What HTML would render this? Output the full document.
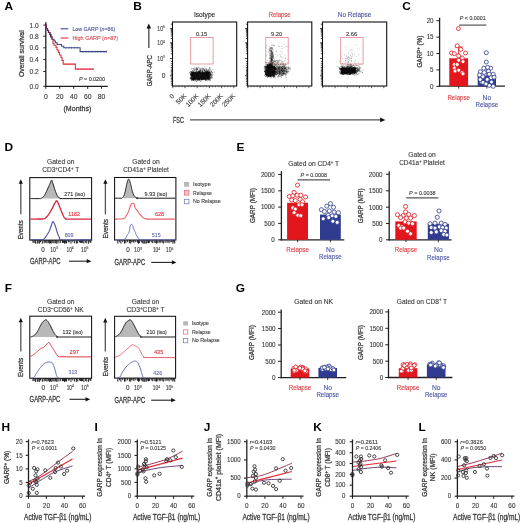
<!DOCTYPE html>
<html><head><meta charset="utf-8"><style>
html,body{margin:0;padding:0;background:#fff;}
svg{display:block;filter:blur(0.35px);}
text{font-family:"Liberation Sans", sans-serif;}
</style></head><body>
<svg width="520" height="523" viewBox="0 0 520 523" font-family='&quot;Liberation Sans&quot;, sans-serif' fill="#231f20">
<defs><filter id="bl" x="-20%" y="-20%" width="140%" height="140%"><feGaussianBlur stdDeviation="0.6"/></filter></defs>
<rect width="520" height="523" fill="#fff"/>
<text x="4.6" y="9.7" font-size="11" fill="#000" font-weight="bold" textLength="8.58" lengthAdjust="spacingAndGlyphs">A</text>
<line x1="45.8" y1="22.3" x2="45.8" y2="86.9" stroke="#231f20" stroke-width="1.3"/>
<line x1="45.2" y1="86.3" x2="107.8" y2="86.3" stroke="#231f20" stroke-width="1.3"/>
<line x1="43.3" y1="25.1" x2="45.8" y2="25.1" stroke="#231f20" stroke-width="1"/>
<text x="38.7" y="27.51" font-size="6.8" text-anchor="end" fill="#3a3a3a" stroke="#3a3a3a" stroke-width="0.12" textLength="9.1" lengthAdjust="spacingAndGlyphs">1.0</text>
<line x1="43.3" y1="36.2" x2="45.8" y2="36.2" stroke="#231f20" stroke-width="1"/>
<text x="38.7" y="38.61" font-size="6.8" text-anchor="end" fill="#3a3a3a" stroke="#3a3a3a" stroke-width="0.12" textLength="9.1" lengthAdjust="spacingAndGlyphs">0.8</text>
<line x1="43.3" y1="47.8" x2="45.8" y2="47.8" stroke="#231f20" stroke-width="1"/>
<text x="38.7" y="50.21" font-size="6.8" text-anchor="end" fill="#3a3a3a" stroke="#3a3a3a" stroke-width="0.12" textLength="9.1" lengthAdjust="spacingAndGlyphs">0.6</text>
<line x1="43.3" y1="59.5" x2="45.8" y2="59.5" stroke="#231f20" stroke-width="1"/>
<text x="38.7" y="61.91" font-size="6.8" text-anchor="end" fill="#3a3a3a" stroke="#3a3a3a" stroke-width="0.12" textLength="9.1" lengthAdjust="spacingAndGlyphs">0.4</text>
<line x1="43.3" y1="71.5" x2="45.8" y2="71.5" stroke="#231f20" stroke-width="1"/>
<text x="38.7" y="73.91" font-size="6.8" text-anchor="end" fill="#3a3a3a" stroke="#3a3a3a" stroke-width="0.12" textLength="9.1" lengthAdjust="spacingAndGlyphs">0.2</text>
<line x1="43.3" y1="86.3" x2="45.8" y2="86.3" stroke="#231f20" stroke-width="1"/>
<text x="38.7" y="88.71" font-size="6.8" text-anchor="end" fill="#3a3a3a" stroke="#3a3a3a" stroke-width="0.12" textLength="9.1" lengthAdjust="spacingAndGlyphs">0.0</text>
<line x1="45.8" y1="86.3" x2="45.8" y2="88.8" stroke="#231f20" stroke-width="1"/>
<text x="45.8" y="98.81" font-size="6.8" text-anchor="middle" fill="#3a3a3a" stroke="#3a3a3a" stroke-width="0.12">0</text>
<line x1="59.7" y1="86.3" x2="59.7" y2="88.8" stroke="#231f20" stroke-width="1"/>
<text x="59.7" y="98.81" font-size="6.8" text-anchor="middle" fill="#3a3a3a" stroke="#3a3a3a" stroke-width="0.12">20</text>
<line x1="73.7" y1="86.3" x2="73.7" y2="88.8" stroke="#231f20" stroke-width="1"/>
<text x="73.7" y="98.81" font-size="6.8" text-anchor="middle" fill="#3a3a3a" stroke="#3a3a3a" stroke-width="0.12">40</text>
<line x1="87.7" y1="86.3" x2="87.7" y2="88.8" stroke="#231f20" stroke-width="1"/>
<text x="87.7" y="98.81" font-size="6.8" text-anchor="middle" fill="#3a3a3a" stroke="#3a3a3a" stroke-width="0.12">60</text>
<line x1="101.6" y1="86.3" x2="101.6" y2="88.8" stroke="#231f20" stroke-width="1"/>
<text x="101.6" y="98.81" font-size="6.8" text-anchor="middle" fill="#3a3a3a" stroke="#3a3a3a" stroke-width="0.12">80</text>
<text x="21.1" y="56.5" font-size="7.9" text-anchor="middle" fill="#3a3a3a" stroke="#3a3a3a" stroke-width="0.28" textLength="46.8" lengthAdjust="spacingAndGlyphs" transform="rotate(-90 21.1 53.7)">Overall survival</text>
<text x="77.4" y="111.1" font-size="7.9" text-anchor="middle" fill="#3a3a3a" stroke="#3a3a3a" stroke-width="0.28" textLength="27.8" lengthAdjust="spacingAndGlyphs">(Months)</text>
<path d="M45.8 25.1 L46.3 25.1 L46.3 28.5 L47.5 28.5 L47.5 30.5 L48.5 30.5 L48.5 32.5 L49.8 32.5 L49.8 34.5 L50.8 34.5 L50.8 36.8 L52 36.8 L52 39.5 L53 39.5 L53 43.5 L54 43.5 L54 45.3 L56 45.3 L56 47.5 L57 47.5 L57 50 L58.3 50 L58.3 52.5 L59.5 52.5 L59.5 55 L61 55 L61 57.5 L62 57.5 L62 60.5 L63.2 60.5 L63.2 64.1 L75.4 64.1 L75.4 69.1 L93.8 69.1" fill="none" stroke="#e2303f" stroke-width="1.1"/>
<path d="M45.8 25.1 L46.3 25.1 L46.3 28.5 L47.5 28.5 L47.5 30.5 L48.5 30.5 L48.5 32.5 L49.8 32.5 L49.8 34.5 L50.8 34.5 L50.8 36.8 L52 36.8 L52 39.2 L54 39.2 L54 41 L55.5 41 L55.5 42.8 L57.2 42.8 L57.2 44.5 L61.5 44.5 L61.5 46.2 L63.8 46.2 L63.8 47.8 L80.1 47.8 L80.1 51.6 L106.9 51.6" fill="none" stroke="#3e4a8a" stroke-width="1.1"/>
<path d="M45.8 25.1 L46.3 25.1 L46.3 28.5 L47.5 28.5 L47.5 30.5 L48.5 30.5 L48.5 32.5 L49.8 32.5 L49.8 34.5 L50.8 34.5 L50.8 36.8 L52 36.8" fill="none" stroke="#6e2548" stroke-width="1.2"/>
<line x1="66" y1="46.8" x2="66" y2="48.8" stroke="#3e4a8a" stroke-width="0.6"/>
<line x1="69" y1="46.8" x2="69" y2="48.8" stroke="#3e4a8a" stroke-width="0.6"/>
<line x1="71.5" y1="46.8" x2="71.5" y2="48.8" stroke="#3e4a8a" stroke-width="0.6"/>
<line x1="74" y1="46.8" x2="74" y2="48.8" stroke="#3e4a8a" stroke-width="0.6"/>
<line x1="77" y1="46.8" x2="77" y2="48.8" stroke="#3e4a8a" stroke-width="0.6"/>
<line x1="83" y1="50.6" x2="83" y2="52.6" stroke="#3e4a8a" stroke-width="0.6"/>
<line x1="86" y1="50.6" x2="86" y2="52.6" stroke="#3e4a8a" stroke-width="0.6"/>
<line x1="89" y1="50.6" x2="89" y2="52.6" stroke="#3e4a8a" stroke-width="0.6"/>
<line x1="92" y1="50.6" x2="92" y2="52.6" stroke="#3e4a8a" stroke-width="0.6"/>
<line x1="95" y1="50.6" x2="95" y2="52.6" stroke="#3e4a8a" stroke-width="0.6"/>
<line x1="98" y1="50.6" x2="98" y2="52.6" stroke="#3e4a8a" stroke-width="0.6"/>
<line x1="101" y1="50.6" x2="101" y2="52.6" stroke="#3e4a8a" stroke-width="0.6"/>
<line x1="104" y1="50.6" x2="104" y2="52.6" stroke="#3e4a8a" stroke-width="0.6"/>
<line x1="106.5" y1="50.6" x2="106.5" y2="52.6" stroke="#3e4a8a" stroke-width="0.6"/>
<line x1="66" y1="63.1" x2="66" y2="65.1" stroke="#e2303f" stroke-width="0.6"/>
<line x1="69" y1="63.1" x2="69" y2="65.1" stroke="#e2303f" stroke-width="0.6"/>
<line x1="72" y1="63.1" x2="72" y2="65.1" stroke="#e2303f" stroke-width="0.6"/>
<line x1="78" y1="68.1" x2="78" y2="70.1" stroke="#e2303f" stroke-width="0.6"/>
<line x1="81" y1="68.1" x2="81" y2="70.1" stroke="#e2303f" stroke-width="0.6"/>
<line x1="84" y1="68.1" x2="84" y2="70.1" stroke="#e2303f" stroke-width="0.6"/>
<line x1="87" y1="68.1" x2="87" y2="70.1" stroke="#e2303f" stroke-width="0.6"/>
<line x1="90" y1="68.1" x2="90" y2="70.1" stroke="#e2303f" stroke-width="0.6"/>
<line x1="93" y1="68.1" x2="93" y2="70.1" stroke="#e2303f" stroke-width="0.6"/>
<line x1="60.6" y1="28.8" x2="68.3" y2="28.8" stroke="#3e4a8a" stroke-width="1.1"/>
<line x1="60.6" y1="38" x2="68.3" y2="38" stroke="#e2303f" stroke-width="1.1"/>
<text x="72.4" y="31.19" font-size="5.9" fill="#4a5596" stroke="#4a5596" stroke-width="0.12" textLength="42.8" lengthAdjust="spacingAndGlyphs">Low GARP (<tspan font-style="italic">n</tspan>=86)</text>
<text x="72.4" y="40.39" font-size="5.9" fill="#e0454f" stroke="#e0454f" stroke-width="0.12" textLength="45.7" lengthAdjust="spacingAndGlyphs">High GARP (<tspan font-style="italic">n</tspan>=87)</text>
<text x="78.9" y="80.92" font-size="5.4" fill="#3a3a3a" stroke="#3a3a3a" stroke-width="0.12" textLength="26.2" lengthAdjust="spacingAndGlyphs"><tspan font-style="italic">P</tspan> = 0.0200</text>
<text x="133.3" y="9.7" font-size="11" fill="#000" font-weight="bold" textLength="8.58" lengthAdjust="spacingAndGlyphs">B</text>
<rect x="172.5" y="22" width="64.2" height="64" fill="none" stroke="#111" stroke-width="1.1"/>
<text x="204.6" y="16.89" font-size="7" text-anchor="middle" stroke="#231f20" stroke-width="0.12" textLength="21.3" lengthAdjust="spacingAndGlyphs">Isotype</text>
<rect x="190.7" y="37.5" width="22.4" height="26.5" fill="none" stroke="#e8848c" stroke-width="0.8"/>
<text x="201.5" y="35.58" font-size="5.3" text-anchor="middle" fill="#3a3a3a" stroke="#3a3a3a" stroke-width="0.12" textLength="11.2" lengthAdjust="spacingAndGlyphs">0.15</text>
<path d="M169.9 28.5h2.6M169.9 42.8h2.6M169.9 58.5h2.6M169.9 75.7h2.6M170.8 38.5h1.7M170.8 35.98h1.7M170.8 34.19h1.7M170.8 32.8h1.7M170.8 31.67h1.7M170.8 30.72h1.7M170.8 29.89h1.7M170.8 29.15h1.7M170.8 53.77h1.7M170.8 51.01h1.7M170.8 49.05h1.7M170.8 47.53h1.7M170.8 46.28h1.7M170.8 45.23h1.7M170.8 44.32h1.7M170.8 43.52h1.7M170.8 24.2h1.7M170.8 61.5h1.7M170.8 63.8h1.7M170.8 65.8h1.7M170.8 67.5h1.7M170.8 69h1.7M170.8 70.4h1.7M170.8 71.7h1.7M170.8 73h1.7M170.8 74.3h1.7M170.8 77h1.7M170.8 78.4h1.7M170.8 79.8h1.7M170.8 81.4h1.7M170.8 83.2h1.7M170.8 85h1.7" stroke="#111" stroke-width="0.75"/>
<line x1="172.8" y1="86" x2="172.8" y2="88.2" stroke="#231f20" stroke-width="0.8"/>
<line x1="175.85" y1="86" x2="175.85" y2="87.3" stroke="#231f20" stroke-width="0.5"/>
<line x1="178.9" y1="86" x2="178.9" y2="87.3" stroke="#231f20" stroke-width="0.5"/>
<line x1="181.95" y1="86" x2="181.95" y2="87.3" stroke="#231f20" stroke-width="0.5"/>
<line x1="185" y1="86" x2="185" y2="88.2" stroke="#231f20" stroke-width="0.8"/>
<line x1="188.05" y1="86" x2="188.05" y2="87.3" stroke="#231f20" stroke-width="0.5"/>
<line x1="191.1" y1="86" x2="191.1" y2="87.3" stroke="#231f20" stroke-width="0.5"/>
<line x1="194.15" y1="86" x2="194.15" y2="87.3" stroke="#231f20" stroke-width="0.5"/>
<line x1="197.2" y1="86" x2="197.2" y2="88.2" stroke="#231f20" stroke-width="0.8"/>
<line x1="200.25" y1="86" x2="200.25" y2="87.3" stroke="#231f20" stroke-width="0.5"/>
<line x1="203.3" y1="86" x2="203.3" y2="87.3" stroke="#231f20" stroke-width="0.5"/>
<line x1="206.35" y1="86" x2="206.35" y2="87.3" stroke="#231f20" stroke-width="0.5"/>
<line x1="209.4" y1="86" x2="209.4" y2="88.2" stroke="#231f20" stroke-width="0.8"/>
<line x1="212.45" y1="86" x2="212.45" y2="87.3" stroke="#231f20" stroke-width="0.5"/>
<line x1="215.5" y1="86" x2="215.5" y2="87.3" stroke="#231f20" stroke-width="0.5"/>
<line x1="218.55" y1="86" x2="218.55" y2="87.3" stroke="#231f20" stroke-width="0.5"/>
<line x1="221.6" y1="86" x2="221.6" y2="88.2" stroke="#231f20" stroke-width="0.8"/>
<line x1="224.65" y1="86" x2="224.65" y2="87.3" stroke="#231f20" stroke-width="0.5"/>
<line x1="227.7" y1="86" x2="227.7" y2="87.3" stroke="#231f20" stroke-width="0.5"/>
<line x1="230.75" y1="86" x2="230.75" y2="87.3" stroke="#231f20" stroke-width="0.5"/>
<line x1="233.8" y1="86" x2="233.8" y2="88.2" stroke="#231f20" stroke-width="0.8"/>
<rect x="247.6" y="22" width="64.2" height="64" fill="none" stroke="#111" stroke-width="1.1"/>
<text x="279.7" y="16.89" font-size="7" text-anchor="middle" fill="#e03a3e" stroke="#e03a3e" stroke-width="0.12" textLength="22" lengthAdjust="spacingAndGlyphs">Relapse</text>
<rect x="265.8" y="37.5" width="22.4" height="26.5" fill="none" stroke="#e8848c" stroke-width="0.8"/>
<text x="276.6" y="35.58" font-size="5.3" text-anchor="middle" fill="#3a3a3a" stroke="#3a3a3a" stroke-width="0.12" textLength="11.2" lengthAdjust="spacingAndGlyphs">9.20</text>
<path d="M245 28.5h2.6M245 42.8h2.6M245 58.5h2.6M245 75.7h2.6M245.9 38.5h1.7M245.9 35.98h1.7M245.9 34.19h1.7M245.9 32.8h1.7M245.9 31.67h1.7M245.9 30.72h1.7M245.9 29.89h1.7M245.9 29.15h1.7M245.9 53.77h1.7M245.9 51.01h1.7M245.9 49.05h1.7M245.9 47.53h1.7M245.9 46.28h1.7M245.9 45.23h1.7M245.9 44.32h1.7M245.9 43.52h1.7M245.9 24.2h1.7M245.9 61.5h1.7M245.9 63.8h1.7M245.9 65.8h1.7M245.9 67.5h1.7M245.9 69h1.7M245.9 70.4h1.7M245.9 71.7h1.7M245.9 73h1.7M245.9 74.3h1.7M245.9 77h1.7M245.9 78.4h1.7M245.9 79.8h1.7M245.9 81.4h1.7M245.9 83.2h1.7M245.9 85h1.7" stroke="#111" stroke-width="0.75"/>
<line x1="247.9" y1="86" x2="247.9" y2="88.2" stroke="#231f20" stroke-width="0.8"/>
<line x1="250.95" y1="86" x2="250.95" y2="87.3" stroke="#231f20" stroke-width="0.5"/>
<line x1="254" y1="86" x2="254" y2="87.3" stroke="#231f20" stroke-width="0.5"/>
<line x1="257.05" y1="86" x2="257.05" y2="87.3" stroke="#231f20" stroke-width="0.5"/>
<line x1="260.1" y1="86" x2="260.1" y2="88.2" stroke="#231f20" stroke-width="0.8"/>
<line x1="263.15" y1="86" x2="263.15" y2="87.3" stroke="#231f20" stroke-width="0.5"/>
<line x1="266.2" y1="86" x2="266.2" y2="87.3" stroke="#231f20" stroke-width="0.5"/>
<line x1="269.25" y1="86" x2="269.25" y2="87.3" stroke="#231f20" stroke-width="0.5"/>
<line x1="272.3" y1="86" x2="272.3" y2="88.2" stroke="#231f20" stroke-width="0.8"/>
<line x1="275.35" y1="86" x2="275.35" y2="87.3" stroke="#231f20" stroke-width="0.5"/>
<line x1="278.4" y1="86" x2="278.4" y2="87.3" stroke="#231f20" stroke-width="0.5"/>
<line x1="281.45" y1="86" x2="281.45" y2="87.3" stroke="#231f20" stroke-width="0.5"/>
<line x1="284.5" y1="86" x2="284.5" y2="88.2" stroke="#231f20" stroke-width="0.8"/>
<line x1="287.55" y1="86" x2="287.55" y2="87.3" stroke="#231f20" stroke-width="0.5"/>
<line x1="290.6" y1="86" x2="290.6" y2="87.3" stroke="#231f20" stroke-width="0.5"/>
<line x1="293.65" y1="86" x2="293.65" y2="87.3" stroke="#231f20" stroke-width="0.5"/>
<line x1="296.7" y1="86" x2="296.7" y2="88.2" stroke="#231f20" stroke-width="0.8"/>
<line x1="299.75" y1="86" x2="299.75" y2="87.3" stroke="#231f20" stroke-width="0.5"/>
<line x1="302.8" y1="86" x2="302.8" y2="87.3" stroke="#231f20" stroke-width="0.5"/>
<line x1="305.85" y1="86" x2="305.85" y2="87.3" stroke="#231f20" stroke-width="0.5"/>
<line x1="308.9" y1="86" x2="308.9" y2="88.2" stroke="#231f20" stroke-width="0.8"/>
<rect x="322.5" y="22" width="64.2" height="64" fill="none" stroke="#111" stroke-width="1.1"/>
<text x="354.6" y="16.89" font-size="7" text-anchor="middle" fill="#4a55a2" stroke="#4a55a2" stroke-width="0.12" textLength="33.5" lengthAdjust="spacingAndGlyphs">No Relapse</text>
<rect x="340.7" y="37.5" width="22.4" height="26.5" fill="none" stroke="#e8848c" stroke-width="0.8"/>
<text x="351.5" y="35.58" font-size="5.3" text-anchor="middle" fill="#3a3a3a" stroke="#3a3a3a" stroke-width="0.12" textLength="11.2" lengthAdjust="spacingAndGlyphs">2.66</text>
<path d="M319.9 28.5h2.6M319.9 42.8h2.6M319.9 58.5h2.6M319.9 75.7h2.6M320.8 38.5h1.7M320.8 35.98h1.7M320.8 34.19h1.7M320.8 32.8h1.7M320.8 31.67h1.7M320.8 30.72h1.7M320.8 29.89h1.7M320.8 29.15h1.7M320.8 53.77h1.7M320.8 51.01h1.7M320.8 49.05h1.7M320.8 47.53h1.7M320.8 46.28h1.7M320.8 45.23h1.7M320.8 44.32h1.7M320.8 43.52h1.7M320.8 24.2h1.7M320.8 61.5h1.7M320.8 63.8h1.7M320.8 65.8h1.7M320.8 67.5h1.7M320.8 69h1.7M320.8 70.4h1.7M320.8 71.7h1.7M320.8 73h1.7M320.8 74.3h1.7M320.8 77h1.7M320.8 78.4h1.7M320.8 79.8h1.7M320.8 81.4h1.7M320.8 83.2h1.7M320.8 85h1.7" stroke="#111" stroke-width="0.75"/>
<line x1="322.8" y1="86" x2="322.8" y2="88.2" stroke="#231f20" stroke-width="0.8"/>
<line x1="325.85" y1="86" x2="325.85" y2="87.3" stroke="#231f20" stroke-width="0.5"/>
<line x1="328.9" y1="86" x2="328.9" y2="87.3" stroke="#231f20" stroke-width="0.5"/>
<line x1="331.95" y1="86" x2="331.95" y2="87.3" stroke="#231f20" stroke-width="0.5"/>
<line x1="335" y1="86" x2="335" y2="88.2" stroke="#231f20" stroke-width="0.8"/>
<line x1="338.05" y1="86" x2="338.05" y2="87.3" stroke="#231f20" stroke-width="0.5"/>
<line x1="341.1" y1="86" x2="341.1" y2="87.3" stroke="#231f20" stroke-width="0.5"/>
<line x1="344.15" y1="86" x2="344.15" y2="87.3" stroke="#231f20" stroke-width="0.5"/>
<line x1="347.2" y1="86" x2="347.2" y2="88.2" stroke="#231f20" stroke-width="0.8"/>
<line x1="350.25" y1="86" x2="350.25" y2="87.3" stroke="#231f20" stroke-width="0.5"/>
<line x1="353.3" y1="86" x2="353.3" y2="87.3" stroke="#231f20" stroke-width="0.5"/>
<line x1="356.35" y1="86" x2="356.35" y2="87.3" stroke="#231f20" stroke-width="0.5"/>
<line x1="359.4" y1="86" x2="359.4" y2="88.2" stroke="#231f20" stroke-width="0.8"/>
<line x1="362.45" y1="86" x2="362.45" y2="87.3" stroke="#231f20" stroke-width="0.5"/>
<line x1="365.5" y1="86" x2="365.5" y2="87.3" stroke="#231f20" stroke-width="0.5"/>
<line x1="368.55" y1="86" x2="368.55" y2="87.3" stroke="#231f20" stroke-width="0.5"/>
<line x1="371.6" y1="86" x2="371.6" y2="88.2" stroke="#231f20" stroke-width="0.8"/>
<line x1="374.65" y1="86" x2="374.65" y2="87.3" stroke="#231f20" stroke-width="0.5"/>
<line x1="377.7" y1="86" x2="377.7" y2="87.3" stroke="#231f20" stroke-width="0.5"/>
<line x1="380.75" y1="86" x2="380.75" y2="87.3" stroke="#231f20" stroke-width="0.5"/>
<line x1="383.8" y1="86" x2="383.8" y2="88.2" stroke="#231f20" stroke-width="0.8"/>
<text x="164.9" y="30.85" font-size="6.9" text-anchor="end" fill="#3a3a3a" stroke="#3a3a3a" stroke-width="0.12" textLength="7.6" lengthAdjust="spacingAndGlyphs">10<tspan dy="-2.4" font-size="4.4">5</tspan></text>
<text x="164.9" y="45.25" font-size="6.9" text-anchor="end" fill="#3a3a3a" stroke="#3a3a3a" stroke-width="0.12" textLength="7.6" lengthAdjust="spacingAndGlyphs">10<tspan dy="-2.4" font-size="4.4">4</tspan></text>
<text x="164.9" y="60.75" font-size="6.9" text-anchor="end" fill="#3a3a3a" stroke="#3a3a3a" stroke-width="0.12" textLength="7.6" lengthAdjust="spacingAndGlyphs">10<tspan dy="-2.4" font-size="4.4">3</tspan></text>
<text x="165.3" y="77.94" font-size="6.6" text-anchor="end" fill="#3a3a3a" stroke="#3a3a3a" stroke-width="0.12">0</text>
<text x="173" y="97.14" font-size="6.6" text-anchor="end" fill="#3a3a3a" stroke="#3a3a3a" stroke-width="0.12" transform="rotate(-45 173 94.8)">0</text>
<text x="185.2" y="97.14" font-size="6.6" text-anchor="end" fill="#3a3a3a" stroke="#3a3a3a" stroke-width="0.12" transform="rotate(-45 185.2 94.8)">50K</text>
<text x="197.4" y="97.14" font-size="6.6" text-anchor="end" fill="#3a3a3a" stroke="#3a3a3a" stroke-width="0.12" transform="rotate(-45 197.4 94.8)">100K</text>
<text x="209.6" y="97.14" font-size="6.6" text-anchor="end" fill="#3a3a3a" stroke="#3a3a3a" stroke-width="0.12" transform="rotate(-45 209.6 94.8)">150K</text>
<text x="221.8" y="97.14" font-size="6.6" text-anchor="end" fill="#3a3a3a" stroke="#3a3a3a" stroke-width="0.12" transform="rotate(-45 221.8 94.8)">200K</text>
<text x="234" y="97.14" font-size="6.6" text-anchor="end" fill="#3a3a3a" stroke="#3a3a3a" stroke-width="0.12" transform="rotate(-45 234 94.8)">250K</text>
<text x="148.9" y="73.36" font-size="7.5" text-anchor="middle" fill="#3a3a3a" stroke="#3a3a3a" stroke-width="0.28" textLength="31.2" lengthAdjust="spacingAndGlyphs" transform="rotate(-90 148.9 70.7)">GARP-APC</text>
<line x1="148.8" y1="48.1" x2="148.8" y2="26.7" stroke="#555" stroke-width="1.4"/>
<path d="M148.8 23.5L146.5 28.62L151.1 28.62z" fill="#111"/>
<text x="172.9" y="123.02" font-size="8.8" fill="#3a3a3a" stroke="#3a3a3a" stroke-width="0.28" textLength="11" lengthAdjust="spacingAndGlyphs">FSC</text>
<line x1="190" y1="119.9" x2="382.1" y2="119.9" stroke="#555" stroke-width="1.4"/>
<path d="M385.4 119.9L380.12 117.52L380.12 122.28z" fill="#111"/>
<path d="M197.59 73.26h0.9v0.9h-0.9zM203.41 74.32h0.9v0.9h-0.9zM201.15 73.39h0.9v0.9h-0.9zM203.53 74.83h0.9v0.9h-0.9zM199.78 79.02h0.9v0.9h-0.9zM194.26 77.52h0.9v0.9h-0.9zM199.15 71.55h0.9v0.9h-0.9zM199.28 71.38h0.9v0.9h-0.9zM197.14 72.89h0.9v0.9h-0.9zM199.01 72.57h0.9v0.9h-0.9zM206.31 73.85h0.9v0.9h-0.9zM194.24 71.93h0.9v0.9h-0.9zM194.9 79.36h0.9v0.9h-0.9zM197.74 72.62h0.9v0.9h-0.9zM196.85 71.77h0.9v0.9h-0.9zM195.25 78.56h0.9v0.9h-0.9zM191.24 74.74h0.9v0.9h-0.9zM201.24 73.23h0.9v0.9h-0.9zM202.69 72.25h0.9v0.9h-0.9zM207.51 78.54h0.9v0.9h-0.9zM200.81 74.24h0.9v0.9h-0.9zM200.01 72.88h0.9v0.9h-0.9zM192.71 77.78h0.9v0.9h-0.9zM196.1 75.16h0.9v0.9h-0.9zM204.78 78.2h0.9v0.9h-0.9zM192.23 72.36h0.9v0.9h-0.9zM207.86 78.58h0.9v0.9h-0.9zM192.51 73.57h0.9v0.9h-0.9zM192.76 74.87h0.9v0.9h-0.9zM195.61 74.48h0.9v0.9h-0.9zM204.21 74.14h0.9v0.9h-0.9zM203.02 73.84h0.9v0.9h-0.9zM200.8 74.38h0.9v0.9h-0.9zM191.35 72.46h0.9v0.9h-0.9zM193.1 78.43h0.9v0.9h-0.9zM196.84 72.43h0.9v0.9h-0.9zM204.19 74.77h0.9v0.9h-0.9zM196.19 71.49h0.9v0.9h-0.9zM199.48 72.86h0.9v0.9h-0.9zM191.71 74.77h0.9v0.9h-0.9zM191.1 73.56h0.9v0.9h-0.9zM207.72 76.17h0.9v0.9h-0.9zM194.01 76.41h0.9v0.9h-0.9zM208.07 71.3h0.9v0.9h-0.9zM205.27 72.33h0.9v0.9h-0.9zM203.46 74.49h0.9v0.9h-0.9zM195.71 71.51h0.9v0.9h-0.9zM198.15 73.58h0.9v0.9h-0.9zM193.5 74.34h0.9v0.9h-0.9zM206.06 70.55h0.9v0.9h-0.9zM205.99 73.08h0.9v0.9h-0.9zM207.61 72.36h0.9v0.9h-0.9zM205.82 75.48h0.9v0.9h-0.9zM203.98 70.52h0.9v0.9h-0.9zM205.93 77.6h0.9v0.9h-0.9zM190.57 74.2h0.9v0.9h-0.9zM198.22 79.33h0.9v0.9h-0.9zM199.02 77.42h0.9v0.9h-0.9zM200.77 75.16h0.9v0.9h-0.9zM206.69 74.59h0.9v0.9h-0.9zM190.34 71.56h0.9v0.9h-0.9zM190.66 72.86h0.9v0.9h-0.9zM203.73 78.04h0.9v0.9h-0.9zM201.78 72.51h0.9v0.9h-0.9zM194.66 75.04h0.9v0.9h-0.9zM205.6 77.8h0.9v0.9h-0.9zM205.97 74.07h0.9v0.9h-0.9zM193.56 73.11h0.9v0.9h-0.9zM195.62 76.68h0.9v0.9h-0.9zM195.69 75.49h0.9v0.9h-0.9zM205.99 74.57h0.9v0.9h-0.9zM195.97 77.37h0.9v0.9h-0.9zM207.54 73.56h0.9v0.9h-0.9zM200.19 76.93h0.9v0.9h-0.9zM197.34 72.25h0.9v0.9h-0.9zM207.86 73.15h0.9v0.9h-0.9zM196.58 73.72h0.9v0.9h-0.9zM196.93 72.41h0.9v0.9h-0.9zM193.49 77.81h0.9v0.9h-0.9zM201.74 75.28h0.9v0.9h-0.9zM200.61 75.12h0.9v0.9h-0.9zM206.98 74.49h0.9v0.9h-0.9zM193.24 74.48h0.9v0.9h-0.9zM202.21 75.13h0.9v0.9h-0.9zM204.39 75.2h0.9v0.9h-0.9zM201.05 79.14h0.9v0.9h-0.9zM191.82 76.51h0.9v0.9h-0.9zM198.07 74.9h0.9v0.9h-0.9zM198.17 77.8h0.9v0.9h-0.9zM202.07 75.43h0.9v0.9h-0.9zM197.85 73.52h0.9v0.9h-0.9zM202.81 73.2h0.9v0.9h-0.9zM205.5 76.34h0.9v0.9h-0.9zM198.72 78.02h0.9v0.9h-0.9zM190.46 77.74h0.9v0.9h-0.9zM200.54 74.39h0.9v0.9h-0.9zM196.65 76.64h0.9v0.9h-0.9zM203.32 74.5h0.9v0.9h-0.9zM206.07 73.86h0.9v0.9h-0.9zM192.91 76.93h0.9v0.9h-0.9zM193.82 76.73h0.9v0.9h-0.9zM204.74 71.39h0.9v0.9h-0.9zM196.53 77.52h0.9v0.9h-0.9zM198.43 75.57h0.9v0.9h-0.9zM199.38 76.23h0.9v0.9h-0.9zM206.4 73h0.9v0.9h-0.9zM201.48 72.48h0.9v0.9h-0.9zM199.09 72.91h0.9v0.9h-0.9zM205.85 75.18h0.9v0.9h-0.9zM206.41 71.93h0.9v0.9h-0.9zM193.83 75.71h0.9v0.9h-0.9zM208.67 71.28h0.9v0.9h-0.9zM192.59 73.25h0.9v0.9h-0.9zM206.98 74.74h0.9v0.9h-0.9zM203.37 77.92h0.9v0.9h-0.9zM193.08 72.59h0.9v0.9h-0.9zM203.4 74.05h0.9v0.9h-0.9zM194.42 71.97h0.9v0.9h-0.9zM202.98 72.9h0.9v0.9h-0.9zM198.06 76.74h0.9v0.9h-0.9zM193.66 73.94h0.9v0.9h-0.9zM203.64 76.26h0.9v0.9h-0.9zM199.09 78.81h0.9v0.9h-0.9zM204.63 74.72h0.9v0.9h-0.9zM201.66 73.04h0.9v0.9h-0.9zM202.41 74.97h0.9v0.9h-0.9zM207.5 75.1h0.9v0.9h-0.9zM200.91 76.48h0.9v0.9h-0.9zM206.6 76.36h0.9v0.9h-0.9zM193.32 79.12h0.9v0.9h-0.9zM204.61 71h0.9v0.9h-0.9zM197.75 74.24h0.9v0.9h-0.9zM203.19 75.08h0.9v0.9h-0.9zM201.78 75.51h0.9v0.9h-0.9zM203.03 73.89h0.9v0.9h-0.9zM206.49 77.55h0.9v0.9h-0.9zM203.35 77.69h0.9v0.9h-0.9zM201.74 74.74h0.9v0.9h-0.9zM204.24 75.49h0.9v0.9h-0.9zM198.42 71.7h0.9v0.9h-0.9zM204.07 78.78h0.9v0.9h-0.9zM198.68 77.91h0.9v0.9h-0.9zM206.71 78.44h0.9v0.9h-0.9zM203.59 77.74h0.9v0.9h-0.9zM200.88 73.16h0.9v0.9h-0.9zM193.12 74.07h0.9v0.9h-0.9zM203.6 75.88h0.9v0.9h-0.9zM191.23 74.15h0.9v0.9h-0.9zM206.16 73.4h0.9v0.9h-0.9zM206.19 77.63h0.9v0.9h-0.9zM203.89 75.15h0.9v0.9h-0.9zM195.34 75.97h0.9v0.9h-0.9zM200.29 78.11h0.9v0.9h-0.9zM197.7 72.15h0.9v0.9h-0.9zM206.77 77.65h0.9v0.9h-0.9zM194.4 75.67h0.9v0.9h-0.9zM205.22 76.93h0.9v0.9h-0.9zM199.44 73.01h0.9v0.9h-0.9zM207.66 75.57h0.9v0.9h-0.9zM206.86 76.63h0.9v0.9h-0.9zM192.07 75.33h0.9v0.9h-0.9zM200.54 76.72h0.9v0.9h-0.9zM206.69 78.61h0.9v0.9h-0.9zM190.76 73.65h0.9v0.9h-0.9zM203.46 74.12h0.9v0.9h-0.9zM192.85 76.49h0.9v0.9h-0.9zM204.2 70.08h0.9v0.9h-0.9zM204.78 77.21h0.9v0.9h-0.9zM190.39 71.6h0.9v0.9h-0.9zM209.99 77.57h0.9v0.9h-0.9zM203.04 74.26h0.9v0.9h-0.9zM191.81 74.37h0.9v0.9h-0.9zM192.95 79.86h0.9v0.9h-0.9zM203.86 74.03h0.9v0.9h-0.9zM192.6 76.03h0.9v0.9h-0.9zM195.81 73.69h0.9v0.9h-0.9zM206.2 75.63h0.9v0.9h-0.9zM205.89 73.68h0.9v0.9h-0.9zM191.71 75.62h0.9v0.9h-0.9zM207.4 74.29h0.9v0.9h-0.9zM200.27 75.38h0.9v0.9h-0.9zM195.01 72.5h0.9v0.9h-0.9zM195.41 76.91h0.9v0.9h-0.9zM193.42 73.51h0.9v0.9h-0.9zM198.89 79.03h0.9v0.9h-0.9zM195.35 74.36h0.9v0.9h-0.9zM198.9 76.58h0.9v0.9h-0.9zM200.39 74.08h0.9v0.9h-0.9zM202.91 76.78h0.9v0.9h-0.9zM202.96 76.82h0.9v0.9h-0.9zM196.27 77.03h0.9v0.9h-0.9zM198.68 71.4h0.9v0.9h-0.9zM200.06 71.59h0.9v0.9h-0.9zM203.8 74.24h0.9v0.9h-0.9zM203.57 77.25h0.9v0.9h-0.9zM203.81 76.05h0.9v0.9h-0.9zM200.82 76.07h0.9v0.9h-0.9zM204.28 76.6h0.9v0.9h-0.9zM191.83 73.64h0.9v0.9h-0.9zM195.69 74.81h0.9v0.9h-0.9zM200.85 78.1h0.9v0.9h-0.9zM207.62 73.57h0.9v0.9h-0.9zM194.12 79.44h0.9v0.9h-0.9zM200.99 73.84h0.9v0.9h-0.9zM191.27 75.18h0.9v0.9h-0.9zM208.6 78.53h0.9v0.9h-0.9zM198.43 71.76h0.9v0.9h-0.9zM201.49 75.55h0.9v0.9h-0.9zM206.21 72.53h0.9v0.9h-0.9zM195.13 78.5h0.9v0.9h-0.9zM190.7 74.5h0.9v0.9h-0.9zM201.54 72.89h0.9v0.9h-0.9zM197.58 73.79h0.9v0.9h-0.9zM206.31 76.62h0.9v0.9h-0.9zM200.08 78.04h0.9v0.9h-0.9zM199.33 79.27h0.9v0.9h-0.9zM195.7 76.65h0.9v0.9h-0.9zM202.05 74.08h0.9v0.9h-0.9zM195.99 77.54h0.9v0.9h-0.9zM199.43 73.77h0.9v0.9h-0.9zM196.84 73.55h0.9v0.9h-0.9zM206.84 70.73h0.9v0.9h-0.9zM204.44 75.8h0.9v0.9h-0.9zM205 75.87h0.9v0.9h-0.9zM208.24 75.62h0.9v0.9h-0.9zM197.54 76.28h0.9v0.9h-0.9zM205.11 78.26h0.9v0.9h-0.9zM201.86 73.35h0.9v0.9h-0.9zM193.23 75.03h0.9v0.9h-0.9zM202.65 78.27h0.9v0.9h-0.9zM196.06 73.03h0.9v0.9h-0.9zM190.98 77.95h0.9v0.9h-0.9zM205.34 77.36h0.9v0.9h-0.9zM209.69 72.25h0.9v0.9h-0.9zM194.4 74h0.9v0.9h-0.9zM192.17 78.14h0.9v0.9h-0.9zM205.08 72.67h0.9v0.9h-0.9zM194.76 78.51h0.9v0.9h-0.9zM199.51 77.55h0.9v0.9h-0.9zM206.99 76.31h0.9v0.9h-0.9zM202.96 75.9h0.9v0.9h-0.9zM202.4 72.25h0.9v0.9h-0.9zM195.27 72.7h0.9v0.9h-0.9zM201.47 75.41h0.9v0.9h-0.9zM200.18 74.1h0.9v0.9h-0.9zM205.46 79.72h0.9v0.9h-0.9zM204.76 76.14h0.9v0.9h-0.9zM197.09 75.31h0.9v0.9h-0.9zM207.66 77.01h0.9v0.9h-0.9zM199.9 77.75h0.9v0.9h-0.9zM192.9 77.24h0.9v0.9h-0.9zM201.5 71.62h0.9v0.9h-0.9zM195.3 75.67h0.9v0.9h-0.9zM191.9 74.55h0.9v0.9h-0.9zM191.55 78.4h0.9v0.9h-0.9zM204.86 73.9h0.9v0.9h-0.9zM199.18 72.3h0.9v0.9h-0.9zM202.72 78.11h0.9v0.9h-0.9zM205.05 74.48h0.9v0.9h-0.9zM203.69 75.26h0.9v0.9h-0.9zM207.78 72.33h0.9v0.9h-0.9zM201.2 78.64h0.9v0.9h-0.9zM191.04 78.1h0.9v0.9h-0.9zM198.76 71.39h0.9v0.9h-0.9zM192.29 71.73h0.9v0.9h-0.9zM201.46 77.53h0.9v0.9h-0.9zM192.25 74.08h0.9v0.9h-0.9zM208.49 79.51h0.9v0.9h-0.9zM197.99 76.15h0.9v0.9h-0.9zM205.46 75.38h0.9v0.9h-0.9zM189.86 73.48h0.9v0.9h-0.9zM208.94 76.14h0.9v0.9h-0.9zM203.55 73.94h0.9v0.9h-0.9zM194.02 76.1h0.9v0.9h-0.9zM200.56 76.82h0.9v0.9h-0.9zM205.55 77.58h0.9v0.9h-0.9zM199.46 75.83h0.9v0.9h-0.9zM195.32 77.53h0.9v0.9h-0.9zM192.1 74.2h0.9v0.9h-0.9zM193.4 75.83h0.9v0.9h-0.9zM207.89 78.17h0.9v0.9h-0.9zM192.9 73.34h0.9v0.9h-0.9zM203.71 72.99h0.9v0.9h-0.9zM206.99 77.82h0.9v0.9h-0.9zM204.79 79.18h0.9v0.9h-0.9zM205.51 73.85h0.9v0.9h-0.9zM206.19 76.16h0.9v0.9h-0.9zM199.47 72.49h0.9v0.9h-0.9zM201.11 73.09h0.9v0.9h-0.9zM196.86 75.23h0.9v0.9h-0.9zM198.06 71.72h0.9v0.9h-0.9zM195.51 76.32h0.9v0.9h-0.9zM193.4 76.54h0.9v0.9h-0.9zM192.31 79.27h0.9v0.9h-0.9zM196.11 75.24h0.9v0.9h-0.9zM197.68 75h0.9v0.9h-0.9zM198.44 77.54h0.9v0.9h-0.9zM195.72 78.7h0.9v0.9h-0.9zM196.75 72.79h0.9v0.9h-0.9zM192.24 73.02h0.9v0.9h-0.9zM205.03 71.86h0.9v0.9h-0.9zM193.22 78.02h0.9v0.9h-0.9zM197.29 75.34h0.9v0.9h-0.9zM207 72.89h0.9v0.9h-0.9zM200.53 77.99h0.9v0.9h-0.9zM195.32 77.67h0.9v0.9h-0.9zM209.13 73.26h0.9v0.9h-0.9zM202.63 79.18h0.9v0.9h-0.9zM205.32 73.14h0.9v0.9h-0.9zM208.06 75.37h0.9v0.9h-0.9zM206.18 73.83h0.9v0.9h-0.9zM204.88 72.27h0.9v0.9h-0.9zM195.05 78.04h0.9v0.9h-0.9zM191.65 74.24h0.9v0.9h-0.9zM197.07 78.69h0.9v0.9h-0.9zM204.12 74.87h0.9v0.9h-0.9zM193.48 77.88h0.9v0.9h-0.9zM196.38 77.27h0.9v0.9h-0.9zM201.76 74.97h0.9v0.9h-0.9zM191.78 74.33h0.9v0.9h-0.9zM192.04 73.35h0.9v0.9h-0.9zM205.94 75.93h0.9v0.9h-0.9zM207.89 74.68h0.9v0.9h-0.9zM189.62 77.77h0.9v0.9h-0.9zM200.66 77.69h0.9v0.9h-0.9z" fill="#000" fill-opacity="0.6"/>
<path d="M200.44 75.66h0.9v0.9h-0.9zM210.28 74.34h0.9v0.9h-0.9zM202.55 76.32h0.9v0.9h-0.9zM198.55 74.86h0.9v0.9h-0.9zM199.37 76.61h0.9v0.9h-0.9zM193.34 78.87h0.9v0.9h-0.9zM194.25 75.87h0.9v0.9h-0.9zM207.53 75.94h0.9v0.9h-0.9zM192.69 78.23h0.9v0.9h-0.9zM197.01 74.46h0.9v0.9h-0.9zM194.16 76.43h0.9v0.9h-0.9zM191.37 77.4h0.9v0.9h-0.9zM204.83 77.71h0.9v0.9h-0.9zM199.59 72.6h0.9v0.9h-0.9zM207.83 77.73h0.9v0.9h-0.9zM196.22 78.59h0.9v0.9h-0.9zM203.3 75.29h0.9v0.9h-0.9zM200.95 76.75h0.9v0.9h-0.9zM192.86 73.64h0.9v0.9h-0.9zM195.45 77.99h0.9v0.9h-0.9zM201.9 78.87h0.9v0.9h-0.9zM194.71 76.34h0.9v0.9h-0.9zM198.56 79.33h0.9v0.9h-0.9zM200.37 72.59h0.9v0.9h-0.9zM196.7 78.82h0.9v0.9h-0.9zM193.51 75.27h0.9v0.9h-0.9zM196.55 74.58h0.9v0.9h-0.9zM200.07 76.29h0.9v0.9h-0.9zM204.4 75.17h0.9v0.9h-0.9zM193.48 75.44h0.9v0.9h-0.9zM192.2 74.56h0.9v0.9h-0.9zM203.99 72.87h0.9v0.9h-0.9zM208.76 75.05h0.9v0.9h-0.9zM203.89 76.77h0.9v0.9h-0.9zM191.04 71.14h0.9v0.9h-0.9zM193.21 77.97h0.9v0.9h-0.9zM205.34 75.44h0.9v0.9h-0.9zM202.45 75.61h0.9v0.9h-0.9zM197.71 73.98h0.9v0.9h-0.9zM198.83 72.2h0.9v0.9h-0.9zM202.47 78.47h0.9v0.9h-0.9zM198.99 77.36h0.9v0.9h-0.9zM198.19 72.94h0.9v0.9h-0.9zM199.54 72.91h0.9v0.9h-0.9zM207.83 74.83h0.9v0.9h-0.9zM195.32 72.1h0.9v0.9h-0.9zM202.33 74.72h0.9v0.9h-0.9zM191.03 78.55h0.9v0.9h-0.9zM205.11 73.33h0.9v0.9h-0.9zM192.98 78.98h0.9v0.9h-0.9zM195.74 73.43h0.9v0.9h-0.9zM191.32 75.03h0.9v0.9h-0.9zM204.5 74.14h0.9v0.9h-0.9zM200.27 76.99h0.9v0.9h-0.9zM208.98 76.93h0.9v0.9h-0.9zM197.08 77.11h0.9v0.9h-0.9zM195.85 74.49h0.9v0.9h-0.9zM199.38 75.89h0.9v0.9h-0.9zM206.07 72.6h0.9v0.9h-0.9zM199.24 71.88h0.9v0.9h-0.9zM206.99 76.49h0.9v0.9h-0.9zM204.93 72.22h0.9v0.9h-0.9zM201.21 74.84h0.9v0.9h-0.9zM205.49 74.2h0.9v0.9h-0.9zM191.88 78.97h0.9v0.9h-0.9zM194.15 74.59h0.9v0.9h-0.9zM203.7 76.47h0.9v0.9h-0.9zM190.79 74.67h0.9v0.9h-0.9zM206.87 72.91h0.9v0.9h-0.9zM198.33 77.68h0.9v0.9h-0.9zM193.08 76.06h0.9v0.9h-0.9zM204.31 72.67h0.9v0.9h-0.9zM205.79 73.7h0.9v0.9h-0.9zM198.68 72.99h0.9v0.9h-0.9zM202.54 76.18h0.9v0.9h-0.9zM194.72 77.98h0.9v0.9h-0.9zM195.9 73.36h0.9v0.9h-0.9zM207.92 73.83h0.9v0.9h-0.9zM196.38 73.12h0.9v0.9h-0.9zM208.64 72.84h0.9v0.9h-0.9zM197.03 78.28h0.9v0.9h-0.9zM203.95 72.54h0.9v0.9h-0.9zM209.12 73.68h0.9v0.9h-0.9zM192.82 76.64h0.9v0.9h-0.9zM201.8 76.52h0.9v0.9h-0.9zM193.41 73.45h0.9v0.9h-0.9zM199.14 74.4h0.9v0.9h-0.9zM190.42 77.24h0.9v0.9h-0.9zM204.9 75.17h0.9v0.9h-0.9zM206.22 74.4h0.9v0.9h-0.9zM207.91 77.54h0.9v0.9h-0.9zM195.34 72.17h0.9v0.9h-0.9zM200.51 77.3h0.9v0.9h-0.9zM191.66 75.09h0.9v0.9h-0.9zM198.02 75.18h0.9v0.9h-0.9zM197.01 73.41h0.9v0.9h-0.9zM202.48 76.78h0.9v0.9h-0.9zM201.13 75.21h0.9v0.9h-0.9zM206.07 72.66h0.9v0.9h-0.9zM207.39 74.63h0.9v0.9h-0.9zM193.57 77.99h0.9v0.9h-0.9zM202.06 77.65h0.9v0.9h-0.9zM200.56 76.22h0.9v0.9h-0.9zM201.12 79.09h0.9v0.9h-0.9zM203.13 72.96h0.9v0.9h-0.9zM206.8 77.24h0.9v0.9h-0.9zM195.6 73.69h0.9v0.9h-0.9zM193.99 75.14h0.9v0.9h-0.9zM200.58 78.96h0.9v0.9h-0.9zM194.78 72.47h0.9v0.9h-0.9zM203.82 74.31h0.9v0.9h-0.9zM204.83 77.78h0.9v0.9h-0.9zM199.99 73.35h0.9v0.9h-0.9zM194.31 75.66h0.9v0.9h-0.9zM195.35 74h0.9v0.9h-0.9zM199.44 73.85h0.9v0.9h-0.9zM205.26 72.18h0.9v0.9h-0.9zM193.48 75.94h0.9v0.9h-0.9zM204.71 79.35h0.9v0.9h-0.9zM190.11 75.4h0.9v0.9h-0.9zM199.14 71.76h0.9v0.9h-0.9zM199.99 72.36h0.9v0.9h-0.9zM192.31 72.4h0.9v0.9h-0.9zM200.45 78.2h0.9v0.9h-0.9zM198.61 72.8h0.9v0.9h-0.9zM201.88 73.09h0.9v0.9h-0.9zM200.88 73.08h0.9v0.9h-0.9zM198.11 74.85h0.9v0.9h-0.9zM196.88 77.31h0.9v0.9h-0.9zM193.35 77.3h0.9v0.9h-0.9zM208.21 76.06h0.9v0.9h-0.9zM197.2 73.85h0.9v0.9h-0.9zM207.38 71.55h0.9v0.9h-0.9zM202.68 76.56h0.9v0.9h-0.9zM196.8 72.39h0.9v0.9h-0.9zM206.53 74.11h0.9v0.9h-0.9zM196.49 73.93h0.9v0.9h-0.9zM194.03 73.69h0.9v0.9h-0.9zM194.01 78.67h0.9v0.9h-0.9zM208.23 77.72h0.9v0.9h-0.9zM199.9 72.47h0.9v0.9h-0.9zM197.34 74.36h0.9v0.9h-0.9zM205.94 77.63h0.9v0.9h-0.9zM197.65 74.43h0.9v0.9h-0.9zM194.66 76h0.9v0.9h-0.9zM207.65 76.37h0.9v0.9h-0.9zM202.5 78.73h0.9v0.9h-0.9zM204.82 73.09h0.9v0.9h-0.9zM193.16 77.85h0.9v0.9h-0.9zM204.9 74.07h0.9v0.9h-0.9zM207.72 72.84h0.9v0.9h-0.9zM207.39 78.71h0.9v0.9h-0.9zM192.85 74.02h0.9v0.9h-0.9zM208.86 76.63h0.9v0.9h-0.9zM202.74 73.4h0.9v0.9h-0.9zM197.55 75.47h0.9v0.9h-0.9zM199.37 73.96h0.9v0.9h-0.9zM207.11 73.75h0.9v0.9h-0.9zM200.8 72.84h0.9v0.9h-0.9zM194.34 74.41h0.9v0.9h-0.9zM197.35 74.46h0.9v0.9h-0.9zM194.68 75.32h0.9v0.9h-0.9zM193.27 72.33h0.9v0.9h-0.9zM202.05 77.02h0.9v0.9h-0.9zM205.63 71.7h0.9v0.9h-0.9zM193.48 77.62h0.9v0.9h-0.9zM197.78 78.85h0.9v0.9h-0.9zM192.07 78.73h0.9v0.9h-0.9zM199.54 72.83h0.9v0.9h-0.9zM206.9 75.25h0.9v0.9h-0.9zM200.65 74.39h0.9v0.9h-0.9zM201.06 72.74h0.9v0.9h-0.9zM197.57 77.22h0.9v0.9h-0.9zM202.71 72.34h0.9v0.9h-0.9zM207.8 77.89h0.9v0.9h-0.9zM201.38 76.02h0.9v0.9h-0.9zM199.72 76h0.9v0.9h-0.9zM200.87 71.71h0.9v0.9h-0.9zM201.88 76.16h0.9v0.9h-0.9zM204.64 78.48h0.9v0.9h-0.9zM195.02 75.55h0.9v0.9h-0.9zM204.85 73.6h0.9v0.9h-0.9zM207.28 80.42h0.9v0.9h-0.9zM198.36 77.53h0.9v0.9h-0.9zM197.03 75.03h0.9v0.9h-0.9zM196.7 76.73h0.9v0.9h-0.9zM199.48 78.5h0.9v0.9h-0.9zM202.56 75.92h0.9v0.9h-0.9zM196.72 77.17h0.9v0.9h-0.9zM202.63 76.72h0.9v0.9h-0.9zM198.81 73.27h0.9v0.9h-0.9zM193.77 74.74h0.9v0.9h-0.9zM202.51 74.23h0.9v0.9h-0.9zM207.09 78.6h0.9v0.9h-0.9zM205.06 76.6h0.9v0.9h-0.9zM207.23 75.89h0.9v0.9h-0.9zM199.54 76.09h0.9v0.9h-0.9zM203.5 76.8h0.9v0.9h-0.9zM196.58 77.38h0.9v0.9h-0.9zM198.17 74.51h0.9v0.9h-0.9zM195.85 74.67h0.9v0.9h-0.9zM206.1 74.85h0.9v0.9h-0.9zM198.09 77.8h0.9v0.9h-0.9zM206.64 74.26h0.9v0.9h-0.9zM204.49 73.67h0.9v0.9h-0.9zM201.39 72.72h0.9v0.9h-0.9zM196.35 77.33h0.9v0.9h-0.9zM192.46 75.62h0.9v0.9h-0.9zM207.6 76.29h0.9v0.9h-0.9zM200.15 78.5h0.9v0.9h-0.9zM208.05 74.02h0.9v0.9h-0.9zM203.62 72.31h0.9v0.9h-0.9zM200.02 77.09h0.9v0.9h-0.9zM198.51 78.41h0.9v0.9h-0.9zM205.98 77.57h0.9v0.9h-0.9zM203.11 76.67h0.9v0.9h-0.9zM190.92 72.61h0.9v0.9h-0.9zM202.38 78.03h0.9v0.9h-0.9zM195.85 75.45h0.9v0.9h-0.9zM191.12 74.98h0.9v0.9h-0.9zM199.53 73.82h0.9v0.9h-0.9zM198.3 79.72h0.9v0.9h-0.9zM207.64 75.51h0.9v0.9h-0.9zM207.57 74.14h0.9v0.9h-0.9zM192.89 75.37h0.9v0.9h-0.9zM200.34 72.61h0.9v0.9h-0.9zM195.79 76.05h0.9v0.9h-0.9zM207.89 73.9h0.9v0.9h-0.9zM200.84 75.01h0.9v0.9h-0.9zM204.94 77.08h0.9v0.9h-0.9zM204.77 74.16h0.9v0.9h-0.9zM191.92 73.07h0.9v0.9h-0.9zM190.57 72.23h0.9v0.9h-0.9zM209.68 73.16h0.9v0.9h-0.9zM194.39 73.21h0.9v0.9h-0.9zM203.51 73.9h0.9v0.9h-0.9zM193.94 78.04h0.9v0.9h-0.9zM206.16 74.19h0.9v0.9h-0.9zM201.16 76.1h0.9v0.9h-0.9zM193.58 76.86h0.9v0.9h-0.9zM202.97 78.42h0.9v0.9h-0.9zM208.65 71.94h0.9v0.9h-0.9zM208.37 77.11h0.9v0.9h-0.9zM201.81 71.88h0.9v0.9h-0.9zM200.62 77.13h0.9v0.9h-0.9zM205.19 72.63h0.9v0.9h-0.9zM205.24 78.15h0.9v0.9h-0.9zM207.47 75.76h0.9v0.9h-0.9zM206.18 74.72h0.9v0.9h-0.9zM199.51 78.13h0.9v0.9h-0.9zM204.44 73.05h0.9v0.9h-0.9zM193.05 72.89h0.9v0.9h-0.9zM205.84 75.31h0.9v0.9h-0.9zM201.74 72.49h0.9v0.9h-0.9zM197.46 77.04h0.9v0.9h-0.9zM197.06 76.05h0.9v0.9h-0.9zM199.93 75.48h0.9v0.9h-0.9zM208.11 76.8h0.9v0.9h-0.9zM194.25 72.01h0.9v0.9h-0.9zM201.6 77.22h0.9v0.9h-0.9zM199.27 77.6h0.9v0.9h-0.9zM202.54 74.74h0.9v0.9h-0.9zM190.46 74.68h0.9v0.9h-0.9zM195.81 75.98h0.9v0.9h-0.9zM195.64 80.09h0.9v0.9h-0.9zM208.45 78.56h0.9v0.9h-0.9zM203.14 75.12h0.9v0.9h-0.9zM207.36 75.69h0.9v0.9h-0.9zM207.22 76.52h0.9v0.9h-0.9zM204.27 77.21h0.9v0.9h-0.9zM192.82 76.83h0.9v0.9h-0.9zM195.87 74.11h0.9v0.9h-0.9zM207.45 72.81h0.9v0.9h-0.9zM196.27 76.52h0.9v0.9h-0.9zM194.65 77.88h0.9v0.9h-0.9zM205.01 77.64h0.9v0.9h-0.9zM199.45 76.57h0.9v0.9h-0.9zM195.74 79.13h0.9v0.9h-0.9zM192.24 73.58h0.9v0.9h-0.9zM206.27 77.74h0.9v0.9h-0.9zM201.63 77.82h0.9v0.9h-0.9zM206.14 77.61h0.9v0.9h-0.9zM206.57 73.86h0.9v0.9h-0.9zM206.93 77.16h0.9v0.9h-0.9zM208.18 78.61h0.9v0.9h-0.9zM196.14 72.41h0.9v0.9h-0.9zM205.21 77.4h0.9v0.9h-0.9zM196.04 78.34h0.9v0.9h-0.9zM194.95 71.94h0.9v0.9h-0.9zM199.76 78.3h0.9v0.9h-0.9zM201.6 77.65h0.9v0.9h-0.9zM199.51 74.3h0.9v0.9h-0.9zM203.64 77.22h0.9v0.9h-0.9zM197.12 72.64h0.9v0.9h-0.9zM199.94 78.45h0.9v0.9h-0.9zM203.03 78.31h0.9v0.9h-0.9zM204.71 74.29h0.9v0.9h-0.9zM191.02 76.19h0.9v0.9h-0.9zM197.02 78.87h0.9v0.9h-0.9zM191.91 78.28h0.9v0.9h-0.9zM206.74 77.75h0.9v0.9h-0.9zM198.44 74.5h0.9v0.9h-0.9zM204.2 77.67h0.9v0.9h-0.9zM197.87 77.5h0.9v0.9h-0.9zM201.72 74.45h0.9v0.9h-0.9zM199.48 74.19h0.9v0.9h-0.9zM197.36 76.04h0.9v0.9h-0.9zM208.92 75.91h0.9v0.9h-0.9zM207.36 72.41h0.9v0.9h-0.9zM203.83 77.79h0.9v0.9h-0.9zM207.78 77.93h0.9v0.9h-0.9zM200.36 76.61h0.9v0.9h-0.9zM202.59 75.87h0.9v0.9h-0.9zM200.31 75.98h0.9v0.9h-0.9zM193.3 73.34h0.9v0.9h-0.9zM207.99 72.82h0.9v0.9h-0.9zM199.24 76.58h0.9v0.9h-0.9zM207.95 72.15h0.9v0.9h-0.9zM200.48 75.41h0.9v0.9h-0.9zM205 78.98h0.9v0.9h-0.9zM200.84 72.68h0.9v0.9h-0.9zM191.24 72.51h0.9v0.9h-0.9zM195.74 79.6h0.9v0.9h-0.9zM191.76 73.18h0.9v0.9h-0.9zM201.68 76.91h0.9v0.9h-0.9z" fill="#000" fill-opacity="0.6"/>
<path d="M191.36 72.58h0.9v0.9h-0.9zM194.17 78.14h0.9v0.9h-0.9zM198.66 78.19h0.9v0.9h-0.9zM190.95 74.74h0.9v0.9h-0.9zM204.32 73.78h0.9v0.9h-0.9zM191.37 78.48h0.9v0.9h-0.9zM201.6 74.89h0.9v0.9h-0.9zM197.72 76.59h0.9v0.9h-0.9zM202.46 74.79h0.9v0.9h-0.9zM192.47 72.56h0.9v0.9h-0.9zM197.21 80.33h0.9v0.9h-0.9zM206.22 79.53h0.9v0.9h-0.9zM191.47 75.95h0.9v0.9h-0.9zM194.42 79.02h0.9v0.9h-0.9zM199.97 72.24h0.9v0.9h-0.9zM199.49 75.16h0.9v0.9h-0.9zM201.09 75.46h0.9v0.9h-0.9zM198.14 78.39h0.9v0.9h-0.9zM191.55 77.03h0.9v0.9h-0.9zM192.92 74.64h0.9v0.9h-0.9zM205.61 73.65h0.9v0.9h-0.9zM193.9 75.29h0.9v0.9h-0.9zM196.58 74.23h0.9v0.9h-0.9zM196.96 75.89h0.9v0.9h-0.9zM197.87 75.29h0.9v0.9h-0.9zM196.11 75.77h0.9v0.9h-0.9zM198.94 75.42h0.9v0.9h-0.9zM204.54 73.6h0.9v0.9h-0.9zM200.91 76.51h0.9v0.9h-0.9zM201.83 70.98h0.9v0.9h-0.9zM205.36 74.41h0.9v0.9h-0.9zM191.93 77.97h0.9v0.9h-0.9zM206.72 73.56h0.9v0.9h-0.9zM196 71.43h0.9v0.9h-0.9zM207.23 72.21h0.9v0.9h-0.9zM195.38 74.12h0.9v0.9h-0.9zM204.09 71.63h0.9v0.9h-0.9zM194.34 78.79h0.9v0.9h-0.9zM202.39 73.91h0.9v0.9h-0.9zM195.89 75.82h0.9v0.9h-0.9zM207.34 71.9h0.9v0.9h-0.9zM196.32 73.43h0.9v0.9h-0.9zM194.22 76.94h0.9v0.9h-0.9zM203.59 71.79h0.9v0.9h-0.9zM195.04 77.99h0.9v0.9h-0.9zM190.57 79.22h0.9v0.9h-0.9zM194.78 74.34h0.9v0.9h-0.9zM193.21 73.3h0.9v0.9h-0.9zM207.72 76.54h0.9v0.9h-0.9zM197.95 76.2h0.9v0.9h-0.9zM194.56 71.66h0.9v0.9h-0.9zM194.13 77.21h0.9v0.9h-0.9zM194.64 73.45h0.9v0.9h-0.9zM191.6 73.55h0.9v0.9h-0.9zM194.58 73.59h0.9v0.9h-0.9zM192.86 76.24h0.9v0.9h-0.9zM207.41 73.2h0.9v0.9h-0.9zM202.86 76.09h0.9v0.9h-0.9zM209 72.04h0.9v0.9h-0.9zM194.05 75.13h0.9v0.9h-0.9zM201.96 76.78h0.9v0.9h-0.9zM199.89 75.16h0.9v0.9h-0.9zM209.28 80.16h0.9v0.9h-0.9zM205.65 75.21h0.9v0.9h-0.9zM203.67 77.15h0.9v0.9h-0.9zM205.1 78.39h0.9v0.9h-0.9zM196.86 72.88h0.9v0.9h-0.9zM194 72.74h0.9v0.9h-0.9zM190.5 73.51h0.9v0.9h-0.9zM189.19 72.23h0.9v0.9h-0.9zM191.95 74.05h0.9v0.9h-0.9zM199.51 76.12h0.9v0.9h-0.9zM206.53 78.86h0.9v0.9h-0.9zM194.56 78.13h0.9v0.9h-0.9zM191.46 77.28h0.9v0.9h-0.9zM202.99 72.86h0.9v0.9h-0.9zM206.6 76.21h0.9v0.9h-0.9zM191.48 80.14h0.9v0.9h-0.9zM203.16 76.39h0.9v0.9h-0.9zM194.55 77.12h0.9v0.9h-0.9zM202.89 74.47h0.9v0.9h-0.9zM194.95 73.82h0.9v0.9h-0.9zM194.25 73h0.9v0.9h-0.9zM206.28 77.64h0.9v0.9h-0.9zM191.39 77.61h0.9v0.9h-0.9zM200.06 75.68h0.9v0.9h-0.9zM198.97 76.55h0.9v0.9h-0.9zM197.28 77.71h0.9v0.9h-0.9zM195.89 76.23h0.9v0.9h-0.9zM198.7 77.05h0.9v0.9h-0.9zM207.41 77.36h0.9v0.9h-0.9zM207.41 77.75h0.9v0.9h-0.9zM200.93 73.39h0.9v0.9h-0.9zM203.45 74.16h0.9v0.9h-0.9zM208.56 76.57h0.9v0.9h-0.9zM205.02 74.29h0.9v0.9h-0.9zM206.67 73.89h0.9v0.9h-0.9zM203.57 76.25h0.9v0.9h-0.9zM195.74 75.23h0.9v0.9h-0.9zM203.99 74.37h0.9v0.9h-0.9zM194.75 73.69h0.9v0.9h-0.9zM196.97 71.6h0.9v0.9h-0.9zM198.67 77.14h0.9v0.9h-0.9zM204.04 75.53h0.9v0.9h-0.9zM190.95 76.86h0.9v0.9h-0.9zM198.23 78.06h0.9v0.9h-0.9zM193.12 72.19h0.9v0.9h-0.9zM197.74 72.07h0.9v0.9h-0.9zM205.43 73.77h0.9v0.9h-0.9zM201.72 77.98h0.9v0.9h-0.9zM200.33 80.69h0.9v0.9h-0.9zM192.93 79.62h0.9v0.9h-0.9zM204.62 73.31h0.9v0.9h-0.9zM198.25 76.5h0.9v0.9h-0.9zM205.84 75.75h0.9v0.9h-0.9zM200.74 78.3h0.9v0.9h-0.9zM205.41 74.85h0.9v0.9h-0.9zM196.27 77.96h0.9v0.9h-0.9zM201.84 75.4h0.9v0.9h-0.9zM192.81 76.59h0.9v0.9h-0.9zM208.51 73.04h0.9v0.9h-0.9zM206.6 72.45h0.9v0.9h-0.9zM206.69 74.52h0.9v0.9h-0.9zM205.84 75.31h0.9v0.9h-0.9zM208.81 74.5h0.9v0.9h-0.9zM198.35 74.66h0.9v0.9h-0.9zM195.67 73.92h0.9v0.9h-0.9zM196.62 76.06h0.9v0.9h-0.9zM195.52 75.63h0.9v0.9h-0.9zM203.07 74.33h0.9v0.9h-0.9zM201.1 74.57h0.9v0.9h-0.9zM205.79 74.23h0.9v0.9h-0.9zM198.79 72.08h0.9v0.9h-0.9zM198.6 75.2h0.9v0.9h-0.9zM200.76 73.64h0.9v0.9h-0.9zM199.63 73.1h0.9v0.9h-0.9zM205.01 72.6h0.9v0.9h-0.9zM193.33 78.58h0.9v0.9h-0.9zM200.91 75.29h0.9v0.9h-0.9zM205.28 79.74h0.9v0.9h-0.9zM198.38 75.86h0.9v0.9h-0.9zM196.57 74.52h0.9v0.9h-0.9zM198.38 78.51h0.9v0.9h-0.9zM207.48 76.38h0.9v0.9h-0.9zM192.17 75.11h0.9v0.9h-0.9zM193.34 76.89h0.9v0.9h-0.9zM204.15 71.86h0.9v0.9h-0.9zM198.49 71.13h0.9v0.9h-0.9zM205.68 75.27h0.9v0.9h-0.9zM191.67 74.68h0.9v0.9h-0.9zM191.49 73.89h0.9v0.9h-0.9zM192.81 77.39h0.9v0.9h-0.9zM191.97 77.37h0.9v0.9h-0.9zM208.25 75.17h0.9v0.9h-0.9zM191.76 72.42h0.9v0.9h-0.9zM196.81 77.54h0.9v0.9h-0.9zM202.66 73.57h0.9v0.9h-0.9zM195.53 74.02h0.9v0.9h-0.9zM194.5 78.87h0.9v0.9h-0.9zM202.4 78.87h0.9v0.9h-0.9zM193.86 77.27h0.9v0.9h-0.9zM202.4 72.72h0.9v0.9h-0.9zM206.85 72.25h0.9v0.9h-0.9zM204.84 77.38h0.9v0.9h-0.9zM202.79 78.17h0.9v0.9h-0.9zM193.63 76.53h0.9v0.9h-0.9zM205.97 77.8h0.9v0.9h-0.9zM202.13 74.53h0.9v0.9h-0.9zM202.98 76.03h0.9v0.9h-0.9zM197.22 79.48h0.9v0.9h-0.9zM197.85 74.38h0.9v0.9h-0.9zM195.91 76.97h0.9v0.9h-0.9zM190.3 73.95h0.9v0.9h-0.9zM205.4 72.12h0.9v0.9h-0.9zM201.56 74.91h0.9v0.9h-0.9zM209.94 77.39h0.9v0.9h-0.9zM201.11 74.81h0.9v0.9h-0.9zM198.69 73.27h0.9v0.9h-0.9zM194.34 79.61h0.9v0.9h-0.9zM192.91 76.15h0.9v0.9h-0.9zM195.6 77.72h0.9v0.9h-0.9zM200.15 76.42h0.9v0.9h-0.9zM196.79 78.87h0.9v0.9h-0.9zM209.28 77.62h0.9v0.9h-0.9zM192.94 76.95h0.9v0.9h-0.9zM196.23 72.86h0.9v0.9h-0.9zM206.55 73.3h0.9v0.9h-0.9zM197.82 73.17h0.9v0.9h-0.9zM205.16 78.89h0.9v0.9h-0.9zM194.48 77.94h0.9v0.9h-0.9zM194.54 75.61h0.9v0.9h-0.9zM204.48 72.32h0.9v0.9h-0.9zM197.2 72.59h0.9v0.9h-0.9zM193.22 76.91h0.9v0.9h-0.9zM208.51 78.92h0.9v0.9h-0.9zM197.65 75.15h0.9v0.9h-0.9zM204.9 72.99h0.9v0.9h-0.9zM195.77 76.26h0.9v0.9h-0.9zM199.94 74.12h0.9v0.9h-0.9zM206.05 77.51h0.9v0.9h-0.9zM200.08 77.78h0.9v0.9h-0.9zM202.79 72.72h0.9v0.9h-0.9zM203.52 77.03h0.9v0.9h-0.9zM206.28 71.94h0.9v0.9h-0.9zM209.75 75.54h0.9v0.9h-0.9zM197.24 72.47h0.9v0.9h-0.9zM194.4 71.65h0.9v0.9h-0.9zM196.41 73.82h0.9v0.9h-0.9zM192.59 75.75h0.9v0.9h-0.9zM200.09 75.75h0.9v0.9h-0.9zM202.02 71.02h0.9v0.9h-0.9zM207.14 72.86h0.9v0.9h-0.9zM198.07 78.36h0.9v0.9h-0.9zM205.54 79.67h0.9v0.9h-0.9zM209.79 78.87h0.9v0.9h-0.9zM204.41 76.01h0.9v0.9h-0.9zM204.55 75.63h0.9v0.9h-0.9zM193.07 77.51h0.9v0.9h-0.9zM209.42 74.37h0.9v0.9h-0.9zM199.5 75.86h0.9v0.9h-0.9zM197.85 77.77h0.9v0.9h-0.9zM192.6 71.59h0.9v0.9h-0.9zM199.23 76.48h0.9v0.9h-0.9zM197.33 74.78h0.9v0.9h-0.9zM208.28 78.88h0.9v0.9h-0.9zM198.49 73.39h0.9v0.9h-0.9zM204.16 76.87h0.9v0.9h-0.9zM205.16 78.49h0.9v0.9h-0.9zM197.62 77.6h0.9v0.9h-0.9zM192.96 75.01h0.9v0.9h-0.9zM205.13 74.81h0.9v0.9h-0.9zM201.9 76.5h0.9v0.9h-0.9zM202.15 73.63h0.9v0.9h-0.9zM198.59 73.93h0.9v0.9h-0.9zM200.36 75.13h0.9v0.9h-0.9zM192.07 72.18h0.9v0.9h-0.9zM207.7 76.84h0.9v0.9h-0.9zM202.96 78.83h0.9v0.9h-0.9zM191.72 79.18h0.9v0.9h-0.9zM202.2 71.46h0.9v0.9h-0.9zM202.4 79.13h0.9v0.9h-0.9zM195.9 76.4h0.9v0.9h-0.9zM193.51 77.44h0.9v0.9h-0.9zM200.59 72.63h0.9v0.9h-0.9zM198.56 78.64h0.9v0.9h-0.9zM202.58 74.52h0.9v0.9h-0.9zM199.16 78.24h0.9v0.9h-0.9zM207.57 73.73h0.9v0.9h-0.9zM193.24 75.7h0.9v0.9h-0.9zM192.79 78.97h0.9v0.9h-0.9zM191.28 73.16h0.9v0.9h-0.9zM190.66 76.83h0.9v0.9h-0.9zM207.64 73.72h0.9v0.9h-0.9zM195.69 75.86h0.9v0.9h-0.9zM194.8 73.33h0.9v0.9h-0.9zM207.92 78.19h0.9v0.9h-0.9zM193.91 75.49h0.9v0.9h-0.9zM196.18 74.73h0.9v0.9h-0.9zM208.15 71.94h0.9v0.9h-0.9zM207.91 72.87h0.9v0.9h-0.9zM202.35 76.39h0.9v0.9h-0.9zM208.37 78.88h0.9v0.9h-0.9zM201 73.11h0.9v0.9h-0.9zM199.37 77.23h0.9v0.9h-0.9zM196.84 77.33h0.9v0.9h-0.9zM201.84 74.76h0.9v0.9h-0.9zM202.87 71.98h0.9v0.9h-0.9zM202.99 72.99h0.9v0.9h-0.9zM199.34 72.75h0.9v0.9h-0.9zM196.35 77.61h0.9v0.9h-0.9zM191.16 77.54h0.9v0.9h-0.9zM192.45 72.7h0.9v0.9h-0.9zM202.39 74.29h0.9v0.9h-0.9zM193.91 73.57h0.9v0.9h-0.9zM202.56 73.73h0.9v0.9h-0.9zM191.7 71.93h0.9v0.9h-0.9zM205.23 74.78h0.9v0.9h-0.9zM202.92 76.93h0.9v0.9h-0.9zM192.23 78.96h0.9v0.9h-0.9zM198.42 73.9h0.9v0.9h-0.9zM204.62 79.08h0.9v0.9h-0.9zM197.51 78.49h0.9v0.9h-0.9zM197.22 73.22h0.9v0.9h-0.9zM205.61 75.71h0.9v0.9h-0.9zM203.02 77.86h0.9v0.9h-0.9zM205.39 72.59h0.9v0.9h-0.9zM197.43 71.82h0.9v0.9h-0.9zM193.45 75.94h0.9v0.9h-0.9zM207.85 74.5h0.9v0.9h-0.9zM207.51 72.59h0.9v0.9h-0.9zM201.25 72.41h0.9v0.9h-0.9zM203.9 73.05h0.9v0.9h-0.9zM209.7 75.61h0.9v0.9h-0.9zM192.85 74.58h0.9v0.9h-0.9zM199.87 73.86h0.9v0.9h-0.9zM203.06 77.11h0.9v0.9h-0.9zM206.63 75.64h0.9v0.9h-0.9zM198.2 75.18h0.9v0.9h-0.9zM200.57 78.42h0.9v0.9h-0.9zM208.46 78.11h0.9v0.9h-0.9zM192.12 72.1h0.9v0.9h-0.9zM195.83 81.12h0.9v0.9h-0.9zM199.59 76.62h0.9v0.9h-0.9zM205.05 77.54h0.9v0.9h-0.9zM207.68 76.35h0.9v0.9h-0.9zM207.77 76.83h0.9v0.9h-0.9zM204.01 77.77h0.9v0.9h-0.9zM205.61 77.14h0.9v0.9h-0.9zM201.98 78.09h0.9v0.9h-0.9zM195.42 73.78h0.9v0.9h-0.9zM208.65 74.52h0.9v0.9h-0.9zM193.43 73.79h0.9v0.9h-0.9zM208.77 75.94h0.9v0.9h-0.9zM198.73 75.36h0.9v0.9h-0.9zM201.4 77.65h0.9v0.9h-0.9zM199.47 77.12h0.9v0.9h-0.9zM205.1 79.48h0.9v0.9h-0.9zM203.26 78.04h0.9v0.9h-0.9zM192.15 73.8h0.9v0.9h-0.9zM197.11 76.11h0.9v0.9h-0.9zM195.61 78.45h0.9v0.9h-0.9zM204.14 72.07h0.9v0.9h-0.9zM196.89 74.59h0.9v0.9h-0.9zM201.42 73.94h0.9v0.9h-0.9zM206.02 72.65h0.9v0.9h-0.9z" fill="#000" fill-opacity="0.6"/>
<path d="M198.86 73.04h0.9v0.9h-0.9zM193.13 73.92h0.9v0.9h-0.9zM194.41 77.66h0.9v0.9h-0.9zM206.22 77.22h0.9v0.9h-0.9zM197.85 74.98h0.9v0.9h-0.9zM206.22 74.3h0.9v0.9h-0.9zM195.61 75.97h0.9v0.9h-0.9zM192.68 73.19h0.9v0.9h-0.9zM198.81 80.04h0.9v0.9h-0.9zM201.86 79.01h0.9v0.9h-0.9zM206.92 75.74h0.9v0.9h-0.9zM207.77 73.86h0.9v0.9h-0.9zM203.94 77.55h0.9v0.9h-0.9zM194.8 74.54h0.9v0.9h-0.9zM195.35 76.59h0.9v0.9h-0.9zM201.39 73.22h0.9v0.9h-0.9zM195.21 76.81h0.9v0.9h-0.9zM205.12 72.33h0.9v0.9h-0.9zM193.5 71.68h0.9v0.9h-0.9zM193.92 73.1h0.9v0.9h-0.9zM191.84 72.11h0.9v0.9h-0.9zM193.49 77.14h0.9v0.9h-0.9zM193.12 73.47h0.9v0.9h-0.9zM192.33 72.86h0.9v0.9h-0.9zM198.11 72.95h0.9v0.9h-0.9zM193.17 78.93h0.9v0.9h-0.9zM191.05 75.02h0.9v0.9h-0.9zM209.58 77.47h0.9v0.9h-0.9zM202.58 76.04h0.9v0.9h-0.9zM205.35 74.71h0.9v0.9h-0.9zM199 74.99h0.9v0.9h-0.9zM202.89 76.08h0.9v0.9h-0.9zM195.36 75.8h0.9v0.9h-0.9zM190.08 74.02h0.9v0.9h-0.9zM195.12 77.87h0.9v0.9h-0.9zM199.52 77.19h0.9v0.9h-0.9zM208.39 74.92h0.9v0.9h-0.9zM200.31 80.68h0.9v0.9h-0.9zM197.58 74.12h0.9v0.9h-0.9zM209.23 70.63h0.9v0.9h-0.9zM193.58 77.51h0.9v0.9h-0.9zM193.29 77.97h0.9v0.9h-0.9zM206.26 73.67h0.9v0.9h-0.9zM195.89 73.81h0.9v0.9h-0.9zM200.17 75.33h0.9v0.9h-0.9zM206.27 74.14h0.9v0.9h-0.9zM209.86 74.74h0.9v0.9h-0.9zM198.98 70.83h0.9v0.9h-0.9zM196.68 77.31h0.9v0.9h-0.9zM208.37 78.43h0.9v0.9h-0.9zM190.85 78.63h0.9v0.9h-0.9zM205.22 71.7h0.9v0.9h-0.9zM199.2 73.42h0.9v0.9h-0.9zM206.71 73.56h0.9v0.9h-0.9zM194.53 72.59h0.9v0.9h-0.9zM202.96 77.07h0.9v0.9h-0.9zM204.13 78.37h0.9v0.9h-0.9zM197.17 73.83h0.9v0.9h-0.9zM206.19 77.39h0.9v0.9h-0.9zM193.24 79.55h0.9v0.9h-0.9zM198.13 74.22h0.9v0.9h-0.9zM191.65 72.43h0.9v0.9h-0.9zM204.41 78.39h0.9v0.9h-0.9zM206.34 79.16h0.9v0.9h-0.9zM191.82 74.17h0.9v0.9h-0.9zM197.57 72.21h0.9v0.9h-0.9zM201.11 78.64h0.9v0.9h-0.9zM201.75 78.61h0.9v0.9h-0.9zM200.63 77.73h0.9v0.9h-0.9zM193.76 75.82h0.9v0.9h-0.9zM203.74 72.73h0.9v0.9h-0.9zM194.31 71.75h0.9v0.9h-0.9zM201.88 77.74h0.9v0.9h-0.9zM194.02 78.55h0.9v0.9h-0.9zM206.01 77.86h0.9v0.9h-0.9zM194.04 74.05h0.9v0.9h-0.9zM190.73 77.81h0.9v0.9h-0.9zM190.03 77.59h0.9v0.9h-0.9zM192.78 76.26h0.9v0.9h-0.9zM198.32 74.73h0.9v0.9h-0.9zM204.51 74.93h0.9v0.9h-0.9zM197.82 79.07h0.9v0.9h-0.9zM198.88 77.67h0.9v0.9h-0.9zM198.77 79.41h0.9v0.9h-0.9zM202.33 75.92h0.9v0.9h-0.9zM194.32 73.68h0.9v0.9h-0.9zM198.1 78.48h0.9v0.9h-0.9zM207.3 77.48h0.9v0.9h-0.9zM206.15 73.1h0.9v0.9h-0.9zM196.09 75.93h0.9v0.9h-0.9zM202.53 78.66h0.9v0.9h-0.9zM202.21 77.07h0.9v0.9h-0.9zM200.82 73.16h0.9v0.9h-0.9zM209.43 76.9h0.9v0.9h-0.9zM197.65 74.63h0.9v0.9h-0.9zM201.41 77.32h0.9v0.9h-0.9zM191.86 77.86h0.9v0.9h-0.9zM205.19 72.37h0.9v0.9h-0.9zM202.83 75.78h0.9v0.9h-0.9zM199.46 74.02h0.9v0.9h-0.9zM204.31 77.61h0.9v0.9h-0.9zM190.3 71.18h0.9v0.9h-0.9zM196.76 73.92h0.9v0.9h-0.9zM209.19 73.08h0.9v0.9h-0.9zM205.89 77.65h0.9v0.9h-0.9zM194.61 71.63h0.9v0.9h-0.9zM202.93 74.55h0.9v0.9h-0.9zM208.65 76.63h0.9v0.9h-0.9zM203.08 78.19h0.9v0.9h-0.9zM208.5 75.09h0.9v0.9h-0.9zM195.66 74.48h0.9v0.9h-0.9zM202.82 78.28h0.9v0.9h-0.9zM192.22 78.28h0.9v0.9h-0.9zM202.7 72.65h0.9v0.9h-0.9zM197.09 78.62h0.9v0.9h-0.9zM192.29 73.86h0.9v0.9h-0.9zM207.65 73.81h0.9v0.9h-0.9zM205.08 72.01h0.9v0.9h-0.9zM206.64 78.3h0.9v0.9h-0.9zM196.56 76.45h0.9v0.9h-0.9zM195.6 72.31h0.9v0.9h-0.9zM199.16 72.68h0.9v0.9h-0.9zM205.22 78.45h0.9v0.9h-0.9zM208.87 74.6h0.9v0.9h-0.9zM206.97 70.94h0.9v0.9h-0.9zM196.22 75.75h0.9v0.9h-0.9zM190.93 75.75h0.9v0.9h-0.9zM197.78 74.28h0.9v0.9h-0.9zM191.38 77.65h0.9v0.9h-0.9zM204.23 73.87h0.9v0.9h-0.9zM205.96 73.75h0.9v0.9h-0.9zM194.15 76.37h0.9v0.9h-0.9zM199.14 77.4h0.9v0.9h-0.9zM192.14 76.42h0.9v0.9h-0.9zM209.11 71.74h0.9v0.9h-0.9zM201.67 78.5h0.9v0.9h-0.9zM199.29 76.25h0.9v0.9h-0.9zM202.15 71.62h0.9v0.9h-0.9zM192.9 78.04h0.9v0.9h-0.9zM200.56 74.42h0.9v0.9h-0.9zM201.94 75.23h0.9v0.9h-0.9zM193.7 73.4h0.9v0.9h-0.9zM200.23 73.61h0.9v0.9h-0.9zM195.99 75.75h0.9v0.9h-0.9zM197.06 73.71h0.9v0.9h-0.9zM202.39 77.21h0.9v0.9h-0.9zM194.16 75.19h0.9v0.9h-0.9zM206.14 71.46h0.9v0.9h-0.9zM204.8 71.88h0.9v0.9h-0.9zM208.77 73.09h0.9v0.9h-0.9zM197.51 77.57h0.9v0.9h-0.9zM200.9 76.11h0.9v0.9h-0.9zM199.67 75.64h0.9v0.9h-0.9zM199.23 72.79h0.9v0.9h-0.9zM193.22 77.29h0.9v0.9h-0.9zM196.43 76.59h0.9v0.9h-0.9zM199.36 72.02h0.9v0.9h-0.9zM195.86 78.19h0.9v0.9h-0.9zM208.85 75.94h0.9v0.9h-0.9zM192.01 76.14h0.9v0.9h-0.9zM193.47 72.02h0.9v0.9h-0.9zM199.66 76.18h0.9v0.9h-0.9zM205.59 74.69h0.9v0.9h-0.9zM194 76.57h0.9v0.9h-0.9zM194.24 73.09h0.9v0.9h-0.9zM198.99 76.96h0.9v0.9h-0.9zM202.43 73.51h0.9v0.9h-0.9zM198.63 73.98h0.9v0.9h-0.9zM194.72 78.28h0.9v0.9h-0.9zM207.58 76.68h0.9v0.9h-0.9zM195.46 73.51h0.9v0.9h-0.9zM206.78 77.52h0.9v0.9h-0.9zM196.17 73.8h0.9v0.9h-0.9zM206.15 72.27h0.9v0.9h-0.9zM191.8 76.43h0.9v0.9h-0.9zM197.36 73.09h0.9v0.9h-0.9zM203.94 72.65h0.9v0.9h-0.9zM209.02 73.78h0.9v0.9h-0.9zM195.45 73.8h0.9v0.9h-0.9zM198.44 75.65h0.9v0.9h-0.9zM197 75.88h0.9v0.9h-0.9zM200.62 78.46h0.9v0.9h-0.9zM191.61 76.86h0.9v0.9h-0.9zM204.45 73.69h0.9v0.9h-0.9zM193.58 71.67h0.9v0.9h-0.9zM190.86 75.76h0.9v0.9h-0.9zM199.42 74.44h0.9v0.9h-0.9zM206.59 70.45h0.9v0.9h-0.9zM194.2 73.57h0.9v0.9h-0.9zM199.32 74.28h0.9v0.9h-0.9zM207.32 71.12h0.9v0.9h-0.9zM199.51 75.01h0.9v0.9h-0.9zM194.33 72.97h0.9v0.9h-0.9zM198.63 74.68h0.9v0.9h-0.9zM197.3 71.69h0.9v0.9h-0.9zM200.27 74.79h0.9v0.9h-0.9zM192.56 72.1h0.9v0.9h-0.9zM207.19 76.1h0.9v0.9h-0.9zM207.17 72.16h0.9v0.9h-0.9zM191.48 75.65h0.9v0.9h-0.9zM190.86 72.61h0.9v0.9h-0.9zM207.31 74.71h0.9v0.9h-0.9zM192.14 72.9h0.9v0.9h-0.9zM197.43 75.29h0.9v0.9h-0.9zM195.37 76.46h0.9v0.9h-0.9zM208.83 78.98h0.9v0.9h-0.9zM202.01 78.05h0.9v0.9h-0.9zM194.81 77.61h0.9v0.9h-0.9zM199.72 75.1h0.9v0.9h-0.9zM195.13 73.24h0.9v0.9h-0.9zM193.34 70.76h0.9v0.9h-0.9zM195.27 71.69h0.9v0.9h-0.9zM204.13 75.9h0.9v0.9h-0.9zM207.23 76.06h0.9v0.9h-0.9zM195.88 72.73h0.9v0.9h-0.9zM199.43 78.43h0.9v0.9h-0.9zM197.23 78.61h0.9v0.9h-0.9zM194.01 76.4h0.9v0.9h-0.9zM201.05 78.61h0.9v0.9h-0.9zM191.67 78.09h0.9v0.9h-0.9zM202.39 76.9h0.9v0.9h-0.9zM198.04 72.68h0.9v0.9h-0.9zM196.61 78.64h0.9v0.9h-0.9zM208.97 73.91h0.9v0.9h-0.9zM199.77 76.43h0.9v0.9h-0.9zM202.25 73.47h0.9v0.9h-0.9zM192.55 79.84h0.9v0.9h-0.9zM199.25 78.13h0.9v0.9h-0.9zM205.46 76.25h0.9v0.9h-0.9zM197.07 78.18h0.9v0.9h-0.9zM190.72 73.46h0.9v0.9h-0.9zM195.09 77.32h0.9v0.9h-0.9zM199.67 77.74h0.9v0.9h-0.9zM197.49 74.59h0.9v0.9h-0.9zM209.33 76.36h0.9v0.9h-0.9zM192.18 78.94h0.9v0.9h-0.9zM194.21 76.11h0.9v0.9h-0.9zM194.03 76.06h0.9v0.9h-0.9zM199.33 73.14h0.9v0.9h-0.9zM205 74.98h0.9v0.9h-0.9zM193.88 78.61h0.9v0.9h-0.9zM206.45 72.32h0.9v0.9h-0.9zM207.07 77.9h0.9v0.9h-0.9zM206.08 77.87h0.9v0.9h-0.9zM206.96 74.44h0.9v0.9h-0.9zM197.34 77.65h0.9v0.9h-0.9zM198.77 73.38h0.9v0.9h-0.9zM195.34 73.55h0.9v0.9h-0.9zM195.34 72.48h0.9v0.9h-0.9zM191.15 80.19h0.9v0.9h-0.9zM207.61 75.69h0.9v0.9h-0.9zM195.99 72.02h0.9v0.9h-0.9zM206.83 72.67h0.9v0.9h-0.9zM202.16 72.03h0.9v0.9h-0.9zM195.68 73.91h0.9v0.9h-0.9zM196.18 72.79h0.9v0.9h-0.9zM207.53 73.3h0.9v0.9h-0.9zM192.3 76.93h0.9v0.9h-0.9zM202.55 75.17h0.9v0.9h-0.9zM207.52 76.63h0.9v0.9h-0.9zM191.85 75.05h0.9v0.9h-0.9zM196.1 77.02h0.9v0.9h-0.9zM193.67 72.67h0.9v0.9h-0.9zM207.97 76.63h0.9v0.9h-0.9zM202.31 73.52h0.9v0.9h-0.9zM194.53 77.4h0.9v0.9h-0.9zM208.4 74.33h0.9v0.9h-0.9zM194.84 72.99h0.9v0.9h-0.9zM203.63 79.38h0.9v0.9h-0.9zM207.14 72.47h0.9v0.9h-0.9zM209.21 78.58h0.9v0.9h-0.9zM202 76.91h0.9v0.9h-0.9zM205.48 75.68h0.9v0.9h-0.9zM202.45 75.47h0.9v0.9h-0.9zM202.89 73.9h0.9v0.9h-0.9zM201.46 79.62h0.9v0.9h-0.9zM199.68 74.59h0.9v0.9h-0.9zM198.48 78.87h0.9v0.9h-0.9zM191.56 74.1h0.9v0.9h-0.9zM209.01 77.55h0.9v0.9h-0.9zM193.24 72.91h0.9v0.9h-0.9zM206.42 77.24h0.9v0.9h-0.9zM195.87 75.94h0.9v0.9h-0.9zM206.86 74.96h0.9v0.9h-0.9zM200.07 77.64h0.9v0.9h-0.9zM204.66 75.54h0.9v0.9h-0.9zM202.09 74.44h0.9v0.9h-0.9zM198.59 71.64h0.9v0.9h-0.9zM204.32 73.74h0.9v0.9h-0.9zM205.94 77.62h0.9v0.9h-0.9zM202.67 75.34h0.9v0.9h-0.9zM200.85 79.28h0.9v0.9h-0.9zM194.01 77.28h0.9v0.9h-0.9zM193.99 73.52h0.9v0.9h-0.9zM195.3 79.32h0.9v0.9h-0.9zM195.99 73.38h0.9v0.9h-0.9zM198.19 74.36h0.9v0.9h-0.9zM207.07 73.5h0.9v0.9h-0.9zM193.81 73.03h0.9v0.9h-0.9zM193.47 72.8h0.9v0.9h-0.9zM203.45 72.68h0.9v0.9h-0.9zM203.96 73.35h0.9v0.9h-0.9zM195.35 79.15h0.9v0.9h-0.9zM197.89 76.14h0.9v0.9h-0.9zM208.53 76.61h0.9v0.9h-0.9zM202.32 74.29h0.9v0.9h-0.9zM191.32 73.39h0.9v0.9h-0.9zM199.19 72.37h0.9v0.9h-0.9zM191.22 77.98h0.9v0.9h-0.9zM193.53 72.98h0.9v0.9h-0.9zM206 78.51h0.9v0.9h-0.9zM194.68 76.04h0.9v0.9h-0.9zM207.55 74.73h0.9v0.9h-0.9zM206.12 75.49h0.9v0.9h-0.9zM205.83 75.58h0.9v0.9h-0.9zM191.4 78.27h0.9v0.9h-0.9zM192.97 72.23h0.9v0.9h-0.9zM195.92 73.24h0.9v0.9h-0.9zM204.71 75.03h0.9v0.9h-0.9zM194.59 74.33h0.9v0.9h-0.9zM198.86 72.89h0.9v0.9h-0.9zM201.84 72.94h0.9v0.9h-0.9zM197.85 72.13h0.9v0.9h-0.9zM208.21 71.98h0.9v0.9h-0.9zM201.35 76.08h0.9v0.9h-0.9z" fill="#000" fill-opacity="0.6"/>
<path d="M197.95 71.16h0.8v0.8h-0.8zM192.29 71.47h0.8v0.8h-0.8zM199.79 70.42h0.8v0.8h-0.8zM204.96 71.44h0.8v0.8h-0.8zM198.01 67.49h0.8v0.8h-0.8zM204.98 68.45h0.8v0.8h-0.8zM198.8 71.99h0.8v0.8h-0.8zM194.35 68.96h0.8v0.8h-0.8zM191.36 68.12h0.8v0.8h-0.8zM193.86 70.05h0.8v0.8h-0.8zM196.49 70.96h0.8v0.8h-0.8zM199.78 69.63h0.8v0.8h-0.8zM199.92 71.27h0.8v0.8h-0.8zM200.74 71.73h0.8v0.8h-0.8zM200.11 70.14h0.8v0.8h-0.8zM203.83 69.21h0.8v0.8h-0.8zM201.94 71.87h0.8v0.8h-0.8zM204.44 69.85h0.8v0.8h-0.8zM191.82 68.31h0.8v0.8h-0.8zM208.66 67.66h0.8v0.8h-0.8zM196.51 67.47h0.8v0.8h-0.8zM198.11 71.35h0.8v0.8h-0.8zM193.01 70.71h0.8v0.8h-0.8zM205.07 72.29h0.8v0.8h-0.8zM198.79 70.47h0.8v0.8h-0.8zM201.46 70.22h0.8v0.8h-0.8zM194.18 66.8h0.8v0.8h-0.8zM196.24 68.27h0.8v0.8h-0.8zM199.92 71.15h0.8v0.8h-0.8zM207.74 71.65h0.8v0.8h-0.8zM203.23 69.44h0.8v0.8h-0.8zM192.89 70.63h0.8v0.8h-0.8zM208.44 72.04h0.8v0.8h-0.8zM199.16 72.14h0.8v0.8h-0.8zM196.89 69.17h0.8v0.8h-0.8zM196.12 69.32h0.8v0.8h-0.8zM200.78 69.62h0.8v0.8h-0.8zM196.79 69.67h0.8v0.8h-0.8zM193.26 68.51h0.8v0.8h-0.8zM208.13 69.76h0.8v0.8h-0.8zM206.68 71.81h0.8v0.8h-0.8zM195.14 69.4h0.8v0.8h-0.8zM199.25 71.32h0.8v0.8h-0.8z" fill="#000" fill-opacity="0.4"/>
<path d="M199.73 70.71h0.8v0.8h-0.8zM208.71 72.34h0.8v0.8h-0.8zM202.2 70.37h0.8v0.8h-0.8zM200.23 69.82h0.8v0.8h-0.8zM195.96 69.51h0.8v0.8h-0.8zM198.67 71.53h0.8v0.8h-0.8zM195.16 71.96h0.8v0.8h-0.8zM202.21 69.5h0.8v0.8h-0.8zM196.18 67.52h0.8v0.8h-0.8zM198.36 71.55h0.8v0.8h-0.8zM192.06 70.64h0.8v0.8h-0.8zM195.68 68.17h0.8v0.8h-0.8zM195.81 68.68h0.8v0.8h-0.8zM195.85 70.11h0.8v0.8h-0.8zM192.4 72.28h0.8v0.8h-0.8zM200.28 69.15h0.8v0.8h-0.8zM201.72 68.93h0.8v0.8h-0.8zM206.26 71.34h0.8v0.8h-0.8zM203.08 69.25h0.8v0.8h-0.8zM194.05 69.85h0.8v0.8h-0.8zM203.56 68.97h0.8v0.8h-0.8zM202.53 68.89h0.8v0.8h-0.8zM197.79 69.32h0.8v0.8h-0.8zM204.05 69.81h0.8v0.8h-0.8zM193.94 69.69h0.8v0.8h-0.8zM204.73 71.3h0.8v0.8h-0.8zM196.5 68.41h0.8v0.8h-0.8zM204.55 66.36h0.8v0.8h-0.8zM205.96 69.49h0.8v0.8h-0.8zM210.23 70.41h0.8v0.8h-0.8zM196.76 67.95h0.8v0.8h-0.8zM198.48 70.44h0.8v0.8h-0.8zM198.6 67.67h0.8v0.8h-0.8zM195.01 67.66h0.8v0.8h-0.8zM193.64 68.43h0.8v0.8h-0.8zM206.43 70.4h0.8v0.8h-0.8zM201.85 70.9h0.8v0.8h-0.8zM211.06 70.24h0.8v0.8h-0.8zM202.9 71.39h0.8v0.8h-0.8zM203.96 68.4h0.8v0.8h-0.8zM209.22 67.62h0.8v0.8h-0.8zM197.93 70.91h0.8v0.8h-0.8zM200.29 68.72h0.8v0.8h-0.8z" fill="#000" fill-opacity="0.4"/>
<path d="M206.76 70.98h0.8v0.8h-0.8zM205.28 69.4h0.8v0.8h-0.8zM199.54 69.05h0.8v0.8h-0.8zM204.64 69.99h0.8v0.8h-0.8zM202.71 67.52h0.8v0.8h-0.8zM199.85 70.16h0.8v0.8h-0.8zM206.08 72.56h0.8v0.8h-0.8zM199.1 70.89h0.8v0.8h-0.8zM201.42 67.67h0.8v0.8h-0.8zM196.2 69.74h0.8v0.8h-0.8zM206.05 68.61h0.8v0.8h-0.8zM197.27 69.3h0.8v0.8h-0.8zM201.96 67.92h0.8v0.8h-0.8zM199.36 71.34h0.8v0.8h-0.8zM202.76 68.6h0.8v0.8h-0.8zM199.88 68.78h0.8v0.8h-0.8zM209.47 67.31h0.8v0.8h-0.8zM200.01 68.99h0.8v0.8h-0.8zM198.04 70.55h0.8v0.8h-0.8zM207.78 70.51h0.8v0.8h-0.8zM208.03 70.42h0.8v0.8h-0.8zM207.1 71.09h0.8v0.8h-0.8zM191.72 70.61h0.8v0.8h-0.8zM208.79 69.75h0.8v0.8h-0.8zM200.64 71.41h0.8v0.8h-0.8zM197.9 70.41h0.8v0.8h-0.8zM200.31 70.24h0.8v0.8h-0.8zM192.2 70.8h0.8v0.8h-0.8zM206.56 70.6h0.8v0.8h-0.8zM206.26 69.07h0.8v0.8h-0.8zM203.24 70.23h0.8v0.8h-0.8zM199.67 69.59h0.8v0.8h-0.8zM190.71 69.06h0.8v0.8h-0.8zM200.08 69.84h0.8v0.8h-0.8zM195.81 68.73h0.8v0.8h-0.8zM202.5 67.81h0.8v0.8h-0.8zM193.34 67.94h0.8v0.8h-0.8zM196.56 67.73h0.8v0.8h-0.8zM193.03 69.42h0.8v0.8h-0.8zM201.24 71.55h0.8v0.8h-0.8zM204.99 69.37h0.8v0.8h-0.8zM195.94 70.68h0.8v0.8h-0.8z" fill="#000" fill-opacity="0.4"/>
<path d="M204.99 70.94h0.8v0.8h-0.8zM208.08 69.69h0.8v0.8h-0.8zM200.85 71.8h0.8v0.8h-0.8zM194.61 69.22h0.8v0.8h-0.8zM199.99 70.26h0.8v0.8h-0.8zM205.55 70.44h0.8v0.8h-0.8zM199.68 70.43h0.8v0.8h-0.8zM197.01 67.67h0.8v0.8h-0.8zM196.69 69.09h0.8v0.8h-0.8zM199.68 71.34h0.8v0.8h-0.8zM206.39 71.14h0.8v0.8h-0.8zM201.88 68.28h0.8v0.8h-0.8zM208.43 70.68h0.8v0.8h-0.8zM199.05 71.24h0.8v0.8h-0.8zM193.86 67.98h0.8v0.8h-0.8zM202.65 70.64h0.8v0.8h-0.8zM204.34 72.03h0.8v0.8h-0.8zM207.52 70.59h0.8v0.8h-0.8zM207.99 69.38h0.8v0.8h-0.8zM205.14 71.75h0.8v0.8h-0.8zM192.01 70.15h0.8v0.8h-0.8zM194.93 70.41h0.8v0.8h-0.8zM200.54 67.72h0.8v0.8h-0.8zM201.01 71.67h0.8v0.8h-0.8zM196.41 70.36h0.8v0.8h-0.8zM204.52 71.46h0.8v0.8h-0.8zM198.49 67.17h0.8v0.8h-0.8zM198.45 71.84h0.8v0.8h-0.8zM199.27 69.79h0.8v0.8h-0.8zM204.26 69.9h0.8v0.8h-0.8zM201.47 70.4h0.8v0.8h-0.8zM208.28 69.21h0.8v0.8h-0.8zM199.48 67.85h0.8v0.8h-0.8zM205.96 68.85h0.8v0.8h-0.8zM201.79 70.45h0.8v0.8h-0.8zM202.89 68.33h0.8v0.8h-0.8zM192.62 70.63h0.8v0.8h-0.8zM208.58 69.01h0.8v0.8h-0.8zM203.1 68.37h0.8v0.8h-0.8zM209.3 67.5h0.8v0.8h-0.8zM206.73 69.35h0.8v0.8h-0.8zM196.86 68.55h0.8v0.8h-0.8z" fill="#000" fill-opacity="0.4"/>
<path d="M210.5 75.05h0.8v0.8h-0.8zM211.45 74.05h0.8v0.8h-0.8zM211.06 70.91h0.8v0.8h-0.8zM211.07 78.16h0.8v0.8h-0.8zM209.69 73.6h0.8v0.8h-0.8zM209.6 71.58h0.8v0.8h-0.8zM211.57 76.71h0.8v0.8h-0.8zM209.6 74.6h0.8v0.8h-0.8zM211.11 74.23h0.8v0.8h-0.8zM208.83 77.01h0.8v0.8h-0.8zM209.78 72.15h0.8v0.8h-0.8zM210.78 74.97h0.8v0.8h-0.8zM210.36 74.31h0.8v0.8h-0.8zM209.48 74.63h0.8v0.8h-0.8zM212.52 69.18h0.8v0.8h-0.8z" fill="#000" fill-opacity="0.4"/>
<path d="M211.78 76.8h0.8v0.8h-0.8zM212.58 74.15h0.8v0.8h-0.8zM208.76 73.09h0.8v0.8h-0.8zM208.94 72.57h0.8v0.8h-0.8zM211.37 73.45h0.8v0.8h-0.8zM212.1 72.84h0.8v0.8h-0.8zM210.77 72.74h0.8v0.8h-0.8zM213.71 71.86h0.8v0.8h-0.8zM211.47 75.76h0.8v0.8h-0.8zM210.75 71.24h0.8v0.8h-0.8zM209.89 77.56h0.8v0.8h-0.8zM208.82 76.72h0.8v0.8h-0.8zM209.92 75.8h0.8v0.8h-0.8zM211.8 76.93h0.8v0.8h-0.8zM210.52 73.74h0.8v0.8h-0.8z" fill="#000" fill-opacity="0.4"/>
<path d="M209.47 73.04h0.8v0.8h-0.8zM211.88 77.92h0.8v0.8h-0.8zM211.2 77.07h0.8v0.8h-0.8zM209.56 72.06h0.8v0.8h-0.8zM211.22 75.85h0.8v0.8h-0.8zM209.45 75.44h0.8v0.8h-0.8zM209.65 69.67h0.8v0.8h-0.8zM208.83 75.99h0.8v0.8h-0.8zM211.64 74.82h0.8v0.8h-0.8zM210.57 76.63h0.8v0.8h-0.8zM211.17 74.46h0.8v0.8h-0.8zM209.66 68.34h0.8v0.8h-0.8zM210.23 73.87h0.8v0.8h-0.8zM210.92 71.29h0.8v0.8h-0.8zM211.57 71.94h0.8v0.8h-0.8z" fill="#000" fill-opacity="0.4"/>
<path d="M210.52 76.55h0.8v0.8h-0.8zM212.06 75.02h0.8v0.8h-0.8zM210.4 77.01h0.8v0.8h-0.8zM212.11 72.34h0.8v0.8h-0.8zM209.87 68.93h0.8v0.8h-0.8zM210.55 72.32h0.8v0.8h-0.8zM210.88 75.47h0.8v0.8h-0.8zM210.08 73.36h0.8v0.8h-0.8zM208.39 77.76h0.8v0.8h-0.8zM209.5 74.63h0.8v0.8h-0.8zM210.42 74.83h0.8v0.8h-0.8zM211.19 71.66h0.8v0.8h-0.8zM209.56 73.86h0.8v0.8h-0.8zM211.51 76.75h0.8v0.8h-0.8zM210.13 80.04h0.8v0.8h-0.8z" fill="#000" fill-opacity="0.4"/>
<path d="M273.49 71.07h0.9v0.9h-0.9zM268.32 74.74h0.9v0.9h-0.9zM271.58 68.99h0.9v0.9h-0.9zM268.86 70.78h0.9v0.9h-0.9zM268.8 69.28h0.9v0.9h-0.9zM266.74 65.68h0.9v0.9h-0.9zM270.54 71.83h0.9v0.9h-0.9zM270.85 67.86h0.9v0.9h-0.9zM269.03 69.31h0.9v0.9h-0.9zM268.13 73.83h0.9v0.9h-0.9zM264.49 71.7h0.9v0.9h-0.9zM267.62 75h0.9v0.9h-0.9zM269.23 72.6h0.9v0.9h-0.9zM273.44 66.38h0.9v0.9h-0.9zM269.39 71.47h0.9v0.9h-0.9zM270.12 66.57h0.9v0.9h-0.9zM265.8 67.4h0.9v0.9h-0.9zM271.48 74.65h0.9v0.9h-0.9zM267.45 72.14h0.9v0.9h-0.9zM272.21 74.01h0.9v0.9h-0.9zM269.4 66.63h0.9v0.9h-0.9zM266.64 66.41h0.9v0.9h-0.9zM265.33 68.58h0.9v0.9h-0.9zM267.2 71.42h0.9v0.9h-0.9zM272.68 75.62h0.9v0.9h-0.9zM267.21 68.35h0.9v0.9h-0.9zM273.42 75.87h0.9v0.9h-0.9zM275.39 73.81h0.9v0.9h-0.9zM265.46 74.19h0.9v0.9h-0.9zM271.18 65.61h0.9v0.9h-0.9zM269.35 69.96h0.9v0.9h-0.9zM273.98 71.34h0.9v0.9h-0.9zM269.05 66.99h0.9v0.9h-0.9zM266.16 75.04h0.9v0.9h-0.9zM270.55 72.63h0.9v0.9h-0.9zM265.59 69.38h0.9v0.9h-0.9zM267.7 74.96h0.9v0.9h-0.9zM266.1 73.35h0.9v0.9h-0.9zM266.99 70.07h0.9v0.9h-0.9zM271.15 67.38h0.9v0.9h-0.9zM269.96 67.53h0.9v0.9h-0.9zM268.92 72.33h0.9v0.9h-0.9zM271.85 70.14h0.9v0.9h-0.9zM272.8 66.21h0.9v0.9h-0.9zM274.27 68.86h0.9v0.9h-0.9zM266.64 71.79h0.9v0.9h-0.9zM267.21 71.6h0.9v0.9h-0.9zM269.04 65.92h0.9v0.9h-0.9zM269.19 67.75h0.9v0.9h-0.9zM267.53 67.57h0.9v0.9h-0.9zM270.01 68.29h0.9v0.9h-0.9zM272.6 68.21h0.9v0.9h-0.9zM270.55 71.32h0.9v0.9h-0.9zM268.42 75.22h0.9v0.9h-0.9zM270.41 74.5h0.9v0.9h-0.9zM265.56 68.14h0.9v0.9h-0.9zM273.36 69.49h0.9v0.9h-0.9zM270.47 68.39h0.9v0.9h-0.9zM273.62 66.72h0.9v0.9h-0.9zM268.34 75.7h0.9v0.9h-0.9zM270 68.85h0.9v0.9h-0.9zM268.29 72.4h0.9v0.9h-0.9zM275.22 68.12h0.9v0.9h-0.9zM271.95 71.79h0.9v0.9h-0.9zM268.66 71.74h0.9v0.9h-0.9zM274.02 71.21h0.9v0.9h-0.9zM271.24 72.16h0.9v0.9h-0.9zM268.74 74.27h0.9v0.9h-0.9zM266.85 72.21h0.9v0.9h-0.9zM273.36 72.12h0.9v0.9h-0.9zM271.69 70.7h0.9v0.9h-0.9zM268.95 65.66h0.9v0.9h-0.9zM272.75 66.98h0.9v0.9h-0.9zM272.32 74.68h0.9v0.9h-0.9zM270.32 69h0.9v0.9h-0.9zM268.57 73.01h0.9v0.9h-0.9zM271.73 68.28h0.9v0.9h-0.9zM274.45 66.61h0.9v0.9h-0.9zM267.76 69.51h0.9v0.9h-0.9zM269.64 68.87h0.9v0.9h-0.9zM266.79 74.66h0.9v0.9h-0.9zM266.59 73.32h0.9v0.9h-0.9zM266.61 72.21h0.9v0.9h-0.9zM267.7 74.95h0.9v0.9h-0.9zM267.31 69.05h0.9v0.9h-0.9zM269.03 66.84h0.9v0.9h-0.9zM267.63 73.69h0.9v0.9h-0.9zM269.91 68.23h0.9v0.9h-0.9zM273.68 71.33h0.9v0.9h-0.9zM270.98 70.88h0.9v0.9h-0.9zM269.22 70.15h0.9v0.9h-0.9zM270.69 72.21h0.9v0.9h-0.9zM271.95 69.9h0.9v0.9h-0.9zM274.14 69.98h0.9v0.9h-0.9zM268.78 74.07h0.9v0.9h-0.9zM274.09 67.79h0.9v0.9h-0.9zM272.44 65.59h0.9v0.9h-0.9zM269.93 68h0.9v0.9h-0.9zM265 71.65h0.9v0.9h-0.9zM274.78 67.13h0.9v0.9h-0.9zM271.31 68.82h0.9v0.9h-0.9zM265.26 72.4h0.9v0.9h-0.9zM272.82 67.02h0.9v0.9h-0.9zM267.81 65.02h0.9v0.9h-0.9zM270.26 71.74h0.9v0.9h-0.9zM267.76 69.16h0.9v0.9h-0.9zM269.21 74.79h0.9v0.9h-0.9zM269.24 70.58h0.9v0.9h-0.9zM270.22 67.63h0.9v0.9h-0.9zM274.2 72.88h0.9v0.9h-0.9zM269.75 75.57h0.9v0.9h-0.9zM269.23 74.2h0.9v0.9h-0.9zM272.32 73.45h0.9v0.9h-0.9zM266.77 74.84h0.9v0.9h-0.9zM270.28 75.46h0.9v0.9h-0.9zM265.7 68.06h0.9v0.9h-0.9zM273.33 69.79h0.9v0.9h-0.9zM271.45 66.04h0.9v0.9h-0.9zM270.73 74.06h0.9v0.9h-0.9zM268.17 69.17h0.9v0.9h-0.9zM272.44 69.31h0.9v0.9h-0.9zM266.77 68.18h0.9v0.9h-0.9zM271.46 70.5h0.9v0.9h-0.9zM272.2 72.1h0.9v0.9h-0.9zM272.51 70.83h0.9v0.9h-0.9zM270.57 66.66h0.9v0.9h-0.9zM272.51 68.95h0.9v0.9h-0.9zM268.61 73.56h0.9v0.9h-0.9zM271.56 66.7h0.9v0.9h-0.9zM271.34 74.48h0.9v0.9h-0.9zM274.22 68.27h0.9v0.9h-0.9zM265.31 66.68h0.9v0.9h-0.9zM266.33 71.69h0.9v0.9h-0.9zM274.01 74.96h0.9v0.9h-0.9zM268.6 74.12h0.9v0.9h-0.9zM270.92 66.08h0.9v0.9h-0.9zM269.86 68.72h0.9v0.9h-0.9zM273.37 70.55h0.9v0.9h-0.9zM273 75.51h0.9v0.9h-0.9zM271.7 69.94h0.9v0.9h-0.9zM274.51 67.71h0.9v0.9h-0.9zM271.73 68.57h0.9v0.9h-0.9zM270.47 66.45h0.9v0.9h-0.9zM272.49 70.4h0.9v0.9h-0.9zM268.66 70.72h0.9v0.9h-0.9zM268.78 67.68h0.9v0.9h-0.9zM266.19 67.21h0.9v0.9h-0.9zM273.48 67.76h0.9v0.9h-0.9zM271.7 69.03h0.9v0.9h-0.9zM267.45 65.98h0.9v0.9h-0.9zM272.39 68.05h0.9v0.9h-0.9zM270.11 67.91h0.9v0.9h-0.9zM267.08 71h0.9v0.9h-0.9zM273.22 74.07h0.9v0.9h-0.9zM267.21 71.49h0.9v0.9h-0.9zM271.07 68.76h0.9v0.9h-0.9zM265.27 73.41h0.9v0.9h-0.9zM273.2 72.43h0.9v0.9h-0.9zM265.24 73.27h0.9v0.9h-0.9zM270.68 74.98h0.9v0.9h-0.9zM266.42 71.79h0.9v0.9h-0.9zM267.85 70.48h0.9v0.9h-0.9zM267.18 66.11h0.9v0.9h-0.9zM273.38 70.13h0.9v0.9h-0.9zM270.14 71.35h0.9v0.9h-0.9zM275.24 73.59h0.9v0.9h-0.9zM265.04 67.42h0.9v0.9h-0.9zM271.62 73.78h0.9v0.9h-0.9zM273.03 76.85h0.9v0.9h-0.9zM267.22 71.9h0.9v0.9h-0.9zM270.19 71.03h0.9v0.9h-0.9zM267.82 75.49h0.9v0.9h-0.9zM268.18 74.04h0.9v0.9h-0.9zM266.75 72.93h0.9v0.9h-0.9zM269.35 70.85h0.9v0.9h-0.9zM272.5 68.95h0.9v0.9h-0.9zM271.77 71.45h0.9v0.9h-0.9zM268.1 65.47h0.9v0.9h-0.9zM267.88 68.6h0.9v0.9h-0.9zM270.52 75.15h0.9v0.9h-0.9zM269.84 74.42h0.9v0.9h-0.9zM272.38 70.51h0.9v0.9h-0.9zM268.68 75.14h0.9v0.9h-0.9zM272.01 71.98h0.9v0.9h-0.9zM269.09 73.33h0.9v0.9h-0.9zM269.27 75.73h0.9v0.9h-0.9zM265.34 73.21h0.9v0.9h-0.9zM273.38 69.46h0.9v0.9h-0.9zM272.45 74.17h0.9v0.9h-0.9zM273.7 68.1h0.9v0.9h-0.9zM268.37 73.13h0.9v0.9h-0.9zM263.92 66.03h0.9v0.9h-0.9zM269.19 70.57h0.9v0.9h-0.9zM270.56 71.84h0.9v0.9h-0.9zM272.49 69.24h0.9v0.9h-0.9zM268.37 68.38h0.9v0.9h-0.9zM271.24 74.26h0.9v0.9h-0.9zM274.63 65.35h0.9v0.9h-0.9zM274.31 70.2h0.9v0.9h-0.9zM272.24 67.31h0.9v0.9h-0.9zM267.15 75.92h0.9v0.9h-0.9zM270.43 73.64h0.9v0.9h-0.9zM265.95 74.39h0.9v0.9h-0.9zM273.75 68.4h0.9v0.9h-0.9zM269.53 73.26h0.9v0.9h-0.9zM272.11 73.43h0.9v0.9h-0.9zM270.29 66.93h0.9v0.9h-0.9zM270.45 67.6h0.9v0.9h-0.9zM273.57 76.04h0.9v0.9h-0.9zM272.01 73.51h0.9v0.9h-0.9zM267.6 71.36h0.9v0.9h-0.9zM265.11 70.97h0.9v0.9h-0.9zM267.02 75.02h0.9v0.9h-0.9z" fill="#000" fill-opacity="0.6"/>
<path d="M268.54 73.32h0.9v0.9h-0.9zM269.88 71.24h0.9v0.9h-0.9zM267.31 70.69h0.9v0.9h-0.9zM272.65 68.5h0.9v0.9h-0.9zM271.44 73.39h0.9v0.9h-0.9zM272.61 72.65h0.9v0.9h-0.9zM268 66.84h0.9v0.9h-0.9zM265.47 69.04h0.9v0.9h-0.9zM268.1 72.07h0.9v0.9h-0.9zM268.4 76.32h0.9v0.9h-0.9zM270.02 67.97h0.9v0.9h-0.9zM271.54 67.64h0.9v0.9h-0.9zM269.26 73.92h0.9v0.9h-0.9zM265.03 70.11h0.9v0.9h-0.9zM270.72 67.82h0.9v0.9h-0.9zM271.21 73.91h0.9v0.9h-0.9zM269.63 68.3h0.9v0.9h-0.9zM270.07 68.86h0.9v0.9h-0.9zM268.79 72.58h0.9v0.9h-0.9zM270.53 65.3h0.9v0.9h-0.9zM269.18 67.04h0.9v0.9h-0.9zM267.13 74.33h0.9v0.9h-0.9zM269.59 73.82h0.9v0.9h-0.9zM266.78 72.63h0.9v0.9h-0.9zM265.7 70.46h0.9v0.9h-0.9zM267.3 68.55h0.9v0.9h-0.9zM270.51 67.5h0.9v0.9h-0.9zM268.06 72.28h0.9v0.9h-0.9zM269.46 76.1h0.9v0.9h-0.9zM273.78 67.56h0.9v0.9h-0.9zM266.53 75.05h0.9v0.9h-0.9zM268.04 73.15h0.9v0.9h-0.9zM271.96 72.81h0.9v0.9h-0.9zM274.76 67.43h0.9v0.9h-0.9zM271.35 70.69h0.9v0.9h-0.9zM270.42 66.64h0.9v0.9h-0.9zM269.28 74.01h0.9v0.9h-0.9zM269.65 75.17h0.9v0.9h-0.9zM269.73 72.32h0.9v0.9h-0.9zM270.95 72.55h0.9v0.9h-0.9zM266.95 70.54h0.9v0.9h-0.9zM268.93 74.89h0.9v0.9h-0.9zM266.18 74.44h0.9v0.9h-0.9zM266.35 71.62h0.9v0.9h-0.9zM270.24 70.3h0.9v0.9h-0.9zM269.09 75.73h0.9v0.9h-0.9zM270.25 68.56h0.9v0.9h-0.9zM271.96 66.59h0.9v0.9h-0.9zM270.18 74.02h0.9v0.9h-0.9zM272.33 72.83h0.9v0.9h-0.9zM270.12 67.49h0.9v0.9h-0.9zM275.77 71.42h0.9v0.9h-0.9zM274.01 68.29h0.9v0.9h-0.9zM272.24 72.26h0.9v0.9h-0.9zM270.21 67.53h0.9v0.9h-0.9zM271.32 74.89h0.9v0.9h-0.9zM264.4 75.16h0.9v0.9h-0.9zM271.61 69.15h0.9v0.9h-0.9zM267.81 64.46h0.9v0.9h-0.9zM270.99 70.87h0.9v0.9h-0.9zM269.83 75.78h0.9v0.9h-0.9zM273.08 67.82h0.9v0.9h-0.9zM271.66 72.19h0.9v0.9h-0.9zM266.22 70.71h0.9v0.9h-0.9zM269.79 68.36h0.9v0.9h-0.9zM265.9 69.88h0.9v0.9h-0.9zM271.35 72.69h0.9v0.9h-0.9zM266.56 66.55h0.9v0.9h-0.9zM273.85 66.63h0.9v0.9h-0.9zM267.96 68.29h0.9v0.9h-0.9zM271.52 74.6h0.9v0.9h-0.9zM268.43 75.57h0.9v0.9h-0.9zM273.61 67.28h0.9v0.9h-0.9zM275.48 68.89h0.9v0.9h-0.9zM269.23 73.03h0.9v0.9h-0.9zM271.65 72.45h0.9v0.9h-0.9zM270.84 71.41h0.9v0.9h-0.9zM267.32 65.79h0.9v0.9h-0.9zM266.54 69.43h0.9v0.9h-0.9zM270.52 70.77h0.9v0.9h-0.9zM273.33 74.13h0.9v0.9h-0.9zM271.18 66.8h0.9v0.9h-0.9zM266.8 72.36h0.9v0.9h-0.9zM271.06 71.72h0.9v0.9h-0.9zM271.46 72.8h0.9v0.9h-0.9zM270.41 70.45h0.9v0.9h-0.9zM270.02 67.17h0.9v0.9h-0.9zM266.99 71.24h0.9v0.9h-0.9zM274.79 73.97h0.9v0.9h-0.9zM268.51 67.33h0.9v0.9h-0.9zM272.46 69.94h0.9v0.9h-0.9zM269.42 72.92h0.9v0.9h-0.9zM265.49 73.76h0.9v0.9h-0.9zM266.33 69.88h0.9v0.9h-0.9zM266.9 68.69h0.9v0.9h-0.9zM265.79 73.34h0.9v0.9h-0.9zM269.83 69.9h0.9v0.9h-0.9zM271.16 69.45h0.9v0.9h-0.9zM271.66 69h0.9v0.9h-0.9zM266.1 73.99h0.9v0.9h-0.9zM265.13 73.88h0.9v0.9h-0.9zM268.1 73.56h0.9v0.9h-0.9zM273.13 72.56h0.9v0.9h-0.9zM264.08 71.08h0.9v0.9h-0.9zM267.04 74.07h0.9v0.9h-0.9zM266.8 68.85h0.9v0.9h-0.9zM273.86 72.32h0.9v0.9h-0.9zM268.84 69.28h0.9v0.9h-0.9zM271.56 73.58h0.9v0.9h-0.9zM269.66 68.13h0.9v0.9h-0.9zM271.91 75.4h0.9v0.9h-0.9zM270.07 72.24h0.9v0.9h-0.9zM267.15 71.48h0.9v0.9h-0.9zM271.83 69.34h0.9v0.9h-0.9zM267.05 67.18h0.9v0.9h-0.9zM269.38 69.01h0.9v0.9h-0.9zM273.56 69.93h0.9v0.9h-0.9zM266.95 68.2h0.9v0.9h-0.9zM268.39 69.36h0.9v0.9h-0.9zM268.42 71.83h0.9v0.9h-0.9zM270.07 69.51h0.9v0.9h-0.9zM265.22 73.86h0.9v0.9h-0.9zM273.08 70.72h0.9v0.9h-0.9zM268.82 67.85h0.9v0.9h-0.9zM274.89 70.97h0.9v0.9h-0.9zM270.16 74.99h0.9v0.9h-0.9zM269.49 69.87h0.9v0.9h-0.9zM268.31 74.36h0.9v0.9h-0.9zM264.62 73.78h0.9v0.9h-0.9zM268.53 70.9h0.9v0.9h-0.9zM267.61 65.53h0.9v0.9h-0.9zM269.94 73.24h0.9v0.9h-0.9zM272.29 71.16h0.9v0.9h-0.9zM266.51 66.16h0.9v0.9h-0.9zM274.06 76.27h0.9v0.9h-0.9zM271.87 68.2h0.9v0.9h-0.9zM268.36 66.91h0.9v0.9h-0.9zM266.84 66.55h0.9v0.9h-0.9zM275 69.09h0.9v0.9h-0.9zM270.27 74.71h0.9v0.9h-0.9zM267.97 73.38h0.9v0.9h-0.9zM266.85 74.49h0.9v0.9h-0.9zM268.42 66.12h0.9v0.9h-0.9zM273.77 74.67h0.9v0.9h-0.9zM274.11 74.22h0.9v0.9h-0.9zM268.22 74.47h0.9v0.9h-0.9zM266.52 67.7h0.9v0.9h-0.9zM273.14 75.21h0.9v0.9h-0.9zM272.41 70.9h0.9v0.9h-0.9zM271.22 66.94h0.9v0.9h-0.9zM267.75 69.63h0.9v0.9h-0.9zM267.21 68.45h0.9v0.9h-0.9zM266.24 67.59h0.9v0.9h-0.9zM271.18 70.26h0.9v0.9h-0.9zM266.53 75.26h0.9v0.9h-0.9zM267.15 71.66h0.9v0.9h-0.9zM271.76 65.86h0.9v0.9h-0.9zM271.07 70.16h0.9v0.9h-0.9zM270.18 73.78h0.9v0.9h-0.9zM270.29 66.53h0.9v0.9h-0.9zM271.19 72.77h0.9v0.9h-0.9zM272.95 74.61h0.9v0.9h-0.9zM266.18 66.06h0.9v0.9h-0.9zM273.97 67.26h0.9v0.9h-0.9zM268.85 71.28h0.9v0.9h-0.9zM272.3 66.9h0.9v0.9h-0.9zM274.2 69.85h0.9v0.9h-0.9zM271.29 71.57h0.9v0.9h-0.9zM269.73 73.27h0.9v0.9h-0.9zM266.51 71.89h0.9v0.9h-0.9zM269.41 74h0.9v0.9h-0.9zM268.79 73.16h0.9v0.9h-0.9zM265.83 74.83h0.9v0.9h-0.9zM266.69 75.12h0.9v0.9h-0.9zM267.33 64.56h0.9v0.9h-0.9zM266.81 74.62h0.9v0.9h-0.9zM267.82 73.71h0.9v0.9h-0.9zM271.83 74.66h0.9v0.9h-0.9zM265.16 71.56h0.9v0.9h-0.9zM274.67 71.38h0.9v0.9h-0.9zM271.47 74.13h0.9v0.9h-0.9zM270.28 68.11h0.9v0.9h-0.9zM270.61 68.4h0.9v0.9h-0.9zM270.03 67.23h0.9v0.9h-0.9zM265.82 70.75h0.9v0.9h-0.9zM266.67 69.02h0.9v0.9h-0.9zM267.82 74.3h0.9v0.9h-0.9zM269.43 67.28h0.9v0.9h-0.9zM274.29 72.45h0.9v0.9h-0.9zM269.09 71.08h0.9v0.9h-0.9zM268.72 71.54h0.9v0.9h-0.9zM270.72 71.5h0.9v0.9h-0.9zM270.93 75.12h0.9v0.9h-0.9zM272.06 66.03h0.9v0.9h-0.9zM268.35 74.83h0.9v0.9h-0.9zM272.57 71.32h0.9v0.9h-0.9zM270.64 71.58h0.9v0.9h-0.9zM270.15 74.5h0.9v0.9h-0.9zM270.48 68.49h0.9v0.9h-0.9zM265.28 76.12h0.9v0.9h-0.9zM267.83 68.37h0.9v0.9h-0.9zM267.66 69.88h0.9v0.9h-0.9zM267.99 72.58h0.9v0.9h-0.9zM264.83 66.6h0.9v0.9h-0.9zM272.16 70.17h0.9v0.9h-0.9zM265.83 72.51h0.9v0.9h-0.9zM266.5 70.72h0.9v0.9h-0.9zM273.61 73.01h0.9v0.9h-0.9zM271.36 69.64h0.9v0.9h-0.9zM270.56 74.85h0.9v0.9h-0.9zM267.08 74.7h0.9v0.9h-0.9zM273.23 72.64h0.9v0.9h-0.9zM269.43 70.5h0.9v0.9h-0.9z" fill="#000" fill-opacity="0.6"/>
<path d="M266.56 70.83h0.9v0.9h-0.9zM272.02 68.99h0.9v0.9h-0.9zM266.58 72.24h0.9v0.9h-0.9zM270.48 73.78h0.9v0.9h-0.9zM271.15 75.1h0.9v0.9h-0.9zM273.56 76.26h0.9v0.9h-0.9zM271.59 72.99h0.9v0.9h-0.9zM266.26 71.95h0.9v0.9h-0.9zM270.19 69.21h0.9v0.9h-0.9zM267.96 67.7h0.9v0.9h-0.9zM265.73 73.65h0.9v0.9h-0.9zM272.64 68.52h0.9v0.9h-0.9zM274.21 69.42h0.9v0.9h-0.9zM273.63 70.4h0.9v0.9h-0.9zM266.53 74.13h0.9v0.9h-0.9zM272.79 71.57h0.9v0.9h-0.9zM271.49 69.71h0.9v0.9h-0.9zM267.73 70.1h0.9v0.9h-0.9zM272.46 67.92h0.9v0.9h-0.9zM272.67 67h0.9v0.9h-0.9zM268.14 69.65h0.9v0.9h-0.9zM273.64 74.07h0.9v0.9h-0.9zM270.27 68.75h0.9v0.9h-0.9zM270.04 70.55h0.9v0.9h-0.9zM272.4 73.17h0.9v0.9h-0.9zM273.71 74.89h0.9v0.9h-0.9zM270.88 73.9h0.9v0.9h-0.9zM266.8 73.27h0.9v0.9h-0.9zM275.34 73.61h0.9v0.9h-0.9zM274.41 66.78h0.9v0.9h-0.9zM273.06 72.34h0.9v0.9h-0.9zM271.5 70.18h0.9v0.9h-0.9zM272.14 72.17h0.9v0.9h-0.9zM272 72.11h0.9v0.9h-0.9zM268.66 69.4h0.9v0.9h-0.9zM274.06 70.14h0.9v0.9h-0.9zM273.56 71.3h0.9v0.9h-0.9zM272.06 70.7h0.9v0.9h-0.9zM270.63 68.35h0.9v0.9h-0.9zM272.93 71.5h0.9v0.9h-0.9zM271.52 70.35h0.9v0.9h-0.9zM268.48 70.05h0.9v0.9h-0.9zM270.18 69.37h0.9v0.9h-0.9zM272.1 67.81h0.9v0.9h-0.9zM267.01 76.84h0.9v0.9h-0.9zM268.45 73.33h0.9v0.9h-0.9zM266.06 68.87h0.9v0.9h-0.9zM271.26 68h0.9v0.9h-0.9zM270.87 71.09h0.9v0.9h-0.9zM269.35 73.79h0.9v0.9h-0.9zM270.3 74.24h0.9v0.9h-0.9zM269.63 71.07h0.9v0.9h-0.9zM273.17 74.23h0.9v0.9h-0.9zM270.19 73.56h0.9v0.9h-0.9zM268.23 67.91h0.9v0.9h-0.9zM269.85 71.99h0.9v0.9h-0.9zM274.25 66.85h0.9v0.9h-0.9zM269.67 70.68h0.9v0.9h-0.9zM265.15 72.34h0.9v0.9h-0.9zM274.23 66.77h0.9v0.9h-0.9zM274.52 73.32h0.9v0.9h-0.9zM271.51 67.15h0.9v0.9h-0.9zM272.13 74.69h0.9v0.9h-0.9zM266.82 68.03h0.9v0.9h-0.9zM271.45 66.64h0.9v0.9h-0.9zM272.85 72.34h0.9v0.9h-0.9zM270.51 70.67h0.9v0.9h-0.9zM272.75 74.74h0.9v0.9h-0.9zM265.73 71.08h0.9v0.9h-0.9zM269.24 65.63h0.9v0.9h-0.9zM271.99 65.86h0.9v0.9h-0.9zM273.67 69.89h0.9v0.9h-0.9zM273.81 66.57h0.9v0.9h-0.9zM267.03 68.83h0.9v0.9h-0.9zM269.2 70.25h0.9v0.9h-0.9zM272.48 70.92h0.9v0.9h-0.9zM270.88 71.42h0.9v0.9h-0.9zM270.69 69.66h0.9v0.9h-0.9zM265.83 72.27h0.9v0.9h-0.9zM269.11 74.02h0.9v0.9h-0.9zM266.71 67.61h0.9v0.9h-0.9zM270.68 67.98h0.9v0.9h-0.9zM266.41 70.94h0.9v0.9h-0.9zM275.63 67.78h0.9v0.9h-0.9zM272.6 72.04h0.9v0.9h-0.9zM267.59 69.69h0.9v0.9h-0.9zM266.82 70.33h0.9v0.9h-0.9zM266.17 71.24h0.9v0.9h-0.9zM264.92 73.58h0.9v0.9h-0.9zM267.89 73.37h0.9v0.9h-0.9zM266.42 67.89h0.9v0.9h-0.9zM275.18 70.65h0.9v0.9h-0.9zM266.78 68.67h0.9v0.9h-0.9zM273.38 67.46h0.9v0.9h-0.9zM273.59 73.75h0.9v0.9h-0.9zM268.1 68.64h0.9v0.9h-0.9zM266.84 68.05h0.9v0.9h-0.9zM272.02 67.62h0.9v0.9h-0.9zM266.77 68.05h0.9v0.9h-0.9zM271.14 73.32h0.9v0.9h-0.9zM271.42 70.42h0.9v0.9h-0.9zM267.75 71.94h0.9v0.9h-0.9zM274.69 72.7h0.9v0.9h-0.9zM274.33 68.45h0.9v0.9h-0.9zM271.2 68.33h0.9v0.9h-0.9zM265.69 66.77h0.9v0.9h-0.9zM269.33 66.8h0.9v0.9h-0.9zM267.92 72.16h0.9v0.9h-0.9zM267.14 67.19h0.9v0.9h-0.9zM270.42 76.35h0.9v0.9h-0.9zM267.06 65.19h0.9v0.9h-0.9zM271.75 74.7h0.9v0.9h-0.9zM273.99 70.74h0.9v0.9h-0.9zM265.98 75.34h0.9v0.9h-0.9zM265.29 70.04h0.9v0.9h-0.9zM268.46 74.96h0.9v0.9h-0.9zM270.09 71.22h0.9v0.9h-0.9zM270.43 69.88h0.9v0.9h-0.9zM264.98 71.18h0.9v0.9h-0.9zM275.89 74.54h0.9v0.9h-0.9zM267.49 73.47h0.9v0.9h-0.9zM267.71 74.33h0.9v0.9h-0.9zM271.89 72.01h0.9v0.9h-0.9zM270.82 67.58h0.9v0.9h-0.9zM267.23 71.72h0.9v0.9h-0.9zM271.83 74.21h0.9v0.9h-0.9zM273.52 70.44h0.9v0.9h-0.9zM269.15 69.67h0.9v0.9h-0.9zM267.22 68.93h0.9v0.9h-0.9zM271.03 71.7h0.9v0.9h-0.9zM267.46 68.87h0.9v0.9h-0.9zM273.25 67.41h0.9v0.9h-0.9zM267.85 72.52h0.9v0.9h-0.9zM273.18 67.34h0.9v0.9h-0.9zM270.09 68.96h0.9v0.9h-0.9zM270.6 72.35h0.9v0.9h-0.9zM270.07 69.66h0.9v0.9h-0.9zM268.88 68.79h0.9v0.9h-0.9zM272.35 73.64h0.9v0.9h-0.9zM272.68 69.55h0.9v0.9h-0.9zM273.17 74.34h0.9v0.9h-0.9zM272.14 70.34h0.9v0.9h-0.9zM267.59 66.45h0.9v0.9h-0.9zM268.66 69.79h0.9v0.9h-0.9zM272.36 70.26h0.9v0.9h-0.9zM274.38 75.19h0.9v0.9h-0.9zM266.51 67.51h0.9v0.9h-0.9zM268.87 65.68h0.9v0.9h-0.9zM267.32 69.87h0.9v0.9h-0.9zM269.1 69.78h0.9v0.9h-0.9zM274.39 71.79h0.9v0.9h-0.9zM269.47 72.82h0.9v0.9h-0.9zM271.61 74.14h0.9v0.9h-0.9zM275.07 67.69h0.9v0.9h-0.9zM272.09 69.85h0.9v0.9h-0.9zM272.63 68.7h0.9v0.9h-0.9zM271.25 73.85h0.9v0.9h-0.9zM268.08 69.36h0.9v0.9h-0.9zM271.16 71.78h0.9v0.9h-0.9zM271.68 67.1h0.9v0.9h-0.9zM274.27 74.06h0.9v0.9h-0.9zM269.39 69.96h0.9v0.9h-0.9zM267.4 68.99h0.9v0.9h-0.9zM268.62 71.21h0.9v0.9h-0.9zM265.94 69.87h0.9v0.9h-0.9zM271.62 66.17h0.9v0.9h-0.9zM268.87 66.8h0.9v0.9h-0.9zM268.5 71.81h0.9v0.9h-0.9zM270.07 69.9h0.9v0.9h-0.9zM267.89 76.05h0.9v0.9h-0.9zM273.1 69.74h0.9v0.9h-0.9zM271.13 68.01h0.9v0.9h-0.9zM265.65 73.59h0.9v0.9h-0.9zM270.05 75.69h0.9v0.9h-0.9zM270.88 71.25h0.9v0.9h-0.9zM272.75 69.9h0.9v0.9h-0.9zM272.65 69.41h0.9v0.9h-0.9zM271.34 75.39h0.9v0.9h-0.9zM269.23 67.1h0.9v0.9h-0.9zM271.09 73.85h0.9v0.9h-0.9zM264.98 72.54h0.9v0.9h-0.9zM268.79 74.87h0.9v0.9h-0.9zM268.27 70.16h0.9v0.9h-0.9zM273.33 67.35h0.9v0.9h-0.9zM267.45 74.59h0.9v0.9h-0.9zM266.01 73.27h0.9v0.9h-0.9zM273.53 66.73h0.9v0.9h-0.9zM268.52 70.18h0.9v0.9h-0.9zM274.84 69.36h0.9v0.9h-0.9zM271.37 74.15h0.9v0.9h-0.9zM270.68 72.12h0.9v0.9h-0.9zM272.02 66.18h0.9v0.9h-0.9zM274.37 71.01h0.9v0.9h-0.9zM272.29 73.69h0.9v0.9h-0.9zM267.73 71.21h0.9v0.9h-0.9zM268.09 71.48h0.9v0.9h-0.9zM270.31 73.57h0.9v0.9h-0.9zM267.21 67.74h0.9v0.9h-0.9zM264.72 66.58h0.9v0.9h-0.9zM271.53 69.95h0.9v0.9h-0.9zM268.9 69.97h0.9v0.9h-0.9zM274.66 68.61h0.9v0.9h-0.9zM270.63 71.7h0.9v0.9h-0.9zM266.08 72.59h0.9v0.9h-0.9zM270.3 73.64h0.9v0.9h-0.9zM268.03 67.74h0.9v0.9h-0.9zM266.88 67.24h0.9v0.9h-0.9zM267.74 69.48h0.9v0.9h-0.9zM269.08 74.94h0.9v0.9h-0.9zM272.9 73.88h0.9v0.9h-0.9zM271.62 70.3h0.9v0.9h-0.9zM267.97 66.45h0.9v0.9h-0.9z" fill="#000" fill-opacity="0.6"/>
<path d="M271.16 65.15h0.9v0.9h-0.9zM274.88 66.88h0.9v0.9h-0.9zM274.09 70.75h0.9v0.9h-0.9zM267.16 66h0.9v0.9h-0.9zM269.05 67.57h0.9v0.9h-0.9zM267.84 72.81h0.9v0.9h-0.9zM272.28 69.06h0.9v0.9h-0.9zM266.37 75.63h0.9v0.9h-0.9zM267.91 69.48h0.9v0.9h-0.9zM268.75 73.94h0.9v0.9h-0.9zM271.09 69.75h0.9v0.9h-0.9zM276.14 74.06h0.9v0.9h-0.9zM267.93 75.06h0.9v0.9h-0.9zM268.25 70.71h0.9v0.9h-0.9zM273.65 71.76h0.9v0.9h-0.9zM271.47 70.89h0.9v0.9h-0.9zM271.7 68.99h0.9v0.9h-0.9zM273.62 67.46h0.9v0.9h-0.9zM274.52 69.9h0.9v0.9h-0.9zM267.13 70.73h0.9v0.9h-0.9zM271.6 72.69h0.9v0.9h-0.9zM270.53 77.29h0.9v0.9h-0.9zM268.13 67.71h0.9v0.9h-0.9zM269.6 74.84h0.9v0.9h-0.9zM266.65 74.66h0.9v0.9h-0.9zM267.04 71.97h0.9v0.9h-0.9zM272.49 65.73h0.9v0.9h-0.9zM270.09 70.47h0.9v0.9h-0.9zM273.03 70.37h0.9v0.9h-0.9zM272.98 66.22h0.9v0.9h-0.9zM269.48 70.89h0.9v0.9h-0.9zM274.44 69.28h0.9v0.9h-0.9zM266.29 72.96h0.9v0.9h-0.9zM268.32 71.39h0.9v0.9h-0.9zM267.74 68.6h0.9v0.9h-0.9zM270.26 74.63h0.9v0.9h-0.9zM274.15 66.4h0.9v0.9h-0.9zM269.13 66.53h0.9v0.9h-0.9zM271.7 72.51h0.9v0.9h-0.9zM268.16 67.98h0.9v0.9h-0.9zM273.27 74.21h0.9v0.9h-0.9zM267.8 73.21h0.9v0.9h-0.9zM267.19 74.8h0.9v0.9h-0.9zM274.35 65.61h0.9v0.9h-0.9zM271.02 67.92h0.9v0.9h-0.9zM270.93 68.71h0.9v0.9h-0.9zM265.62 66.28h0.9v0.9h-0.9zM269.8 71.87h0.9v0.9h-0.9zM266.63 74.72h0.9v0.9h-0.9zM268.62 74.34h0.9v0.9h-0.9zM270.07 74.95h0.9v0.9h-0.9zM266.77 67.12h0.9v0.9h-0.9zM265.08 72.77h0.9v0.9h-0.9zM270.59 74h0.9v0.9h-0.9zM274.28 66.95h0.9v0.9h-0.9zM270.91 72.56h0.9v0.9h-0.9zM269.07 69.24h0.9v0.9h-0.9zM271.78 75.99h0.9v0.9h-0.9zM267.05 73.95h0.9v0.9h-0.9zM270.04 75.08h0.9v0.9h-0.9zM263.89 69.5h0.9v0.9h-0.9zM274.79 72.6h0.9v0.9h-0.9zM267.5 70.95h0.9v0.9h-0.9zM268.51 72.7h0.9v0.9h-0.9zM272.28 70.57h0.9v0.9h-0.9zM270 72.88h0.9v0.9h-0.9zM272.82 69.52h0.9v0.9h-0.9zM265.95 68.76h0.9v0.9h-0.9zM271.75 71.62h0.9v0.9h-0.9zM267 66h0.9v0.9h-0.9zM272.4 67.85h0.9v0.9h-0.9zM266.35 71.88h0.9v0.9h-0.9zM273.02 74.4h0.9v0.9h-0.9zM271.63 72.95h0.9v0.9h-0.9zM268.9 66.78h0.9v0.9h-0.9zM269.05 74.72h0.9v0.9h-0.9zM271 65.17h0.9v0.9h-0.9zM268.12 68.33h0.9v0.9h-0.9zM268.23 65.44h0.9v0.9h-0.9zM273.59 73.11h0.9v0.9h-0.9zM270.3 68.7h0.9v0.9h-0.9zM265.18 73.75h0.9v0.9h-0.9zM269.15 71.6h0.9v0.9h-0.9zM270.05 73.67h0.9v0.9h-0.9zM273.17 66.52h0.9v0.9h-0.9zM267.93 75.35h0.9v0.9h-0.9zM273.1 75.59h0.9v0.9h-0.9zM268.88 68.19h0.9v0.9h-0.9zM274.06 70.66h0.9v0.9h-0.9zM265.94 67.15h0.9v0.9h-0.9zM265.63 70.28h0.9v0.9h-0.9zM267.81 65.37h0.9v0.9h-0.9zM272.28 70.87h0.9v0.9h-0.9zM269.79 71.41h0.9v0.9h-0.9zM267.1 69.02h0.9v0.9h-0.9zM268.24 73.21h0.9v0.9h-0.9zM266.54 72.8h0.9v0.9h-0.9zM270.34 73.69h0.9v0.9h-0.9zM271.57 68.41h0.9v0.9h-0.9zM265.98 73.65h0.9v0.9h-0.9zM266.04 71.1h0.9v0.9h-0.9zM271.16 70.29h0.9v0.9h-0.9zM264.78 69.62h0.9v0.9h-0.9zM269.15 67.25h0.9v0.9h-0.9zM272.48 70.21h0.9v0.9h-0.9zM268.71 73.21h0.9v0.9h-0.9zM272.32 74.65h0.9v0.9h-0.9zM267.46 73.07h0.9v0.9h-0.9zM272.98 70.22h0.9v0.9h-0.9zM274.06 68.06h0.9v0.9h-0.9zM273.52 69.33h0.9v0.9h-0.9zM266.45 68.27h0.9v0.9h-0.9zM273.38 71.17h0.9v0.9h-0.9zM267.44 72.2h0.9v0.9h-0.9zM266.58 74.21h0.9v0.9h-0.9zM268.06 70.18h0.9v0.9h-0.9zM271.65 72.25h0.9v0.9h-0.9zM267.99 72.94h0.9v0.9h-0.9zM272.61 75.03h0.9v0.9h-0.9zM273.53 75.34h0.9v0.9h-0.9zM267.57 73.56h0.9v0.9h-0.9zM267.51 66.61h0.9v0.9h-0.9zM268.57 75.44h0.9v0.9h-0.9zM269.32 70.47h0.9v0.9h-0.9zM267.38 72.02h0.9v0.9h-0.9zM275 73.56h0.9v0.9h-0.9zM266.68 74.06h0.9v0.9h-0.9zM272.8 75.71h0.9v0.9h-0.9zM273.55 71.64h0.9v0.9h-0.9zM266.43 71.01h0.9v0.9h-0.9zM273.03 71.9h0.9v0.9h-0.9zM271.98 69.66h0.9v0.9h-0.9zM267.38 68.52h0.9v0.9h-0.9zM266.47 70.77h0.9v0.9h-0.9zM267.97 70.25h0.9v0.9h-0.9zM266.38 67.58h0.9v0.9h-0.9zM267.66 71.35h0.9v0.9h-0.9zM273.45 73.53h0.9v0.9h-0.9zM275.02 71.37h0.9v0.9h-0.9zM270.65 70.12h0.9v0.9h-0.9zM266.81 71.85h0.9v0.9h-0.9zM271.8 74.26h0.9v0.9h-0.9zM270.86 68.63h0.9v0.9h-0.9zM267.33 71.03h0.9v0.9h-0.9zM267.29 69.76h0.9v0.9h-0.9zM276.08 68.5h0.9v0.9h-0.9zM267.09 64.64h0.9v0.9h-0.9zM266.13 71.93h0.9v0.9h-0.9zM269.35 71.14h0.9v0.9h-0.9zM269.43 69.18h0.9v0.9h-0.9zM274.51 76.18h0.9v0.9h-0.9zM272.81 66.84h0.9v0.9h-0.9zM272.85 67.99h0.9v0.9h-0.9zM274.21 71.47h0.9v0.9h-0.9zM265.65 68.04h0.9v0.9h-0.9zM273.02 72.39h0.9v0.9h-0.9zM272.89 73.02h0.9v0.9h-0.9zM273 73.38h0.9v0.9h-0.9zM270.23 72.33h0.9v0.9h-0.9zM270.08 73.36h0.9v0.9h-0.9zM268.3 67.92h0.9v0.9h-0.9zM266.91 68.3h0.9v0.9h-0.9zM268.22 75.64h0.9v0.9h-0.9zM264.07 71.06h0.9v0.9h-0.9zM273.99 67.11h0.9v0.9h-0.9zM265.13 72.35h0.9v0.9h-0.9zM268.98 71.15h0.9v0.9h-0.9zM267.63 75.87h0.9v0.9h-0.9zM271.33 70.22h0.9v0.9h-0.9zM265.46 69.47h0.9v0.9h-0.9zM273.58 66.56h0.9v0.9h-0.9zM264.28 67.75h0.9v0.9h-0.9zM273.76 68.4h0.9v0.9h-0.9zM267.42 72.55h0.9v0.9h-0.9zM271.96 69.51h0.9v0.9h-0.9zM271.71 66.39h0.9v0.9h-0.9zM268.47 75.62h0.9v0.9h-0.9zM267.67 68.1h0.9v0.9h-0.9zM264.73 67.79h0.9v0.9h-0.9zM272.05 73.58h0.9v0.9h-0.9zM267.49 68.72h0.9v0.9h-0.9zM269.96 65.34h0.9v0.9h-0.9zM266.75 70.38h0.9v0.9h-0.9zM272.01 71.06h0.9v0.9h-0.9zM274.79 68.09h0.9v0.9h-0.9zM275.14 71.98h0.9v0.9h-0.9zM272.38 65.26h0.9v0.9h-0.9zM267.96 67.93h0.9v0.9h-0.9zM264.83 65.86h0.9v0.9h-0.9zM268.35 70.08h0.9v0.9h-0.9zM268.42 72.52h0.9v0.9h-0.9zM274.24 67.06h0.9v0.9h-0.9zM269.55 68.29h0.9v0.9h-0.9zM271.52 71.46h0.9v0.9h-0.9zM270.85 75.76h0.9v0.9h-0.9zM266.47 68.29h0.9v0.9h-0.9zM266.9 69.62h0.9v0.9h-0.9zM266.49 71.47h0.9v0.9h-0.9zM265.87 74.5h0.9v0.9h-0.9zM270.53 73.97h0.9v0.9h-0.9zM266.76 66.37h0.9v0.9h-0.9zM269.97 75.99h0.9v0.9h-0.9zM267.93 67.68h0.9v0.9h-0.9zM271.08 68.85h0.9v0.9h-0.9zM270.54 72.77h0.9v0.9h-0.9zM269.44 66.39h0.9v0.9h-0.9zM266.61 72.09h0.9v0.9h-0.9zM268.47 67.45h0.9v0.9h-0.9zM269.85 67.28h0.9v0.9h-0.9zM272.79 73.44h0.9v0.9h-0.9zM272.23 67.63h0.9v0.9h-0.9zM266.61 74.31h0.9v0.9h-0.9z" fill="#000" fill-opacity="0.6"/>
<path d="M274.2 64.1h0.9v0.9h-0.9zM268.12 64.06h0.9v0.9h-0.9zM274.95 64.73h0.9v0.9h-0.9zM270.83 67.05h0.9v0.9h-0.9zM270.36 63.6h0.9v0.9h-0.9zM268.54 65.59h0.9v0.9h-0.9zM270.55 64.76h0.9v0.9h-0.9zM270.58 66.36h0.9v0.9h-0.9zM266.65 65.21h0.9v0.9h-0.9zM268.75 65.13h0.9v0.9h-0.9zM268.3 66.44h0.9v0.9h-0.9zM271.88 66.45h0.9v0.9h-0.9zM266.46 64.41h0.9v0.9h-0.9zM270.63 66.31h0.9v0.9h-0.9zM268.54 63.65h0.9v0.9h-0.9zM268.95 63.69h0.9v0.9h-0.9zM269.63 66.99h0.9v0.9h-0.9zM274.41 64.54h0.9v0.9h-0.9zM270.85 64.46h0.9v0.9h-0.9zM267.75 64.11h0.9v0.9h-0.9zM272.01 67.14h0.9v0.9h-0.9zM275.59 64.26h0.9v0.9h-0.9zM270.12 64.51h0.9v0.9h-0.9zM268.94 63.63h0.9v0.9h-0.9zM270.46 63.78h0.9v0.9h-0.9zM268.35 67.61h0.9v0.9h-0.9zM267.76 66.22h0.9v0.9h-0.9zM267.92 64.6h0.9v0.9h-0.9zM270.39 64.68h0.9v0.9h-0.9zM270.99 65.32h0.9v0.9h-0.9z" fill="#000" fill-opacity="0.5"/>
<path d="M269.49 63.37h0.9v0.9h-0.9zM266.11 66.57h0.9v0.9h-0.9zM268.74 64.67h0.9v0.9h-0.9zM268.94 64.28h0.9v0.9h-0.9zM272.05 62.26h0.9v0.9h-0.9zM268.23 65.19h0.9v0.9h-0.9zM267.16 63.63h0.9v0.9h-0.9zM271.21 63.45h0.9v0.9h-0.9zM269.34 65.04h0.9v0.9h-0.9zM273.43 66.19h0.9v0.9h-0.9zM269.55 63.46h0.9v0.9h-0.9zM273.01 67.03h0.9v0.9h-0.9zM271.1 65.8h0.9v0.9h-0.9zM270.78 64.59h0.9v0.9h-0.9zM264.98 64.55h0.9v0.9h-0.9zM271.86 66.81h0.9v0.9h-0.9zM270.16 64.04h0.9v0.9h-0.9zM269.96 63.77h0.9v0.9h-0.9zM268.17 64.91h0.9v0.9h-0.9zM270.39 63.44h0.9v0.9h-0.9zM271.63 66.32h0.9v0.9h-0.9zM263.76 67.3h0.9v0.9h-0.9zM272.27 63.78h0.9v0.9h-0.9zM268.39 62.41h0.9v0.9h-0.9zM269.56 65.2h0.9v0.9h-0.9zM269.5 64h0.9v0.9h-0.9zM269.71 66.37h0.9v0.9h-0.9zM267.16 66.08h0.9v0.9h-0.9zM266.66 64.46h0.9v0.9h-0.9zM271.84 63.78h0.9v0.9h-0.9z" fill="#000" fill-opacity="0.5"/>
<path d="M271.13 65.25h0.9v0.9h-0.9zM271.65 63.18h0.9v0.9h-0.9zM270.1 64.77h0.9v0.9h-0.9zM276.67 62.48h0.9v0.9h-0.9zM269.17 64.49h0.9v0.9h-0.9zM268.42 65.09h0.9v0.9h-0.9zM270.56 66.73h0.9v0.9h-0.9zM269.59 66.17h0.9v0.9h-0.9zM273.12 66.55h0.9v0.9h-0.9zM269.6 64.14h0.9v0.9h-0.9zM274.43 61.21h0.9v0.9h-0.9zM270.26 65.15h0.9v0.9h-0.9zM266.83 66.56h0.9v0.9h-0.9zM267.57 66.46h0.9v0.9h-0.9zM272.17 65.99h0.9v0.9h-0.9zM268.56 63.41h0.9v0.9h-0.9zM271.21 64.35h0.9v0.9h-0.9zM266.42 65.45h0.9v0.9h-0.9zM270.45 65.95h0.9v0.9h-0.9zM269.09 64.5h0.9v0.9h-0.9zM266.92 66.35h0.9v0.9h-0.9zM269.65 63.95h0.9v0.9h-0.9zM267.45 64.27h0.9v0.9h-0.9zM269.9 65.13h0.9v0.9h-0.9zM266.57 65.76h0.9v0.9h-0.9zM267.45 65.77h0.9v0.9h-0.9zM269.46 63.46h0.9v0.9h-0.9zM268.5 65.62h0.9v0.9h-0.9zM266.66 65.98h0.9v0.9h-0.9zM269.56 63.71h0.9v0.9h-0.9z" fill="#000" fill-opacity="0.5"/>
<path d="M268.8 64.47h0.9v0.9h-0.9zM266.69 65.53h0.9v0.9h-0.9zM272.11 66.28h0.9v0.9h-0.9zM265.74 61.92h0.9v0.9h-0.9zM266.89 66.46h0.9v0.9h-0.9zM269.26 64.11h0.9v0.9h-0.9zM266.34 64.45h0.9v0.9h-0.9zM270.07 64.7h0.9v0.9h-0.9zM267.59 65.3h0.9v0.9h-0.9zM269.11 65.47h0.9v0.9h-0.9zM268.85 64.84h0.9v0.9h-0.9zM271.95 64.97h0.9v0.9h-0.9zM270.24 63.04h0.9v0.9h-0.9zM270.04 64.99h0.9v0.9h-0.9zM267.86 66.99h0.9v0.9h-0.9zM269.34 61.83h0.9v0.9h-0.9zM272.55 64.53h0.9v0.9h-0.9zM270.34 63.73h0.9v0.9h-0.9zM272.48 65.5h0.9v0.9h-0.9zM269.26 65.24h0.9v0.9h-0.9zM272.62 63.23h0.9v0.9h-0.9zM268.12 66.4h0.9v0.9h-0.9zM267.7 65.9h0.9v0.9h-0.9zM270.97 64.69h0.9v0.9h-0.9zM269.84 65.07h0.9v0.9h-0.9zM268.99 63.97h0.9v0.9h-0.9zM271.59 65.41h0.9v0.9h-0.9zM270.12 64.66h0.9v0.9h-0.9zM271.06 64.24h0.9v0.9h-0.9zM267.86 66.78h0.9v0.9h-0.9z" fill="#000" fill-opacity="0.5"/>
<path d="M272.25 67.43h0.85v0.85h-0.85zM283.47 72.54h0.85v0.85h-0.85zM277.63 63.99h0.85v0.85h-0.85zM278.66 70.24h0.85v0.85h-0.85zM279.75 69.98h0.85v0.85h-0.85zM279.03 72.72h0.85v0.85h-0.85zM281.18 69.78h0.85v0.85h-0.85zM275 68.24h0.85v0.85h-0.85zM282.57 71.11h0.85v0.85h-0.85zM278.81 68.74h0.85v0.85h-0.85zM276.94 71.63h0.85v0.85h-0.85zM281.81 68.01h0.85v0.85h-0.85zM283.95 68.94h0.85v0.85h-0.85zM278.05 68.96h0.85v0.85h-0.85zM274.72 77.85h0.85v0.85h-0.85zM283.96 67.67h0.85v0.85h-0.85zM273.15 71.07h0.85v0.85h-0.85zM282.46 68.27h0.85v0.85h-0.85zM279.6 70.06h0.85v0.85h-0.85zM276.37 66.83h0.85v0.85h-0.85zM285.91 70.96h0.85v0.85h-0.85zM282.52 66.81h0.85v0.85h-0.85zM277.22 70.32h0.85v0.85h-0.85zM282.4 72.44h0.85v0.85h-0.85zM275.97 67.97h0.85v0.85h-0.85zM278.85 67.32h0.85v0.85h-0.85zM279.05 68.43h0.85v0.85h-0.85zM279.73 73.01h0.85v0.85h-0.85zM278.21 69.43h0.85v0.85h-0.85zM276.52 69.89h0.85v0.85h-0.85zM282.56 68.68h0.85v0.85h-0.85zM281.85 72.7h0.85v0.85h-0.85zM278.07 75.15h0.85v0.85h-0.85zM283.3 64.03h0.85v0.85h-0.85zM289.84 67.97h0.85v0.85h-0.85zM278.57 71.64h0.85v0.85h-0.85zM280.92 67.3h0.85v0.85h-0.85zM274.46 69h0.85v0.85h-0.85zM274.51 68.08h0.85v0.85h-0.85zM275.43 69.5h0.85v0.85h-0.85zM270.11 69.63h0.85v0.85h-0.85zM277.43 61.54h0.85v0.85h-0.85zM289.26 66.74h0.85v0.85h-0.85zM279.93 67.88h0.85v0.85h-0.85zM276.84 69.69h0.85v0.85h-0.85zM277.07 67.87h0.85v0.85h-0.85zM277.91 68.36h0.85v0.85h-0.85zM280.79 74.43h0.85v0.85h-0.85zM287.21 68.68h0.85v0.85h-0.85zM277.49 70.1h0.85v0.85h-0.85zM279.27 73.19h0.85v0.85h-0.85zM276.42 72.55h0.85v0.85h-0.85zM279.64 70.91h0.85v0.85h-0.85zM276.59 68.17h0.85v0.85h-0.85zM277.16 70.55h0.85v0.85h-0.85zM282.67 74.06h0.85v0.85h-0.85zM273.69 68.22h0.85v0.85h-0.85zM281.83 71.22h0.85v0.85h-0.85zM273.47 72.47h0.85v0.85h-0.85zM279.21 73.96h0.85v0.85h-0.85zM279.02 71.27h0.85v0.85h-0.85zM276.65 72.98h0.85v0.85h-0.85zM281.24 70.38h0.85v0.85h-0.85zM274.69 66.97h0.85v0.85h-0.85zM277.55 70.66h0.85v0.85h-0.85zM279.01 70.39h0.85v0.85h-0.85zM282.04 75.1h0.85v0.85h-0.85zM281.41 70.55h0.85v0.85h-0.85zM276.24 69.39h0.85v0.85h-0.85zM277.81 76.03h0.85v0.85h-0.85zM283.08 72.54h0.85v0.85h-0.85zM280.54 69.12h0.85v0.85h-0.85zM280.52 69.46h0.85v0.85h-0.85zM281.87 68.72h0.85v0.85h-0.85zM282.84 68.52h0.85v0.85h-0.85zM281.03 66.56h0.85v0.85h-0.85zM277.91 76.46h0.85v0.85h-0.85zM281.29 71.11h0.85v0.85h-0.85zM279.31 70.16h0.85v0.85h-0.85zM276.21 67.63h0.85v0.85h-0.85zM276.46 72.59h0.85v0.85h-0.85zM282.75 69.85h0.85v0.85h-0.85zM281.2 67.89h0.85v0.85h-0.85zM278.83 65.8h0.85v0.85h-0.85zM277.42 69.44h0.85v0.85h-0.85zM276.03 69.14h0.85v0.85h-0.85zM279.86 71.18h0.85v0.85h-0.85zM274.7 71.17h0.85v0.85h-0.85zM279.43 67.31h0.85v0.85h-0.85zM283.01 70.91h0.85v0.85h-0.85zM279.58 70.27h0.85v0.85h-0.85zM276.4 68.53h0.85v0.85h-0.85zM279.6 69.83h0.85v0.85h-0.85zM276.85 73.34h0.85v0.85h-0.85zM274.19 70.2h0.85v0.85h-0.85zM276.61 69.2h0.85v0.85h-0.85zM278.01 69.42h0.85v0.85h-0.85zM277.82 67.43h0.85v0.85h-0.85zM278.43 67.07h0.85v0.85h-0.85zM278.54 74.33h0.85v0.85h-0.85zM283.84 67.21h0.85v0.85h-0.85zM276.74 69.57h0.85v0.85h-0.85zM278.87 69.17h0.85v0.85h-0.85zM277.99 67.95h0.85v0.85h-0.85zM282.23 63.53h0.85v0.85h-0.85zM287.36 69.78h0.85v0.85h-0.85zM278.78 72.58h0.85v0.85h-0.85zM286.17 69.92h0.85v0.85h-0.85zM279.67 72.57h0.85v0.85h-0.85zM285.2 67.99h0.85v0.85h-0.85zM279.05 69.78h0.85v0.85h-0.85zM278.64 70.97h0.85v0.85h-0.85zM282.85 63.19h0.85v0.85h-0.85z" fill="#000" fill-opacity="0.4"/>
<path d="M281.26 72.17h0.85v0.85h-0.85zM276.86 73.78h0.85v0.85h-0.85zM278.37 70.53h0.85v0.85h-0.85zM280.37 74.6h0.85v0.85h-0.85zM275.89 72.02h0.85v0.85h-0.85zM276.59 70.5h0.85v0.85h-0.85zM279.99 72.24h0.85v0.85h-0.85zM279.34 72.62h0.85v0.85h-0.85zM281.06 67.27h0.85v0.85h-0.85zM273.35 72.74h0.85v0.85h-0.85zM284.42 68.04h0.85v0.85h-0.85zM278.54 68.42h0.85v0.85h-0.85zM277.03 72.98h0.85v0.85h-0.85zM282.03 66.51h0.85v0.85h-0.85zM280.26 65.82h0.85v0.85h-0.85zM275.61 71.31h0.85v0.85h-0.85zM283.11 70.38h0.85v0.85h-0.85zM279.94 70.3h0.85v0.85h-0.85zM280.39 69.47h0.85v0.85h-0.85zM281.09 69.88h0.85v0.85h-0.85zM278.56 74.57h0.85v0.85h-0.85zM276.49 68.21h0.85v0.85h-0.85zM276.31 65.3h0.85v0.85h-0.85zM277.69 66.84h0.85v0.85h-0.85zM279.2 68.66h0.85v0.85h-0.85zM277.78 65.88h0.85v0.85h-0.85zM282.07 68.47h0.85v0.85h-0.85zM281.28 74.28h0.85v0.85h-0.85zM278.54 66.56h0.85v0.85h-0.85zM284.7 71.64h0.85v0.85h-0.85zM285.15 75.3h0.85v0.85h-0.85zM275.94 70.17h0.85v0.85h-0.85zM280.08 74.48h0.85v0.85h-0.85zM281.39 69.25h0.85v0.85h-0.85zM278.35 68.01h0.85v0.85h-0.85zM272.07 68.56h0.85v0.85h-0.85zM272.58 71.99h0.85v0.85h-0.85zM276.92 73.4h0.85v0.85h-0.85zM277.93 71.01h0.85v0.85h-0.85zM279.12 69h0.85v0.85h-0.85zM281.83 67.78h0.85v0.85h-0.85zM279.47 66.64h0.85v0.85h-0.85zM275.31 68.52h0.85v0.85h-0.85zM278.84 67.78h0.85v0.85h-0.85zM277.89 73.33h0.85v0.85h-0.85zM279.97 65.5h0.85v0.85h-0.85zM278.51 68.68h0.85v0.85h-0.85zM276.86 68.2h0.85v0.85h-0.85zM271.96 72.58h0.85v0.85h-0.85zM279.97 74.53h0.85v0.85h-0.85zM279.65 70.49h0.85v0.85h-0.85zM281.85 72.23h0.85v0.85h-0.85zM283.07 72.96h0.85v0.85h-0.85zM283.48 73.72h0.85v0.85h-0.85zM283.06 73.32h0.85v0.85h-0.85zM277.61 70.66h0.85v0.85h-0.85zM287.54 71.23h0.85v0.85h-0.85zM281.53 68.34h0.85v0.85h-0.85zM278.49 71.94h0.85v0.85h-0.85zM282.45 74.35h0.85v0.85h-0.85zM278.33 66.53h0.85v0.85h-0.85zM280.24 73.08h0.85v0.85h-0.85zM277.75 70.81h0.85v0.85h-0.85zM284.97 73.77h0.85v0.85h-0.85zM273.85 70.54h0.85v0.85h-0.85zM275.48 71.56h0.85v0.85h-0.85zM277.72 69.39h0.85v0.85h-0.85zM275.02 67.65h0.85v0.85h-0.85zM276.63 71.71h0.85v0.85h-0.85zM279.39 72.37h0.85v0.85h-0.85zM277.12 73.02h0.85v0.85h-0.85zM280.14 72.91h0.85v0.85h-0.85zM271.79 65.54h0.85v0.85h-0.85zM280.59 63.8h0.85v0.85h-0.85zM277.44 70.54h0.85v0.85h-0.85zM279.44 70.14h0.85v0.85h-0.85zM276.29 70.98h0.85v0.85h-0.85zM279.3 71.82h0.85v0.85h-0.85zM284.05 70.21h0.85v0.85h-0.85zM280.95 75.23h0.85v0.85h-0.85zM274.08 72.54h0.85v0.85h-0.85zM283.07 70.07h0.85v0.85h-0.85zM272.56 65.69h0.85v0.85h-0.85zM277.89 67.54h0.85v0.85h-0.85zM278.89 72.31h0.85v0.85h-0.85zM273.19 68.49h0.85v0.85h-0.85zM279.28 70.79h0.85v0.85h-0.85zM273.7 72.11h0.85v0.85h-0.85zM279.65 70.72h0.85v0.85h-0.85zM274.54 71.73h0.85v0.85h-0.85zM278.9 73.87h0.85v0.85h-0.85zM280.6 70.42h0.85v0.85h-0.85zM278.63 72.81h0.85v0.85h-0.85zM271.48 71.61h0.85v0.85h-0.85zM268.95 64.07h0.85v0.85h-0.85zM281.12 72.62h0.85v0.85h-0.85zM276.43 66.3h0.85v0.85h-0.85zM275.34 67.98h0.85v0.85h-0.85zM279.38 71.49h0.85v0.85h-0.85zM279.98 67.19h0.85v0.85h-0.85zM282.03 71.19h0.85v0.85h-0.85zM284.09 70.72h0.85v0.85h-0.85zM277.72 73.43h0.85v0.85h-0.85zM272.32 71.06h0.85v0.85h-0.85zM276.32 72.24h0.85v0.85h-0.85zM274.22 70.27h0.85v0.85h-0.85zM278.71 68.44h0.85v0.85h-0.85zM273.54 69.89h0.85v0.85h-0.85zM276.21 73.21h0.85v0.85h-0.85zM280.91 73.05h0.85v0.85h-0.85zM279.74 74.6h0.85v0.85h-0.85zM279.19 65.19h0.85v0.85h-0.85zM287.82 71.66h0.85v0.85h-0.85z" fill="#000" fill-opacity="0.4"/>
<path d="M276.67 64.31h0.85v0.85h-0.85zM278.82 71.72h0.85v0.85h-0.85zM280.5 67.99h0.85v0.85h-0.85zM272.3 71.45h0.85v0.85h-0.85zM286.37 71.88h0.85v0.85h-0.85zM282.04 73.66h0.85v0.85h-0.85zM276.75 72.45h0.85v0.85h-0.85zM272.43 71.98h0.85v0.85h-0.85zM275.53 72.53h0.85v0.85h-0.85zM279.16 73.43h0.85v0.85h-0.85zM282.75 69.98h0.85v0.85h-0.85zM276.75 69.42h0.85v0.85h-0.85zM284.52 68.19h0.85v0.85h-0.85zM277.67 68.09h0.85v0.85h-0.85zM282.47 66.35h0.85v0.85h-0.85zM286.74 71.66h0.85v0.85h-0.85zM279.48 73.83h0.85v0.85h-0.85zM281.57 67.29h0.85v0.85h-0.85zM277.72 72.85h0.85v0.85h-0.85zM279.02 71.25h0.85v0.85h-0.85zM282.01 65.4h0.85v0.85h-0.85zM281.46 66.9h0.85v0.85h-0.85zM279.2 69.67h0.85v0.85h-0.85zM279.18 70.45h0.85v0.85h-0.85zM285.4 69.24h0.85v0.85h-0.85zM272.15 73.69h0.85v0.85h-0.85zM281.03 68.98h0.85v0.85h-0.85zM279.06 65.75h0.85v0.85h-0.85zM285.56 67.87h0.85v0.85h-0.85zM276.93 66.58h0.85v0.85h-0.85zM280.05 64.06h0.85v0.85h-0.85zM280.12 67.93h0.85v0.85h-0.85zM278.95 72.84h0.85v0.85h-0.85zM283.33 70.49h0.85v0.85h-0.85zM278.42 70.6h0.85v0.85h-0.85zM278.44 68.93h0.85v0.85h-0.85zM278.36 72.92h0.85v0.85h-0.85zM273.52 72.5h0.85v0.85h-0.85zM277.41 71.88h0.85v0.85h-0.85zM283.53 73.16h0.85v0.85h-0.85zM277.37 72.48h0.85v0.85h-0.85zM279.29 66.74h0.85v0.85h-0.85zM283.21 72.18h0.85v0.85h-0.85zM274.37 67.27h0.85v0.85h-0.85zM279.37 68.25h0.85v0.85h-0.85zM276.26 72.76h0.85v0.85h-0.85zM283.97 69.38h0.85v0.85h-0.85zM277.36 65.57h0.85v0.85h-0.85zM282.81 69.89h0.85v0.85h-0.85zM284.42 70.45h0.85v0.85h-0.85zM281.76 67.99h0.85v0.85h-0.85zM284.26 66.31h0.85v0.85h-0.85zM276.19 69.24h0.85v0.85h-0.85zM282.09 74.6h0.85v0.85h-0.85zM276.31 72.61h0.85v0.85h-0.85zM280.96 68.84h0.85v0.85h-0.85zM277.5 64.95h0.85v0.85h-0.85zM285.04 66.91h0.85v0.85h-0.85zM283.91 70.45h0.85v0.85h-0.85zM282.11 67.9h0.85v0.85h-0.85zM279.14 72.09h0.85v0.85h-0.85zM276.81 68.84h0.85v0.85h-0.85zM274.87 68.92h0.85v0.85h-0.85zM283.85 68.4h0.85v0.85h-0.85zM281.6 64.3h0.85v0.85h-0.85zM279.88 67.98h0.85v0.85h-0.85zM273.36 69.37h0.85v0.85h-0.85zM272.97 66.2h0.85v0.85h-0.85zM281.68 68.45h0.85v0.85h-0.85zM281.47 74.07h0.85v0.85h-0.85zM279.39 69.88h0.85v0.85h-0.85zM281.04 67.91h0.85v0.85h-0.85zM278.09 63.9h0.85v0.85h-0.85zM280.31 72.72h0.85v0.85h-0.85zM278.38 75.64h0.85v0.85h-0.85zM284.49 73.55h0.85v0.85h-0.85zM285.1 67.19h0.85v0.85h-0.85zM276.68 68.95h0.85v0.85h-0.85zM284.02 70.66h0.85v0.85h-0.85zM286 69.12h0.85v0.85h-0.85zM280.77 71.75h0.85v0.85h-0.85zM280.66 69.12h0.85v0.85h-0.85zM284.07 69.38h0.85v0.85h-0.85zM278.79 67.45h0.85v0.85h-0.85zM276.91 72.09h0.85v0.85h-0.85zM275.23 69.52h0.85v0.85h-0.85zM275.45 71.85h0.85v0.85h-0.85zM278.72 68.72h0.85v0.85h-0.85zM281.31 69.88h0.85v0.85h-0.85zM281.47 62.57h0.85v0.85h-0.85zM280.8 69.21h0.85v0.85h-0.85zM280.52 73.79h0.85v0.85h-0.85zM274.97 67.09h0.85v0.85h-0.85zM274.8 69.32h0.85v0.85h-0.85zM278.07 73.08h0.85v0.85h-0.85zM276.07 71.33h0.85v0.85h-0.85zM280.42 71.99h0.85v0.85h-0.85zM280.65 70.26h0.85v0.85h-0.85zM275.78 66.22h0.85v0.85h-0.85zM282.22 68.19h0.85v0.85h-0.85zM276.24 71.97h0.85v0.85h-0.85zM284.73 68.17h0.85v0.85h-0.85zM277.32 70.99h0.85v0.85h-0.85zM282.63 73.1h0.85v0.85h-0.85zM278.05 72.35h0.85v0.85h-0.85zM282.7 68.37h0.85v0.85h-0.85zM279.41 71.84h0.85v0.85h-0.85zM278 67.21h0.85v0.85h-0.85zM279.64 72.06h0.85v0.85h-0.85zM282.78 65.62h0.85v0.85h-0.85zM277.54 67.36h0.85v0.85h-0.85zM273.84 71.91h0.85v0.85h-0.85z" fill="#000" fill-opacity="0.4"/>
<path d="M273.3 71.02h0.85v0.85h-0.85zM278.81 74.46h0.85v0.85h-0.85zM278.67 66.82h0.85v0.85h-0.85zM281.06 66.76h0.85v0.85h-0.85zM282.29 72.98h0.85v0.85h-0.85zM278.46 69.18h0.85v0.85h-0.85zM280.86 69.26h0.85v0.85h-0.85zM280.19 66.84h0.85v0.85h-0.85zM284.54 71.02h0.85v0.85h-0.85zM276.92 72.93h0.85v0.85h-0.85zM276.14 70.56h0.85v0.85h-0.85zM282.45 68.62h0.85v0.85h-0.85zM281.59 66.77h0.85v0.85h-0.85zM279.86 66.58h0.85v0.85h-0.85zM272.78 74.63h0.85v0.85h-0.85zM281.85 66.71h0.85v0.85h-0.85zM276.51 73.04h0.85v0.85h-0.85zM278.67 70.25h0.85v0.85h-0.85zM277.21 69.12h0.85v0.85h-0.85zM278.89 71.88h0.85v0.85h-0.85zM284.23 70.58h0.85v0.85h-0.85zM276.98 72.63h0.85v0.85h-0.85zM274.42 72.68h0.85v0.85h-0.85zM278.88 68.38h0.85v0.85h-0.85zM281.1 68.72h0.85v0.85h-0.85zM275.76 71.19h0.85v0.85h-0.85zM282.93 72.63h0.85v0.85h-0.85zM280.24 70.65h0.85v0.85h-0.85zM275.72 65.65h0.85v0.85h-0.85zM275.54 69.77h0.85v0.85h-0.85zM283.34 69.73h0.85v0.85h-0.85zM281.94 69.64h0.85v0.85h-0.85zM276.84 70.4h0.85v0.85h-0.85zM279.22 66.48h0.85v0.85h-0.85zM274.78 72.89h0.85v0.85h-0.85zM277.14 70.84h0.85v0.85h-0.85zM282.56 69.71h0.85v0.85h-0.85zM274.07 68.43h0.85v0.85h-0.85zM285.64 70.43h0.85v0.85h-0.85zM286.52 71.43h0.85v0.85h-0.85zM279.99 66.91h0.85v0.85h-0.85zM276.22 68.58h0.85v0.85h-0.85zM281.92 69.1h0.85v0.85h-0.85zM286.25 71.08h0.85v0.85h-0.85zM281.86 70.87h0.85v0.85h-0.85zM282.51 73.05h0.85v0.85h-0.85zM284.22 68.04h0.85v0.85h-0.85zM278.42 68.22h0.85v0.85h-0.85zM280.47 71.95h0.85v0.85h-0.85zM274.76 72.41h0.85v0.85h-0.85zM277.15 76.28h0.85v0.85h-0.85zM282.81 64.35h0.85v0.85h-0.85zM278.9 68.08h0.85v0.85h-0.85zM279.77 67.01h0.85v0.85h-0.85zM277.59 71.62h0.85v0.85h-0.85zM279.77 71.62h0.85v0.85h-0.85zM276.1 71.41h0.85v0.85h-0.85zM281.24 69.26h0.85v0.85h-0.85zM277.14 69.4h0.85v0.85h-0.85zM282.7 72.66h0.85v0.85h-0.85zM278.19 63.84h0.85v0.85h-0.85zM275.94 67.86h0.85v0.85h-0.85zM274.21 65.88h0.85v0.85h-0.85zM281.63 66.87h0.85v0.85h-0.85zM270.89 69.23h0.85v0.85h-0.85zM285.19 70.71h0.85v0.85h-0.85zM280.98 76.9h0.85v0.85h-0.85zM279.83 70.82h0.85v0.85h-0.85zM277.84 66.61h0.85v0.85h-0.85zM278.3 67.5h0.85v0.85h-0.85zM285.88 71.46h0.85v0.85h-0.85zM281.01 69.67h0.85v0.85h-0.85zM274.16 75.61h0.85v0.85h-0.85zM280.1 66.37h0.85v0.85h-0.85zM278.95 75.95h0.85v0.85h-0.85zM288.41 68.16h0.85v0.85h-0.85zM278.22 67.93h0.85v0.85h-0.85zM281.08 75.6h0.85v0.85h-0.85zM283.5 70.5h0.85v0.85h-0.85zM288.24 66.9h0.85v0.85h-0.85zM275.2 71.06h0.85v0.85h-0.85zM274.66 69.56h0.85v0.85h-0.85zM276.75 73.45h0.85v0.85h-0.85zM279.68 71.28h0.85v0.85h-0.85zM283.85 69.46h0.85v0.85h-0.85zM278.13 71.44h0.85v0.85h-0.85zM284.04 73.1h0.85v0.85h-0.85zM276.81 69.34h0.85v0.85h-0.85zM279.43 76.47h0.85v0.85h-0.85zM278.87 71.07h0.85v0.85h-0.85zM278.64 75.84h0.85v0.85h-0.85zM283.48 71.18h0.85v0.85h-0.85zM277.83 67.31h0.85v0.85h-0.85zM277.42 67.22h0.85v0.85h-0.85zM286.02 69.18h0.85v0.85h-0.85zM279.34 73.2h0.85v0.85h-0.85zM283.45 70.75h0.85v0.85h-0.85zM271.32 69.72h0.85v0.85h-0.85zM278.31 70.74h0.85v0.85h-0.85zM281.91 70.28h0.85v0.85h-0.85zM287.53 71h0.85v0.85h-0.85zM284.12 65.58h0.85v0.85h-0.85zM286.07 72.31h0.85v0.85h-0.85zM280.33 76.04h0.85v0.85h-0.85zM288.62 67.87h0.85v0.85h-0.85zM285.11 67.56h0.85v0.85h-0.85zM285.66 73.81h0.85v0.85h-0.85zM277.63 69.81h0.85v0.85h-0.85zM283.93 66.53h0.85v0.85h-0.85zM280.06 73.18h0.85v0.85h-0.85zM275.52 68.52h0.85v0.85h-0.85zM282.08 66.2h0.85v0.85h-0.85z" fill="#000" fill-opacity="0.4"/>
<path d="M279.86 71.04h0.8v0.8h-0.8zM282.58 71.18h0.8v0.8h-0.8zM280.62 66.38h0.8v0.8h-0.8zM283.53 72h0.8v0.8h-0.8zM282.99 65.33h0.8v0.8h-0.8zM281.75 70.82h0.8v0.8h-0.8zM282.2 66.09h0.8v0.8h-0.8zM286.91 67.16h0.8v0.8h-0.8zM284.56 67.52h0.8v0.8h-0.8zM284.41 71.5h0.8v0.8h-0.8zM282.09 71.51h0.8v0.8h-0.8zM280.48 70.24h0.8v0.8h-0.8zM284.52 66.51h0.8v0.8h-0.8zM289.48 68.51h0.8v0.8h-0.8zM281.33 69.81h0.8v0.8h-0.8zM283.1 66h0.8v0.8h-0.8zM280.5 67.57h0.8v0.8h-0.8zM283.41 73.3h0.8v0.8h-0.8zM285.6 68.17h0.8v0.8h-0.8zM285.01 69.93h0.8v0.8h-0.8zM283.33 66.65h0.8v0.8h-0.8zM285.71 67.41h0.8v0.8h-0.8zM285.19 67.23h0.8v0.8h-0.8zM288.19 67.79h0.8v0.8h-0.8zM286.5 71.35h0.8v0.8h-0.8zM284.4 65.85h0.8v0.8h-0.8zM287.44 65.93h0.8v0.8h-0.8zM284.47 70.19h0.8v0.8h-0.8zM280.78 67.42h0.8v0.8h-0.8zM289.66 69.51h0.8v0.8h-0.8zM284.88 63.81h0.8v0.8h-0.8zM284.83 69.33h0.8v0.8h-0.8zM283 72.54h0.8v0.8h-0.8zM289.63 71.07h0.8v0.8h-0.8zM279.84 69.31h0.8v0.8h-0.8zM288.12 70.79h0.8v0.8h-0.8zM283.63 65.43h0.8v0.8h-0.8zM279.57 73.66h0.8v0.8h-0.8zM283.86 67.81h0.8v0.8h-0.8zM285.46 69.77h0.8v0.8h-0.8z" fill="#000" fill-opacity="0.3"/>
<path d="M283.91 68.14h0.8v0.8h-0.8zM285.31 65.51h0.8v0.8h-0.8zM278.58 63.68h0.8v0.8h-0.8zM285.39 64.22h0.8v0.8h-0.8zM287.89 67.76h0.8v0.8h-0.8zM286.76 70.64h0.8v0.8h-0.8zM284.01 73.99h0.8v0.8h-0.8zM282.03 73.15h0.8v0.8h-0.8zM282.19 69.9h0.8v0.8h-0.8zM283.21 67.08h0.8v0.8h-0.8zM287.93 68.66h0.8v0.8h-0.8zM286.24 71.61h0.8v0.8h-0.8zM283.25 70.32h0.8v0.8h-0.8zM281.93 72.29h0.8v0.8h-0.8zM282.85 68.93h0.8v0.8h-0.8zM280.28 69.53h0.8v0.8h-0.8zM282.13 71.54h0.8v0.8h-0.8zM282.71 69.9h0.8v0.8h-0.8zM287.52 72.98h0.8v0.8h-0.8zM286.03 66.83h0.8v0.8h-0.8zM281.89 70.08h0.8v0.8h-0.8zM279.76 67.46h0.8v0.8h-0.8zM285.73 65.74h0.8v0.8h-0.8zM287.62 62.3h0.8v0.8h-0.8zM283.1 69.92h0.8v0.8h-0.8zM286.13 69.8h0.8v0.8h-0.8zM281.22 72.44h0.8v0.8h-0.8zM284.97 67.97h0.8v0.8h-0.8zM283.33 73.02h0.8v0.8h-0.8zM284.8 73.19h0.8v0.8h-0.8zM286.72 68.97h0.8v0.8h-0.8zM283.96 66.85h0.8v0.8h-0.8zM285.14 69.54h0.8v0.8h-0.8zM285.72 76.9h0.8v0.8h-0.8zM285 64.76h0.8v0.8h-0.8zM286.58 71.81h0.8v0.8h-0.8zM279.33 67.11h0.8v0.8h-0.8zM284.21 71.86h0.8v0.8h-0.8zM283.68 67.38h0.8v0.8h-0.8zM287.97 66.66h0.8v0.8h-0.8z" fill="#000" fill-opacity="0.3"/>
<path d="M283.08 68.83h0.8v0.8h-0.8zM282.77 74.2h0.8v0.8h-0.8zM283.06 66.35h0.8v0.8h-0.8zM287.72 68.51h0.8v0.8h-0.8zM282.5 71.12h0.8v0.8h-0.8zM285.62 68.06h0.8v0.8h-0.8zM278.37 65.53h0.8v0.8h-0.8zM284.93 71.09h0.8v0.8h-0.8zM285.09 65.67h0.8v0.8h-0.8zM285.96 71.31h0.8v0.8h-0.8zM281.57 70.27h0.8v0.8h-0.8zM285.57 73.11h0.8v0.8h-0.8zM284.83 73.56h0.8v0.8h-0.8zM282.96 67.13h0.8v0.8h-0.8zM281.95 69.96h0.8v0.8h-0.8zM277.77 73.51h0.8v0.8h-0.8zM282.97 71.37h0.8v0.8h-0.8zM283.68 65.82h0.8v0.8h-0.8zM286.96 72.38h0.8v0.8h-0.8zM277.63 71.96h0.8v0.8h-0.8zM284.3 72.02h0.8v0.8h-0.8zM283.36 67.92h0.8v0.8h-0.8zM286.39 70.07h0.8v0.8h-0.8zM280.99 74.96h0.8v0.8h-0.8zM281.12 65.51h0.8v0.8h-0.8zM285.88 68.67h0.8v0.8h-0.8zM284.9 69.69h0.8v0.8h-0.8zM285 69.93h0.8v0.8h-0.8zM282.37 72.93h0.8v0.8h-0.8zM285.02 72.51h0.8v0.8h-0.8zM281.79 68.65h0.8v0.8h-0.8zM282.39 68.14h0.8v0.8h-0.8zM284.87 68.82h0.8v0.8h-0.8zM280.96 71.11h0.8v0.8h-0.8zM283.45 68.08h0.8v0.8h-0.8zM283.84 71.28h0.8v0.8h-0.8zM286.25 70.63h0.8v0.8h-0.8zM287.47 67.12h0.8v0.8h-0.8zM284.34 68.4h0.8v0.8h-0.8zM282.83 74.7h0.8v0.8h-0.8z" fill="#000" fill-opacity="0.3"/>
<path d="M283.74 66.79h0.8v0.8h-0.8zM285.78 74.46h0.8v0.8h-0.8zM281.28 67.41h0.8v0.8h-0.8zM281.5 69.41h0.8v0.8h-0.8zM288.18 70.96h0.8v0.8h-0.8zM283.82 64.44h0.8v0.8h-0.8zM281.67 69.23h0.8v0.8h-0.8zM286.08 67.27h0.8v0.8h-0.8zM282.07 71.33h0.8v0.8h-0.8zM276.88 72.11h0.8v0.8h-0.8zM284.22 71.21h0.8v0.8h-0.8zM281.93 73.18h0.8v0.8h-0.8zM284.48 67.96h0.8v0.8h-0.8zM281.33 73.07h0.8v0.8h-0.8zM285.51 72.67h0.8v0.8h-0.8zM284.07 69.88h0.8v0.8h-0.8zM285.29 63.72h0.8v0.8h-0.8zM289.47 69.11h0.8v0.8h-0.8zM285.76 73.69h0.8v0.8h-0.8zM284.38 67.4h0.8v0.8h-0.8zM283.77 71.42h0.8v0.8h-0.8zM289.54 67.47h0.8v0.8h-0.8zM282.99 65.94h0.8v0.8h-0.8zM288.48 69.58h0.8v0.8h-0.8zM284.31 71.72h0.8v0.8h-0.8zM283.33 72.69h0.8v0.8h-0.8zM281.54 72.56h0.8v0.8h-0.8zM285.8 70.67h0.8v0.8h-0.8zM286.71 72.16h0.8v0.8h-0.8zM283.67 73.78h0.8v0.8h-0.8zM283.29 72.97h0.8v0.8h-0.8zM283.43 66.05h0.8v0.8h-0.8zM281.02 72.18h0.8v0.8h-0.8zM283.14 68.71h0.8v0.8h-0.8zM281.49 71.43h0.8v0.8h-0.8zM287.33 68.27h0.8v0.8h-0.8zM284.65 73.46h0.8v0.8h-0.8zM281.82 70.75h0.8v0.8h-0.8zM288.27 66.44h0.8v0.8h-0.8zM282.35 68.41h0.8v0.8h-0.8z" fill="#000" fill-opacity="0.3"/>
<path d="M280.21 60.31h0.8v0.8h-0.8zM287.56 46.66h0.8v0.8h-0.8zM269.26 53.44h0.8v0.8h-0.8zM275.87 50.71h0.8v0.8h-0.8zM280.43 63.36h0.8v0.8h-0.8zM273.09 50.75h0.8v0.8h-0.8zM272.62 47.49h0.8v0.8h-0.8zM275.72 49.51h0.8v0.8h-0.8zM271.4 59.74h0.8v0.8h-0.8zM284.47 54.59h0.8v0.8h-0.8zM282.09 48.19h0.8v0.8h-0.8zM271.65 51.93h0.8v0.8h-0.8zM275.53 51.1h0.8v0.8h-0.8zM279.01 53.74h0.8v0.8h-0.8zM278.08 46.1h0.8v0.8h-0.8zM274.32 57.61h0.8v0.8h-0.8zM281.03 46.12h0.8v0.8h-0.8zM282.33 61.21h0.8v0.8h-0.8z" fill="#000" fill-opacity="0.25"/>
<path d="M281.09 57.5h0.8v0.8h-0.8zM270.73 63.32h0.8v0.8h-0.8zM269 54.63h0.8v0.8h-0.8zM283.43 43.83h0.8v0.8h-0.8zM265.86 47.48h0.8v0.8h-0.8zM277.12 60.27h0.8v0.8h-0.8zM280.35 54.56h0.8v0.8h-0.8zM266.09 54.83h0.8v0.8h-0.8zM282.11 56.76h0.8v0.8h-0.8zM280.21 55.52h0.8v0.8h-0.8zM281.65 52.87h0.8v0.8h-0.8zM285.16 57.26h0.8v0.8h-0.8zM278.48 60.03h0.8v0.8h-0.8zM286.65 49.72h0.8v0.8h-0.8zM280.16 51.5h0.8v0.8h-0.8zM273.98 45.45h0.8v0.8h-0.8zM283.95 47.27h0.8v0.8h-0.8zM283.03 61.79h0.8v0.8h-0.8z" fill="#000" fill-opacity="0.25"/>
<path d="M273.77 62.67h0.8v0.8h-0.8zM285.56 57.88h0.8v0.8h-0.8zM285.53 46.31h0.8v0.8h-0.8zM281.72 51.52h0.8v0.8h-0.8zM271.64 60.35h0.8v0.8h-0.8zM278.87 46.09h0.8v0.8h-0.8zM273.32 44.79h0.8v0.8h-0.8zM279.08 61.32h0.8v0.8h-0.8zM267.93 51.64h0.8v0.8h-0.8zM267.62 60.21h0.8v0.8h-0.8zM269.82 60.84h0.8v0.8h-0.8zM277.12 55.37h0.8v0.8h-0.8zM280.17 56.4h0.8v0.8h-0.8zM271.2 58.28h0.8v0.8h-0.8zM281.22 56.25h0.8v0.8h-0.8zM271.32 58.3h0.8v0.8h-0.8zM267.76 51.36h0.8v0.8h-0.8z" fill="#000" fill-opacity="0.25"/>
<path d="M267.99 63.28h0.8v0.8h-0.8zM267.88 62.36h0.8v0.8h-0.8zM280.63 49.78h0.8v0.8h-0.8zM269.37 61.6h0.8v0.8h-0.8zM275.14 54.17h0.8v0.8h-0.8zM269.6 47.41h0.8v0.8h-0.8zM281.14 47.93h0.8v0.8h-0.8zM285.98 45.79h0.8v0.8h-0.8zM279.27 44.63h0.8v0.8h-0.8zM274.25 60.51h0.8v0.8h-0.8zM266.06 44.97h0.8v0.8h-0.8zM286.89 59.31h0.8v0.8h-0.8zM285.24 59.44h0.8v0.8h-0.8zM269.4 47.51h0.8v0.8h-0.8zM285.19 57.95h0.8v0.8h-0.8zM272.02 59.15h0.8v0.8h-0.8zM271.76 58.98h0.8v0.8h-0.8z" fill="#000" fill-opacity="0.25"/>
<path d="M271.12 56.11h0.8v0.8h-0.8zM272.05 57.54h0.8v0.8h-0.8zM271.56 52.18h0.8v0.8h-0.8zM270.02 66.22h0.8v0.8h-0.8zM270.95 48.67h0.8v0.8h-0.8zM271.58 53.93h0.8v0.8h-0.8zM271.58 61.73h0.8v0.8h-0.8zM270.12 50.16h0.8v0.8h-0.8zM270.66 56.48h0.8v0.8h-0.8zM271.71 53.86h0.8v0.8h-0.8zM271.44 59.99h0.8v0.8h-0.8zM273.45 58.31h0.8v0.8h-0.8zM272.6 61.69h0.8v0.8h-0.8zM270.44 56.96h0.8v0.8h-0.8zM270.38 55.22h0.8v0.8h-0.8zM272.12 51.73h0.8v0.8h-0.8zM271.32 59.02h0.8v0.8h-0.8zM272.19 54.02h0.8v0.8h-0.8zM271.83 52.8h0.8v0.8h-0.8zM270.64 54.29h0.8v0.8h-0.8zM269.22 56.92h0.8v0.8h-0.8zM272.14 57.39h0.8v0.8h-0.8zM271.3 59.3h0.8v0.8h-0.8zM272 55.23h0.8v0.8h-0.8zM269.73 53.9h0.8v0.8h-0.8zM271.59 58.98h0.8v0.8h-0.8zM272.46 54.15h0.8v0.8h-0.8zM272.36 61.28h0.8v0.8h-0.8zM271.71 55h0.8v0.8h-0.8zM270.15 51.55h0.8v0.8h-0.8zM270.62 65.91h0.8v0.8h-0.8zM271.64 59.39h0.8v0.8h-0.8zM270.93 56.92h0.8v0.8h-0.8zM271.68 57.21h0.8v0.8h-0.8zM270.74 57.47h0.8v0.8h-0.8zM270.81 61.2h0.8v0.8h-0.8zM271.65 57.14h0.8v0.8h-0.8zM272.66 56.3h0.8v0.8h-0.8zM270.82 53.78h0.8v0.8h-0.8zM271.48 59.76h0.8v0.8h-0.8zM271.47 61.62h0.8v0.8h-0.8zM271.75 57.62h0.8v0.8h-0.8zM270.91 61.28h0.8v0.8h-0.8z" fill="#000" fill-opacity="0.4"/>
<path d="M272.99 56.19h0.8v0.8h-0.8zM271.35 56.28h0.8v0.8h-0.8zM271.79 47.25h0.8v0.8h-0.8zM270.5 62.41h0.8v0.8h-0.8zM271.73 59.14h0.8v0.8h-0.8zM271.19 57.01h0.8v0.8h-0.8zM270.99 54.08h0.8v0.8h-0.8zM270.36 48.89h0.8v0.8h-0.8zM271.34 58.9h0.8v0.8h-0.8zM272.94 51.75h0.8v0.8h-0.8zM271.55 57.05h0.8v0.8h-0.8zM270.59 59.93h0.8v0.8h-0.8zM271.56 56.3h0.8v0.8h-0.8zM272.15 60.15h0.8v0.8h-0.8zM273.03 53.58h0.8v0.8h-0.8zM270.04 55.32h0.8v0.8h-0.8zM272.69 56.16h0.8v0.8h-0.8zM269.8 61.13h0.8v0.8h-0.8zM271.67 61.9h0.8v0.8h-0.8zM272.74 62.16h0.8v0.8h-0.8zM271.61 51.12h0.8v0.8h-0.8zM269.92 61.12h0.8v0.8h-0.8zM271.05 58.84h0.8v0.8h-0.8zM271.39 53.98h0.8v0.8h-0.8zM271.39 59.36h0.8v0.8h-0.8zM271.08 50.68h0.8v0.8h-0.8zM270.47 57.91h0.8v0.8h-0.8zM271.19 60.26h0.8v0.8h-0.8zM272.02 53.2h0.8v0.8h-0.8zM269.59 56h0.8v0.8h-0.8zM272.46 48.85h0.8v0.8h-0.8zM270.93 61.43h0.8v0.8h-0.8zM268.93 58.13h0.8v0.8h-0.8zM269.42 53.01h0.8v0.8h-0.8zM269.94 55.05h0.8v0.8h-0.8zM270.19 63.79h0.8v0.8h-0.8zM270.42 60.36h0.8v0.8h-0.8zM272.92 55.04h0.8v0.8h-0.8zM272.12 62.5h0.8v0.8h-0.8zM270.7 46.98h0.8v0.8h-0.8zM271.42 63.62h0.8v0.8h-0.8zM272.95 57.21h0.8v0.8h-0.8zM270.43 58.75h0.8v0.8h-0.8z" fill="#000" fill-opacity="0.4"/>
<path d="M272.23 65.66h0.8v0.8h-0.8zM271.44 58.6h0.8v0.8h-0.8zM272.01 56.48h0.8v0.8h-0.8zM271.23 64.21h0.8v0.8h-0.8zM271.74 64.47h0.8v0.8h-0.8zM270.41 61.88h0.8v0.8h-0.8zM270.73 53.1h0.8v0.8h-0.8zM270.33 50.26h0.8v0.8h-0.8zM272.14 59.88h0.8v0.8h-0.8zM271.82 62.61h0.8v0.8h-0.8zM272.07 48.57h0.8v0.8h-0.8zM270.89 51.73h0.8v0.8h-0.8zM271.52 62.41h0.8v0.8h-0.8zM271.52 54.72h0.8v0.8h-0.8zM272.23 56.93h0.8v0.8h-0.8zM272.09 54.34h0.8v0.8h-0.8zM271.66 52.27h0.8v0.8h-0.8zM273.88 45.55h0.8v0.8h-0.8zM271.01 60.26h0.8v0.8h-0.8zM271.57 50.06h0.8v0.8h-0.8zM270.84 54.98h0.8v0.8h-0.8zM270.58 48.46h0.8v0.8h-0.8zM272.7 55.58h0.8v0.8h-0.8zM271.22 59.42h0.8v0.8h-0.8zM270.19 56.56h0.8v0.8h-0.8zM270.7 51.06h0.8v0.8h-0.8zM269.09 65.84h0.8v0.8h-0.8zM270.93 61.27h0.8v0.8h-0.8zM271.59 52.65h0.8v0.8h-0.8zM273.04 55.01h0.8v0.8h-0.8zM270.26 58.83h0.8v0.8h-0.8zM270.39 60.35h0.8v0.8h-0.8zM269.78 48.08h0.8v0.8h-0.8zM271.01 59.08h0.8v0.8h-0.8zM270.72 47.59h0.8v0.8h-0.8zM270.91 57.63h0.8v0.8h-0.8zM271.9 57.01h0.8v0.8h-0.8zM271.03 57.94h0.8v0.8h-0.8zM272.05 55.55h0.8v0.8h-0.8zM271.53 60.18h0.8v0.8h-0.8zM271.36 60.53h0.8v0.8h-0.8zM272.5 58.56h0.8v0.8h-0.8z" fill="#000" fill-opacity="0.4"/>
<path d="M270.02 53.33h0.8v0.8h-0.8zM270.78 55.78h0.8v0.8h-0.8zM270.01 63.02h0.8v0.8h-0.8zM271.06 61.61h0.8v0.8h-0.8zM270.5 50.65h0.8v0.8h-0.8zM271.17 64.99h0.8v0.8h-0.8zM271.8 57.64h0.8v0.8h-0.8zM272.08 51.85h0.8v0.8h-0.8zM270.93 62.59h0.8v0.8h-0.8zM271.43 58.56h0.8v0.8h-0.8zM271.58 55.67h0.8v0.8h-0.8zM271 59.25h0.8v0.8h-0.8zM271.17 62.19h0.8v0.8h-0.8zM269.35 55.06h0.8v0.8h-0.8zM270.1 57.5h0.8v0.8h-0.8zM271.77 59.06h0.8v0.8h-0.8zM270.52 56.57h0.8v0.8h-0.8zM270.15 57.56h0.8v0.8h-0.8zM271.44 52.87h0.8v0.8h-0.8zM270.78 55.23h0.8v0.8h-0.8zM273.3 59.96h0.8v0.8h-0.8zM272.09 55.47h0.8v0.8h-0.8zM270.92 57.09h0.8v0.8h-0.8zM270.42 56.2h0.8v0.8h-0.8zM270.3 58.41h0.8v0.8h-0.8zM270.57 56.75h0.8v0.8h-0.8zM269.65 61.52h0.8v0.8h-0.8zM270.6 53.39h0.8v0.8h-0.8zM271.19 66.53h0.8v0.8h-0.8zM272.3 56.19h0.8v0.8h-0.8zM272 56.02h0.8v0.8h-0.8zM272.28 57.91h0.8v0.8h-0.8zM272.12 52.95h0.8v0.8h-0.8zM271.38 51.41h0.8v0.8h-0.8zM273.14 60.89h0.8v0.8h-0.8zM270.68 57.41h0.8v0.8h-0.8zM272.42 53.74h0.8v0.8h-0.8zM272.47 63.39h0.8v0.8h-0.8zM272.66 56.89h0.8v0.8h-0.8zM271.77 59.41h0.8v0.8h-0.8zM270.72 58.34h0.8v0.8h-0.8zM272.46 53.01h0.8v0.8h-0.8z" fill="#000" fill-opacity="0.4"/>
<path d="M271.35 49.98h0.8v0.8h-0.8zM269.27 49.25h0.8v0.8h-0.8zM270.46 47.26h0.8v0.8h-0.8zM271.22 47.93h0.8v0.8h-0.8zM268.56 52.36h0.8v0.8h-0.8zM271.91 48.05h0.8v0.8h-0.8zM270.34 57.64h0.8v0.8h-0.8zM270.33 50.88h0.8v0.8h-0.8zM271.93 47.88h0.8v0.8h-0.8zM268.99 48.92h0.8v0.8h-0.8z" fill="#000" fill-opacity="0.3"/>
<path d="M271.22 50.84h0.8v0.8h-0.8zM269.16 49.57h0.8v0.8h-0.8zM270.69 50.51h0.8v0.8h-0.8zM271.11 54.66h0.8v0.8h-0.8zM272.29 45.16h0.8v0.8h-0.8zM272.67 45.29h0.8v0.8h-0.8zM271.67 48.64h0.8v0.8h-0.8zM268.48 49.03h0.8v0.8h-0.8zM271.29 45.13h0.8v0.8h-0.8zM272.96 44.52h0.8v0.8h-0.8z" fill="#000" fill-opacity="0.3"/>
<path d="M270.57 50.52h0.8v0.8h-0.8zM271.01 46.82h0.8v0.8h-0.8zM271.7 54.27h0.8v0.8h-0.8zM270.91 52.87h0.8v0.8h-0.8zM270.61 47.78h0.8v0.8h-0.8zM271.01 56.1h0.8v0.8h-0.8zM268.95 50.03h0.8v0.8h-0.8zM269.26 46.19h0.8v0.8h-0.8zM269.37 50.85h0.8v0.8h-0.8zM269.79 52.28h0.8v0.8h-0.8z" fill="#000" fill-opacity="0.3"/>
<path d="M270.3 48.39h0.8v0.8h-0.8zM270.87 50.22h0.8v0.8h-0.8zM268.89 50.35h0.8v0.8h-0.8zM271.83 48.41h0.8v0.8h-0.8zM271 49.66h0.8v0.8h-0.8zM270.71 51.05h0.8v0.8h-0.8zM271.51 44.47h0.8v0.8h-0.8zM271.19 52.31h0.8v0.8h-0.8zM270.42 46.99h0.8v0.8h-0.8zM268.94 47.97h0.8v0.8h-0.8z" fill="#000" fill-opacity="0.3"/>
<path d="M275.27 62.68h0.8v0.8h-0.8zM269.19 59.59h0.8v0.8h-0.8zM273.34 61.9h0.8v0.8h-0.8zM271.18 58.37h0.8v0.8h-0.8zM273.23 57.73h0.8v0.8h-0.8zM272.54 60.99h0.8v0.8h-0.8zM275.05 60.74h0.8v0.8h-0.8zM276.66 62.44h0.8v0.8h-0.8zM270.16 62.38h0.8v0.8h-0.8zM273.72 60.09h0.8v0.8h-0.8zM281.69 60.71h0.8v0.8h-0.8zM275.44 63.97h0.8v0.8h-0.8zM265.57 62.04h0.8v0.8h-0.8zM277.49 61.41h0.8v0.8h-0.8zM275.68 60.09h0.8v0.8h-0.8z" fill="#000" fill-opacity="0.3"/>
<path d="M274.72 63.7h0.8v0.8h-0.8zM274.09 61.51h0.8v0.8h-0.8zM276.51 59.64h0.8v0.8h-0.8zM277.01 60.57h0.8v0.8h-0.8zM273.11 60.55h0.8v0.8h-0.8zM273.61 64.15h0.8v0.8h-0.8zM269.32 57.91h0.8v0.8h-0.8zM271.52 59.17h0.8v0.8h-0.8zM279.26 59.37h0.8v0.8h-0.8zM277.71 61.92h0.8v0.8h-0.8zM270.53 63.23h0.8v0.8h-0.8zM267.62 61.96h0.8v0.8h-0.8zM284.12 60.38h0.8v0.8h-0.8zM280.67 62.24h0.8v0.8h-0.8zM284.83 63h0.8v0.8h-0.8z" fill="#000" fill-opacity="0.3"/>
<path d="M274.89 60.84h0.8v0.8h-0.8zM270.26 59.94h0.8v0.8h-0.8zM273.85 59.16h0.8v0.8h-0.8zM274.89 61.68h0.8v0.8h-0.8zM273.41 61.59h0.8v0.8h-0.8zM271.3 59.51h0.8v0.8h-0.8zM274.17 60.65h0.8v0.8h-0.8zM273.57 63.21h0.8v0.8h-0.8zM281.26 59.85h0.8v0.8h-0.8zM278.15 60.58h0.8v0.8h-0.8zM275.52 61.09h0.8v0.8h-0.8zM271.15 61.11h0.8v0.8h-0.8zM278.53 61.93h0.8v0.8h-0.8zM272.22 56.64h0.8v0.8h-0.8zM275.38 60.45h0.8v0.8h-0.8z" fill="#000" fill-opacity="0.3"/>
<path d="M276.72 61.52h0.8v0.8h-0.8zM272.12 61.51h0.8v0.8h-0.8zM275.42 62.2h0.8v0.8h-0.8zM276.47 62.38h0.8v0.8h-0.8zM274.03 62.93h0.8v0.8h-0.8zM273.52 62.14h0.8v0.8h-0.8zM281.86 61.55h0.8v0.8h-0.8zM278.85 60.13h0.8v0.8h-0.8zM277.92 60.69h0.8v0.8h-0.8zM271.69 64.2h0.8v0.8h-0.8zM278.33 61.52h0.8v0.8h-0.8zM274.34 61.4h0.8v0.8h-0.8zM276.16 60.25h0.8v0.8h-0.8zM280.92 61.73h0.8v0.8h-0.8zM277.26 63.03h0.8v0.8h-0.8z" fill="#000" fill-opacity="0.3"/>
<path d="M342.42 68.16h0.9v0.9h-0.9zM349.39 73.85h0.9v0.9h-0.9zM340.32 68.62h0.9v0.9h-0.9zM342.66 67.88h0.9v0.9h-0.9zM351.04 68.91h0.9v0.9h-0.9zM352.74 69.47h0.9v0.9h-0.9zM344.8 71.07h0.9v0.9h-0.9zM349.04 67.9h0.9v0.9h-0.9zM351.78 68.94h0.9v0.9h-0.9zM352.41 71.69h0.9v0.9h-0.9zM353.97 72.19h0.9v0.9h-0.9zM348.02 67.98h0.9v0.9h-0.9zM341.68 72.4h0.9v0.9h-0.9zM352.68 71.43h0.9v0.9h-0.9zM347.61 68.23h0.9v0.9h-0.9zM342.88 69.88h0.9v0.9h-0.9zM346.95 68.21h0.9v0.9h-0.9zM349.64 71.48h0.9v0.9h-0.9zM349.25 72.61h0.9v0.9h-0.9zM348.72 70.54h0.9v0.9h-0.9zM344.47 71.34h0.9v0.9h-0.9zM340.31 68.43h0.9v0.9h-0.9zM350.5 68.93h0.9v0.9h-0.9zM340.76 73.19h0.9v0.9h-0.9zM348.08 70.47h0.9v0.9h-0.9zM351.1 69.74h0.9v0.9h-0.9zM351.25 69.4h0.9v0.9h-0.9zM348.02 70.63h0.9v0.9h-0.9zM346.62 69.9h0.9v0.9h-0.9zM342.58 70.31h0.9v0.9h-0.9zM351.91 71.36h0.9v0.9h-0.9zM345.66 72.98h0.9v0.9h-0.9zM344.31 72.02h0.9v0.9h-0.9zM339.53 68.36h0.9v0.9h-0.9zM344.56 68.63h0.9v0.9h-0.9zM345.24 69.24h0.9v0.9h-0.9zM344.37 68.46h0.9v0.9h-0.9zM347.38 73.94h0.9v0.9h-0.9zM345.34 70.47h0.9v0.9h-0.9zM349.71 72.65h0.9v0.9h-0.9zM354.71 71h0.9v0.9h-0.9zM341.25 72.66h0.9v0.9h-0.9zM345.59 71.53h0.9v0.9h-0.9zM354.01 71.15h0.9v0.9h-0.9zM350.06 68.65h0.9v0.9h-0.9zM348.72 72.49h0.9v0.9h-0.9zM342.24 68.84h0.9v0.9h-0.9zM344.34 70.23h0.9v0.9h-0.9zM342.92 69.69h0.9v0.9h-0.9zM346.94 70.23h0.9v0.9h-0.9zM354.89 72.23h0.9v0.9h-0.9zM350.15 68.63h0.9v0.9h-0.9zM345.72 71.46h0.9v0.9h-0.9zM348.65 71.3h0.9v0.9h-0.9zM342.55 73.01h0.9v0.9h-0.9zM353.43 71.14h0.9v0.9h-0.9zM345.77 68.33h0.9v0.9h-0.9zM342.18 72.63h0.9v0.9h-0.9zM343.96 69.94h0.9v0.9h-0.9zM353.47 69.1h0.9v0.9h-0.9zM350.63 70.9h0.9v0.9h-0.9zM347.68 70.18h0.9v0.9h-0.9zM342.74 72.91h0.9v0.9h-0.9zM342.71 69.05h0.9v0.9h-0.9zM350.22 69.67h0.9v0.9h-0.9zM347.9 72.68h0.9v0.9h-0.9zM340.93 68.97h0.9v0.9h-0.9zM350.78 71.41h0.9v0.9h-0.9zM348.81 67.42h0.9v0.9h-0.9zM350.55 71.79h0.9v0.9h-0.9zM347.83 69.35h0.9v0.9h-0.9zM353.59 72.23h0.9v0.9h-0.9zM351.71 70.88h0.9v0.9h-0.9zM343.58 73.63h0.9v0.9h-0.9zM345.91 72.45h0.9v0.9h-0.9zM349.76 71.5h0.9v0.9h-0.9zM352.35 67.52h0.9v0.9h-0.9zM340.9 68.61h0.9v0.9h-0.9zM345.68 72.39h0.9v0.9h-0.9zM349.44 71.55h0.9v0.9h-0.9zM352.56 67.96h0.9v0.9h-0.9zM350.36 71.92h0.9v0.9h-0.9zM344.54 72.63h0.9v0.9h-0.9zM348.21 70.37h0.9v0.9h-0.9zM346.43 68.76h0.9v0.9h-0.9zM342.89 69.31h0.9v0.9h-0.9zM350.1 73.14h0.9v0.9h-0.9zM344.35 67.73h0.9v0.9h-0.9zM348.41 69.11h0.9v0.9h-0.9zM352.92 71.94h0.9v0.9h-0.9zM342.98 71.59h0.9v0.9h-0.9zM353.26 69.13h0.9v0.9h-0.9zM344.53 68.5h0.9v0.9h-0.9zM342.34 72.59h0.9v0.9h-0.9zM343.46 71.83h0.9v0.9h-0.9zM346.12 68.51h0.9v0.9h-0.9zM341.49 69.26h0.9v0.9h-0.9zM347.19 68.95h0.9v0.9h-0.9zM350.26 73.46h0.9v0.9h-0.9zM349.3 72.93h0.9v0.9h-0.9zM343.02 71.51h0.9v0.9h-0.9zM354.62 69.08h0.9v0.9h-0.9zM354.71 70.45h0.9v0.9h-0.9zM341.67 70.63h0.9v0.9h-0.9zM341.77 72.21h0.9v0.9h-0.9zM345.03 68.72h0.9v0.9h-0.9zM345.58 68.9h0.9v0.9h-0.9zM342.65 69.24h0.9v0.9h-0.9zM349.72 71.05h0.9v0.9h-0.9zM351.08 68.14h0.9v0.9h-0.9zM344.06 72.04h0.9v0.9h-0.9zM348.8 68.54h0.9v0.9h-0.9zM341.9 68.42h0.9v0.9h-0.9zM350.8 69.71h0.9v0.9h-0.9zM354.23 69.5h0.9v0.9h-0.9zM347.17 68.97h0.9v0.9h-0.9zM342.92 71.16h0.9v0.9h-0.9zM346.27 69.12h0.9v0.9h-0.9zM345.68 72.43h0.9v0.9h-0.9zM347.47 73.12h0.9v0.9h-0.9zM351.04 68.89h0.9v0.9h-0.9zM347.57 71.38h0.9v0.9h-0.9zM343.05 72.48h0.9v0.9h-0.9zM351.62 70.05h0.9v0.9h-0.9zM344.39 71.87h0.9v0.9h-0.9zM352.16 70.15h0.9v0.9h-0.9zM347.02 69.75h0.9v0.9h-0.9zM343.66 72.11h0.9v0.9h-0.9zM341.35 70.59h0.9v0.9h-0.9zM344.49 73.1h0.9v0.9h-0.9zM341.28 70.48h0.9v0.9h-0.9zM353.16 70.42h0.9v0.9h-0.9zM351.85 68.54h0.9v0.9h-0.9zM341.57 69.63h0.9v0.9h-0.9zM346.75 72.6h0.9v0.9h-0.9zM348.48 70.28h0.9v0.9h-0.9zM342.71 69.69h0.9v0.9h-0.9zM351.18 70.83h0.9v0.9h-0.9zM347.39 68.71h0.9v0.9h-0.9zM346.93 69.73h0.9v0.9h-0.9zM349.4 68.95h0.9v0.9h-0.9zM349.22 71.12h0.9v0.9h-0.9zM342.46 71.55h0.9v0.9h-0.9zM351 70.83h0.9v0.9h-0.9zM344.6 72.19h0.9v0.9h-0.9zM350.25 72.05h0.9v0.9h-0.9zM344.03 72.26h0.9v0.9h-0.9zM348.91 68.89h0.9v0.9h-0.9zM350.29 69.7h0.9v0.9h-0.9zM350.28 71.83h0.9v0.9h-0.9zM341.96 67.4h0.9v0.9h-0.9zM352.11 70.08h0.9v0.9h-0.9zM349.14 70.09h0.9v0.9h-0.9zM354.84 68.1h0.9v0.9h-0.9zM343.49 69.23h0.9v0.9h-0.9zM342.84 70.07h0.9v0.9h-0.9zM345.02 69.32h0.9v0.9h-0.9zM351.62 71.59h0.9v0.9h-0.9zM341.73 69.33h0.9v0.9h-0.9zM345.12 69.21h0.9v0.9h-0.9zM353.96 72.43h0.9v0.9h-0.9zM340.66 71.51h0.9v0.9h-0.9zM345.37 72.33h0.9v0.9h-0.9zM342.83 68.69h0.9v0.9h-0.9zM354.18 71.68h0.9v0.9h-0.9zM348.82 73.12h0.9v0.9h-0.9zM348.19 70.26h0.9v0.9h-0.9zM346.53 70.43h0.9v0.9h-0.9zM342.67 72.99h0.9v0.9h-0.9zM348.54 72.85h0.9v0.9h-0.9zM344.51 68.24h0.9v0.9h-0.9zM347.68 71.83h0.9v0.9h-0.9zM348.5 69.09h0.9v0.9h-0.9zM344.19 70.54h0.9v0.9h-0.9zM344.51 72.3h0.9v0.9h-0.9zM346.64 68.15h0.9v0.9h-0.9zM352.56 68.89h0.9v0.9h-0.9zM350.93 71.08h0.9v0.9h-0.9zM348.82 71.28h0.9v0.9h-0.9zM351.94 69.72h0.9v0.9h-0.9zM348.09 72.19h0.9v0.9h-0.9zM352.38 69h0.9v0.9h-0.9zM344.87 69.71h0.9v0.9h-0.9zM342.74 72.55h0.9v0.9h-0.9zM353.37 70.6h0.9v0.9h-0.9zM342.52 73.12h0.9v0.9h-0.9zM343.51 72.45h0.9v0.9h-0.9zM345.63 68.77h0.9v0.9h-0.9zM344.31 70.67h0.9v0.9h-0.9zM341.91 68.65h0.9v0.9h-0.9zM347.49 70.42h0.9v0.9h-0.9zM342.41 71.55h0.9v0.9h-0.9zM353.76 70.13h0.9v0.9h-0.9zM351.83 69.89h0.9v0.9h-0.9zM346.24 72.26h0.9v0.9h-0.9zM348.8 70.42h0.9v0.9h-0.9zM341.52 71.69h0.9v0.9h-0.9zM351.59 72.08h0.9v0.9h-0.9zM348.67 69.73h0.9v0.9h-0.9zM353.29 67.32h0.9v0.9h-0.9zM342 72.11h0.9v0.9h-0.9zM345.61 70.05h0.9v0.9h-0.9zM341.95 67.73h0.9v0.9h-0.9zM351.22 72.29h0.9v0.9h-0.9zM351.41 71.66h0.9v0.9h-0.9zM349.92 71.42h0.9v0.9h-0.9zM340.95 67.84h0.9v0.9h-0.9zM348.98 73.02h0.9v0.9h-0.9zM344.87 69.31h0.9v0.9h-0.9zM341.71 72.42h0.9v0.9h-0.9zM353.37 71.07h0.9v0.9h-0.9zM345.28 68.89h0.9v0.9h-0.9zM343.85 70.66h0.9v0.9h-0.9zM342.5 68.87h0.9v0.9h-0.9zM351.24 68.79h0.9v0.9h-0.9zM351.34 68.41h0.9v0.9h-0.9zM351.53 69.8h0.9v0.9h-0.9zM353.15 67.81h0.9v0.9h-0.9zM345.4 69.84h0.9v0.9h-0.9zM344.61 71.54h0.9v0.9h-0.9zM342.41 74.01h0.9v0.9h-0.9zM345.87 68.46h0.9v0.9h-0.9zM342.41 71.67h0.9v0.9h-0.9zM342.07 70.05h0.9v0.9h-0.9zM343.35 68.75h0.9v0.9h-0.9zM349.04 71.19h0.9v0.9h-0.9zM352.95 68.53h0.9v0.9h-0.9zM345.54 72.6h0.9v0.9h-0.9zM346.18 72.01h0.9v0.9h-0.9zM351.76 70.41h0.9v0.9h-0.9zM346.19 67.85h0.9v0.9h-0.9zM343.93 72.56h0.9v0.9h-0.9zM346.88 71.86h0.9v0.9h-0.9zM344.41 72.65h0.9v0.9h-0.9zM353.76 70.54h0.9v0.9h-0.9zM342.36 72.11h0.9v0.9h-0.9zM349.21 70.6h0.9v0.9h-0.9zM353.49 68.72h0.9v0.9h-0.9zM350.26 70.48h0.9v0.9h-0.9zM341.76 68.77h0.9v0.9h-0.9zM343.75 72.81h0.9v0.9h-0.9zM354.28 67.23h0.9v0.9h-0.9zM346.23 72.4h0.9v0.9h-0.9zM352.92 70.01h0.9v0.9h-0.9zM343.85 69.38h0.9v0.9h-0.9zM347.58 71.12h0.9v0.9h-0.9zM350.38 68.05h0.9v0.9h-0.9zM346.28 68.41h0.9v0.9h-0.9zM348.46 71.16h0.9v0.9h-0.9zM348.83 72.28h0.9v0.9h-0.9zM350.51 71.95h0.9v0.9h-0.9zM345.64 70.03h0.9v0.9h-0.9zM351.08 69.45h0.9v0.9h-0.9zM348.72 68.29h0.9v0.9h-0.9zM348.8 70.98h0.9v0.9h-0.9zM345.72 69.83h0.9v0.9h-0.9zM346.69 68.35h0.9v0.9h-0.9zM347.19 66.73h0.9v0.9h-0.9zM344.95 72.6h0.9v0.9h-0.9zM344.38 70.18h0.9v0.9h-0.9zM341.68 68.89h0.9v0.9h-0.9zM347.48 69.53h0.9v0.9h-0.9zM350.17 69.95h0.9v0.9h-0.9zM353.91 69.83h0.9v0.9h-0.9zM347.85 71.15h0.9v0.9h-0.9zM342.91 72.16h0.9v0.9h-0.9zM341.41 70.96h0.9v0.9h-0.9zM343.98 69.43h0.9v0.9h-0.9zM352.85 73.38h0.9v0.9h-0.9zM346.95 72.5h0.9v0.9h-0.9zM349.12 72.76h0.9v0.9h-0.9zM346.24 68.32h0.9v0.9h-0.9zM352.4 73.8h0.9v0.9h-0.9zM352.25 68.91h0.9v0.9h-0.9zM345.64 69.55h0.9v0.9h-0.9z" fill="#000" fill-opacity="0.6"/>
<path d="M345.6 67.16h0.9v0.9h-0.9zM342.19 68.06h0.9v0.9h-0.9zM349.7 70.32h0.9v0.9h-0.9zM341.59 71.67h0.9v0.9h-0.9zM346.5 73.47h0.9v0.9h-0.9zM354.52 68.17h0.9v0.9h-0.9zM342.19 67.36h0.9v0.9h-0.9zM352.51 72.57h0.9v0.9h-0.9zM347.01 72.32h0.9v0.9h-0.9zM347.74 71.56h0.9v0.9h-0.9zM342.09 66.58h0.9v0.9h-0.9zM345.65 70.33h0.9v0.9h-0.9zM343.06 69.61h0.9v0.9h-0.9zM354.15 69.4h0.9v0.9h-0.9zM342.47 72.17h0.9v0.9h-0.9zM346.41 69.57h0.9v0.9h-0.9zM345.14 69.72h0.9v0.9h-0.9zM346.17 71.14h0.9v0.9h-0.9zM344.61 71.73h0.9v0.9h-0.9zM352.74 71.07h0.9v0.9h-0.9zM349.92 68.98h0.9v0.9h-0.9zM353.07 68.23h0.9v0.9h-0.9zM353.35 74.12h0.9v0.9h-0.9zM345.11 70.4h0.9v0.9h-0.9zM346.85 68.79h0.9v0.9h-0.9zM344.05 68.84h0.9v0.9h-0.9zM347.53 70.27h0.9v0.9h-0.9zM346.15 70.76h0.9v0.9h-0.9zM349.72 69.13h0.9v0.9h-0.9zM349.68 69.56h0.9v0.9h-0.9zM348.56 67.84h0.9v0.9h-0.9zM347.44 73.6h0.9v0.9h-0.9zM345.67 71.6h0.9v0.9h-0.9zM350.6 69.54h0.9v0.9h-0.9zM342.27 68.01h0.9v0.9h-0.9zM345.89 72.62h0.9v0.9h-0.9zM352.68 67.82h0.9v0.9h-0.9zM349.37 69.25h0.9v0.9h-0.9zM351 70.24h0.9v0.9h-0.9zM349.28 67.43h0.9v0.9h-0.9zM345.72 73.06h0.9v0.9h-0.9zM342.89 67.7h0.9v0.9h-0.9zM350.87 68.59h0.9v0.9h-0.9zM347.02 73.33h0.9v0.9h-0.9zM353.51 69.62h0.9v0.9h-0.9zM349.97 72.42h0.9v0.9h-0.9zM351.35 68.46h0.9v0.9h-0.9zM348.93 73.08h0.9v0.9h-0.9zM350.82 71.75h0.9v0.9h-0.9zM349.71 70.77h0.9v0.9h-0.9zM349.87 70.08h0.9v0.9h-0.9zM348.58 69.12h0.9v0.9h-0.9zM346.4 70.76h0.9v0.9h-0.9zM353.94 71.63h0.9v0.9h-0.9zM343.11 70.16h0.9v0.9h-0.9zM347.97 72.08h0.9v0.9h-0.9zM349.04 71.4h0.9v0.9h-0.9zM340.85 69.92h0.9v0.9h-0.9zM350.89 68.13h0.9v0.9h-0.9zM348.61 73.13h0.9v0.9h-0.9zM351.97 70.25h0.9v0.9h-0.9zM343.43 70.62h0.9v0.9h-0.9zM344.59 69.78h0.9v0.9h-0.9zM342.07 69.3h0.9v0.9h-0.9zM352.38 70.77h0.9v0.9h-0.9zM344.97 70.03h0.9v0.9h-0.9zM346.12 68.38h0.9v0.9h-0.9zM352.78 68.52h0.9v0.9h-0.9zM349.16 66.61h0.9v0.9h-0.9zM345.55 67.39h0.9v0.9h-0.9zM347.87 69.14h0.9v0.9h-0.9zM349.17 68.6h0.9v0.9h-0.9zM345.79 71.21h0.9v0.9h-0.9zM349.36 67.31h0.9v0.9h-0.9zM340.52 72.02h0.9v0.9h-0.9zM348.98 69.99h0.9v0.9h-0.9zM343.29 68.83h0.9v0.9h-0.9zM345.38 70.92h0.9v0.9h-0.9zM342.13 67.51h0.9v0.9h-0.9zM350.59 70.83h0.9v0.9h-0.9zM344.42 71.02h0.9v0.9h-0.9zM353.49 70.87h0.9v0.9h-0.9zM348.5 71.83h0.9v0.9h-0.9zM351.23 71.43h0.9v0.9h-0.9zM352.97 71.1h0.9v0.9h-0.9zM342.38 70.1h0.9v0.9h-0.9zM348.8 71.98h0.9v0.9h-0.9zM351.35 69.45h0.9v0.9h-0.9zM353.95 68.46h0.9v0.9h-0.9zM351.3 68.09h0.9v0.9h-0.9zM340.71 68.27h0.9v0.9h-0.9zM342.87 72.42h0.9v0.9h-0.9zM347.6 72.09h0.9v0.9h-0.9zM349.37 71.1h0.9v0.9h-0.9zM344.22 70.78h0.9v0.9h-0.9zM349.29 69.07h0.9v0.9h-0.9zM354.09 70.38h0.9v0.9h-0.9zM344.85 72.4h0.9v0.9h-0.9zM346.71 70.75h0.9v0.9h-0.9zM343.55 68.32h0.9v0.9h-0.9zM340.39 71.65h0.9v0.9h-0.9zM346.42 72.66h0.9v0.9h-0.9zM348.6 72.04h0.9v0.9h-0.9zM352.27 72.39h0.9v0.9h-0.9zM343.43 67.9h0.9v0.9h-0.9zM351.26 71.14h0.9v0.9h-0.9zM348.02 72.2h0.9v0.9h-0.9zM351.92 71.02h0.9v0.9h-0.9zM343.21 67.77h0.9v0.9h-0.9zM346.16 71.43h0.9v0.9h-0.9zM350.69 67.87h0.9v0.9h-0.9zM353.49 69.72h0.9v0.9h-0.9zM347.26 68.27h0.9v0.9h-0.9zM352.21 68.55h0.9v0.9h-0.9zM341.72 67.47h0.9v0.9h-0.9zM343.82 71.79h0.9v0.9h-0.9zM348.41 68.39h0.9v0.9h-0.9zM355.1 70.86h0.9v0.9h-0.9zM353.95 69.24h0.9v0.9h-0.9zM344.64 70.24h0.9v0.9h-0.9zM349.56 67.29h0.9v0.9h-0.9zM341.14 72.06h0.9v0.9h-0.9zM350.14 73.15h0.9v0.9h-0.9zM342.86 73.94h0.9v0.9h-0.9zM352.97 71.99h0.9v0.9h-0.9zM346.57 68.55h0.9v0.9h-0.9zM343.15 72.11h0.9v0.9h-0.9zM341.35 68.79h0.9v0.9h-0.9zM352.81 68.33h0.9v0.9h-0.9zM353.19 69.37h0.9v0.9h-0.9zM354.28 72.19h0.9v0.9h-0.9zM349.07 68.32h0.9v0.9h-0.9zM345.42 66.95h0.9v0.9h-0.9zM350.14 68.8h0.9v0.9h-0.9zM341.65 68.12h0.9v0.9h-0.9zM354.93 71.56h0.9v0.9h-0.9zM340.89 71.95h0.9v0.9h-0.9zM343.59 69.1h0.9v0.9h-0.9zM342.23 68.97h0.9v0.9h-0.9zM352.05 73.04h0.9v0.9h-0.9zM346.86 68.67h0.9v0.9h-0.9zM351.66 66.45h0.9v0.9h-0.9zM346.92 71.76h0.9v0.9h-0.9zM351.23 69.14h0.9v0.9h-0.9zM350.04 71.57h0.9v0.9h-0.9zM341.12 70.84h0.9v0.9h-0.9zM343.71 69.63h0.9v0.9h-0.9zM351.13 69.26h0.9v0.9h-0.9zM351.33 73.36h0.9v0.9h-0.9zM346.62 67.63h0.9v0.9h-0.9zM347.66 68.99h0.9v0.9h-0.9zM348.28 70.08h0.9v0.9h-0.9zM352.72 72.42h0.9v0.9h-0.9zM350.64 72.29h0.9v0.9h-0.9zM344.21 67.98h0.9v0.9h-0.9zM348.42 67.66h0.9v0.9h-0.9zM344.34 71.02h0.9v0.9h-0.9zM352.62 72.71h0.9v0.9h-0.9zM340.85 68.76h0.9v0.9h-0.9zM354.02 72.51h0.9v0.9h-0.9zM347.95 71.11h0.9v0.9h-0.9zM340.54 72.53h0.9v0.9h-0.9zM351.31 65.7h0.9v0.9h-0.9zM345.34 70.26h0.9v0.9h-0.9zM352.87 72.06h0.9v0.9h-0.9zM344.44 68.49h0.9v0.9h-0.9zM343.45 68.26h0.9v0.9h-0.9zM346.31 67.52h0.9v0.9h-0.9zM346.6 68.53h0.9v0.9h-0.9zM351.47 71.5h0.9v0.9h-0.9zM345.49 68.91h0.9v0.9h-0.9zM346.5 70.47h0.9v0.9h-0.9zM345.46 68.33h0.9v0.9h-0.9zM342.24 70.63h0.9v0.9h-0.9zM344.96 71.51h0.9v0.9h-0.9zM349.84 71.41h0.9v0.9h-0.9zM347.12 69.26h0.9v0.9h-0.9zM344.85 68.3h0.9v0.9h-0.9zM339.23 72.34h0.9v0.9h-0.9zM341.5 72.07h0.9v0.9h-0.9zM356.21 70.53h0.9v0.9h-0.9zM342.9 67.57h0.9v0.9h-0.9zM351.02 71.51h0.9v0.9h-0.9zM344.21 67.47h0.9v0.9h-0.9zM353.87 71.78h0.9v0.9h-0.9zM346.36 72.5h0.9v0.9h-0.9zM350.95 68.7h0.9v0.9h-0.9zM345.17 71.58h0.9v0.9h-0.9zM346.86 68.9h0.9v0.9h-0.9zM345.57 70.47h0.9v0.9h-0.9zM341.62 71.58h0.9v0.9h-0.9zM353.04 71.61h0.9v0.9h-0.9zM353.26 68.26h0.9v0.9h-0.9zM345.45 72.93h0.9v0.9h-0.9zM342.12 71.69h0.9v0.9h-0.9zM344.51 68.21h0.9v0.9h-0.9zM341.96 71.16h0.9v0.9h-0.9zM346.74 69.16h0.9v0.9h-0.9zM352.3 72.95h0.9v0.9h-0.9zM348.94 66.85h0.9v0.9h-0.9zM345.45 69.22h0.9v0.9h-0.9zM349.03 67.1h0.9v0.9h-0.9zM344.64 70.01h0.9v0.9h-0.9zM342.94 72.68h0.9v0.9h-0.9zM350.19 68.49h0.9v0.9h-0.9zM343.26 71.26h0.9v0.9h-0.9zM345.12 68.82h0.9v0.9h-0.9zM348.51 71.88h0.9v0.9h-0.9zM344.46 70h0.9v0.9h-0.9zM350.98 70.86h0.9v0.9h-0.9zM349.17 68.36h0.9v0.9h-0.9zM346.3 72.86h0.9v0.9h-0.9zM347.36 72.06h0.9v0.9h-0.9zM348.42 70.51h0.9v0.9h-0.9zM351.39 69.59h0.9v0.9h-0.9zM344.17 68.01h0.9v0.9h-0.9zM341.96 66.14h0.9v0.9h-0.9zM347.34 73.45h0.9v0.9h-0.9zM348.35 69.48h0.9v0.9h-0.9zM344.04 72.75h0.9v0.9h-0.9zM348.83 71.87h0.9v0.9h-0.9zM348.36 69.98h0.9v0.9h-0.9zM342.65 71.33h0.9v0.9h-0.9zM347.91 68.5h0.9v0.9h-0.9zM348.61 70.15h0.9v0.9h-0.9zM354.81 70.5h0.9v0.9h-0.9zM351.18 68.09h0.9v0.9h-0.9zM353.85 68.32h0.9v0.9h-0.9zM350.8 68.97h0.9v0.9h-0.9zM342.87 72.25h0.9v0.9h-0.9zM351.3 68.5h0.9v0.9h-0.9zM354.19 73.13h0.9v0.9h-0.9zM351.51 68.08h0.9v0.9h-0.9zM342.92 73.66h0.9v0.9h-0.9zM351.88 69.25h0.9v0.9h-0.9zM350.88 70.45h0.9v0.9h-0.9zM341.52 70.68h0.9v0.9h-0.9zM353.43 69.7h0.9v0.9h-0.9zM340.65 70.57h0.9v0.9h-0.9zM352.97 71.09h0.9v0.9h-0.9zM340.96 70.48h0.9v0.9h-0.9zM352.01 71.93h0.9v0.9h-0.9zM346.65 74.07h0.9v0.9h-0.9zM348.52 70.31h0.9v0.9h-0.9zM353.83 71.05h0.9v0.9h-0.9zM345.31 68.36h0.9v0.9h-0.9zM352.64 67.01h0.9v0.9h-0.9zM353.02 67.74h0.9v0.9h-0.9zM354.77 72.5h0.9v0.9h-0.9zM343.71 69.98h0.9v0.9h-0.9zM345.59 68.26h0.9v0.9h-0.9zM341.82 67.86h0.9v0.9h-0.9zM342 69.27h0.9v0.9h-0.9zM353.78 71.64h0.9v0.9h-0.9zM344.05 71.43h0.9v0.9h-0.9zM353.48 70.14h0.9v0.9h-0.9zM345.29 71.19h0.9v0.9h-0.9zM347.42 70.39h0.9v0.9h-0.9zM347.82 70.17h0.9v0.9h-0.9zM340.45 68.7h0.9v0.9h-0.9zM341.62 70.22h0.9v0.9h-0.9zM346.86 72.23h0.9v0.9h-0.9zM342.21 70.62h0.9v0.9h-0.9zM351.69 72.42h0.9v0.9h-0.9zM354.58 73.14h0.9v0.9h-0.9zM353.13 72.22h0.9v0.9h-0.9zM348.24 70.74h0.9v0.9h-0.9zM355.83 72.12h0.9v0.9h-0.9zM351.73 69.44h0.9v0.9h-0.9zM349.97 71.72h0.9v0.9h-0.9zM346.75 71.55h0.9v0.9h-0.9zM351.94 68.92h0.9v0.9h-0.9zM345.04 73.54h0.9v0.9h-0.9zM343.5 67.94h0.9v0.9h-0.9zM343.65 71.61h0.9v0.9h-0.9z" fill="#000" fill-opacity="0.6"/>
<path d="M346.49 68.8h0.9v0.9h-0.9zM349.99 68.24h0.9v0.9h-0.9zM351.78 67.92h0.9v0.9h-0.9zM352.56 70.15h0.9v0.9h-0.9zM347.81 70.7h0.9v0.9h-0.9zM346.8 68.36h0.9v0.9h-0.9zM346.23 70.17h0.9v0.9h-0.9zM342.68 67.7h0.9v0.9h-0.9zM347.86 72.43h0.9v0.9h-0.9zM352.32 70.59h0.9v0.9h-0.9zM349.72 69.99h0.9v0.9h-0.9zM346 68.25h0.9v0.9h-0.9zM343.01 68.97h0.9v0.9h-0.9zM354.57 70.89h0.9v0.9h-0.9zM341.94 69.73h0.9v0.9h-0.9zM340.89 69.59h0.9v0.9h-0.9zM342.99 66.94h0.9v0.9h-0.9zM350.51 68.23h0.9v0.9h-0.9zM350.82 71.63h0.9v0.9h-0.9zM346.26 68.02h0.9v0.9h-0.9zM345.97 70.75h0.9v0.9h-0.9zM343.73 70.79h0.9v0.9h-0.9zM353.73 68.92h0.9v0.9h-0.9zM347.75 71.84h0.9v0.9h-0.9zM343.36 71.78h0.9v0.9h-0.9zM351.3 69.16h0.9v0.9h-0.9zM340.25 69.1h0.9v0.9h-0.9zM349.49 73.48h0.9v0.9h-0.9zM344.85 69.3h0.9v0.9h-0.9zM346.38 69.95h0.9v0.9h-0.9zM348.92 73.49h0.9v0.9h-0.9zM342.61 72.27h0.9v0.9h-0.9zM348.1 69.21h0.9v0.9h-0.9zM352.65 68.62h0.9v0.9h-0.9zM342.97 67.77h0.9v0.9h-0.9zM348.77 68.24h0.9v0.9h-0.9zM347.68 71.18h0.9v0.9h-0.9zM346.17 69.73h0.9v0.9h-0.9zM345.65 69.59h0.9v0.9h-0.9zM350.52 68.01h0.9v0.9h-0.9zM353.27 70h0.9v0.9h-0.9zM346.47 69.88h0.9v0.9h-0.9zM352.12 67.99h0.9v0.9h-0.9zM340.42 71.52h0.9v0.9h-0.9zM354.74 70.77h0.9v0.9h-0.9zM350.21 71.52h0.9v0.9h-0.9zM354.01 70.34h0.9v0.9h-0.9zM351.94 71.9h0.9v0.9h-0.9zM339 70.97h0.9v0.9h-0.9zM345.08 71.98h0.9v0.9h-0.9zM354.65 68.45h0.9v0.9h-0.9zM344.37 69.59h0.9v0.9h-0.9zM342.64 72.05h0.9v0.9h-0.9zM348.78 72.83h0.9v0.9h-0.9zM350.14 70.82h0.9v0.9h-0.9zM348.69 69.02h0.9v0.9h-0.9zM342.93 73.63h0.9v0.9h-0.9zM345.6 69.28h0.9v0.9h-0.9zM349.38 68.77h0.9v0.9h-0.9zM347.19 67.89h0.9v0.9h-0.9zM349.8 68.37h0.9v0.9h-0.9zM348.36 71.19h0.9v0.9h-0.9zM349.65 70.47h0.9v0.9h-0.9zM348.58 68.16h0.9v0.9h-0.9zM343.7 70.5h0.9v0.9h-0.9zM346.09 73.11h0.9v0.9h-0.9zM350.46 71.14h0.9v0.9h-0.9zM347.43 70.24h0.9v0.9h-0.9zM347.9 69.24h0.9v0.9h-0.9zM348.02 72.31h0.9v0.9h-0.9zM347.51 68.46h0.9v0.9h-0.9zM354.35 67.41h0.9v0.9h-0.9zM348.3 69.87h0.9v0.9h-0.9zM342.76 69.23h0.9v0.9h-0.9zM345.87 69.75h0.9v0.9h-0.9zM340.87 69.02h0.9v0.9h-0.9zM342.42 71.74h0.9v0.9h-0.9zM352.97 67.16h0.9v0.9h-0.9zM350.47 72.35h0.9v0.9h-0.9zM343.8 71.78h0.9v0.9h-0.9zM342 68.67h0.9v0.9h-0.9zM350.69 72.09h0.9v0.9h-0.9zM353.37 68.46h0.9v0.9h-0.9zM347.26 69.84h0.9v0.9h-0.9zM349.8 68.89h0.9v0.9h-0.9zM342.22 69.59h0.9v0.9h-0.9zM353.64 70.92h0.9v0.9h-0.9zM352.03 71.78h0.9v0.9h-0.9zM345.97 72.32h0.9v0.9h-0.9zM349.75 68.26h0.9v0.9h-0.9zM343.02 72.37h0.9v0.9h-0.9zM354.42 75.45h0.9v0.9h-0.9zM344.54 70.7h0.9v0.9h-0.9zM341.95 73.58h0.9v0.9h-0.9zM348.41 70.96h0.9v0.9h-0.9zM353.97 70.45h0.9v0.9h-0.9zM344.39 73.57h0.9v0.9h-0.9zM342.15 73.35h0.9v0.9h-0.9zM348.93 70.82h0.9v0.9h-0.9zM354.51 67.67h0.9v0.9h-0.9zM340.74 67.4h0.9v0.9h-0.9zM355.01 68.39h0.9v0.9h-0.9zM347.03 71.79h0.9v0.9h-0.9zM352.03 67.33h0.9v0.9h-0.9zM345.16 69.89h0.9v0.9h-0.9zM345.9 67.68h0.9v0.9h-0.9zM343.51 71.28h0.9v0.9h-0.9zM341.48 68.35h0.9v0.9h-0.9zM352.38 72.67h0.9v0.9h-0.9zM341.13 73.3h0.9v0.9h-0.9zM349.02 69.72h0.9v0.9h-0.9zM353.92 68.77h0.9v0.9h-0.9zM346.83 71.46h0.9v0.9h-0.9zM341.28 70.95h0.9v0.9h-0.9zM340.38 69.95h0.9v0.9h-0.9zM340.73 71.19h0.9v0.9h-0.9zM341.88 69.64h0.9v0.9h-0.9zM351.58 69.59h0.9v0.9h-0.9zM342.77 69.1h0.9v0.9h-0.9zM350.02 66.26h0.9v0.9h-0.9zM352.04 71.15h0.9v0.9h-0.9zM348.63 68.74h0.9v0.9h-0.9zM354.32 69.48h0.9v0.9h-0.9zM342.91 69.97h0.9v0.9h-0.9zM340.73 73.4h0.9v0.9h-0.9zM350.88 70.8h0.9v0.9h-0.9zM344.9 72.59h0.9v0.9h-0.9zM346.98 67.91h0.9v0.9h-0.9zM351.79 68.65h0.9v0.9h-0.9zM342.89 71.9h0.9v0.9h-0.9zM349.65 71.28h0.9v0.9h-0.9zM350.64 69.58h0.9v0.9h-0.9zM340.71 67.78h0.9v0.9h-0.9zM354.75 70.59h0.9v0.9h-0.9zM348.3 69.36h0.9v0.9h-0.9zM345.92 68.63h0.9v0.9h-0.9zM341.02 72.2h0.9v0.9h-0.9zM344.07 70.58h0.9v0.9h-0.9zM350.37 71.84h0.9v0.9h-0.9zM353.51 68.33h0.9v0.9h-0.9zM348.49 69.9h0.9v0.9h-0.9zM346.68 69.28h0.9v0.9h-0.9zM348.25 69.78h0.9v0.9h-0.9zM343.41 72.08h0.9v0.9h-0.9zM345.98 71.34h0.9v0.9h-0.9zM341.4 69.51h0.9v0.9h-0.9zM353.04 71.01h0.9v0.9h-0.9zM352.8 71.14h0.9v0.9h-0.9zM342.72 68.43h0.9v0.9h-0.9zM347.01 69.53h0.9v0.9h-0.9zM348.68 70.42h0.9v0.9h-0.9zM353.43 67.31h0.9v0.9h-0.9zM350.57 71.09h0.9v0.9h-0.9zM344.68 70.17h0.9v0.9h-0.9zM353.88 72.03h0.9v0.9h-0.9zM340.46 73.03h0.9v0.9h-0.9zM345.57 69.38h0.9v0.9h-0.9zM340.86 71.82h0.9v0.9h-0.9zM351.07 73.15h0.9v0.9h-0.9zM342.37 71.35h0.9v0.9h-0.9zM344.38 70.86h0.9v0.9h-0.9zM345.4 68.92h0.9v0.9h-0.9zM350.46 69.42h0.9v0.9h-0.9zM342.96 68.74h0.9v0.9h-0.9zM349.36 70.48h0.9v0.9h-0.9zM342.59 70.19h0.9v0.9h-0.9zM346.74 68.19h0.9v0.9h-0.9zM348 69.15h0.9v0.9h-0.9zM345.38 69.28h0.9v0.9h-0.9zM352.26 68.88h0.9v0.9h-0.9zM347.38 70.41h0.9v0.9h-0.9zM346.91 69.47h0.9v0.9h-0.9zM354.54 68.69h0.9v0.9h-0.9zM351.36 69.35h0.9v0.9h-0.9zM352.63 70.39h0.9v0.9h-0.9zM339.31 68.59h0.9v0.9h-0.9zM351.25 70.65h0.9v0.9h-0.9zM342.91 69.9h0.9v0.9h-0.9zM355.09 69.68h0.9v0.9h-0.9zM350.67 73h0.9v0.9h-0.9zM343.43 68.23h0.9v0.9h-0.9zM350.53 68.36h0.9v0.9h-0.9zM348.57 68.58h0.9v0.9h-0.9zM351.11 67.87h0.9v0.9h-0.9zM345.35 68.37h0.9v0.9h-0.9zM344.79 70.9h0.9v0.9h-0.9zM348.14 71h0.9v0.9h-0.9zM350.83 68.55h0.9v0.9h-0.9zM353.87 71.58h0.9v0.9h-0.9zM345.72 69.66h0.9v0.9h-0.9zM351.48 69.04h0.9v0.9h-0.9zM350.75 71.53h0.9v0.9h-0.9zM344.06 67.35h0.9v0.9h-0.9zM347.21 70.59h0.9v0.9h-0.9zM345.79 68.93h0.9v0.9h-0.9zM349.3 67.99h0.9v0.9h-0.9zM351.93 68.62h0.9v0.9h-0.9zM343.96 68.42h0.9v0.9h-0.9zM346.29 71.19h0.9v0.9h-0.9zM355.46 67.33h0.9v0.9h-0.9zM348 69.11h0.9v0.9h-0.9zM348.51 72.91h0.9v0.9h-0.9zM346.64 67.78h0.9v0.9h-0.9zM349.63 68.64h0.9v0.9h-0.9zM349.55 69.22h0.9v0.9h-0.9zM340.52 69.45h0.9v0.9h-0.9zM352.69 68.71h0.9v0.9h-0.9zM350.7 70.35h0.9v0.9h-0.9zM346.13 68.16h0.9v0.9h-0.9zM348.78 70.59h0.9v0.9h-0.9zM345.78 72.44h0.9v0.9h-0.9zM342.94 68.13h0.9v0.9h-0.9zM353.01 71.97h0.9v0.9h-0.9zM343.53 72.85h0.9v0.9h-0.9zM352.99 68.84h0.9v0.9h-0.9zM342.76 68.02h0.9v0.9h-0.9zM348.8 71.45h0.9v0.9h-0.9zM349.62 68.82h0.9v0.9h-0.9zM350.94 69.63h0.9v0.9h-0.9zM354.7 71.11h0.9v0.9h-0.9zM342.15 72.65h0.9v0.9h-0.9zM354.64 70.45h0.9v0.9h-0.9zM341.88 70.13h0.9v0.9h-0.9zM340.72 68.34h0.9v0.9h-0.9zM348.93 68.26h0.9v0.9h-0.9zM353 70.67h0.9v0.9h-0.9zM345.59 69.51h0.9v0.9h-0.9zM345.78 69.19h0.9v0.9h-0.9zM350.19 70.04h0.9v0.9h-0.9zM341.92 70.9h0.9v0.9h-0.9zM350.22 73.22h0.9v0.9h-0.9zM354.27 67.63h0.9v0.9h-0.9zM344.57 72.4h0.9v0.9h-0.9zM343.68 67.88h0.9v0.9h-0.9zM354.25 68.55h0.9v0.9h-0.9zM351.08 69.89h0.9v0.9h-0.9zM351.95 70.08h0.9v0.9h-0.9zM353.69 72.42h0.9v0.9h-0.9zM349.81 69.16h0.9v0.9h-0.9zM351.55 70.74h0.9v0.9h-0.9zM354.96 70.67h0.9v0.9h-0.9zM349.09 70.15h0.9v0.9h-0.9zM346.84 68.59h0.9v0.9h-0.9zM345.43 68.82h0.9v0.9h-0.9zM347.87 67.93h0.9v0.9h-0.9zM343.61 71.12h0.9v0.9h-0.9zM345.77 72.96h0.9v0.9h-0.9zM351.12 68.07h0.9v0.9h-0.9zM345 68.42h0.9v0.9h-0.9zM345.01 71.27h0.9v0.9h-0.9zM349.19 72.63h0.9v0.9h-0.9zM344.11 71.38h0.9v0.9h-0.9zM343.38 68.16h0.9v0.9h-0.9zM341.06 72.5h0.9v0.9h-0.9zM354.4 71.41h0.9v0.9h-0.9zM341.47 67.95h0.9v0.9h-0.9zM347.95 71.54h0.9v0.9h-0.9zM343.02 69h0.9v0.9h-0.9zM350.9 72.95h0.9v0.9h-0.9zM346.51 70.48h0.9v0.9h-0.9zM354.16 69.13h0.9v0.9h-0.9zM340.29 67.91h0.9v0.9h-0.9zM350.97 71.21h0.9v0.9h-0.9zM340.54 73.09h0.9v0.9h-0.9zM352.51 68.81h0.9v0.9h-0.9zM351.82 71.71h0.9v0.9h-0.9zM342.32 69.57h0.9v0.9h-0.9zM351.59 69.54h0.9v0.9h-0.9zM351.72 70.93h0.9v0.9h-0.9zM352.63 72.43h0.9v0.9h-0.9zM351.79 68.96h0.9v0.9h-0.9zM344.69 69.93h0.9v0.9h-0.9zM347.7 68.95h0.9v0.9h-0.9zM350.81 66.76h0.9v0.9h-0.9zM344.9 70.22h0.9v0.9h-0.9z" fill="#000" fill-opacity="0.6"/>
<path d="M346.41 70.98h0.9v0.9h-0.9zM347.81 73.74h0.9v0.9h-0.9zM344.04 71.88h0.9v0.9h-0.9zM345.85 68.98h0.9v0.9h-0.9zM343.78 72.81h0.9v0.9h-0.9zM346.74 67.89h0.9v0.9h-0.9zM351.89 71.55h0.9v0.9h-0.9zM354.07 68.89h0.9v0.9h-0.9zM341.44 73.75h0.9v0.9h-0.9zM350.77 69.99h0.9v0.9h-0.9zM348.95 72.54h0.9v0.9h-0.9zM347.52 68.08h0.9v0.9h-0.9zM343.87 71.95h0.9v0.9h-0.9zM345.6 68.24h0.9v0.9h-0.9zM342.27 69.15h0.9v0.9h-0.9zM350.57 67.59h0.9v0.9h-0.9zM351.93 70.73h0.9v0.9h-0.9zM350.71 73.66h0.9v0.9h-0.9zM348.65 67.53h0.9v0.9h-0.9zM345.64 70.93h0.9v0.9h-0.9zM352.67 72.43h0.9v0.9h-0.9zM342.77 69.11h0.9v0.9h-0.9zM354.02 68.08h0.9v0.9h-0.9zM353.64 67.45h0.9v0.9h-0.9zM353.89 67.4h0.9v0.9h-0.9zM344.24 70.94h0.9v0.9h-0.9zM353.26 70.56h0.9v0.9h-0.9zM352.16 71.06h0.9v0.9h-0.9zM345.48 73.28h0.9v0.9h-0.9zM348.7 69.22h0.9v0.9h-0.9zM347.68 69.38h0.9v0.9h-0.9zM346.56 70.7h0.9v0.9h-0.9zM341.71 72.61h0.9v0.9h-0.9zM343.89 73.29h0.9v0.9h-0.9zM349.87 69.34h0.9v0.9h-0.9zM352.46 71.98h0.9v0.9h-0.9zM341.84 68.24h0.9v0.9h-0.9zM353.89 72.14h0.9v0.9h-0.9zM353.61 71.27h0.9v0.9h-0.9zM349.02 72.12h0.9v0.9h-0.9zM340.3 73.37h0.9v0.9h-0.9zM340.76 68.68h0.9v0.9h-0.9zM352.59 72.22h0.9v0.9h-0.9zM347.16 69.46h0.9v0.9h-0.9zM349.43 72.74h0.9v0.9h-0.9zM351.44 72.58h0.9v0.9h-0.9zM344 70.27h0.9v0.9h-0.9zM350.26 68.75h0.9v0.9h-0.9zM350.55 65.98h0.9v0.9h-0.9zM343.41 67.54h0.9v0.9h-0.9zM346.58 73.16h0.9v0.9h-0.9zM340.83 69.05h0.9v0.9h-0.9zM349.35 71.06h0.9v0.9h-0.9zM343.19 67.69h0.9v0.9h-0.9zM342.04 66.63h0.9v0.9h-0.9zM346.25 67.24h0.9v0.9h-0.9zM341.46 67.43h0.9v0.9h-0.9zM350.17 69.01h0.9v0.9h-0.9zM353.02 70.83h0.9v0.9h-0.9zM353.99 73.39h0.9v0.9h-0.9zM350.91 67.82h0.9v0.9h-0.9zM341.05 68.61h0.9v0.9h-0.9zM347.98 70.56h0.9v0.9h-0.9zM347.43 69.22h0.9v0.9h-0.9zM351.5 68.33h0.9v0.9h-0.9zM347.66 69.86h0.9v0.9h-0.9zM348.07 69.28h0.9v0.9h-0.9zM345.96 73.34h0.9v0.9h-0.9zM353.17 71.03h0.9v0.9h-0.9zM354.26 69.84h0.9v0.9h-0.9zM342.2 67.94h0.9v0.9h-0.9zM349.99 73.95h0.9v0.9h-0.9zM349.33 67.05h0.9v0.9h-0.9zM349.83 68.95h0.9v0.9h-0.9zM351.47 70.48h0.9v0.9h-0.9zM350.98 70.52h0.9v0.9h-0.9zM341.19 67.97h0.9v0.9h-0.9zM344.07 68.51h0.9v0.9h-0.9zM353.48 71.74h0.9v0.9h-0.9zM341.7 69.56h0.9v0.9h-0.9zM349.49 72.05h0.9v0.9h-0.9zM352.98 70.85h0.9v0.9h-0.9zM353.05 69.85h0.9v0.9h-0.9zM352.17 69.69h0.9v0.9h-0.9zM340.92 68.45h0.9v0.9h-0.9zM345.31 70.13h0.9v0.9h-0.9zM347.87 68.91h0.9v0.9h-0.9zM346.42 70.18h0.9v0.9h-0.9zM342.38 69.73h0.9v0.9h-0.9zM350.15 70.43h0.9v0.9h-0.9zM345.23 71.45h0.9v0.9h-0.9zM347.42 70.34h0.9v0.9h-0.9zM345.64 69.45h0.9v0.9h-0.9zM349.5 73.65h0.9v0.9h-0.9zM339.14 68.13h0.9v0.9h-0.9zM346.93 71.18h0.9v0.9h-0.9zM347.15 72.37h0.9v0.9h-0.9zM352.15 68.88h0.9v0.9h-0.9zM342.1 68.08h0.9v0.9h-0.9zM355.06 67.58h0.9v0.9h-0.9zM346.11 71.56h0.9v0.9h-0.9zM350.44 72.99h0.9v0.9h-0.9zM346.4 68.12h0.9v0.9h-0.9zM341.55 69.28h0.9v0.9h-0.9zM348.02 71.68h0.9v0.9h-0.9zM339.34 68.82h0.9v0.9h-0.9zM345.38 69.94h0.9v0.9h-0.9zM355.3 71.64h0.9v0.9h-0.9zM347.79 69.52h0.9v0.9h-0.9zM345.2 71.36h0.9v0.9h-0.9zM342.2 66.45h0.9v0.9h-0.9zM349.71 70.31h0.9v0.9h-0.9zM342.8 71.89h0.9v0.9h-0.9zM353.29 72.06h0.9v0.9h-0.9zM346.18 70.58h0.9v0.9h-0.9zM341.43 69.07h0.9v0.9h-0.9zM341.33 65.55h0.9v0.9h-0.9zM351.14 69.59h0.9v0.9h-0.9zM353.8 70.07h0.9v0.9h-0.9zM341.62 71.2h0.9v0.9h-0.9zM348.62 68.82h0.9v0.9h-0.9zM346.39 70.08h0.9v0.9h-0.9zM353.52 69.24h0.9v0.9h-0.9zM343.78 70.73h0.9v0.9h-0.9zM348.34 68.74h0.9v0.9h-0.9zM343.59 69.39h0.9v0.9h-0.9zM351 68.18h0.9v0.9h-0.9zM344.29 67.86h0.9v0.9h-0.9zM344.45 69.34h0.9v0.9h-0.9zM347.99 71.27h0.9v0.9h-0.9zM342.66 69.87h0.9v0.9h-0.9zM344.39 70.12h0.9v0.9h-0.9zM345.6 67.78h0.9v0.9h-0.9zM347.95 70.85h0.9v0.9h-0.9zM353.94 69.54h0.9v0.9h-0.9zM348.05 70.23h0.9v0.9h-0.9zM345.93 69.66h0.9v0.9h-0.9zM347.53 70.54h0.9v0.9h-0.9zM344.97 73.47h0.9v0.9h-0.9zM354.17 66.72h0.9v0.9h-0.9zM344.4 71.4h0.9v0.9h-0.9zM353.15 71.67h0.9v0.9h-0.9zM350.84 71.69h0.9v0.9h-0.9zM348.86 72.8h0.9v0.9h-0.9zM341.24 72.36h0.9v0.9h-0.9zM346.55 68.49h0.9v0.9h-0.9zM346.55 66.28h0.9v0.9h-0.9zM347.72 71.32h0.9v0.9h-0.9zM345.66 68.63h0.9v0.9h-0.9zM347.07 72.36h0.9v0.9h-0.9zM345.64 67.57h0.9v0.9h-0.9zM345.51 68.38h0.9v0.9h-0.9zM347.63 66.14h0.9v0.9h-0.9zM346.79 69.67h0.9v0.9h-0.9zM349.35 69.3h0.9v0.9h-0.9zM340.63 68.5h0.9v0.9h-0.9zM341.61 71.71h0.9v0.9h-0.9zM353.75 70.77h0.9v0.9h-0.9zM350.28 67.37h0.9v0.9h-0.9zM341.11 70.57h0.9v0.9h-0.9zM347.61 70.55h0.9v0.9h-0.9zM354.03 69.22h0.9v0.9h-0.9zM344.2 71.71h0.9v0.9h-0.9zM349.16 69.89h0.9v0.9h-0.9zM353.21 67.63h0.9v0.9h-0.9zM342.66 70.99h0.9v0.9h-0.9zM346.9 72.7h0.9v0.9h-0.9zM352.42 68.16h0.9v0.9h-0.9zM347.94 67.57h0.9v0.9h-0.9zM344.65 68.87h0.9v0.9h-0.9zM351.82 72.47h0.9v0.9h-0.9zM349.09 68.53h0.9v0.9h-0.9zM343.08 70.84h0.9v0.9h-0.9zM348.92 73.37h0.9v0.9h-0.9zM344.74 68.02h0.9v0.9h-0.9zM341.76 67.96h0.9v0.9h-0.9zM350.59 70.5h0.9v0.9h-0.9zM342.56 73.06h0.9v0.9h-0.9zM347.14 69.81h0.9v0.9h-0.9zM351.76 70.89h0.9v0.9h-0.9zM354.3 69.93h0.9v0.9h-0.9zM350.28 67.03h0.9v0.9h-0.9zM345.95 69.72h0.9v0.9h-0.9zM341.06 71.56h0.9v0.9h-0.9zM350.5 68.82h0.9v0.9h-0.9zM347.22 71.44h0.9v0.9h-0.9zM348.48 72.19h0.9v0.9h-0.9zM348.11 69.23h0.9v0.9h-0.9zM346.17 73.03h0.9v0.9h-0.9zM343.27 67.68h0.9v0.9h-0.9zM340.72 70.27h0.9v0.9h-0.9zM343.58 70.57h0.9v0.9h-0.9zM352.66 68.45h0.9v0.9h-0.9zM340.77 68.29h0.9v0.9h-0.9zM353.88 72.16h0.9v0.9h-0.9zM346.61 71.94h0.9v0.9h-0.9zM350.83 68.33h0.9v0.9h-0.9zM347.31 72.58h0.9v0.9h-0.9zM342.14 72.64h0.9v0.9h-0.9zM350.43 69.9h0.9v0.9h-0.9zM343.02 67.42h0.9v0.9h-0.9zM343.47 67.57h0.9v0.9h-0.9zM349.6 69.83h0.9v0.9h-0.9zM350.3 71.77h0.9v0.9h-0.9zM346.9 71.43h0.9v0.9h-0.9zM344.6 69.86h0.9v0.9h-0.9zM351.79 69.12h0.9v0.9h-0.9zM340.89 71.33h0.9v0.9h-0.9zM352.96 71.59h0.9v0.9h-0.9zM352.74 68.95h0.9v0.9h-0.9zM343.13 69.92h0.9v0.9h-0.9zM342.82 68.5h0.9v0.9h-0.9zM349.25 70h0.9v0.9h-0.9zM347.98 69.23h0.9v0.9h-0.9zM353.04 72.28h0.9v0.9h-0.9zM348.8 68.86h0.9v0.9h-0.9zM353.54 72.71h0.9v0.9h-0.9zM346.27 71.43h0.9v0.9h-0.9zM342.64 69.48h0.9v0.9h-0.9zM342.1 71.72h0.9v0.9h-0.9zM353.13 68.36h0.9v0.9h-0.9zM347.65 68.36h0.9v0.9h-0.9zM343.48 72.86h0.9v0.9h-0.9zM349.73 74.08h0.9v0.9h-0.9zM354.26 68.94h0.9v0.9h-0.9zM346.36 70.61h0.9v0.9h-0.9zM353.77 70.83h0.9v0.9h-0.9zM345.67 72.23h0.9v0.9h-0.9zM346.07 71.18h0.9v0.9h-0.9zM342.61 71.17h0.9v0.9h-0.9zM353.49 71.11h0.9v0.9h-0.9zM351.28 68.04h0.9v0.9h-0.9zM350.93 68.25h0.9v0.9h-0.9zM348.3 71.96h0.9v0.9h-0.9zM348.19 70.03h0.9v0.9h-0.9zM345.1 71.75h0.9v0.9h-0.9zM351.6 72.38h0.9v0.9h-0.9zM351.41 68.04h0.9v0.9h-0.9zM343.84 68.83h0.9v0.9h-0.9zM345.91 71.54h0.9v0.9h-0.9zM349.46 67.48h0.9v0.9h-0.9zM345.05 72.42h0.9v0.9h-0.9zM352.54 70.47h0.9v0.9h-0.9zM346.42 69.7h0.9v0.9h-0.9zM342.48 73.39h0.9v0.9h-0.9zM340.57 72.74h0.9v0.9h-0.9zM343.32 68.14h0.9v0.9h-0.9zM347.12 70.47h0.9v0.9h-0.9zM354.37 68.75h0.9v0.9h-0.9zM346.77 72.07h0.9v0.9h-0.9zM342.52 71.49h0.9v0.9h-0.9zM353.91 69.33h0.9v0.9h-0.9zM345.46 71.74h0.9v0.9h-0.9zM342.14 72.13h0.9v0.9h-0.9zM350.19 71.02h0.9v0.9h-0.9zM342.65 68.23h0.9v0.9h-0.9zM348.73 68.19h0.9v0.9h-0.9zM340.48 68.29h0.9v0.9h-0.9zM348.78 69.17h0.9v0.9h-0.9zM354.99 68.24h0.9v0.9h-0.9zM350.84 69.77h0.9v0.9h-0.9zM344.15 68.18h0.9v0.9h-0.9zM351.26 67.41h0.9v0.9h-0.9zM348.55 73.93h0.9v0.9h-0.9zM348.07 71.9h0.9v0.9h-0.9zM350.52 71.14h0.9v0.9h-0.9zM352.59 68.36h0.9v0.9h-0.9zM341.53 71.18h0.9v0.9h-0.9zM344.26 69.9h0.9v0.9h-0.9zM342.14 68.22h0.9v0.9h-0.9zM350.29 70.57h0.9v0.9h-0.9zM344.75 68.18h0.9v0.9h-0.9zM346.35 71h0.9v0.9h-0.9zM348.69 72.18h0.9v0.9h-0.9zM344.68 69.33h0.9v0.9h-0.9z" fill="#000" fill-opacity="0.6"/>
<path d="M354.72 71.72h0.8v0.8h-0.8zM356.97 71.38h0.8v0.8h-0.8zM356.85 67.39h0.8v0.8h-0.8zM359.38 69.5h0.8v0.8h-0.8zM358.86 70.64h0.8v0.8h-0.8zM353.76 70.54h0.8v0.8h-0.8zM355.49 69.69h0.8v0.8h-0.8zM355.05 70.56h0.8v0.8h-0.8zM354.93 68.13h0.8v0.8h-0.8zM354.42 69.62h0.8v0.8h-0.8zM356.24 67.72h0.8v0.8h-0.8zM353.85 67.23h0.8v0.8h-0.8zM354.71 69.37h0.8v0.8h-0.8zM355.33 68.94h0.8v0.8h-0.8zM352.1 69.59h0.8v0.8h-0.8zM357 71h0.8v0.8h-0.8zM355.14 71.6h0.8v0.8h-0.8zM357.28 69.16h0.8v0.8h-0.8zM356.23 67.61h0.8v0.8h-0.8zM357.02 70.09h0.8v0.8h-0.8zM357.26 67.66h0.8v0.8h-0.8zM356.82 67.91h0.8v0.8h-0.8zM358.77 70.79h0.8v0.8h-0.8zM357.41 71.19h0.8v0.8h-0.8zM358.07 69.61h0.8v0.8h-0.8zM355.42 68.06h0.8v0.8h-0.8zM358.75 69.49h0.8v0.8h-0.8zM355.43 71.05h0.8v0.8h-0.8zM353.24 70.18h0.8v0.8h-0.8zM358.28 67.91h0.8v0.8h-0.8zM356.41 72.78h0.8v0.8h-0.8zM357.19 70.39h0.8v0.8h-0.8zM361.57 72.26h0.8v0.8h-0.8zM353.86 70.06h0.8v0.8h-0.8zM356.36 70.18h0.8v0.8h-0.8zM358.68 68.34h0.8v0.8h-0.8zM353.46 68.33h0.8v0.8h-0.8zM353.26 71.91h0.8v0.8h-0.8z" fill="#000" fill-opacity="0.4"/>
<path d="M357.32 67.81h0.8v0.8h-0.8zM354.71 71.28h0.8v0.8h-0.8zM360.53 70.53h0.8v0.8h-0.8zM359 70.53h0.8v0.8h-0.8zM355.36 67.81h0.8v0.8h-0.8zM357.53 73.98h0.8v0.8h-0.8zM356.34 72.43h0.8v0.8h-0.8zM357.4 71.17h0.8v0.8h-0.8zM355.05 72.24h0.8v0.8h-0.8zM358.1 69.66h0.8v0.8h-0.8zM355.85 67.97h0.8v0.8h-0.8zM357.28 70.83h0.8v0.8h-0.8zM357.35 69.33h0.8v0.8h-0.8zM355.36 69.68h0.8v0.8h-0.8zM354.67 70.19h0.8v0.8h-0.8zM354.32 69.71h0.8v0.8h-0.8zM356.52 70.33h0.8v0.8h-0.8zM355.97 70.83h0.8v0.8h-0.8zM355.23 74.06h0.8v0.8h-0.8zM353.01 69.86h0.8v0.8h-0.8zM358.47 68.91h0.8v0.8h-0.8zM353.67 70.64h0.8v0.8h-0.8zM354.85 68.68h0.8v0.8h-0.8zM356.06 73.71h0.8v0.8h-0.8zM356.41 70.07h0.8v0.8h-0.8zM356.76 74.3h0.8v0.8h-0.8zM356.42 71.09h0.8v0.8h-0.8zM357.85 66.64h0.8v0.8h-0.8zM354.76 66.91h0.8v0.8h-0.8zM355.22 67.26h0.8v0.8h-0.8zM354.3 72.21h0.8v0.8h-0.8zM359.76 66.88h0.8v0.8h-0.8zM357.56 69.97h0.8v0.8h-0.8zM357.38 68.11h0.8v0.8h-0.8zM359.21 70.21h0.8v0.8h-0.8zM354.03 70.97h0.8v0.8h-0.8zM357.32 69.31h0.8v0.8h-0.8zM353.56 68.22h0.8v0.8h-0.8z" fill="#000" fill-opacity="0.4"/>
<path d="M357.72 69.49h0.8v0.8h-0.8zM352.61 70h0.8v0.8h-0.8zM358.85 68.09h0.8v0.8h-0.8zM357.22 71.73h0.8v0.8h-0.8zM359.68 63.86h0.8v0.8h-0.8zM357.14 65.18h0.8v0.8h-0.8zM357.21 69.51h0.8v0.8h-0.8zM358.17 70.31h0.8v0.8h-0.8zM354.21 72.68h0.8v0.8h-0.8zM358.02 70.11h0.8v0.8h-0.8zM353.35 69.39h0.8v0.8h-0.8zM357.19 69.46h0.8v0.8h-0.8zM359.01 65.8h0.8v0.8h-0.8zM356.19 70.46h0.8v0.8h-0.8zM354.42 69.92h0.8v0.8h-0.8zM358.69 71.5h0.8v0.8h-0.8zM355.78 71.47h0.8v0.8h-0.8zM356.81 68.75h0.8v0.8h-0.8zM355.19 69.91h0.8v0.8h-0.8zM354.49 71.79h0.8v0.8h-0.8zM356.28 69.97h0.8v0.8h-0.8zM359.02 70.54h0.8v0.8h-0.8zM352.04 71.91h0.8v0.8h-0.8zM354.41 68.27h0.8v0.8h-0.8zM357.39 68.7h0.8v0.8h-0.8zM354.52 72.26h0.8v0.8h-0.8zM358.85 70.24h0.8v0.8h-0.8zM355.86 71.06h0.8v0.8h-0.8zM356.02 69.7h0.8v0.8h-0.8zM358.91 67.14h0.8v0.8h-0.8zM353.81 68.97h0.8v0.8h-0.8zM355.08 71.41h0.8v0.8h-0.8zM356.16 68.22h0.8v0.8h-0.8zM356.78 67.41h0.8v0.8h-0.8zM355.15 70.11h0.8v0.8h-0.8zM354.16 70.65h0.8v0.8h-0.8zM357.96 70.27h0.8v0.8h-0.8z" fill="#000" fill-opacity="0.4"/>
<path d="M356.26 68h0.8v0.8h-0.8zM357.09 68.05h0.8v0.8h-0.8zM351.69 69.64h0.8v0.8h-0.8zM355.25 69.04h0.8v0.8h-0.8zM358.46 69.53h0.8v0.8h-0.8zM354.54 71.2h0.8v0.8h-0.8zM355.16 71.65h0.8v0.8h-0.8zM360.67 71.24h0.8v0.8h-0.8zM357.41 68.72h0.8v0.8h-0.8zM359.36 68.91h0.8v0.8h-0.8zM357.93 65.68h0.8v0.8h-0.8zM354.91 70.14h0.8v0.8h-0.8zM353.2 71.63h0.8v0.8h-0.8zM358.44 73.19h0.8v0.8h-0.8zM357.09 69.72h0.8v0.8h-0.8zM358.54 68.27h0.8v0.8h-0.8zM356.87 67.98h0.8v0.8h-0.8zM354.09 68.98h0.8v0.8h-0.8zM353.96 69.2h0.8v0.8h-0.8zM356.3 72.69h0.8v0.8h-0.8zM353.83 71.94h0.8v0.8h-0.8zM357.15 69.03h0.8v0.8h-0.8zM362.69 69.58h0.8v0.8h-0.8zM359.85 71.47h0.8v0.8h-0.8zM358.66 72.99h0.8v0.8h-0.8zM355.11 68.42h0.8v0.8h-0.8zM359.73 68.57h0.8v0.8h-0.8zM356.18 73.08h0.8v0.8h-0.8zM355.64 68.66h0.8v0.8h-0.8zM360.07 68.14h0.8v0.8h-0.8zM357.66 70.43h0.8v0.8h-0.8zM353.47 68.56h0.8v0.8h-0.8zM354.69 68.03h0.8v0.8h-0.8zM357.28 69.24h0.8v0.8h-0.8zM357.32 70.8h0.8v0.8h-0.8zM362.16 72.1h0.8v0.8h-0.8zM357.19 70.84h0.8v0.8h-0.8z" fill="#000" fill-opacity="0.4"/>
<path d="M336.62 66.02h0.8v0.8h-0.8zM346.28 66.31h0.8v0.8h-0.8zM346.93 64.98h0.8v0.8h-0.8zM351.44 68.63h0.8v0.8h-0.8zM339.84 65.68h0.8v0.8h-0.8zM346.82 66.38h0.8v0.8h-0.8zM344.19 67.17h0.8v0.8h-0.8zM348.86 66.81h0.8v0.8h-0.8zM352.7 65.12h0.8v0.8h-0.8zM354.83 63.43h0.8v0.8h-0.8zM346.22 65.24h0.8v0.8h-0.8zM346.93 66.6h0.8v0.8h-0.8zM345.92 67.67h0.8v0.8h-0.8zM347.09 67.18h0.8v0.8h-0.8zM349.75 65.11h0.8v0.8h-0.8zM345.66 66.31h0.8v0.8h-0.8zM342.24 65.5h0.8v0.8h-0.8zM348.51 67.1h0.8v0.8h-0.8zM347.39 63.95h0.8v0.8h-0.8zM353.91 65.17h0.8v0.8h-0.8zM343.81 67.08h0.8v0.8h-0.8zM349.8 64.12h0.8v0.8h-0.8zM342.17 67.15h0.8v0.8h-0.8zM351.22 67.38h0.8v0.8h-0.8zM348.6 66.95h0.8v0.8h-0.8z" fill="#000" fill-opacity="0.35"/>
<path d="M349.91 65.57h0.8v0.8h-0.8zM347.7 66.52h0.8v0.8h-0.8zM351.11 65.55h0.8v0.8h-0.8zM355.57 66.39h0.8v0.8h-0.8zM338.51 67.22h0.8v0.8h-0.8zM347.18 66.58h0.8v0.8h-0.8zM349.53 66.22h0.8v0.8h-0.8zM350.16 68.75h0.8v0.8h-0.8zM355.57 65.35h0.8v0.8h-0.8zM338.88 67.23h0.8v0.8h-0.8zM352.25 66.35h0.8v0.8h-0.8zM346.63 67.75h0.8v0.8h-0.8zM355.05 64.58h0.8v0.8h-0.8zM348.43 65.01h0.8v0.8h-0.8zM351.27 64.14h0.8v0.8h-0.8zM350.27 66.97h0.8v0.8h-0.8zM346.76 65.75h0.8v0.8h-0.8zM347.92 67.75h0.8v0.8h-0.8zM352.08 67.65h0.8v0.8h-0.8zM350.23 66.97h0.8v0.8h-0.8zM347.83 65.7h0.8v0.8h-0.8zM356.18 69.19h0.8v0.8h-0.8zM343.86 66.31h0.8v0.8h-0.8zM356.22 65.03h0.8v0.8h-0.8zM341.81 62.94h0.8v0.8h-0.8z" fill="#000" fill-opacity="0.35"/>
<path d="M342.36 63.38h0.8v0.8h-0.8zM355.85 66.88h0.8v0.8h-0.8zM349.13 66.8h0.8v0.8h-0.8zM344.53 66.22h0.8v0.8h-0.8zM350.5 65.53h0.8v0.8h-0.8zM344.17 66.11h0.8v0.8h-0.8zM348.9 65.53h0.8v0.8h-0.8zM348.44 67.74h0.8v0.8h-0.8zM352.85 65.12h0.8v0.8h-0.8zM351.62 65.42h0.8v0.8h-0.8zM347.29 67.45h0.8v0.8h-0.8zM345.96 68.49h0.8v0.8h-0.8zM348.84 66.81h0.8v0.8h-0.8zM347.84 65.78h0.8v0.8h-0.8zM351.24 66.65h0.8v0.8h-0.8zM340.73 66.09h0.8v0.8h-0.8zM354.03 66.41h0.8v0.8h-0.8zM348.74 65.48h0.8v0.8h-0.8zM338.05 66.76h0.8v0.8h-0.8zM341 67.82h0.8v0.8h-0.8zM348.22 66.49h0.8v0.8h-0.8zM351.27 66.08h0.8v0.8h-0.8zM345.94 67.17h0.8v0.8h-0.8zM349.32 65.3h0.8v0.8h-0.8zM349.35 67.37h0.8v0.8h-0.8z" fill="#000" fill-opacity="0.35"/>
<path d="M350.66 64.62h0.8v0.8h-0.8zM343.22 65.97h0.8v0.8h-0.8zM357.95 65.29h0.8v0.8h-0.8zM345.06 65.52h0.8v0.8h-0.8zM348.18 66.17h0.8v0.8h-0.8zM355.99 65.04h0.8v0.8h-0.8zM345.52 66.65h0.8v0.8h-0.8zM348.75 68.77h0.8v0.8h-0.8zM349.75 66.23h0.8v0.8h-0.8zM348.5 63.92h0.8v0.8h-0.8zM344.94 66.97h0.8v0.8h-0.8zM351.83 65.04h0.8v0.8h-0.8zM359.39 66.86h0.8v0.8h-0.8zM347.02 66.16h0.8v0.8h-0.8zM350.07 64.25h0.8v0.8h-0.8zM353.21 64.65h0.8v0.8h-0.8zM338.92 67.02h0.8v0.8h-0.8zM342.31 67.19h0.8v0.8h-0.8zM351.19 68.16h0.8v0.8h-0.8zM350.42 67.1h0.8v0.8h-0.8zM340.79 66.08h0.8v0.8h-0.8zM343.08 64.74h0.8v0.8h-0.8zM354.15 67.2h0.8v0.8h-0.8zM348.27 65.82h0.8v0.8h-0.8zM346.15 67.87h0.8v0.8h-0.8z" fill="#000" fill-opacity="0.35"/>
<path d="M357.69 59.51h0.8v0.8h-0.8zM344.94 60.06h0.8v0.8h-0.8zM353.91 54.52h0.8v0.8h-0.8zM348.25 56.67h0.8v0.8h-0.8zM351.47 60.14h0.8v0.8h-0.8zM350.5 49.97h0.8v0.8h-0.8zM344.03 57.8h0.8v0.8h-0.8zM342.96 66.67h0.8v0.8h-0.8zM350.29 56.72h0.8v0.8h-0.8zM350.67 65.16h0.8v0.8h-0.8zM348.73 58.56h0.8v0.8h-0.8zM345.91 56.27h0.8v0.8h-0.8zM348.36 62.24h0.8v0.8h-0.8zM347.22 64.41h0.8v0.8h-0.8zM350.92 57.9h0.8v0.8h-0.8zM347.25 61.42h0.8v0.8h-0.8zM351.2 60.64h0.8v0.8h-0.8zM345.51 59.65h0.8v0.8h-0.8z" fill="#000" fill-opacity="0.25"/>
<path d="M348.22 61.08h0.8v0.8h-0.8zM350.23 55.06h0.8v0.8h-0.8zM353.61 60.86h0.8v0.8h-0.8zM352.51 65.3h0.8v0.8h-0.8zM350.77 55.89h0.8v0.8h-0.8zM346.54 63.91h0.8v0.8h-0.8zM346.71 57.97h0.8v0.8h-0.8zM351.2 60.03h0.8v0.8h-0.8zM349.49 57.68h0.8v0.8h-0.8zM348.09 67.03h0.8v0.8h-0.8zM345.81 61.95h0.8v0.8h-0.8zM347.08 62.66h0.8v0.8h-0.8zM348.38 62.3h0.8v0.8h-0.8zM347.06 56.54h0.8v0.8h-0.8zM347.66 56.74h0.8v0.8h-0.8zM345.35 58.14h0.8v0.8h-0.8zM354.16 61.88h0.8v0.8h-0.8zM342.11 58.37h0.8v0.8h-0.8z" fill="#000" fill-opacity="0.25"/>
<path d="M351.97 53.98h0.8v0.8h-0.8zM349.21 63.82h0.8v0.8h-0.8zM347.84 59.35h0.8v0.8h-0.8zM348.29 64.29h0.8v0.8h-0.8zM347.51 62.88h0.8v0.8h-0.8zM356.34 56.36h0.8v0.8h-0.8zM345.32 61.61h0.8v0.8h-0.8zM342.52 66.94h0.8v0.8h-0.8zM341.12 54.39h0.8v0.8h-0.8zM347.34 59.69h0.8v0.8h-0.8zM350.53 58.2h0.8v0.8h-0.8zM347.89 58.73h0.8v0.8h-0.8zM347.83 56.66h0.8v0.8h-0.8zM347.67 64.42h0.8v0.8h-0.8zM341.21 56.02h0.8v0.8h-0.8zM345.98 58.6h0.8v0.8h-0.8zM350.75 61.34h0.8v0.8h-0.8z" fill="#000" fill-opacity="0.25"/>
<path d="M350.95 52.02h0.8v0.8h-0.8zM342.73 61.26h0.8v0.8h-0.8zM348.89 59.4h0.8v0.8h-0.8zM346.07 54.75h0.8v0.8h-0.8zM355.15 60.2h0.8v0.8h-0.8zM339.31 61.08h0.8v0.8h-0.8zM350.17 54.63h0.8v0.8h-0.8zM345.04 59.73h0.8v0.8h-0.8zM346.62 57.42h0.8v0.8h-0.8zM348.14 53.32h0.8v0.8h-0.8zM345.63 60.37h0.8v0.8h-0.8zM347.7 61.42h0.8v0.8h-0.8zM350.54 58.59h0.8v0.8h-0.8zM343.84 63.44h0.8v0.8h-0.8zM343.59 53.64h0.8v0.8h-0.8zM350.43 63.63h0.8v0.8h-0.8zM352.02 55.67h0.8v0.8h-0.8z" fill="#000" fill-opacity="0.25"/>
<path d="M348.78 57.56h0.8v0.8h-0.8zM361.3 46.7h0.8v0.8h-0.8zM359.28 48.42h0.8v0.8h-0.8zM352.34 51.43h0.8v0.8h-0.8zM357.63 55.23h0.8v0.8h-0.8zM348.79 53.56h0.8v0.8h-0.8zM351.95 53.47h0.8v0.8h-0.8zM345.43 46.65h0.8v0.8h-0.8z" fill="#000" fill-opacity="0.2"/>
<path d="M351.36 57.41h0.8v0.8h-0.8zM344.17 54.6h0.8v0.8h-0.8zM344.03 61.55h0.8v0.8h-0.8zM358.22 62.44h0.8v0.8h-0.8zM348.1 55.71h0.8v0.8h-0.8zM350.23 62.75h0.8v0.8h-0.8zM357.45 43.92h0.8v0.8h-0.8zM347.02 58.16h0.8v0.8h-0.8z" fill="#000" fill-opacity="0.2"/>
<path d="M349.02 50.86h0.8v0.8h-0.8zM354.8 58.97h0.8v0.8h-0.8zM358.5 53.92h0.8v0.8h-0.8zM350.45 48.72h0.8v0.8h-0.8zM355 45.02h0.8v0.8h-0.8zM361.25 57.36h0.8v0.8h-0.8zM351.59 56.82h0.8v0.8h-0.8z" fill="#000" fill-opacity="0.2"/>
<path d="M345.15 45.77h0.8v0.8h-0.8zM357.01 47.95h0.8v0.8h-0.8zM349.61 60.16h0.8v0.8h-0.8zM351.28 49.38h0.8v0.8h-0.8zM352.75 53.56h0.8v0.8h-0.8zM359.68 59.66h0.8v0.8h-0.8zM352.33 49.28h0.8v0.8h-0.8z" fill="#000" fill-opacity="0.2"/>
<text x="402.2" y="9.7" font-size="11" fill="#000" font-weight="bold" textLength="8.58" lengthAdjust="spacingAndGlyphs">C</text>
<line x1="439.6" y1="17.7" x2="439.6" y2="86.85" stroke="#231f20" stroke-width="1.3"/>
<line x1="438.95" y1="86.2" x2="505" y2="86.2" stroke="#231f20" stroke-width="1.3"/>
<line x1="436.4" y1="20.7" x2="439.6" y2="20.7" stroke="#231f20" stroke-width="1"/>
<text x="433.6" y="23.04" font-size="6.6" text-anchor="end" fill="#3a3a3a" stroke="#3a3a3a" stroke-width="0.12" textLength="6.96" lengthAdjust="spacingAndGlyphs">20</text>
<line x1="436.4" y1="37.1" x2="439.6" y2="37.1" stroke="#231f20" stroke-width="1"/>
<text x="433.6" y="39.44" font-size="6.6" text-anchor="end" fill="#3a3a3a" stroke="#3a3a3a" stroke-width="0.12" textLength="6.96" lengthAdjust="spacingAndGlyphs">15</text>
<line x1="436.4" y1="53.5" x2="439.6" y2="53.5" stroke="#231f20" stroke-width="1"/>
<text x="433.6" y="55.84" font-size="6.6" text-anchor="end" fill="#3a3a3a" stroke="#3a3a3a" stroke-width="0.12" textLength="6.96" lengthAdjust="spacingAndGlyphs">10</text>
<line x1="436.4" y1="69.9" x2="439.6" y2="69.9" stroke="#231f20" stroke-width="1"/>
<text x="433.6" y="72.24" font-size="6.6" text-anchor="end" fill="#3a3a3a" stroke="#3a3a3a" stroke-width="0.12" textLength="3.48" lengthAdjust="spacingAndGlyphs">5</text>
<line x1="436.4" y1="86.3" x2="439.6" y2="86.3" stroke="#231f20" stroke-width="1"/>
<text x="433.6" y="88.64" font-size="6.6" text-anchor="end" fill="#3a3a3a" stroke="#3a3a3a" stroke-width="0.12" textLength="3.48" lengthAdjust="spacingAndGlyphs">0</text>
<rect x="449.3" y="58.3" width="18.8" height="27.9" fill="#e3151d"/>
<line x1="458.7" y1="58.3" x2="458.7" y2="46.9" stroke="#e3151d" stroke-width="0.9"/>
<line x1="454.7" y1="46.9" x2="462.7" y2="46.9" stroke="#e3151d" stroke-width="0.9"/>
<line x1="458.7" y1="86.2" x2="458.7" y2="88.6" stroke="#231f20" stroke-width="0.9"/>
<rect x="477.7" y="75.5" width="18.3" height="10.7" fill="#2e3b8e"/>
<line x1="486.85" y1="75.5" x2="486.85" y2="67" stroke="#2e3b8e" stroke-width="0.9"/>
<line x1="482.85" y1="67" x2="490.85" y2="67" stroke="#2e3b8e" stroke-width="0.9"/>
<line x1="486.85" y1="86.2" x2="486.85" y2="88.6" stroke="#231f20" stroke-width="0.9"/>
<g fill="#fff" stroke="#e3151d" stroke-width="0.8">
<circle cx="458.4" cy="28.6" r="2"/>
<circle cx="457.2" cy="45.8" r="2"/>
<circle cx="460.8" cy="49.4" r="2"/>
<circle cx="451.5" cy="53" r="2"/>
<circle cx="454.3" cy="53.7" r="2"/>
<circle cx="465.5" cy="53" r="2"/>
<circle cx="458.7" cy="55.9" r="2"/>
<circle cx="462.2" cy="58" r="2"/>
<circle cx="458.7" cy="60.2" r="2"/>
<circle cx="463" cy="61.6" r="2"/>
<circle cx="454.3" cy="64.5" r="2"/>
<circle cx="457.2" cy="64.5" r="2"/>
<circle cx="454.3" cy="68" r="2"/>
<circle cx="458.7" cy="70.2" r="2"/>
<circle cx="455" cy="71" r="2"/>
<circle cx="462.2" cy="72.4" r="2"/>
<circle cx="463" cy="73.8" r="2"/>
</g>
<g fill="#fff" stroke="#2e3b8e" stroke-width="0.8">
<circle cx="486.3" cy="52.7" r="2"/>
<circle cx="486.3" cy="62" r="2"/>
<circle cx="483.8" cy="68.2" r="2"/>
<circle cx="490.6" cy="68.2" r="2"/>
<circle cx="487.6" cy="67.4" r="2"/>
<circle cx="480.3" cy="71.7" r="2"/>
<circle cx="484.2" cy="72.5" r="2"/>
<circle cx="488.5" cy="71.2" r="2"/>
<circle cx="493.2" cy="74.2" r="2"/>
<circle cx="479.5" cy="75.1" r="2"/>
<circle cx="482.9" cy="76.8" r="2"/>
<circle cx="489.3" cy="74.2" r="2"/>
<circle cx="491.1" cy="77.7" r="2"/>
<circle cx="487.2" cy="79.4" r="2"/>
<circle cx="481.2" cy="82" r="2"/>
<circle cx="484.2" cy="82.8" r="2"/>
<circle cx="491.5" cy="82" r="2"/>
<circle cx="489.3" cy="85.4" r="2"/>
<circle cx="493.2" cy="86.3" r="2"/>
<circle cx="494.1" cy="77.2" r="2"/>
<circle cx="480.2" cy="79.6" r="2"/>
<circle cx="483" cy="82.4" r="2"/>
<circle cx="486" cy="83.9" r="2"/>
</g>
<line x1="459.1" y1="25.1" x2="486.3" y2="25.1" stroke="#555" stroke-width="1.2"/>
<text x="472.7" y="19.7" font-size="5.45" text-anchor="middle" fill="#3a3a3a" stroke="#3a3a3a" stroke-width="0.12" textLength="25.8" lengthAdjust="spacingAndGlyphs"><tspan font-style="italic">P</tspan> &lt; 0.0001</text>
<text x="419" y="54.3" font-size="7.6" text-anchor="middle" fill="#3a3a3a" stroke="#3a3a3a" stroke-width="0.28" textLength="32" lengthAdjust="spacingAndGlyphs" transform="rotate(-90 419 51.6)">GARP<tspan dy="-2" font-size="4.5">+</tspan><tspan dy="2"> (%)</tspan></text>
<text x="458.7" y="99.8" font-size="7" text-anchor="middle" fill="#e03a3e" stroke="#e03a3e" stroke-width="0.12" textLength="22.6" lengthAdjust="spacingAndGlyphs">Relapse</text>
<text x="486.85" y="99.8" font-size="7" text-anchor="middle" fill="#4a55a2" stroke="#4a55a2" stroke-width="0.12" textLength="8.6" lengthAdjust="spacingAndGlyphs">No</text>
<text x="486.85" y="107.4" font-size="7" text-anchor="middle" fill="#4a55a2" stroke="#4a55a2" stroke-width="0.12" textLength="22.6" lengthAdjust="spacingAndGlyphs">Relapse</text>
<text x="4.6" y="151.4" font-size="11" fill="#000" font-weight="bold" textLength="8.58" lengthAdjust="spacingAndGlyphs">D</text>
<rect x="29.8" y="177.6" width="61.8" height="62.5" fill="none" stroke="#111" stroke-width="1.05"/>
<text x="60.7" y="163.79" font-size="7" text-anchor="middle" fill="#3a3a3a" stroke="#3a3a3a" stroke-width="0.12" textLength="27.5" lengthAdjust="spacingAndGlyphs">Gated on</text>
<text x="60.7" y="172.09" font-size="7" text-anchor="middle" fill="#3a3a3a" stroke="#3a3a3a" stroke-width="0.12" textLength="37" lengthAdjust="spacingAndGlyphs">CD3<tspan dy="-2.2" font-size="4.5">+</tspan><tspan dy="2.2">CD4</tspan><tspan dy="-2.2" font-size="4.5">+</tspan><tspan dy="2.2"> T</tspan></text>
<line x1="20.8" y1="214.3" x2="20.8" y2="182.1" stroke="#555" stroke-width="1.3"/>
<path d="M20.8 179.2L18.71 183.84L22.89 183.84z" fill="#111"/>
<text x="20.8" y="232.24" font-size="6.6" text-anchor="middle" fill="#3a3a3a" stroke="#3a3a3a" stroke-width="0.28" textLength="19.4" lengthAdjust="spacingAndGlyphs" transform="rotate(-90 20.8 229.9)">Events</text>
<text x="43" y="251.74" font-size="6.3" text-anchor="middle" fill="#3a3a3a" stroke="#3a3a3a" stroke-width="0.12">0</text>
<text x="54.1" y="251.74" font-size="6.3" text-anchor="middle" fill="#3a3a3a" stroke="#3a3a3a" stroke-width="0.12" textLength="7.8" lengthAdjust="spacingAndGlyphs">10<tspan dy="-2.3" font-size="4.3">3</tspan></text>
<text x="70.1" y="251.74" font-size="6.3" text-anchor="middle" fill="#3a3a3a" stroke="#3a3a3a" stroke-width="0.12" textLength="7.2" lengthAdjust="spacingAndGlyphs">10<tspan dy="-2.3" font-size="4.3">4</tspan></text>
<text x="84.7" y="251.74" font-size="6.3" text-anchor="middle" fill="#3a3a3a" stroke="#3a3a3a" stroke-width="0.12" textLength="7.6" lengthAdjust="spacingAndGlyphs">10<tspan dy="-2.3" font-size="4.3">5</tspan></text>
<path d="M33 240.1v2.8M34.1 240.1v2.8M35.4 240.1v3.6M37.2 240.1v3.6M38.1 240.1v3.2M39.4 240.1v3.6M40.5 240.1v2.2M42.3 240.1v3.6M44.1 240.1v3.2M45 240.1v2.2M45.9 240.1v2.8M47 240.1v3.2M48.3 240.1v2.8M49.4 240.1v3.6M50.5 240.1v3.2M51.8 240.1v3.6M52.9 240.1v2.8M54 240.1v3.2M55.3 240.1v2.8M56.2 240.1v3.6M57.1 240.1v3.2M58.9 240.1v3.2M60.7 240.1v2.8M62.5 240.1v2.8M63.4 240.1v2.8M64.5 240.1v3.6M65.6 240.1v3.2M66.5 240.1v3.2M68.3 240.1v2.2M69.2 240.1v2.2M71 240.1v3.6M72.8 240.1v2.2M74.6 240.1v3.2M76.4 240.1v3.6M77.7 240.1v3.2M79.5 240.1v2.2M80.6 240.1v2.8M81.5 240.1v2.8M82.6 240.1v2.8M83.9 240.1v3.6M85.7 240.1v2.8M86.8 240.1v3.2M88.6 240.1v3.6M89.9 240.1v2.2M90.8 240.1v2.8" stroke="#151515" stroke-width="0.95"/>
<text x="29.9" y="264.11" font-size="8.2" fill="#3a3a3a" stroke="#3a3a3a" stroke-width="0.28" textLength="30.7" lengthAdjust="spacingAndGlyphs">GARP-APC</text>
<line x1="69.1" y1="261.2" x2="88.5" y2="261.2" stroke="#222" stroke-width="1.1"/>
<path d="M91.4 261.2L86.76 259.11L86.76 263.29z" fill="#111"/>
<path d="M30.3 198.6 L31.67 198.6 L33.68 198.61 L35.92 198.62 L37.99 198.62 L39.5 198.6 L40.3 198.6 L40.65 198.62 L40.77 198.61 L40.88 198.52 L41.2 198.3 L41.75 197.94 L42.4 197.48 L43.09 196.91 L43.77 196.25 L44.4 195.5 L44.96 194.62 L45.48 193.62 L45.99 192.54 L46.49 191.42 L47 190.3 L47.53 189.15 L48.07 187.95 L48.61 186.74 L49.12 185.57 L49.6 184.5 L50.04 183.43 L50.44 182.34 L50.82 181.35 L51.18 180.59 L51.5 180.2 L51.78 180.23 L52 180.59 L52.21 181.21 L52.43 181.97 L52.7 182.8 L53.02 183.76 L53.38 184.9 L53.76 186.14 L54.14 187.37 L54.5 188.5 L54.85 189.52 L55.19 190.51 L55.52 191.46 L55.86 192.36 L56.2 193.2 L56.52 193.99 L56.82 194.73 L57.13 195.41 L57.48 196.04 L57.9 196.6 L58.42 197.1 L59.03 197.55 L59.67 197.94 L60.28 198.26 L60.8 198.5 L60.79 198.64 L60.28 198.67 L59.94 198.65 L60.46 198.62 L62.5 198.6 L66.96 198.61 L73.38 198.61 L80.43 198.6 L86.78 198.6 L91.1 198.6 L91.1 198.6 L30.3 198.6z" fill="#b8b8b8"/>
<path d="M30.3 198.6 L31.67 198.6 L33.68 198.61 L35.92 198.62 L37.99 198.62 L39.5 198.6 L40.3 198.6 L40.65 198.62 L40.77 198.61 L40.88 198.52 L41.2 198.3 L41.75 197.94 L42.4 197.48 L43.09 196.91 L43.77 196.25 L44.4 195.5 L44.96 194.62 L45.48 193.62 L45.99 192.54 L46.49 191.42 L47 190.3 L47.53 189.15 L48.07 187.95 L48.61 186.74 L49.12 185.57 L49.6 184.5 L50.04 183.43 L50.44 182.34 L50.82 181.35 L51.18 180.59 L51.5 180.2 L51.78 180.23 L52 180.59 L52.21 181.21 L52.43 181.97 L52.7 182.8 L53.02 183.76 L53.38 184.9 L53.76 186.14 L54.14 187.37 L54.5 188.5 L54.85 189.52 L55.19 190.51 L55.52 191.46 L55.86 192.36 L56.2 193.2 L56.52 193.99 L56.82 194.73 L57.13 195.41 L57.48 196.04 L57.9 196.6 L58.42 197.1 L59.03 197.55 L59.67 197.94 L60.28 198.26 L60.8 198.5 L60.79 198.64 L60.28 198.67 L59.94 198.65 L60.46 198.62 L62.5 198.6 L66.96 198.61 L73.38 198.61 L80.43 198.6 L86.78 198.6 L91.1 198.6" fill="none" stroke="#1a1a1a" stroke-width="1" stroke-linejoin="round"/>
<path d="M30.3 219.1 L31.67 219.09 L33.65 219.08 L35.89 219.07 L38.06 219.04 L39.8 219 L41.08 218.97 L42.12 218.96 L42.99 218.92 L43.76 218.81 L44.5 218.6 L45.17 218.26 L45.73 217.83 L46.23 217.33 L46.7 216.78 L47.2 216.2 L47.72 215.59 L48.23 214.93 L48.74 214.23 L49.23 213.52 L49.7 212.8 L50.15 212.08 L50.58 211.34 L50.99 210.59 L51.4 209.84 L51.8 209.1 L52.19 208.36 L52.58 207.61 L52.96 206.86 L53.33 206.12 L53.7 205.4 L54.07 204.67 L54.45 203.91 L54.82 203.19 L55.17 202.53 L55.5 202 L55.79 201.56 L56.05 201.17 L56.29 200.89 L56.54 200.76 L56.8 200.8 L57.08 201.06 L57.37 201.5 L57.66 202.09 L57.97 202.77 L58.3 203.5 L58.65 204.3 L59.02 205.21 L59.41 206.19 L59.8 207.2 L60.2 208.2 L60.61 209.23 L61.04 210.3 L61.46 211.38 L61.89 212.43 L62.3 213.4 L62.69 214.32 L63.08 215.21 L63.46 216.04 L63.83 216.78 L64.2 217.4 L64.56 217.88 L64.92 218.24 L65.27 218.51 L65.63 218.72 L66 218.9 L66.05 219.03 L65.77 219.08 L65.67 219.1 L66.25 219.09 L68 219.1 L71.64 219.11 L76.83 219.11 L82.51 219.11 L87.62 219.1 L91.1 219.1" fill="none" stroke="#d42840" stroke-width="1.35" stroke-linejoin="round"/>
<path d="M30.3 239.8 L31.97 239.8 L34.42 239.81 L37.14 239.82 L39.67 239.82 L41.5 239.8 L42.47 239.82 L42.9 239.89 L43.06 239.92 L43.17 239.81 L43.5 239.5 L44.07 238.91 L44.72 238.11 L45.41 237.17 L46.08 236.21 L46.7 235.3 L47.27 234.47 L47.81 233.64 L48.33 232.81 L48.83 231.94 L49.3 231 L49.74 229.95 L50.16 228.81 L50.56 227.65 L50.94 226.52 L51.3 225.5 L51.65 224.5 L51.97 223.49 L52.29 222.57 L52.59 221.87 L52.9 221.5 L53.21 221.53 L53.51 221.88 L53.8 222.46 L54.1 223.13 L54.4 223.8 L54.7 224.46 L54.99 225.19 L55.29 225.99 L55.59 226.86 L55.9 227.8 L56.22 228.87 L56.55 230.08 L56.89 231.32 L57.24 232.53 L57.6 233.6 L57.97 234.54 L58.35 235.42 L58.74 236.22 L59.16 236.94 L59.6 237.6 L59.66 238.19 L59.33 238.72 L59.24 239.16 L59.99 239.53 L62.2 239.8 L66.76 239.94 L73.25 239.96 L80.36 239.91 L86.75 239.84 L91.1 239.8" fill="none" stroke="#4a52a0" stroke-width="1.1" stroke-linejoin="round"/>
<text x="64.2" y="195.76" font-size="5.8" fill="#333" stroke="#333" stroke-width="0.12" textLength="20.9" lengthAdjust="spacingAndGlyphs">271 (iso)</text>
<text x="68.3" y="216.16" font-size="5.8" fill="#e2303f" stroke="#e2303f" stroke-width="0.12" textLength="11.6" lengthAdjust="spacingAndGlyphs">1182</text>
<text x="64.7" y="236.66" font-size="5.8" fill="#656db2" stroke="#656db2" stroke-width="0.12" textLength="8.8" lengthAdjust="spacingAndGlyphs">809</text>
<rect x="114.6" y="177.5" width="61.3" height="62.5" fill="none" stroke="#111" stroke-width="1.05"/>
<text x="146" y="163.59" font-size="7" text-anchor="middle" fill="#3a3a3a" stroke="#3a3a3a" stroke-width="0.12" textLength="27.5" lengthAdjust="spacingAndGlyphs">Gated on</text>
<text x="146" y="171.99" font-size="7" text-anchor="middle" fill="#3a3a3a" stroke="#3a3a3a" stroke-width="0.12" textLength="45.5" lengthAdjust="spacingAndGlyphs">CD41a<tspan dy="-2.2" font-size="4.5">+</tspan><tspan dy="2.2"> Platelet</tspan></text>
<line x1="105.4" y1="214.3" x2="105.4" y2="182.1" stroke="#555" stroke-width="1.3"/>
<path d="M105.4 179.2L103.31 183.84L107.49 183.84z" fill="#111"/>
<text x="105.4" y="231.14" font-size="6.6" text-anchor="middle" fill="#3a3a3a" stroke="#3a3a3a" stroke-width="0.28" textLength="19.4" lengthAdjust="spacingAndGlyphs" transform="rotate(-90 105.4 228.8)">Events</text>
<text x="127.9" y="252.14" font-size="6.3" text-anchor="middle" fill="#3a3a3a" stroke="#3a3a3a" stroke-width="0.12">0</text>
<text x="138" y="252.14" font-size="6.3" text-anchor="middle" fill="#3a3a3a" stroke="#3a3a3a" stroke-width="0.12" textLength="7.8" lengthAdjust="spacingAndGlyphs">10<tspan dy="-2.3" font-size="4.3">3</tspan></text>
<text x="156.5" y="252.14" font-size="6.3" text-anchor="middle" fill="#3a3a3a" stroke="#3a3a3a" stroke-width="0.12" textLength="7.2" lengthAdjust="spacingAndGlyphs">10<tspan dy="-2.3" font-size="4.3">4</tspan></text>
<text x="169.6" y="252.14" font-size="6.3" text-anchor="middle" fill="#3a3a3a" stroke="#3a3a3a" stroke-width="0.12" textLength="7.6" lengthAdjust="spacingAndGlyphs">10<tspan dy="-2.3" font-size="4.3">5</tspan></text>
<path d="M117.8 240v3.6M119.6 240v2.2M120.9 240v3.6M122.7 240v2.2M124.5 240v3.6M125.8 240v3.2M127.6 240v2.2M129.4 240v3.2M130.7 240v3.6M131.8 240v2.2M133.1 240v2.2M134 240v2.8M135.8 240v2.2M137.6 240v2.8M138.5 240v3.6M139.4 240v3.2M141.2 240v2.2M142.1 240v2.8M143 240v3.6M144.1 240v3.6M145 240v3.6M146.3 240v3.6M147.2 240v2.8M148.5 240v3.2M149.4 240v2.8M151.2 240v2.2M152.3 240v3.2M154.1 240v2.8M155.2 240v3.2M156.5 240v3.6M157.8 240v3.2M159.1 240v2.2M160 240v3.2M160.9 240v2.2M162.2 240v2.8M163.3 240v3.6M165.1 240v2.8M166.9 240v2.8M168 240v2.2M169.1 240v3.2M170.9 240v2.2M171.8 240v2.2M172.9 240v3.6M173.8 240v2.2M174.7 240v3.6" stroke="#151515" stroke-width="0.95"/>
<text x="114.5" y="265.31" font-size="8.2" fill="#3a3a3a" stroke="#3a3a3a" stroke-width="0.28" textLength="30.7" lengthAdjust="spacingAndGlyphs">GARP-APC</text>
<line x1="151.2" y1="262.4" x2="173.6" y2="262.4" stroke="#222" stroke-width="1.1"/>
<path d="M176.5 262.4L171.86 260.31L171.86 264.49z" fill="#111"/>
<path d="M115.1 198.2 L115.98 198.2 L117.26 198.21 L118.7 198.21 L120.03 198.21 L121 198.2 L121.53 198.21 L121.79 198.24 L121.9 198.26 L122 198.19 L122.2 198 L122.53 197.68 L122.9 197.27 L123.28 196.77 L123.66 196.18 L124 195.5 L124.31 194.71 L124.6 193.82 L124.88 192.84 L125.15 191.83 L125.4 190.8 L125.64 189.73 L125.87 188.59 L126.08 187.44 L126.29 186.32 L126.5 185.3 L126.7 184.36 L126.9 183.46 L127.1 182.63 L127.3 181.87 L127.5 181.2 L127.71 180.58 L127.93 180.01 L128.15 179.54 L128.37 179.22 L128.6 179.1 L128.84 179.22 L129.08 179.54 L129.32 180.01 L129.56 180.58 L129.8 181.2 L130.02 181.88 L130.24 182.65 L130.46 183.49 L130.68 184.38 L130.9 185.3 L131.13 186.27 L131.36 187.32 L131.6 188.38 L131.85 189.43 L132.1 190.4 L132.36 191.3 L132.62 192.17 L132.89 193 L133.18 193.78 L133.5 194.5 L133.86 195.18 L134.24 195.81 L134.65 196.39 L135.07 196.89 L135.5 197.3 L135.95 197.6 L136.43 197.8 L136.91 197.93 L137.37 198.02 L137.8 198.1 L137.63 198.17 L136.88 198.2 L136.39 198.2 L136.98 198.2 L139.5 198.2 L145.07 198.21 L153.12 198.21 L161.98 198.2 L169.97 198.2 L175.4 198.2 L175.4 198.2 L115.1 198.2z" fill="#b8b8b8"/>
<path d="M115.1 198.2 L115.98 198.2 L117.26 198.21 L118.7 198.21 L120.03 198.21 L121 198.2 L121.53 198.21 L121.79 198.24 L121.9 198.26 L122 198.19 L122.2 198 L122.53 197.68 L122.9 197.27 L123.28 196.77 L123.66 196.18 L124 195.5 L124.31 194.71 L124.6 193.82 L124.88 192.84 L125.15 191.83 L125.4 190.8 L125.64 189.73 L125.87 188.59 L126.08 187.44 L126.29 186.32 L126.5 185.3 L126.7 184.36 L126.9 183.46 L127.1 182.63 L127.3 181.87 L127.5 181.2 L127.71 180.58 L127.93 180.01 L128.15 179.54 L128.37 179.22 L128.6 179.1 L128.84 179.22 L129.08 179.54 L129.32 180.01 L129.56 180.58 L129.8 181.2 L130.02 181.88 L130.24 182.65 L130.46 183.49 L130.68 184.38 L130.9 185.3 L131.13 186.27 L131.36 187.32 L131.6 188.38 L131.85 189.43 L132.1 190.4 L132.36 191.3 L132.62 192.17 L132.89 193 L133.18 193.78 L133.5 194.5 L133.86 195.18 L134.24 195.81 L134.65 196.39 L135.07 196.89 L135.5 197.3 L135.95 197.6 L136.43 197.8 L136.91 197.93 L137.37 198.02 L137.8 198.1 L137.63 198.17 L136.88 198.2 L136.39 198.2 L136.98 198.2 L139.5 198.2 L145.07 198.21 L153.12 198.21 L161.98 198.2 L169.97 198.2 L175.4 198.2" fill="none" stroke="#1a1a1a" stroke-width="1" stroke-linejoin="round"/>
<path d="M115.1 219.1 L115.74 219.1 L116.66 219.1 L117.72 219.09 L118.8 219.06 L119.8 219 L120.73 218.94 L121.68 218.88 L122.6 218.78 L123.45 218.6 L124.2 218.3 L124.82 217.84 L125.33 217.26 L125.77 216.6 L126.18 215.9 L126.6 215.2 L127.02 214.51 L127.42 213.79 L127.79 213.05 L128.15 212.29 L128.5 211.5 L128.83 210.66 L129.14 209.76 L129.44 208.86 L129.73 207.99 L130 207.2 L130.25 206.48 L130.48 205.81 L130.71 205.19 L130.94 204.65 L131.2 204.2 L131.5 203.84 L131.83 203.56 L132.16 203.36 L132.49 203.24 L132.8 203.2 L133.08 203.23 L133.35 203.33 L133.61 203.52 L133.86 203.8 L134.1 204.2 L134.32 204.77 L134.52 205.51 L134.71 206.31 L134.93 207.11 L135.2 207.8 L135.53 208.37 L135.91 208.86 L136.31 209.33 L136.71 209.8 L137.1 210.3 L137.46 210.84 L137.79 211.4 L138.13 211.97 L138.5 212.54 L138.9 213.1 L139.36 213.65 L139.85 214.21 L140.37 214.76 L140.9 215.29 L141.4 215.8 L141.88 216.29 L142.33 216.78 L142.79 217.24 L143.28 217.65 L143.8 218 L144.39 218.27 L145.04 218.49 L145.7 218.65 L146.33 218.79 L146.9 218.9 L147 218.99 L146.65 219.04 L146.46 219.07 L147.04 219.08 L149 219.1 L153.15 219.11 L159.08 219.11 L165.57 219.11 L171.42 219.1 L175.4 219.1" fill="none" stroke="#e8606c" stroke-width="1.1" stroke-linejoin="round"/>
<path d="M115.1 239.8 L116.28 239.8 L118 239.81 L119.93 239.81 L121.71 239.81 L123 239.8 L123.69 239.8 L124.02 239.83 L124.14 239.83 L124.21 239.77 L124.4 239.6 L124.71 239.3 L125.04 238.89 L125.36 238.42 L125.69 237.91 L126 237.4 L126.29 236.86 L126.57 236.28 L126.85 235.68 L127.12 235.11 L127.4 234.6 L127.69 234.19 L127.99 233.86 L128.29 233.54 L128.56 233.21 L128.8 232.8 L128.98 232.32 L129.13 231.8 L129.25 231.23 L129.37 230.63 L129.5 230 L129.63 229.29 L129.76 228.51 L129.89 227.71 L130.03 226.95 L130.2 226.3 L130.39 225.72 L130.61 225.19 L130.83 224.73 L131.07 224.38 L131.3 224.2 L131.54 224.2 L131.78 224.35 L132.02 224.62 L132.26 224.98 L132.5 225.4 L132.72 225.91 L132.93 226.54 L133.14 227.22 L133.36 227.93 L133.6 228.6 L133.86 229.23 L134.13 229.86 L134.41 230.48 L134.7 231.13 L135 231.8 L135.3 232.52 L135.61 233.29 L135.93 234.06 L136.26 234.81 L136.6 235.5 L136.97 236.14 L137.37 236.76 L137.77 237.33 L138.15 237.85 L138.5 238.3 L138.79 238.67 L139.04 238.98 L139.28 239.23 L139.52 239.43 L139.8 239.6 L139.6 239.71 L138.91 239.77 L138.48 239.79 L139.09 239.79 L141.5 239.8 L146.76 239.81 L154.37 239.81 L162.74 239.81 L170.27 239.8 L175.4 239.8" fill="none" stroke="#656db2" stroke-width="1" stroke-linejoin="round"/>
<text x="144.6" y="195.76" font-size="5.8" fill="#333" stroke="#333" stroke-width="0.12" textLength="22.7" lengthAdjust="spacingAndGlyphs">9.93 (iso)</text>
<text x="154.9" y="215.96" font-size="5.8" fill="#e2303f" stroke="#e2303f" stroke-width="0.12" textLength="9.3" lengthAdjust="spacingAndGlyphs">628</text>
<text x="151.8" y="237.16" font-size="5.8" fill="#656db2" stroke="#656db2" stroke-width="0.12" textLength="8.8" lengthAdjust="spacingAndGlyphs">515</text>
<rect x="184" y="181.9" width="5.2" height="4.8" fill="#b9b9b9"/>
<rect x="184.3" y="190.6" width="4.7" height="4.5" fill="#f3c2c6" stroke="#e06870" stroke-width="0.7"/>
<rect x="184.3" y="199.3" width="4.7" height="4.5" fill="#fff" stroke="#6a74b0" stroke-width="0.7"/>
<text x="193" y="186.32" font-size="5.4" fill="#444" stroke="#444" stroke-width="0.12" textLength="17.7" lengthAdjust="spacingAndGlyphs">Isotype</text>
<text x="193" y="194.92" font-size="5.4" fill="#444" stroke="#444" stroke-width="0.12" textLength="18.8" lengthAdjust="spacingAndGlyphs">Relapse</text>
<text x="193" y="203.42" font-size="5.4" fill="#444" stroke="#444" stroke-width="0.12" textLength="27.7" lengthAdjust="spacingAndGlyphs">No Relapse</text>
<text x="4.8" y="292.2" font-size="11" fill="#000" font-weight="bold" textLength="7.26" lengthAdjust="spacingAndGlyphs">F</text>
<rect x="29.8" y="316.2" width="61.8" height="62.1" fill="none" stroke="#111" stroke-width="1.05"/>
<text x="60.7" y="304.19" font-size="7" text-anchor="middle" fill="#3a3a3a" stroke="#3a3a3a" stroke-width="0.12" textLength="27.5" lengthAdjust="spacingAndGlyphs">Gated on</text>
<text x="60.7" y="312.09" font-size="7" text-anchor="middle" fill="#3a3a3a" stroke="#3a3a3a" stroke-width="0.12" textLength="45.8" lengthAdjust="spacingAndGlyphs">CD3<tspan dy="-2.2" font-size="4.5">−</tspan><tspan dy="2.2">CD56</tspan><tspan dy="-2.2" font-size="4.5">+</tspan><tspan dy="2.2"> NK</tspan></text>
<line x1="20.8" y1="351.5" x2="20.8" y2="320.6" stroke="#555" stroke-width="1.3"/>
<path d="M20.8 317.7L18.71 322.34L22.89 322.34z" fill="#111"/>
<text x="20.8" y="369.74" font-size="6.6" text-anchor="middle" fill="#3a3a3a" stroke="#3a3a3a" stroke-width="0.28" textLength="19.4" lengthAdjust="spacingAndGlyphs" transform="rotate(-90 20.8 367.4)">Events</text>
<text x="43.2" y="389.74" font-size="6.3" text-anchor="middle" fill="#3a3a3a" stroke="#3a3a3a" stroke-width="0.12">0</text>
<text x="54" y="389.74" font-size="6.3" text-anchor="middle" fill="#3a3a3a" stroke="#3a3a3a" stroke-width="0.12" textLength="7.8" lengthAdjust="spacingAndGlyphs">10<tspan dy="-2.3" font-size="4.3">3</tspan></text>
<text x="70.3" y="389.74" font-size="6.3" text-anchor="middle" fill="#3a3a3a" stroke="#3a3a3a" stroke-width="0.12" textLength="7.2" lengthAdjust="spacingAndGlyphs">10<tspan dy="-2.3" font-size="4.3">4</tspan></text>
<text x="85" y="389.74" font-size="6.3" text-anchor="middle" fill="#3a3a3a" stroke="#3a3a3a" stroke-width="0.12" textLength="7.6" lengthAdjust="spacingAndGlyphs">10<tspan dy="-2.3" font-size="4.3">5</tspan></text>
<path d="M33 378.3v2.8M34.1 378.3v2.8M35.4 378.3v3.6M37.2 378.3v3.6M38.1 378.3v3.2M39.4 378.3v3.6M40.5 378.3v2.2M42.3 378.3v3.6M44.1 378.3v3.2M45 378.3v2.2M45.9 378.3v2.8M47 378.3v3.2M48.3 378.3v2.8M49.4 378.3v3.6M50.5 378.3v3.2M51.8 378.3v3.6M52.9 378.3v2.8M54 378.3v3.2M55.3 378.3v2.8M56.2 378.3v3.6M57.1 378.3v3.2M58.9 378.3v3.2M60.7 378.3v2.8M62.5 378.3v2.8M63.4 378.3v2.8M64.5 378.3v3.6M65.6 378.3v3.2M66.5 378.3v3.2M68.3 378.3v2.2M69.2 378.3v2.2M71 378.3v3.6M72.8 378.3v2.2M74.6 378.3v3.2M76.4 378.3v3.6M77.7 378.3v3.2M79.5 378.3v2.2M80.6 378.3v2.8M81.5 378.3v2.8M82.6 378.3v2.8M83.9 378.3v3.6M85.7 378.3v2.8M86.8 378.3v3.2M88.6 378.3v3.6M89.9 378.3v2.2M90.8 378.3v2.8" stroke="#151515" stroke-width="0.95"/>
<text x="29.6" y="402.21" font-size="8.2" fill="#3a3a3a" stroke="#3a3a3a" stroke-width="0.28" textLength="30.7" lengthAdjust="spacingAndGlyphs">GARP-APC</text>
<line x1="69.5" y1="399.3" x2="87.3" y2="399.3" stroke="#222" stroke-width="1.1"/>
<path d="M90.2 399.3L85.56 397.21L85.56 401.39z" fill="#111"/>
<path d="M30.3 337 L30.4 336.99 L30.53 336.97 L30.7 336.95 L30.92 336.89 L31.2 336.8 L31.57 336.66 L32.03 336.5 L32.53 336.3 L33.03 336.06 L33.5 335.8 L33.93 335.52 L34.34 335.22 L34.75 334.88 L35.16 334.48 L35.6 334 L36.06 333.43 L36.53 332.8 L37.01 332.1 L37.5 331.33 L38 330.5 L38.52 329.55 L39.06 328.48 L39.6 327.38 L40.12 326.32 L40.6 325.4 L41.03 324.61 L41.43 323.89 L41.8 323.24 L42.16 322.68 L42.5 322.2 L42.82 321.83 L43.12 321.58 L43.4 321.39 L43.69 321.21 L44 321 L44.33 320.71 L44.67 320.37 L45.02 320.05 L45.36 319.81 L45.7 319.7 L46.03 319.75 L46.35 319.92 L46.67 320.18 L46.99 320.48 L47.3 320.8 L47.6 321.11 L47.87 321.43 L48.15 321.8 L48.46 322.24 L48.8 322.8 L49.19 323.49 L49.62 324.3 L50.08 325.18 L50.54 326.09 L51 327 L51.46 327.93 L51.92 328.91 L52.38 329.9 L52.84 330.84 L53.3 331.7 L53.75 332.47 L54.19 333.19 L54.62 333.86 L55.06 334.46 L55.5 335 L55.95 335.48 L56.42 335.9 L56.88 336.27 L57.32 336.57 L57.7 336.8 L57.52 336.95 L56.81 337 L56.31 337.01 L56.78 337 L59 337 L63.96 337.01 L71.16 337.01 L79.09 337.01 L86.24 337 L91.1 337 L91.1 337 L30.3 337z" fill="#b8b8b8"/>
<path d="M30.3 337 L30.4 336.99 L30.53 336.97 L30.7 336.95 L30.92 336.89 L31.2 336.8 L31.57 336.66 L32.03 336.5 L32.53 336.3 L33.03 336.06 L33.5 335.8 L33.93 335.52 L34.34 335.22 L34.75 334.88 L35.16 334.48 L35.6 334 L36.06 333.43 L36.53 332.8 L37.01 332.1 L37.5 331.33 L38 330.5 L38.52 329.55 L39.06 328.48 L39.6 327.38 L40.12 326.32 L40.6 325.4 L41.03 324.61 L41.43 323.89 L41.8 323.24 L42.16 322.68 L42.5 322.2 L42.82 321.83 L43.12 321.58 L43.4 321.39 L43.69 321.21 L44 321 L44.33 320.71 L44.67 320.37 L45.02 320.05 L45.36 319.81 L45.7 319.7 L46.03 319.75 L46.35 319.92 L46.67 320.18 L46.99 320.48 L47.3 320.8 L47.6 321.11 L47.87 321.43 L48.15 321.8 L48.46 322.24 L48.8 322.8 L49.19 323.49 L49.62 324.3 L50.08 325.18 L50.54 326.09 L51 327 L51.46 327.93 L51.92 328.91 L52.38 329.9 L52.84 330.84 L53.3 331.7 L53.75 332.47 L54.19 333.19 L54.62 333.86 L55.06 334.46 L55.5 335 L55.95 335.48 L56.42 335.9 L56.88 336.27 L57.32 336.57 L57.7 336.8 L57.52 336.95 L56.81 337 L56.31 337.01 L56.78 337 L59 337 L63.96 337.01 L71.16 337.01 L79.09 337.01 L86.24 337 L91.1 337" fill="none" stroke="#1a1a1a" stroke-width="1" stroke-linejoin="round"/>
<path d="M30.3 356.6 L30.4 356.53 L30.53 356.44 L30.7 356.33 L30.92 356.18 L31.2 356 L31.57 355.77 L32.03 355.5 L32.53 355.21 L33.03 354.9 L33.5 354.6 L33.93 354.32 L34.34 354.05 L34.75 353.76 L35.16 353.45 L35.6 353.1 L36.06 352.69 L36.53 352.23 L37.01 351.74 L37.5 351.26 L38 350.8 L38.52 350.35 L39.06 349.89 L39.6 349.44 L40.12 349.04 L40.6 348.7 L41.02 348.45 L41.41 348.27 L41.77 348.12 L42.13 347.98 L42.5 347.8 L42.88 347.59 L43.25 347.38 L43.63 347.16 L44.01 346.9 L44.4 346.6 L44.8 346.24 L45.22 345.82 L45.64 345.38 L46.06 344.93 L46.5 344.5 L46.96 344.01 L47.43 343.44 L47.91 342.92 L48.38 342.53 L48.8 342.4 L49.16 342.56 L49.46 342.93 L49.76 343.46 L50.09 344.1 L50.5 344.8 L51.02 345.6 L51.62 346.52 L52.25 347.52 L52.89 348.54 L53.5 349.5 L54.09 350.45 L54.67 351.42 L55.25 352.37 L55.79 353.24 L56.3 354 L56.72 354.63 L57.08 355.16 L57.42 355.62 L57.8 355.99 L58.3 356.3 L58.52 356.52 L58.44 356.65 L58.61 356.72 L59.61 356.75 L62 356.8 L66.66 356.85 L73.21 356.87 L80.34 356.89 L86.74 356.89 L91.1 356.9" fill="none" stroke="#e2303f" stroke-width="1" stroke-linejoin="round"/>
<path d="M30.3 378 L30.78 377.98 L31.47 377.98 L32.26 377.94 L33.04 377.8 L33.7 377.5 L34.23 376.99 L34.71 376.3 L35.15 375.52 L35.57 374.73 L36 374 L36.43 373.35 L36.84 372.71 L37.24 372.09 L37.66 371.45 L38.1 370.8 L38.57 370.11 L39.07 369.39 L39.57 368.66 L40.09 367.96 L40.6 367.3 L41.12 366.68 L41.65 366.08 L42.18 365.51 L42.7 364.98 L43.2 364.5 L43.67 364.08 L44.11 363.7 L44.54 363.36 L45 363.06 L45.5 362.8 L46.06 362.56 L46.67 362.36 L47.3 362.2 L47.92 362.08 L48.5 362 L49.05 361.98 L49.58 362.01 L50.09 362.08 L50.57 362.18 L51 362.3 L51.37 362.38 L51.69 362.43 L51.98 362.53 L52.28 362.76 L52.6 363.2 L52.96 363.88 L53.34 364.76 L53.73 365.77 L54.12 366.87 L54.5 368 L54.87 369.25 L55.25 370.64 L55.61 372.06 L55.97 373.39 L56.3 374.5 L56.61 375.38 L56.89 376.11 L57.17 376.72 L57.43 377.21 L57.7 377.6 L57.99 377.86 L58.29 377.97 L58.58 378 L58.82 377.99 L59 378" fill="none" stroke="#656db2" stroke-width="1" stroke-linejoin="round"/>
<text x="62.6" y="333.96" font-size="5.8" fill="#333" stroke="#333" stroke-width="0.12" textLength="20.2" lengthAdjust="spacingAndGlyphs">132 (iso)</text>
<text x="69.6" y="353.86" font-size="5.8" fill="#e2303f" stroke="#e2303f" stroke-width="0.12" textLength="9.2" lengthAdjust="spacingAndGlyphs">297</text>
<text x="68.6" y="374.16" font-size="5.8" fill="#656db2" stroke="#656db2" stroke-width="0.12" textLength="8.6" lengthAdjust="spacingAndGlyphs">313</text>
<rect x="114.6" y="316.3" width="61" height="61.8" fill="none" stroke="#111" stroke-width="1.05"/>
<text x="145.5" y="303.59" font-size="7" text-anchor="middle" fill="#3a3a3a" stroke="#3a3a3a" stroke-width="0.12" textLength="27.5" lengthAdjust="spacingAndGlyphs">Gated on</text>
<text x="145.5" y="312.09" font-size="7" text-anchor="middle" fill="#3a3a3a" stroke="#3a3a3a" stroke-width="0.12" textLength="38.1" lengthAdjust="spacingAndGlyphs">CD3<tspan dy="-2.2" font-size="4.5">+</tspan><tspan dy="2.2">CD8</tspan><tspan dy="-2.2" font-size="4.5">+</tspan><tspan dy="2.2"> T</tspan></text>
<line x1="105.3" y1="351.5" x2="105.3" y2="320.7" stroke="#555" stroke-width="1.3"/>
<path d="M105.3 317.8L103.21 322.44L107.39 322.44z" fill="#111"/>
<text x="105.3" y="369.04" font-size="6.6" text-anchor="middle" fill="#3a3a3a" stroke="#3a3a3a" stroke-width="0.28" textLength="19.4" lengthAdjust="spacingAndGlyphs" transform="rotate(-90 105.3 366.7)">Events</text>
<text x="127.8" y="390.24" font-size="6.3" text-anchor="middle" fill="#3a3a3a" stroke="#3a3a3a" stroke-width="0.12">0</text>
<text x="137.8" y="390.24" font-size="6.3" text-anchor="middle" fill="#3a3a3a" stroke="#3a3a3a" stroke-width="0.12" textLength="7.8" lengthAdjust="spacingAndGlyphs">10<tspan dy="-2.3" font-size="4.3">3</tspan></text>
<text x="156.4" y="390.24" font-size="6.3" text-anchor="middle" fill="#3a3a3a" stroke="#3a3a3a" stroke-width="0.12" textLength="7.2" lengthAdjust="spacingAndGlyphs">10<tspan dy="-2.3" font-size="4.3">4</tspan></text>
<text x="169.5" y="390.24" font-size="6.3" text-anchor="middle" fill="#3a3a3a" stroke="#3a3a3a" stroke-width="0.12" textLength="7.6" lengthAdjust="spacingAndGlyphs">10<tspan dy="-2.3" font-size="4.3">5</tspan></text>
<path d="M117.8 378.1v3.6M119.6 378.1v2.2M120.9 378.1v3.6M122.7 378.1v2.2M124.5 378.1v3.6M125.8 378.1v3.2M127.6 378.1v2.2M129.4 378.1v3.2M130.7 378.1v3.6M131.8 378.1v2.2M133.1 378.1v2.2M134 378.1v2.8M135.8 378.1v2.2M137.6 378.1v2.8M138.5 378.1v3.6M139.4 378.1v3.2M141.2 378.1v2.2M142.1 378.1v2.8M143 378.1v3.6M144.1 378.1v3.6M145 378.1v3.6M146.3 378.1v3.6M147.2 378.1v2.8M148.5 378.1v3.2M149.4 378.1v2.8M151.2 378.1v2.2M152.3 378.1v3.2M154.1 378.1v2.8M155.2 378.1v3.2M156.5 378.1v3.6M157.8 378.1v3.2M159.1 378.1v2.2M160 378.1v3.2M160.9 378.1v2.2M162.2 378.1v2.8M163.3 378.1v3.6M165.1 378.1v2.8M166.9 378.1v2.8M168 378.1v2.2M169.1 378.1v3.2M170.9 378.1v2.2M171.8 378.1v2.2M172.9 378.1v3.6M173.8 378.1v2.2M174.7 378.1v3.6" stroke="#151515" stroke-width="0.95"/>
<text x="114.5" y="403.11" font-size="8.2" fill="#3a3a3a" stroke="#3a3a3a" stroke-width="0.28" textLength="30.7" lengthAdjust="spacingAndGlyphs">GARP-APC</text>
<line x1="151.2" y1="400.2" x2="172.9" y2="400.2" stroke="#222" stroke-width="1.1"/>
<path d="M175.8 400.2L171.16 398.11L171.16 402.29z" fill="#111"/>
<path d="M115.1 337 L115.13 336.96 L115.15 336.9 L115.21 336.82 L115.31 336.72 L115.5 336.6 L115.8 336.44 L116.19 336.26 L116.64 336.06 L117.09 335.84 L117.5 335.6 L117.87 335.37 L118.23 335.13 L118.58 334.87 L118.94 334.57 L119.3 334.2 L119.67 333.76 L120.05 333.26 L120.44 332.71 L120.82 332.12 L121.2 331.5 L121.58 330.83 L121.97 330.12 L122.35 329.37 L122.73 328.62 L123.1 327.9 L123.46 327.19 L123.8 326.47 L124.14 325.77 L124.48 325.11 L124.8 324.5 L125.11 323.95 L125.41 323.45 L125.7 322.99 L126 322.57 L126.3 322.2 L126.61 321.89 L126.91 321.65 L127.22 321.43 L127.55 321.23 L127.9 321 L128.3 320.7 L128.73 320.36 L129.17 320.04 L129.6 319.8 L130 319.7 L130.35 319.77 L130.68 319.98 L130.98 320.27 L131.29 320.62 L131.6 321 L131.92 321.41 L132.23 321.87 L132.55 322.37 L132.87 322.92 L133.2 323.5 L133.54 324.13 L133.9 324.8 L134.26 325.52 L134.62 326.25 L135 327 L135.38 327.77 L135.78 328.57 L136.18 329.39 L136.58 330.2 L137 331 L137.43 331.8 L137.87 332.62 L138.31 333.42 L138.76 334.16 L139.2 334.8 L139.65 335.34 L140.11 335.82 L140.56 336.22 L141 336.54 L141.4 336.8 L141.27 336.96 L140.62 337.02 L140.19 337.02 L140.74 337 L143 337 L147.98 337.01 L155.18 337.01 L163.11 337.01 L170.25 337 L175.1 337 L175.1 337 L115.1 337z" fill="#b8b8b8"/>
<path d="M115.1 337 L115.13 336.96 L115.15 336.9 L115.21 336.82 L115.31 336.72 L115.5 336.6 L115.8 336.44 L116.19 336.26 L116.64 336.06 L117.09 335.84 L117.5 335.6 L117.87 335.37 L118.23 335.13 L118.58 334.87 L118.94 334.57 L119.3 334.2 L119.67 333.76 L120.05 333.26 L120.44 332.71 L120.82 332.12 L121.2 331.5 L121.58 330.83 L121.97 330.12 L122.35 329.37 L122.73 328.62 L123.1 327.9 L123.46 327.19 L123.8 326.47 L124.14 325.77 L124.48 325.11 L124.8 324.5 L125.11 323.95 L125.41 323.45 L125.7 322.99 L126 322.57 L126.3 322.2 L126.61 321.89 L126.91 321.65 L127.22 321.43 L127.55 321.23 L127.9 321 L128.3 320.7 L128.73 320.36 L129.17 320.04 L129.6 319.8 L130 319.7 L130.35 319.77 L130.68 319.98 L130.98 320.27 L131.29 320.62 L131.6 321 L131.92 321.41 L132.23 321.87 L132.55 322.37 L132.87 322.92 L133.2 323.5 L133.54 324.13 L133.9 324.8 L134.26 325.52 L134.62 326.25 L135 327 L135.38 327.77 L135.78 328.57 L136.18 329.39 L136.58 330.2 L137 331 L137.43 331.8 L137.87 332.62 L138.31 333.42 L138.76 334.16 L139.2 334.8 L139.65 335.34 L140.11 335.82 L140.56 336.22 L141 336.54 L141.4 336.8 L141.27 336.96 L140.62 337.02 L140.19 337.02 L140.74 337 L143 337 L147.98 337.01 L155.18 337.01 L163.11 337.01 L170.25 337 L175.1 337" fill="none" stroke="#1a1a1a" stroke-width="1" stroke-linejoin="round"/>
<path d="M115.1 357.3 L115.42 357.19 L115.85 357.05 L116.37 356.87 L116.94 356.65 L117.5 356.4 L118.09 356.1 L118.72 355.75 L119.38 355.38 L120.01 354.99 L120.6 354.6 L121.12 354.22 L121.6 353.82 L122.06 353.42 L122.52 353.02 L123 352.6 L123.51 352.18 L124.03 351.74 L124.55 351.3 L125.08 350.86 L125.6 350.4 L126.12 349.93 L126.64 349.44 L127.17 348.94 L127.69 348.46 L128.2 348 L128.72 347.56 L129.24 347.14 L129.75 346.74 L130.24 346.36 L130.7 346 L131.12 345.64 L131.5 345.28 L131.87 344.96 L132.23 344.72 L132.6 344.6 L132.98 344.65 L133.36 344.84 L133.74 345.1 L134.12 345.37 L134.5 345.6 L134.88 345.76 L135.26 345.91 L135.63 346.05 L136.01 346.2 L136.4 346.4 L136.8 346.62 L137.2 346.84 L137.61 347.1 L138.01 347.41 L138.4 347.8 L138.77 348.29 L139.13 348.86 L139.49 349.48 L139.84 350.14 L140.2 350.8 L140.56 351.5 L140.92 352.25 L141.27 353.01 L141.63 353.74 L142 354.4 L142.37 355 L142.74 355.57 L143.12 356.09 L143.51 356.54 L143.9 356.9 L143.88 357.15 L143.43 357.3 L143.21 357.39 L143.85 357.44 L146 357.5 L150.56 357.55 L157.09 357.58 L164.26 357.59 L170.71 357.59 L175.1 357.6" fill="none" stroke="#e8606c" stroke-width="1" stroke-linejoin="round"/>
<path d="M115.1 378 L115.71 377.99 L116.59 377.99 L117.58 377.97 L118.54 377.85 L119.3 377.6 L119.83 377.18 L120.23 376.62 L120.55 375.97 L120.86 375.28 L121.2 374.6 L121.55 373.94 L121.87 373.27 L122.2 372.57 L122.6 371.82 L123.1 371 L123.74 370.06 L124.48 369.01 L125.29 367.94 L126.11 366.91 L126.9 366 L127.68 365.21 L128.49 364.49 L129.29 363.85 L130.04 363.28 L130.7 362.8 L131.26 362.42 L131.74 362.15 L132.17 361.94 L132.58 361.77 L133 361.6 L133.44 361.42 L133.86 361.25 L134.28 361.11 L134.7 361.02 L135.1 361 L135.5 361.05 L135.89 361.15 L136.28 361.31 L136.65 361.53 L137 361.8 L137.32 362.11 L137.6 362.44 L137.88 362.85 L138.17 363.36 L138.5 364 L138.87 364.81 L139.28 365.76 L139.7 366.81 L140.11 367.9 L140.5 369 L140.87 370.16 L141.22 371.4 L141.56 372.65 L141.89 373.81 L142.2 374.8 L142.48 375.61 L142.74 376.29 L142.98 376.87 L143.23 377.33 L143.5 377.7 L143.81 377.93 L144.16 378.02 L144.5 378.03 L144.79 378 L145 378" fill="none" stroke="#656db2" stroke-width="1" stroke-linejoin="round"/>
<text x="146.6" y="333.66" font-size="5.8" fill="#333" stroke="#333" stroke-width="0.12" textLength="20.2" lengthAdjust="spacingAndGlyphs">210 (iso)</text>
<text x="153.9" y="353.86" font-size="5.8" fill="#e2303f" stroke="#e2303f" stroke-width="0.12" textLength="9.4" lengthAdjust="spacingAndGlyphs">435</text>
<text x="153.3" y="374.66" font-size="5.8" fill="#656db2" stroke="#656db2" stroke-width="0.12" textLength="8.9" lengthAdjust="spacingAndGlyphs">426</text>
<rect x="183.2" y="321.2" width="4.8" height="4.4" fill="#b9b9b9"/>
<rect x="183.5" y="329.8" width="4.3" height="4.3" fill="#fff" stroke="#e06870" stroke-width="0.7"/>
<rect x="183.5" y="338.5" width="4.3" height="4.3" fill="#fff" stroke="#6a74b0" stroke-width="0.7"/>
<text x="191.9" y="325.28" font-size="5.3" fill="#444" stroke="#444" stroke-width="0.12" textLength="17.1" lengthAdjust="spacingAndGlyphs">Isotype</text>
<text x="191.9" y="333.88" font-size="5.3" fill="#444" stroke="#444" stroke-width="0.12" textLength="18.7" lengthAdjust="spacingAndGlyphs">Relapse</text>
<text x="191.9" y="342.48" font-size="5.3" fill="#444" stroke="#444" stroke-width="0.12" textLength="27.9" lengthAdjust="spacingAndGlyphs">No Relapse</text>
<text x="236.6" y="151" font-size="11" fill="#000" font-weight="bold" textLength="7.92" lengthAdjust="spacingAndGlyphs">E</text>
<line x1="281.4" y1="171.2" x2="281.4" y2="240.45" stroke="#231f20" stroke-width="1.3"/>
<line x1="280.75" y1="239.8" x2="344.3" y2="239.8" stroke="#231f20" stroke-width="1.3"/>
<line x1="278.2" y1="174.5" x2="281.4" y2="174.5" stroke="#231f20" stroke-width="1"/>
<text x="274.8" y="176.84" font-size="6.6" text-anchor="end" fill="#3a3a3a" stroke="#3a3a3a" stroke-width="0.12" textLength="13.92" lengthAdjust="spacingAndGlyphs">2000</text>
<line x1="278.2" y1="190.8" x2="281.4" y2="190.8" stroke="#231f20" stroke-width="1"/>
<text x="274.8" y="193.14" font-size="6.6" text-anchor="end" fill="#3a3a3a" stroke="#3a3a3a" stroke-width="0.12" textLength="13.92" lengthAdjust="spacingAndGlyphs">1500</text>
<line x1="278.2" y1="207.1" x2="281.4" y2="207.1" stroke="#231f20" stroke-width="1"/>
<text x="274.8" y="209.44" font-size="6.6" text-anchor="end" fill="#3a3a3a" stroke="#3a3a3a" stroke-width="0.12" textLength="13.92" lengthAdjust="spacingAndGlyphs">1000</text>
<line x1="278.2" y1="223.4" x2="281.4" y2="223.4" stroke="#231f20" stroke-width="1"/>
<text x="274.8" y="225.74" font-size="6.6" text-anchor="end" fill="#3a3a3a" stroke="#3a3a3a" stroke-width="0.12" textLength="10.44" lengthAdjust="spacingAndGlyphs">500</text>
<line x1="278.2" y1="239.8" x2="281.4" y2="239.8" stroke="#231f20" stroke-width="1"/>
<text x="274.8" y="242.14" font-size="6.6" text-anchor="end" fill="#3a3a3a" stroke="#3a3a3a" stroke-width="0.12" textLength="3.48" lengthAdjust="spacingAndGlyphs">0</text>
<rect x="287.1" y="202.8" width="20.9" height="37" fill="#e3151d"/>
<line x1="297.55" y1="239.8" x2="297.55" y2="242.2" stroke="#231f20" stroke-width="0.9"/>
<rect x="320" y="214.6" width="20.8" height="25.2" fill="#2e3b8e"/>
<line x1="330.4" y1="239.8" x2="330.4" y2="242.2" stroke="#231f20" stroke-width="0.9"/>
<g fill="#fff" stroke="#e3151d" stroke-width="0.8">
<circle cx="297.5" cy="185.1" r="2.05"/>
<circle cx="294.1" cy="192.4" r="2.05"/>
<circle cx="289.3" cy="196.4" r="2.05"/>
<circle cx="292.9" cy="195.8" r="2.05"/>
<circle cx="297.2" cy="195.2" r="2.05"/>
<circle cx="300.8" cy="195.2" r="2.05"/>
<circle cx="305.6" cy="197" r="2.05"/>
<circle cx="291.7" cy="200" r="2.05"/>
<circle cx="295.3" cy="200.6" r="2.05"/>
<circle cx="300.2" cy="199.4" r="2.05"/>
<circle cx="302.6" cy="201.8" r="2.05"/>
<circle cx="299" cy="204.8" r="2.05"/>
<circle cx="302" cy="204.8" r="2.05"/>
<circle cx="292.9" cy="207.9" r="2.05"/>
<circle cx="295.3" cy="209.1" r="2.05"/>
<circle cx="294.1" cy="212.7" r="2.05"/>
<circle cx="297.8" cy="215.2" r="2.05"/>
<circle cx="300.8" cy="215.8" r="2.05"/>
</g>
<g fill="#fff" stroke="#2e3b8e" stroke-width="0.8">
<circle cx="330.5" cy="203.6" r="2.05"/>
<circle cx="326.8" cy="206.1" r="2.05"/>
<circle cx="333.5" cy="207.3" r="2.05"/>
<circle cx="321.4" cy="209.7" r="2.05"/>
<circle cx="324.4" cy="211.5" r="2.05"/>
<circle cx="329.3" cy="210.9" r="2.05"/>
<circle cx="334.1" cy="212.1" r="2.05"/>
<circle cx="338.4" cy="212.7" r="2.05"/>
<circle cx="328.1" cy="215.2" r="2.05"/>
<circle cx="332.3" cy="215.8" r="2.05"/>
<circle cx="335.9" cy="216.4" r="2.05"/>
<circle cx="323.2" cy="218.8" r="2.05"/>
<circle cx="328.7" cy="217.6" r="2.05"/>
<circle cx="332.9" cy="221.2" r="2.05"/>
<circle cx="337.2" cy="222.4" r="2.05"/>
</g>
<line x1="297.5" y1="179.9" x2="330" y2="179.9" stroke="#555" stroke-width="1.2"/>
<text x="313.75" y="176.8" font-size="5.45" text-anchor="middle" fill="#3a3a3a" stroke="#3a3a3a" stroke-width="0.12" textLength="26.5" lengthAdjust="spacingAndGlyphs"><tspan font-style="italic">P</tspan> = 0.0008</text>
<text x="252.3" y="208.3" font-size="7.6" text-anchor="middle" fill="#3a3a3a" stroke="#3a3a3a" stroke-width="0.28" textLength="35" lengthAdjust="spacingAndGlyphs" transform="rotate(-90 252.3 205.6)">GARP (MFI)</text>
<text x="297.55" y="251.8" font-size="7" text-anchor="middle" fill="#e03a3e" stroke="#e03a3e" stroke-width="0.12" textLength="22.6" lengthAdjust="spacingAndGlyphs">Relapse</text>
<text x="330.4" y="251.8" font-size="7" text-anchor="middle" fill="#4a55a2" stroke="#4a55a2" stroke-width="0.12" textLength="8.6" lengthAdjust="spacingAndGlyphs">No</text>
<text x="330.4" y="259.2" font-size="7" text-anchor="middle" fill="#4a55a2" stroke="#4a55a2" stroke-width="0.12" textLength="22.6" lengthAdjust="spacingAndGlyphs">Relapse</text>
<text x="313.7" y="165.99" font-size="7" text-anchor="middle" fill="#3a3a3a" stroke="#3a3a3a" stroke-width="0.12" textLength="51" lengthAdjust="spacingAndGlyphs">Gated on CD4<tspan dy="-2.2" font-size="4.5">+</tspan><tspan dy="2.2"> T</tspan></text>
<line x1="389.2" y1="171.2" x2="389.2" y2="240.45" stroke="#231f20" stroke-width="1.3"/>
<line x1="388.55" y1="239.8" x2="451.6" y2="239.8" stroke="#231f20" stroke-width="1.3"/>
<line x1="386" y1="174.3" x2="389.2" y2="174.3" stroke="#231f20" stroke-width="1"/>
<text x="382.6" y="176.64" font-size="6.6" text-anchor="end" fill="#3a3a3a" stroke="#3a3a3a" stroke-width="0.12" textLength="13.92" lengthAdjust="spacingAndGlyphs">2000</text>
<line x1="386" y1="190.8" x2="389.2" y2="190.8" stroke="#231f20" stroke-width="1"/>
<text x="382.6" y="193.14" font-size="6.6" text-anchor="end" fill="#3a3a3a" stroke="#3a3a3a" stroke-width="0.12" textLength="13.92" lengthAdjust="spacingAndGlyphs">1500</text>
<line x1="386" y1="207.2" x2="389.2" y2="207.2" stroke="#231f20" stroke-width="1"/>
<text x="382.6" y="209.54" font-size="6.6" text-anchor="end" fill="#3a3a3a" stroke="#3a3a3a" stroke-width="0.12" textLength="13.92" lengthAdjust="spacingAndGlyphs">1000</text>
<line x1="386" y1="223.5" x2="389.2" y2="223.5" stroke="#231f20" stroke-width="1"/>
<text x="382.6" y="225.84" font-size="6.6" text-anchor="end" fill="#3a3a3a" stroke="#3a3a3a" stroke-width="0.12" textLength="10.44" lengthAdjust="spacingAndGlyphs">500</text>
<line x1="386" y1="239.8" x2="389.2" y2="239.8" stroke="#231f20" stroke-width="1"/>
<text x="382.6" y="242.14" font-size="6.6" text-anchor="end" fill="#3a3a3a" stroke="#3a3a3a" stroke-width="0.12" textLength="3.48" lengthAdjust="spacingAndGlyphs">0</text>
<rect x="395.3" y="221.4" width="21.4" height="18.4" fill="#e3151d"/>
<line x1="406" y1="239.8" x2="406" y2="242.2" stroke="#231f20" stroke-width="0.9"/>
<rect x="427.8" y="223.8" width="21.1" height="16" fill="#2e3b8e"/>
<line x1="438.35" y1="239.8" x2="438.35" y2="242.2" stroke="#231f20" stroke-width="0.9"/>
<g fill="#fff" stroke="#e3151d" stroke-width="0.8">
<circle cx="405.6" cy="206.5" r="2.05"/>
<circle cx="405.6" cy="211.9" r="2.05"/>
<circle cx="397.5" cy="214.75" r="2.05"/>
<circle cx="403.1" cy="215.6" r="2.05"/>
<circle cx="408.75" cy="214.4" r="2.05"/>
<circle cx="414.4" cy="215.6" r="2.05"/>
<circle cx="400.6" cy="217.5" r="2.05"/>
<circle cx="406.25" cy="218.1" r="2.05"/>
<circle cx="410.6" cy="218.1" r="2.05"/>
<circle cx="405" cy="221.9" r="2.05"/>
<circle cx="408.75" cy="223.1" r="2.05"/>
<circle cx="412.5" cy="223.75" r="2.05"/>
<circle cx="398.75" cy="225.6" r="2.05"/>
<circle cx="401.9" cy="226.9" r="2.05"/>
<circle cx="400.6" cy="228.1" r="2.05"/>
<circle cx="403.75" cy="228.1" r="2.05"/>
<circle cx="407.5" cy="231.25" r="2.05"/>
<circle cx="410.6" cy="233.75" r="2.05"/>
</g>
<g fill="#fff" stroke="#2e3b8e" stroke-width="0.8">
<circle cx="439" cy="211" r="2.05"/>
<circle cx="437.25" cy="217.25" r="2.05"/>
<circle cx="430" cy="223.75" r="2.05"/>
<circle cx="435" cy="223.1" r="2.05"/>
<circle cx="441.25" cy="223.1" r="2.05"/>
<circle cx="445" cy="224.4" r="2.05"/>
<circle cx="431.25" cy="227.5" r="2.05"/>
<circle cx="435" cy="228.1" r="2.05"/>
<circle cx="439.4" cy="226.9" r="2.05"/>
<circle cx="442.5" cy="227.5" r="2.05"/>
<circle cx="446.25" cy="228.1" r="2.05"/>
<circle cx="431.25" cy="232.5" r="2.05"/>
<circle cx="436.25" cy="231.9" r="2.05"/>
<circle cx="441.25" cy="230.6" r="2.05"/>
<circle cx="445" cy="231.25" r="2.05"/>
<circle cx="443.75" cy="234.4" r="2.05"/>
<circle cx="446.9" cy="235" r="2.05"/>
</g>
<line x1="406.2" y1="197.9" x2="438.4" y2="197.9" stroke="#555" stroke-width="1.2"/>
<text x="422.3" y="194.8" font-size="5.45" text-anchor="middle" fill="#3a3a3a" stroke="#3a3a3a" stroke-width="0.12" textLength="26.5" lengthAdjust="spacingAndGlyphs"><tspan font-style="italic">P</tspan> = 0.0038</text>
<text x="360" y="208.5" font-size="7.6" text-anchor="middle" fill="#3a3a3a" stroke="#3a3a3a" stroke-width="0.28" textLength="35" lengthAdjust="spacingAndGlyphs" transform="rotate(-90 360 205.8)">GARP (MFI)</text>
<text x="406" y="252.2" font-size="7" text-anchor="middle" fill="#e03a3e" stroke="#e03a3e" stroke-width="0.12" textLength="22.6" lengthAdjust="spacingAndGlyphs">Relapse</text>
<text x="438.35" y="252.2" font-size="7" text-anchor="middle" fill="#4a55a2" stroke="#4a55a2" stroke-width="0.12" textLength="8.6" lengthAdjust="spacingAndGlyphs">No</text>
<text x="438.35" y="259.6" font-size="7" text-anchor="middle" fill="#4a55a2" stroke="#4a55a2" stroke-width="0.12" textLength="22.6" lengthAdjust="spacingAndGlyphs">Relapse</text>
<text x="422" y="156.79" font-size="7" text-anchor="middle" fill="#3a3a3a" stroke="#3a3a3a" stroke-width="0.12" textLength="27.5" lengthAdjust="spacingAndGlyphs">Gated on</text>
<text x="422" y="165.19" font-size="7" text-anchor="middle" fill="#3a3a3a" stroke="#3a3a3a" stroke-width="0.12" textLength="45.5" lengthAdjust="spacingAndGlyphs">CD41a<tspan dy="-2.2" font-size="4.5">+</tspan><tspan dy="2.2"> Platelet</tspan></text>
<text x="235.7" y="292.4" font-size="11" fill="#000" font-weight="bold" textLength="9.24" lengthAdjust="spacingAndGlyphs">G</text>
<line x1="281.2" y1="309.5" x2="281.2" y2="378.25" stroke="#231f20" stroke-width="1.3"/>
<line x1="280.55" y1="377.6" x2="346.3" y2="377.6" stroke="#231f20" stroke-width="1.3"/>
<line x1="278" y1="312.2" x2="281.2" y2="312.2" stroke="#231f20" stroke-width="1"/>
<text x="275.6" y="314.54" font-size="6.6" text-anchor="end" fill="#3a3a3a" stroke="#3a3a3a" stroke-width="0.12" textLength="13.92" lengthAdjust="spacingAndGlyphs">2000</text>
<line x1="278" y1="328.6" x2="281.2" y2="328.6" stroke="#231f20" stroke-width="1"/>
<text x="275.6" y="330.94" font-size="6.6" text-anchor="end" fill="#3a3a3a" stroke="#3a3a3a" stroke-width="0.12" textLength="13.92" lengthAdjust="spacingAndGlyphs">1500</text>
<line x1="278" y1="345" x2="281.2" y2="345" stroke="#231f20" stroke-width="1"/>
<text x="275.6" y="347.34" font-size="6.6" text-anchor="end" fill="#3a3a3a" stroke="#3a3a3a" stroke-width="0.12" textLength="13.92" lengthAdjust="spacingAndGlyphs">1000</text>
<line x1="278" y1="361.3" x2="281.2" y2="361.3" stroke="#231f20" stroke-width="1"/>
<text x="275.6" y="363.64" font-size="6.6" text-anchor="end" fill="#3a3a3a" stroke="#3a3a3a" stroke-width="0.12" textLength="10.44" lengthAdjust="spacingAndGlyphs">500</text>
<line x1="278" y1="377.6" x2="281.2" y2="377.6" stroke="#231f20" stroke-width="1"/>
<text x="275.6" y="379.94" font-size="6.6" text-anchor="end" fill="#3a3a3a" stroke="#3a3a3a" stroke-width="0.12" textLength="3.48" lengthAdjust="spacingAndGlyphs">0</text>
<rect x="290.7" y="368.5" width="18.6" height="9.1" fill="#e3151d"/>
<line x1="300" y1="377.6" x2="300" y2="380" stroke="#231f20" stroke-width="0.9"/>
<rect x="318.4" y="368" width="18.6" height="9.6" fill="#2e3b8e"/>
<line x1="327.7" y1="377.6" x2="327.7" y2="380" stroke="#231f20" stroke-width="0.9"/>
<g fill="#fff" stroke="#e3151d" stroke-width="0.8">
<circle cx="293.82" cy="368.28" r="1.9"/>
<circle cx="294.33" cy="370.37" r="1.9"/>
<circle cx="302.89" cy="367.87" r="1.9"/>
<circle cx="304.88" cy="371.46" r="1.9"/>
<circle cx="296.57" cy="370.58" r="1.9"/>
<circle cx="295.73" cy="366.84" r="1.9"/>
<circle cx="300.39" cy="367.03" r="1.9"/>
<circle cx="306.39" cy="371.48" r="1.9"/>
<circle cx="302.7" cy="367.53" r="1.9"/>
<circle cx="302.33" cy="369.7" r="1.9"/>
<circle cx="294.22" cy="371.47" r="1.9"/>
<circle cx="304.41" cy="369.53" r="1.9"/>
<circle cx="305.32" cy="368.72" r="1.9"/>
<circle cx="302.6" cy="367.86" r="1.9"/>
<circle cx="302.74" cy="369" r="1.9"/>
<circle cx="304.94" cy="370.84" r="1.9"/>
<circle cx="299.85" cy="368.2" r="1.9"/>
<circle cx="294.28" cy="370.39" r="1.9"/>
</g>
<g fill="#fff" stroke="#2e3b8e" stroke-width="0.8">
<circle cx="328.58" cy="366.72" r="1.9"/>
<circle cx="329.79" cy="368.49" r="1.9"/>
<circle cx="321.91" cy="368.12" r="1.9"/>
<circle cx="322.32" cy="369.47" r="1.9"/>
<circle cx="325.83" cy="368.88" r="1.9"/>
<circle cx="329.03" cy="365.89" r="1.9"/>
<circle cx="326.77" cy="366.86" r="1.9"/>
<circle cx="330.59" cy="367.76" r="1.9"/>
<circle cx="325" cy="368.18" r="1.9"/>
<circle cx="324.82" cy="367.24" r="1.9"/>
<circle cx="330.94" cy="369.73" r="1.9"/>
<circle cx="322.51" cy="367.77" r="1.9"/>
<circle cx="325.69" cy="368.61" r="1.9"/>
<circle cx="333.07" cy="368.58" r="1.9"/>
<circle cx="327.94" cy="368.82" r="1.9"/>
<circle cx="333.89" cy="369.92" r="1.9"/>
<circle cx="324.37" cy="367.33" r="1.9"/>
</g>
<text x="251.4" y="345.3" font-size="7.6" text-anchor="middle" fill="#3a3a3a" stroke="#3a3a3a" stroke-width="0.28" textLength="35" lengthAdjust="spacingAndGlyphs" transform="rotate(-90 251.4 342.6)">GARP (MFI)</text>
<text x="300" y="389.6" font-size="7" text-anchor="middle" fill="#e03a3e" stroke="#e03a3e" stroke-width="0.12" textLength="22.6" lengthAdjust="spacingAndGlyphs">Relapse</text>
<text x="327.7" y="389.6" font-size="7" text-anchor="middle" fill="#4a55a2" stroke="#4a55a2" stroke-width="0.12" textLength="8.6" lengthAdjust="spacingAndGlyphs">No</text>
<text x="327.7" y="397.1" font-size="7" text-anchor="middle" fill="#4a55a2" stroke="#4a55a2" stroke-width="0.12" textLength="22.6" lengthAdjust="spacingAndGlyphs">Relapse</text>
<text x="313.7" y="303.69" font-size="7" text-anchor="middle" fill="#3a3a3a" stroke="#3a3a3a" stroke-width="0.12" textLength="38.8" lengthAdjust="spacingAndGlyphs">Gated on NK</text>
<line x1="388.5" y1="309.2" x2="388.5" y2="378.15" stroke="#231f20" stroke-width="1.3"/>
<line x1="387.85" y1="377.5" x2="452.4" y2="377.5" stroke="#231f20" stroke-width="1.3"/>
<line x1="385.3" y1="311.9" x2="388.5" y2="311.9" stroke="#231f20" stroke-width="1"/>
<text x="383.3" y="314.24" font-size="6.6" text-anchor="end" fill="#3a3a3a" stroke="#3a3a3a" stroke-width="0.12" textLength="13.92" lengthAdjust="spacingAndGlyphs">2000</text>
<line x1="385.3" y1="328.3" x2="388.5" y2="328.3" stroke="#231f20" stroke-width="1"/>
<text x="383.3" y="330.64" font-size="6.6" text-anchor="end" fill="#3a3a3a" stroke="#3a3a3a" stroke-width="0.12" textLength="13.92" lengthAdjust="spacingAndGlyphs">1500</text>
<line x1="385.3" y1="344.8" x2="388.5" y2="344.8" stroke="#231f20" stroke-width="1"/>
<text x="383.3" y="347.14" font-size="6.6" text-anchor="end" fill="#3a3a3a" stroke="#3a3a3a" stroke-width="0.12" textLength="13.92" lengthAdjust="spacingAndGlyphs">1000</text>
<line x1="385.3" y1="361.2" x2="388.5" y2="361.2" stroke="#231f20" stroke-width="1"/>
<text x="383.3" y="363.54" font-size="6.6" text-anchor="end" fill="#3a3a3a" stroke="#3a3a3a" stroke-width="0.12" textLength="10.44" lengthAdjust="spacingAndGlyphs">500</text>
<line x1="385.3" y1="377.5" x2="388.5" y2="377.5" stroke="#231f20" stroke-width="1"/>
<text x="383.3" y="379.84" font-size="6.6" text-anchor="end" fill="#3a3a3a" stroke="#3a3a3a" stroke-width="0.12" textLength="3.48" lengthAdjust="spacingAndGlyphs">0</text>
<rect x="398.8" y="368.2" width="18.5" height="9.3" fill="#e3151d"/>
<line x1="408.05" y1="377.5" x2="408.05" y2="379.9" stroke="#231f20" stroke-width="0.9"/>
<rect x="426.9" y="364.5" width="18.6" height="13" fill="#2e3b8e"/>
<line x1="436.2" y1="377.5" x2="436.2" y2="379.9" stroke="#231f20" stroke-width="0.9"/>
<g fill="#fff" stroke="#e3151d" stroke-width="0.8">
<circle cx="403.7" cy="366.42" r="1.9"/>
<circle cx="404.09" cy="364.66" r="1.9"/>
<circle cx="410.25" cy="363.76" r="1.9"/>
<circle cx="406.98" cy="364.32" r="1.9"/>
<circle cx="414.77" cy="364.63" r="1.9"/>
<circle cx="412.78" cy="367.24" r="1.9"/>
<circle cx="402.33" cy="371.08" r="1.9"/>
<circle cx="409.99" cy="369.3" r="1.9"/>
<circle cx="408.31" cy="370.51" r="1.9"/>
<circle cx="409.29" cy="365.96" r="1.9"/>
<circle cx="402.84" cy="368.54" r="1.9"/>
<circle cx="403.01" cy="364.72" r="1.9"/>
<circle cx="410.54" cy="365.59" r="1.9"/>
<circle cx="411.37" cy="370.4" r="1.9"/>
<circle cx="404.35" cy="365.66" r="1.9"/>
<circle cx="414.18" cy="365.33" r="1.9"/>
<circle cx="401.36" cy="371.18" r="1.9"/>
<circle cx="411.28" cy="367.96" r="1.9"/>
</g>
<g fill="#fff" stroke="#2e3b8e" stroke-width="0.8">
<circle cx="443.33" cy="365.46" r="1.9"/>
<circle cx="437.1" cy="365.51" r="1.9"/>
<circle cx="439.45" cy="365.22" r="1.9"/>
<circle cx="429.71" cy="364.22" r="1.9"/>
<circle cx="432.15" cy="363" r="1.9"/>
<circle cx="439.71" cy="363.41" r="1.9"/>
<circle cx="430.93" cy="364.5" r="1.9"/>
<circle cx="439.79" cy="364.45" r="1.9"/>
<circle cx="436.43" cy="364.95" r="1.9"/>
<circle cx="442.35" cy="366.71" r="1.9"/>
<circle cx="438.55" cy="362.65" r="1.9"/>
<circle cx="431.7" cy="364.52" r="1.9"/>
<circle cx="443.33" cy="367.23" r="1.9"/>
<circle cx="443.46" cy="367.6" r="1.9"/>
<circle cx="430.57" cy="365.03" r="1.9"/>
<circle cx="435.23" cy="366.11" r="1.9"/>
<circle cx="439.46" cy="362.84" r="1.9"/>
</g>
<text x="360.3" y="345.3" font-size="7.6" text-anchor="middle" fill="#3a3a3a" stroke="#3a3a3a" stroke-width="0.28" textLength="35" lengthAdjust="spacingAndGlyphs" transform="rotate(-90 360.3 342.6)">GARP (MFI)</text>
<text x="408.05" y="389.6" font-size="7" text-anchor="middle" fill="#e03a3e" stroke="#e03a3e" stroke-width="0.12" textLength="22.6" lengthAdjust="spacingAndGlyphs">Relapse</text>
<text x="436.2" y="389.6" font-size="7" text-anchor="middle" fill="#4a55a2" stroke="#4a55a2" stroke-width="0.12" textLength="8.6" lengthAdjust="spacingAndGlyphs">No</text>
<text x="436.2" y="397.1" font-size="7" text-anchor="middle" fill="#4a55a2" stroke="#4a55a2" stroke-width="0.12" textLength="22.6" lengthAdjust="spacingAndGlyphs">Relapse</text>
<text x="422" y="303.69" font-size="7" text-anchor="middle" fill="#3a3a3a" stroke="#3a3a3a" stroke-width="0.12" textLength="50.3" lengthAdjust="spacingAndGlyphs">Gated on CD8<tspan dy="-2.2" font-size="4.5">+</tspan><tspan dy="2.2"> T</tspan></text>
<text x="1.6" y="430.6" font-size="11" fill="#000" font-weight="bold" textLength="8.58" lengthAdjust="spacingAndGlyphs">H</text>
<line x1="28.5" y1="439.4" x2="28.5" y2="496.85" stroke="#231f20" stroke-width="1.3"/>
<line x1="27.85" y1="496.2" x2="85.1" y2="496.2" stroke="#231f20" stroke-width="1.3"/>
<line x1="25.7" y1="441.6" x2="28.5" y2="441.6" stroke="#231f20" stroke-width="1.1"/>
<text x="22.6" y="443.87" font-size="6.4" text-anchor="end" fill="#3a3a3a" stroke="#3a3a3a" stroke-width="0.12" textLength="6.8" lengthAdjust="spacingAndGlyphs">20</text>
<line x1="25.7" y1="455.3" x2="28.5" y2="455.3" stroke="#231f20" stroke-width="1.1"/>
<text x="22.6" y="457.57" font-size="6.4" text-anchor="end" fill="#3a3a3a" stroke="#3a3a3a" stroke-width="0.12" textLength="6.8" lengthAdjust="spacingAndGlyphs">15</text>
<line x1="25.7" y1="468.9" x2="28.5" y2="468.9" stroke="#231f20" stroke-width="1.1"/>
<text x="22.6" y="471.17" font-size="6.4" text-anchor="end" fill="#3a3a3a" stroke="#3a3a3a" stroke-width="0.12" textLength="6.8" lengthAdjust="spacingAndGlyphs">10</text>
<line x1="25.7" y1="482.5" x2="28.5" y2="482.5" stroke="#231f20" stroke-width="1.1"/>
<text x="22.6" y="484.77" font-size="6.4" text-anchor="end" fill="#3a3a3a" stroke="#3a3a3a" stroke-width="0.12" textLength="3.4" lengthAdjust="spacingAndGlyphs">5</text>
<line x1="25.7" y1="496.2" x2="28.5" y2="496.2" stroke="#231f20" stroke-width="1.1"/>
<text x="22.6" y="498.47" font-size="6.4" text-anchor="end" fill="#3a3a3a" stroke="#3a3a3a" stroke-width="0.12" textLength="3.4" lengthAdjust="spacingAndGlyphs">0</text>
<line x1="28.5" y1="496.2" x2="28.5" y2="498.8" stroke="#231f20" stroke-width="1.1"/>
<text x="28.5" y="507.78" font-size="6.7" text-anchor="middle" fill="#3a3a3a" stroke="#3a3a3a" stroke-width="0.12" textLength="3.55" lengthAdjust="spacingAndGlyphs">0</text>
<line x1="46.4" y1="496.2" x2="46.4" y2="498.8" stroke="#231f20" stroke-width="1.1"/>
<text x="46.4" y="507.78" font-size="6.7" text-anchor="middle" fill="#3a3a3a" stroke="#3a3a3a" stroke-width="0.12" textLength="7.1" lengthAdjust="spacingAndGlyphs">20</text>
<line x1="64.4" y1="496.2" x2="64.4" y2="498.8" stroke="#231f20" stroke-width="1.1"/>
<text x="64.4" y="507.78" font-size="6.7" text-anchor="middle" fill="#3a3a3a" stroke="#3a3a3a" stroke-width="0.12" textLength="7.1" lengthAdjust="spacingAndGlyphs">40</text>
<line x1="82.6" y1="496.2" x2="82.6" y2="498.8" stroke="#231f20" stroke-width="1.1"/>
<text x="82.6" y="507.78" font-size="6.7" text-anchor="middle" fill="#3a3a3a" stroke="#3a3a3a" stroke-width="0.12" textLength="7.1" lengthAdjust="spacingAndGlyphs">60</text>
<path d="M28.8 481.5 L30.09 480.85 L31.86 480 L33.96 478.97 L36.27 477.78 L38.66 476.45 L41 475 L43.32 473.38 L45.74 471.56 L48.23 469.59 L50.79 467.56 L53.38 465.5 L56 463.5 L58.85 461.39 L62 459.09 L65.19 456.78 L68.17 454.63 L70.69 452.81 L72.5 451.5" fill="none" stroke="#9a2a52" stroke-width="0.95"/>
<path d="M28.8 488 L30.09 487.14 L31.86 485.94 L33.96 484.53 L36.27 483 L38.66 481.45 L41 480 L43.32 478.58 L45.74 477.09 L48.23 475.59 L50.79 474.13 L53.38 472.75 L56 471.5 L58.85 470.35 L62 469.24 L65.19 468.22 L68.17 467.31 L70.69 466.56 L72.5 466" fill="none" stroke="#5e3a6e" stroke-width="0.95"/>
<line x1="28.8" y1="484" x2="72.5" y2="459" stroke="#e42a38" stroke-width="1.25"/>
<g fill="none" stroke="#2a2a2a" stroke-width="0.85">
<circle cx="73.2" cy="448.5" r="1.6"/>
<circle cx="58" cy="462.6" r="1.6"/>
<circle cx="61" cy="466.6" r="1.6"/>
<circle cx="55.7" cy="468" r="1.6"/>
<circle cx="34.1" cy="468" r="1.6"/>
<circle cx="37.5" cy="469.3" r="1.6"/>
<circle cx="36.2" cy="471.3" r="1.6"/>
<circle cx="45.3" cy="470.3" r="1.6"/>
<circle cx="55" cy="472" r="1.6"/>
<circle cx="67.1" cy="470.7" r="1.6"/>
<circle cx="64.1" cy="474" r="1.6"/>
<circle cx="35.5" cy="475.4" r="1.6"/>
<circle cx="50.3" cy="477.8" r="1.6"/>
<circle cx="37.5" cy="478.7" r="1.6"/>
<circle cx="30.1" cy="482.8" r="1.6"/>
<circle cx="34.8" cy="480.8" r="1.6"/>
<circle cx="36.2" cy="482.1" r="1.6"/>
<circle cx="36.8" cy="484.8" r="1.6"/>
<circle cx="28.7" cy="485.5" r="1.6"/>
<circle cx="32.8" cy="488.8" r="1.6"/>
<circle cx="36.8" cy="492.9" r="1.6"/>
<circle cx="28.7" cy="492.9" r="1.6"/>
</g>
<text x="31.4" y="443.9" font-size="5.7" fill="#3a3a3a" stroke="#3a3a3a" stroke-width="0.12" textLength="22.5" lengthAdjust="spacingAndGlyphs"><tspan font-style="italic">r</tspan>=0.7623</text>
<text x="31.7" y="449.5" font-size="5.7" fill="#3a3a3a" stroke="#3a3a3a" stroke-width="0.12" textLength="25.5" lengthAdjust="spacingAndGlyphs"><tspan font-style="italic">P</tspan> &lt; 0.0001</text>
<text x="6.7" y="469.99" font-size="7.3" text-anchor="middle" fill="#3a3a3a" stroke="#3a3a3a" stroke-width="0.28" textLength="33.3" lengthAdjust="spacingAndGlyphs" transform="rotate(-90 6.7 467.4)">GARP<tspan dy="-2.2" font-size="4.6">+</tspan><tspan dy="2.2"> (%)</tspan></text>
<text x="57.75" y="519.61" font-size="8.2" text-anchor="middle" fill="#3a3a3a" stroke="#3a3a3a" stroke-width="0.28" textLength="67.3" lengthAdjust="spacingAndGlyphs">Active TGF-β1 (ng/mL)</text>
<text x="94.4" y="430.6" font-size="11" fill="#000" font-weight="bold" textLength="3.3" lengthAdjust="spacingAndGlyphs">I</text>
<line x1="137.3" y1="439.4" x2="137.3" y2="496.85" stroke="#231f20" stroke-width="1.3"/>
<line x1="136.65" y1="496.2" x2="194.3" y2="496.2" stroke="#231f20" stroke-width="1.3"/>
<line x1="134.5" y1="441.7" x2="137.3" y2="441.7" stroke="#231f20" stroke-width="1.1"/>
<text x="131.2" y="443.97" font-size="6.4" text-anchor="end" fill="#3a3a3a" stroke="#3a3a3a" stroke-width="0.12" textLength="13.6" lengthAdjust="spacingAndGlyphs">2000</text>
<line x1="134.5" y1="455.4" x2="137.3" y2="455.4" stroke="#231f20" stroke-width="1.1"/>
<text x="131.2" y="457.67" font-size="6.4" text-anchor="end" fill="#3a3a3a" stroke="#3a3a3a" stroke-width="0.12" textLength="13.6" lengthAdjust="spacingAndGlyphs">1500</text>
<line x1="134.5" y1="468.8" x2="137.3" y2="468.8" stroke="#231f20" stroke-width="1.1"/>
<text x="131.2" y="471.07" font-size="6.4" text-anchor="end" fill="#3a3a3a" stroke="#3a3a3a" stroke-width="0.12" textLength="13.6" lengthAdjust="spacingAndGlyphs">1000</text>
<line x1="134.5" y1="482.4" x2="137.3" y2="482.4" stroke="#231f20" stroke-width="1.1"/>
<text x="131.2" y="484.67" font-size="6.4" text-anchor="end" fill="#3a3a3a" stroke="#3a3a3a" stroke-width="0.12" textLength="10.2" lengthAdjust="spacingAndGlyphs">500</text>
<line x1="134.5" y1="496.2" x2="137.3" y2="496.2" stroke="#231f20" stroke-width="1.1"/>
<text x="131.2" y="498.47" font-size="6.4" text-anchor="end" fill="#3a3a3a" stroke="#3a3a3a" stroke-width="0.12" textLength="3.4" lengthAdjust="spacingAndGlyphs">0</text>
<line x1="137.3" y1="496.2" x2="137.3" y2="498.8" stroke="#231f20" stroke-width="1.1"/>
<text x="137.3" y="507.78" font-size="6.7" text-anchor="middle" fill="#3a3a3a" stroke="#3a3a3a" stroke-width="0.12" textLength="3.55" lengthAdjust="spacingAndGlyphs">0</text>
<line x1="155.5" y1="496.2" x2="155.5" y2="498.8" stroke="#231f20" stroke-width="1.1"/>
<text x="155.5" y="507.78" font-size="6.7" text-anchor="middle" fill="#3a3a3a" stroke="#3a3a3a" stroke-width="0.12" textLength="7.1" lengthAdjust="spacingAndGlyphs">20</text>
<line x1="173.6" y1="496.2" x2="173.6" y2="498.8" stroke="#231f20" stroke-width="1.1"/>
<text x="173.6" y="507.78" font-size="6.7" text-anchor="middle" fill="#3a3a3a" stroke="#3a3a3a" stroke-width="0.12" textLength="7.1" lengthAdjust="spacingAndGlyphs">40</text>
<line x1="191.8" y1="496.2" x2="191.8" y2="498.8" stroke="#231f20" stroke-width="1.1"/>
<text x="191.8" y="507.78" font-size="6.7" text-anchor="middle" fill="#3a3a3a" stroke="#3a3a3a" stroke-width="0.12" textLength="7.1" lengthAdjust="spacingAndGlyphs">60</text>
<path d="M137.8 467 L138.94 466.76 L140.45 466.46 L142.28 466.09 L144.35 465.65 L146.61 465.12 L149 464.5 L151.64 463.78 L154.59 462.97 L157.73 462.08 L160.93 461.11 L164.07 460.08 L167 459 L169.91 457.74 L172.93 456.28 L175.88 454.76 L178.57 453.31 L180.84 452.08 L182.5 451.2" fill="none" stroke="#9a2a52" stroke-width="0.95"/>
<path d="M137.8 473 L138.97 472.64 L140.56 472.15 L142.46 471.56 L144.57 470.94 L146.78 470.34 L149 469.8 L151.24 469.32 L153.59 468.86 L156.04 468.41 L158.6 467.98 L161.25 467.57 L164 467.2 L167.09 466.84 L170.59 466.5 L174.19 466.19 L177.57 465.91 L180.45 465.67 L182.5 465.5" fill="none" stroke="#5e3a6e" stroke-width="0.95"/>
<line x1="137.8" y1="470.2" x2="182.5" y2="458.2" stroke="#e42a38" stroke-width="1.25"/>
<g fill="none" stroke="#2a2a2a" stroke-width="0.85">
<circle cx="173.3" cy="450.5" r="1.6"/>
<circle cx="175.8" cy="457.2" r="1.6"/>
<circle cx="167" cy="459.2" r="1.6"/>
<circle cx="170.4" cy="460.3" r="1.6"/>
<circle cx="166.3" cy="461.2" r="1.6"/>
<circle cx="145.9" cy="459.2" r="1.6"/>
<circle cx="145.9" cy="461.2" r="1.6"/>
<circle cx="144.1" cy="463.9" r="1.6"/>
<circle cx="144.8" cy="465.3" r="1.6"/>
<circle cx="181.8" cy="466.9" r="1.6"/>
<circle cx="146.8" cy="467.3" r="1.6"/>
<circle cx="138.1" cy="466.6" r="1.6"/>
<circle cx="142.8" cy="469.3" r="1.6"/>
<circle cx="140.1" cy="470.7" r="1.6"/>
<circle cx="143.5" cy="471.3" r="1.6"/>
<circle cx="137.4" cy="473.4" r="1.6"/>
<circle cx="137.4" cy="474.7" r="1.6"/>
<circle cx="154.2" cy="475.4" r="1.6"/>
<circle cx="159.6" cy="473.8" r="1.6"/>
<circle cx="145.5" cy="478.3" r="1.6"/>
<circle cx="146.2" cy="481.8" r="1.6"/>
</g>
<text x="140.2" y="443.9" font-size="5.7" fill="#3a3a3a" stroke="#3a3a3a" stroke-width="0.12" textLength="21.2" lengthAdjust="spacingAndGlyphs"><tspan font-style="italic">r</tspan>=0.5121</text>
<text x="140.5" y="449.5" font-size="5.7" fill="#3a3a3a" stroke="#3a3a3a" stroke-width="0.12" textLength="25.5" lengthAdjust="spacingAndGlyphs"><tspan font-style="italic">P</tspan> = 0.0125</text>
<text x="99.4" y="469.99" font-size="7.3" text-anchor="middle" fill="#3a3a3a" stroke="#3a3a3a" stroke-width="0.28" textLength="58.5" lengthAdjust="spacingAndGlyphs" transform="rotate(-90 99.4 467.4)">GARP expression in</text>
<text x="108.7" y="469.99" font-size="7.3" text-anchor="middle" fill="#3a3a3a" stroke="#3a3a3a" stroke-width="0.28" textLength="39" lengthAdjust="spacingAndGlyphs" transform="rotate(-90 108.7 467.4)">CD4<tspan dy="-2.2" font-size="4.6">+</tspan><tspan dy="2.2"> T (MFI)</tspan></text>
<text x="166.55" y="519.61" font-size="8.2" text-anchor="middle" fill="#3a3a3a" stroke="#3a3a3a" stroke-width="0.28" textLength="67.3" lengthAdjust="spacingAndGlyphs">Active TGF-β1 (ng/mL)</text>
<text x="203.8" y="430.6" font-size="11" fill="#000" font-weight="bold" textLength="6.61" lengthAdjust="spacingAndGlyphs">J</text>
<line x1="246.8" y1="439.4" x2="246.8" y2="496.85" stroke="#231f20" stroke-width="1.3"/>
<line x1="246.15" y1="496.2" x2="303.5" y2="496.2" stroke="#231f20" stroke-width="1.3"/>
<line x1="244" y1="441.7" x2="246.8" y2="441.7" stroke="#231f20" stroke-width="1.1"/>
<text x="240.6" y="443.97" font-size="6.4" text-anchor="end" fill="#3a3a3a" stroke="#3a3a3a" stroke-width="0.12" textLength="13.6" lengthAdjust="spacingAndGlyphs">1500</text>
<line x1="244" y1="459.9" x2="246.8" y2="459.9" stroke="#231f20" stroke-width="1.1"/>
<text x="240.6" y="462.17" font-size="6.4" text-anchor="end" fill="#3a3a3a" stroke="#3a3a3a" stroke-width="0.12" textLength="13.6" lengthAdjust="spacingAndGlyphs">1000</text>
<line x1="244" y1="478.1" x2="246.8" y2="478.1" stroke="#231f20" stroke-width="1.1"/>
<text x="240.6" y="480.37" font-size="6.4" text-anchor="end" fill="#3a3a3a" stroke="#3a3a3a" stroke-width="0.12" textLength="10.2" lengthAdjust="spacingAndGlyphs">500</text>
<line x1="244" y1="496.2" x2="246.8" y2="496.2" stroke="#231f20" stroke-width="1.1"/>
<text x="240.6" y="498.47" font-size="6.4" text-anchor="end" fill="#3a3a3a" stroke="#3a3a3a" stroke-width="0.12" textLength="3.4" lengthAdjust="spacingAndGlyphs">0</text>
<line x1="246.8" y1="496.2" x2="246.8" y2="498.8" stroke="#231f20" stroke-width="1.1"/>
<text x="246.8" y="507.78" font-size="6.7" text-anchor="middle" fill="#3a3a3a" stroke="#3a3a3a" stroke-width="0.12" textLength="3.55" lengthAdjust="spacingAndGlyphs">0</text>
<line x1="264.9" y1="496.2" x2="264.9" y2="498.8" stroke="#231f20" stroke-width="1.1"/>
<text x="264.9" y="507.78" font-size="6.7" text-anchor="middle" fill="#3a3a3a" stroke="#3a3a3a" stroke-width="0.12" textLength="7.1" lengthAdjust="spacingAndGlyphs">20</text>
<line x1="282.9" y1="496.2" x2="282.9" y2="498.8" stroke="#231f20" stroke-width="1.1"/>
<text x="282.9" y="507.78" font-size="6.7" text-anchor="middle" fill="#3a3a3a" stroke="#3a3a3a" stroke-width="0.12" textLength="7.1" lengthAdjust="spacingAndGlyphs">40</text>
<line x1="301" y1="496.2" x2="301" y2="498.8" stroke="#231f20" stroke-width="1.1"/>
<text x="301" y="507.78" font-size="6.7" text-anchor="middle" fill="#3a3a3a" stroke="#3a3a3a" stroke-width="0.12" textLength="7.1" lengthAdjust="spacingAndGlyphs">60</text>
<path d="M247.2 477.6 L248.06 477.52 L249.25 477.42 L250.66 477.29 L252.17 477.15 L253.66 476.98 L255 476.8 L256.2 476.61 L257.36 476.4 L258.49 476.18 L259.62 475.92 L260.78 475.63 L262 475.3 L263.25 474.92 L264.52 474.51 L265.81 474.07 L267.15 473.59 L268.54 473.06 L270 472.5 L271.53 471.89 L273.12 471.24 L274.76 470.54 L276.46 469.82 L278.21 469.07 L280 468.3 L282 467.44 L284.24 466.48 L286.52 465.49 L288.67 464.56 L290.5 463.77 L291.8 463.2" fill="none" stroke="#9a2a52" stroke-width="0.95"/>
<path d="M247.2 486 L247.72 485.78 L248.44 485.48 L249.29 485.12 L250.21 484.74 L251.13 484.36 L252 484 L252.82 483.66 L253.65 483.31 L254.49 482.97 L255.33 482.63 L256.16 482.3 L257 482 L257.8 481.71 L258.56 481.44 L259.31 481.18 L260.11 480.94 L260.99 480.71 L262 480.5 L263.14 480.31 L264.37 480.13 L265.69 479.97 L267.07 479.83 L268.52 479.71 L270 479.6 L271.53 479.51 L273.12 479.45 L274.76 479.4 L276.46 479.36 L278.21 479.33 L280 479.3 L282 479.27 L284.24 479.25 L286.52 479.23 L288.67 479.22 L290.5 479.21 L291.8 479.2" fill="none" stroke="#5e3a6e" stroke-width="0.95"/>
<line x1="247.2" y1="483" x2="291.8" y2="471.5" stroke="#e42a38" stroke-width="1.25"/>
<g fill="none" stroke="#2a2a2a" stroke-width="0.85">
<circle cx="282.8" cy="459.2" r="1.6"/>
<circle cx="291.1" cy="468" r="1.6"/>
<circle cx="276.1" cy="468.4" r="1.6"/>
<circle cx="285.5" cy="470.7" r="1.6"/>
<circle cx="254.5" cy="466.2" r="1.6"/>
<circle cx="255.1" cy="469.7" r="1.6"/>
<circle cx="253.7" cy="471.6" r="1.6"/>
<circle cx="255.9" cy="474" r="1.6"/>
<circle cx="252.8" cy="476" r="1.6"/>
<circle cx="255.9" cy="477.8" r="1.6"/>
<circle cx="279.7" cy="480.8" r="1.6"/>
<circle cx="264" cy="482.8" r="1.6"/>
<circle cx="268.5" cy="483.2" r="1.6"/>
<circle cx="273" cy="485.9" r="1.6"/>
<circle cx="276.1" cy="489.1" r="1.6"/>
<circle cx="252.4" cy="488.6" r="1.6"/>
<circle cx="255.9" cy="489.5" r="1.6"/>
<circle cx="247.4" cy="483.5" r="1.6"/>
<circle cx="247.4" cy="485.5" r="1.6"/>
<circle cx="250.8" cy="484.1" r="1.6"/>
<circle cx="254.8" cy="481.4" r="1.6"/>
</g>
<text x="249.7" y="443.9" font-size="5.7" fill="#3a3a3a" stroke="#3a3a3a" stroke-width="0.12" textLength="22.5" lengthAdjust="spacingAndGlyphs"><tspan font-style="italic">r</tspan>=0.4163</text>
<text x="250" y="449.5" font-size="5.7" fill="#3a3a3a" stroke="#3a3a3a" stroke-width="0.12" textLength="25.5" lengthAdjust="spacingAndGlyphs"><tspan font-style="italic">P</tspan> = 0.0430</text>
<text x="209.5" y="469.99" font-size="7.3" text-anchor="middle" fill="#3a3a3a" stroke="#3a3a3a" stroke-width="0.28" textLength="58.5" lengthAdjust="spacingAndGlyphs" transform="rotate(-90 209.5 467.4)">GARP expression in</text>
<text x="218" y="469.99" font-size="7.3" text-anchor="middle" fill="#3a3a3a" stroke="#3a3a3a" stroke-width="0.28" textLength="67.2" lengthAdjust="spacingAndGlyphs" transform="rotate(-90 218 467.4)">CD41a<tspan dy="-2.2" font-size="4.6">+</tspan><tspan dy="2.2"> platelet (MFI)</tspan></text>
<text x="276.05" y="519.61" font-size="8.2" text-anchor="middle" fill="#3a3a3a" stroke="#3a3a3a" stroke-width="0.28" textLength="67.3" lengthAdjust="spacingAndGlyphs">Active TGF-β1 (ng/mL)</text>
<text x="313.2" y="430.6" font-size="11" fill="#000" font-weight="bold" textLength="8.58" lengthAdjust="spacingAndGlyphs">K</text>
<line x1="352.5" y1="439.4" x2="352.5" y2="496.85" stroke="#231f20" stroke-width="1.3"/>
<line x1="351.85" y1="496.2" x2="408.8" y2="496.2" stroke="#231f20" stroke-width="1.3"/>
<line x1="349.7" y1="441.8" x2="352.5" y2="441.8" stroke="#231f20" stroke-width="1.1"/>
<text x="345.4" y="444.07" font-size="6.4" text-anchor="end" fill="#3a3a3a" stroke="#3a3a3a" stroke-width="0.12" textLength="10.2" lengthAdjust="spacingAndGlyphs">500</text>
<line x1="349.7" y1="452.7" x2="352.5" y2="452.7" stroke="#231f20" stroke-width="1.1"/>
<text x="345.4" y="454.97" font-size="6.4" text-anchor="end" fill="#3a3a3a" stroke="#3a3a3a" stroke-width="0.12" textLength="10.2" lengthAdjust="spacingAndGlyphs">400</text>
<line x1="349.7" y1="463.5" x2="352.5" y2="463.5" stroke="#231f20" stroke-width="1.1"/>
<text x="345.4" y="465.77" font-size="6.4" text-anchor="end" fill="#3a3a3a" stroke="#3a3a3a" stroke-width="0.12" textLength="10.2" lengthAdjust="spacingAndGlyphs">300</text>
<line x1="349.7" y1="474.4" x2="352.5" y2="474.4" stroke="#231f20" stroke-width="1.1"/>
<text x="345.4" y="476.67" font-size="6.4" text-anchor="end" fill="#3a3a3a" stroke="#3a3a3a" stroke-width="0.12" textLength="10.2" lengthAdjust="spacingAndGlyphs">200</text>
<line x1="349.7" y1="485.2" x2="352.5" y2="485.2" stroke="#231f20" stroke-width="1.1"/>
<text x="345.4" y="487.47" font-size="6.4" text-anchor="end" fill="#3a3a3a" stroke="#3a3a3a" stroke-width="0.12" textLength="10.2" lengthAdjust="spacingAndGlyphs">100</text>
<line x1="349.7" y1="496.2" x2="352.5" y2="496.2" stroke="#231f20" stroke-width="1.1"/>
<text x="345.4" y="498.47" font-size="6.4" text-anchor="end" fill="#3a3a3a" stroke="#3a3a3a" stroke-width="0.12" textLength="3.4" lengthAdjust="spacingAndGlyphs">0</text>
<line x1="352.5" y1="496.2" x2="352.5" y2="498.8" stroke="#231f20" stroke-width="1.1"/>
<text x="352.5" y="507.78" font-size="6.7" text-anchor="middle" fill="#3a3a3a" stroke="#3a3a3a" stroke-width="0.12" textLength="3.55" lengthAdjust="spacingAndGlyphs">0</text>
<line x1="370.5" y1="496.2" x2="370.5" y2="498.8" stroke="#231f20" stroke-width="1.1"/>
<text x="370.5" y="507.78" font-size="6.7" text-anchor="middle" fill="#3a3a3a" stroke="#3a3a3a" stroke-width="0.12" textLength="7.1" lengthAdjust="spacingAndGlyphs">20</text>
<line x1="388.3" y1="496.2" x2="388.3" y2="498.8" stroke="#231f20" stroke-width="1.1"/>
<text x="388.3" y="507.78" font-size="6.7" text-anchor="middle" fill="#3a3a3a" stroke="#3a3a3a" stroke-width="0.12" textLength="7.1" lengthAdjust="spacingAndGlyphs">40</text>
<line x1="406.3" y1="496.2" x2="406.3" y2="498.8" stroke="#231f20" stroke-width="1.1"/>
<text x="406.3" y="507.78" font-size="6.7" text-anchor="middle" fill="#3a3a3a" stroke="#3a3a3a" stroke-width="0.12" textLength="7.1" lengthAdjust="spacingAndGlyphs">60</text>
<path d="M352.9 462 L354.18 461.91 L355.93 461.8 L358.01 461.66 L360.3 461.48 L362.68 461.27 L365 461 L367.31 460.7 L369.73 460.37 L372.23 460 L374.78 459.57 L377.38 459.08 L380 458.5 L382.85 457.75 L386 456.83 L389.19 455.84 L392.17 454.89 L394.69 454.07 L396.5 453.5" fill="none" stroke="#9a2a52" stroke-width="0.95"/>
<path d="M352.9 470.5 L354.18 470.27 L355.93 469.96 L358.01 469.58 L360.3 469.19 L362.68 468.82 L365 468.5 L367.31 468.22 L369.73 467.94 L372.23 467.69 L374.78 467.47 L377.38 467.3 L380 467.2 L382.85 467.2 L386 467.28 L389.19 467.42 L392.17 467.57 L394.69 467.71 L396.5 467.8" fill="none" stroke="#5e3a6e" stroke-width="0.95"/>
<line x1="352.9" y1="466.5" x2="396.5" y2="461" stroke="#e42a38" stroke-width="1.25"/>
<g fill="none" stroke="#2a2a2a" stroke-width="0.85">
<circle cx="397.2" cy="454.9" r="1.6"/>
<circle cx="369.2" cy="455.5" r="1.6"/>
<circle cx="374.3" cy="456.5" r="1.6"/>
<circle cx="356.4" cy="456.5" r="1.6"/>
<circle cx="360.9" cy="456.5" r="1.6"/>
<circle cx="361.2" cy="459" r="1.6"/>
<circle cx="385.1" cy="460.3" r="1.6"/>
<circle cx="359.8" cy="460.6" r="1.6"/>
<circle cx="358.5" cy="462.6" r="1.6"/>
<circle cx="360.5" cy="463.9" r="1.6"/>
<circle cx="359.8" cy="465.3" r="1.6"/>
<circle cx="361.2" cy="467" r="1.6"/>
<circle cx="381.3" cy="465.3" r="1.6"/>
<circle cx="382" cy="466.6" r="1.6"/>
<circle cx="388.1" cy="468" r="1.6"/>
<circle cx="358.5" cy="469.3" r="1.6"/>
<circle cx="360.9" cy="472" r="1.6"/>
<circle cx="391" cy="472.7" r="1.6"/>
<circle cx="352.4" cy="474" r="1.6"/>
<circle cx="352.4" cy="475.4" r="1.6"/>
</g>
<text x="355.4" y="443.9" font-size="5.7" fill="#3a3a3a" stroke="#3a3a3a" stroke-width="0.12" textLength="22.5" lengthAdjust="spacingAndGlyphs"><tspan font-style="italic">r</tspan>=0.2611</text>
<text x="355.7" y="449.5" font-size="5.7" fill="#3a3a3a" stroke="#3a3a3a" stroke-width="0.12" textLength="25.5" lengthAdjust="spacingAndGlyphs"><tspan font-style="italic">P</tspan> = 0.2406</text>
<text x="318.3" y="469.99" font-size="7.3" text-anchor="middle" fill="#3a3a3a" stroke="#3a3a3a" stroke-width="0.28" textLength="58.5" lengthAdjust="spacingAndGlyphs" transform="rotate(-90 318.3 467.4)">GARP expression in</text>
<text x="327.5" y="469.99" font-size="7.3" text-anchor="middle" fill="#3a3a3a" stroke="#3a3a3a" stroke-width="0.28" textLength="38.5" lengthAdjust="spacingAndGlyphs" transform="rotate(-90 327.5 467.4)">CD8<tspan dy="-2.2" font-size="4.6">+</tspan><tspan dy="2.2"> T (MFI)</tspan></text>
<text x="381.75" y="519.61" font-size="8.2" text-anchor="middle" fill="#3a3a3a" stroke="#3a3a3a" stroke-width="0.28" textLength="67.3" lengthAdjust="spacingAndGlyphs">Active TGF-β1 (ng/mL)</text>
<text x="418.4" y="430.6" font-size="11" fill="#000" font-weight="bold" textLength="7.26" lengthAdjust="spacingAndGlyphs">L</text>
<line x1="457.4" y1="439.4" x2="457.4" y2="496.85" stroke="#231f20" stroke-width="1.3"/>
<line x1="456.75" y1="496.2" x2="514.4" y2="496.2" stroke="#231f20" stroke-width="1.3"/>
<line x1="454.6" y1="441.8" x2="457.4" y2="441.8" stroke="#231f20" stroke-width="1.1"/>
<text x="451.1" y="444.07" font-size="6.4" text-anchor="end" fill="#3a3a3a" stroke="#3a3a3a" stroke-width="0.12" textLength="10.2" lengthAdjust="spacingAndGlyphs">600</text>
<line x1="454.6" y1="459.9" x2="457.4" y2="459.9" stroke="#231f20" stroke-width="1.1"/>
<text x="451.1" y="462.17" font-size="6.4" text-anchor="end" fill="#3a3a3a" stroke="#3a3a3a" stroke-width="0.12" textLength="10.2" lengthAdjust="spacingAndGlyphs">400</text>
<line x1="454.6" y1="478.1" x2="457.4" y2="478.1" stroke="#231f20" stroke-width="1.1"/>
<text x="451.1" y="480.37" font-size="6.4" text-anchor="end" fill="#3a3a3a" stroke="#3a3a3a" stroke-width="0.12" textLength="10.2" lengthAdjust="spacingAndGlyphs">200</text>
<line x1="454.6" y1="496.2" x2="457.4" y2="496.2" stroke="#231f20" stroke-width="1.1"/>
<text x="451.1" y="498.47" font-size="6.4" text-anchor="end" fill="#3a3a3a" stroke="#3a3a3a" stroke-width="0.12" textLength="3.4" lengthAdjust="spacingAndGlyphs">0</text>
<line x1="457.4" y1="496.2" x2="457.4" y2="498.8" stroke="#231f20" stroke-width="1.1"/>
<text x="457.4" y="507.78" font-size="6.7" text-anchor="middle" fill="#3a3a3a" stroke="#3a3a3a" stroke-width="0.12" textLength="3.55" lengthAdjust="spacingAndGlyphs">0</text>
<line x1="475.5" y1="496.2" x2="475.5" y2="498.8" stroke="#231f20" stroke-width="1.1"/>
<text x="475.5" y="507.78" font-size="6.7" text-anchor="middle" fill="#3a3a3a" stroke="#3a3a3a" stroke-width="0.12" textLength="7.1" lengthAdjust="spacingAndGlyphs">20</text>
<line x1="493.7" y1="496.2" x2="493.7" y2="498.8" stroke="#231f20" stroke-width="1.1"/>
<text x="493.7" y="507.78" font-size="6.7" text-anchor="middle" fill="#3a3a3a" stroke="#3a3a3a" stroke-width="0.12" textLength="7.1" lengthAdjust="spacingAndGlyphs">40</text>
<line x1="511.9" y1="496.2" x2="511.9" y2="498.8" stroke="#231f20" stroke-width="1.1"/>
<text x="511.9" y="507.78" font-size="6.7" text-anchor="middle" fill="#3a3a3a" stroke="#3a3a3a" stroke-width="0.12" textLength="7.1" lengthAdjust="spacingAndGlyphs">60</text>
<path d="M457.8 466.5 L459.09 466.19 L460.86 465.78 L462.96 465.28 L465.27 464.72 L467.66 464.12 L470 463.5 L472.31 462.85 L474.72 462.16 L477.2 461.43 L479.75 460.65 L482.35 459.84 L485 459 L487.91 458.04 L491.15 456.95 L494.44 455.82 L497.52 454.75 L500.13 453.85 L502 453.2" fill="none" stroke="#9a2a52" stroke-width="0.95"/>
<path d="M457.8 472 L459.09 471.56 L460.86 470.93 L462.96 470.19 L465.27 469.43 L467.66 468.74 L470 468.2 L472.31 467.81 L474.72 467.51 L477.2 467.27 L479.75 467.08 L482.35 466.93 L485 466.8 L487.91 466.71 L491.15 466.67 L494.44 466.66 L497.52 466.68 L500.13 466.7 L502 466.7" fill="none" stroke="#5e3a6e" stroke-width="0.95"/>
<line x1="457.8" y1="469.5" x2="502" y2="460" stroke="#e42a38" stroke-width="1.25"/>
<g fill="none" stroke="#2a2a2a" stroke-width="0.85">
<circle cx="502.2" cy="455.2" r="1.6"/>
<circle cx="493.7" cy="455.9" r="1.6"/>
<circle cx="490.4" cy="457.9" r="1.6"/>
<circle cx="496" cy="458.1" r="1.6"/>
<circle cx="458.7" cy="456.5" r="1.6"/>
<circle cx="464.8" cy="458.1" r="1.6"/>
<circle cx="466.4" cy="458.1" r="1.6"/>
<circle cx="465.5" cy="459.9" r="1.6"/>
<circle cx="466.8" cy="461.2" r="1.6"/>
<circle cx="464.1" cy="465.3" r="1.6"/>
<circle cx="479.6" cy="466" r="1.6"/>
<circle cx="483.9" cy="464.3" r="1.6"/>
<circle cx="487" cy="468.6" r="1.6"/>
<circle cx="466.2" cy="470.3" r="1.6"/>
<circle cx="458.3" cy="470.3" r="1.6"/>
<circle cx="462.8" cy="472" r="1.6"/>
<circle cx="465.9" cy="473" r="1.6"/>
<circle cx="474.9" cy="472" r="1.6"/>
<circle cx="458.1" cy="475.4" r="1.6"/>
<circle cx="463.5" cy="476" r="1.6"/>
<circle cx="466.8" cy="477.8" r="1.6"/>
<circle cx="487.4" cy="475.6" r="1.6"/>
</g>
<text x="460.3" y="443.9" font-size="5.7" fill="#3a3a3a" stroke="#3a3a3a" stroke-width="0.12" textLength="22.5" lengthAdjust="spacingAndGlyphs"><tspan font-style="italic">r</tspan>=0.3826</text>
<text x="460.6" y="449.5" font-size="5.7" fill="#3a3a3a" stroke="#3a3a3a" stroke-width="0.12" textLength="25.5" lengthAdjust="spacingAndGlyphs"><tspan font-style="italic">P</tspan> = 0.0650</text>
<text x="424" y="469.99" font-size="7.3" text-anchor="middle" fill="#3a3a3a" stroke="#3a3a3a" stroke-width="0.28" textLength="58.5" lengthAdjust="spacingAndGlyphs" transform="rotate(-90 424 467.4)">GARP expression in</text>
<text x="432.8" y="469.99" font-size="7.3" text-anchor="middle" fill="#3a3a3a" stroke="#3a3a3a" stroke-width="0.28" textLength="27.6" lengthAdjust="spacingAndGlyphs" transform="rotate(-90 432.8 467.4)">NK (MFI)</text>
<text x="486.65" y="519.61" font-size="8.2" text-anchor="middle" fill="#3a3a3a" stroke="#3a3a3a" stroke-width="0.28" textLength="67.3" lengthAdjust="spacingAndGlyphs">Active TGF-β1 (ng/mL)</text>
</svg>
</body></html>
